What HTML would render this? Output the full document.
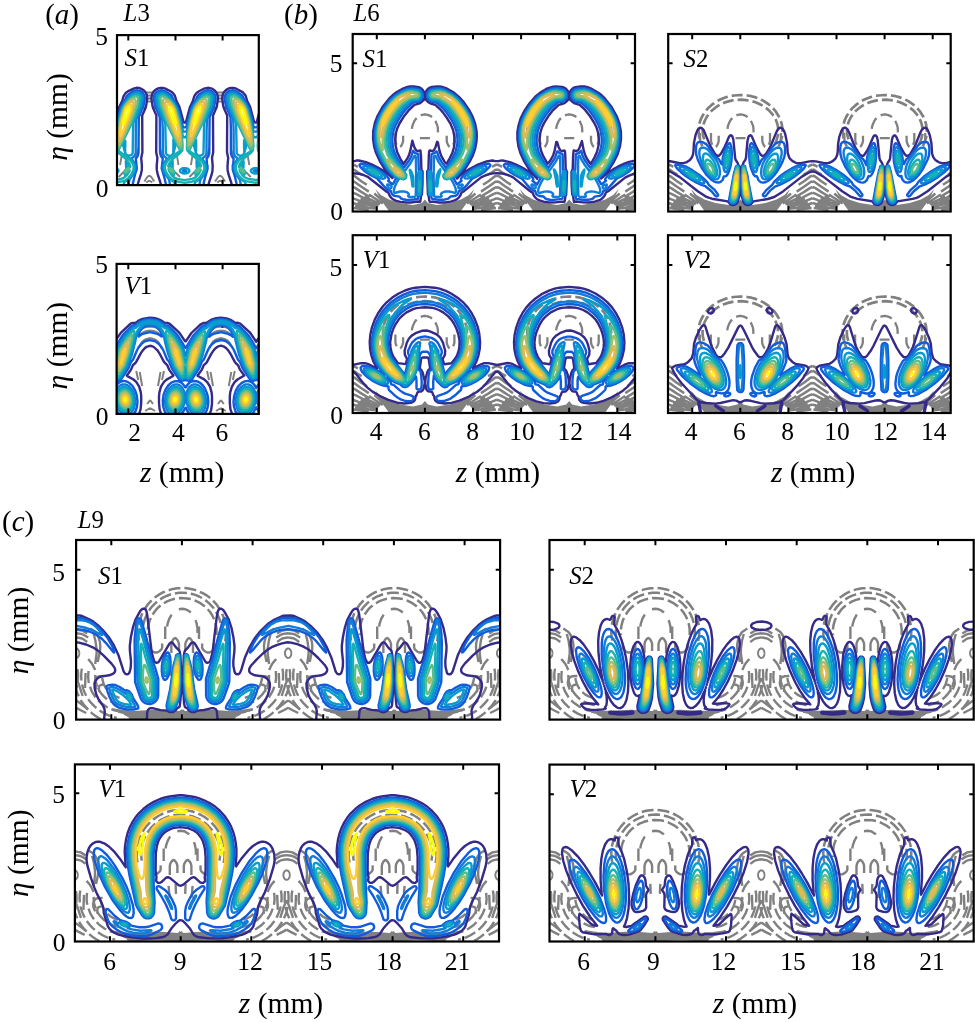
<!DOCTYPE html>
<html lang="en"><head><meta charset="utf-8"><title>Figure</title>
<style>html,body{margin:0;padding:0;background:#fff}svg{display:block}svg text{font-family:"Liberation Serif",serif}</style></head>
<body>
<svg width="975" height="1022" viewBox="0 0 975 1022" fill="#000">
<rect width="975" height="1022" fill="#fff"/>
<defs><clipPath id="cp_aS1"><rect x="117.0" y="35.1" width="141.8" height="150.0"/></clipPath><clipPath id="cp_aV1"><rect x="116.6" y="263.9" width="142.2" height="150.0"/></clipPath><clipPath id="cp_bS1"><rect x="352.7" y="34.0" width="282.3" height="177.5"/></clipPath><clipPath id="cp_bS2"><rect x="668.2" y="34.0" width="282.5" height="177.5"/></clipPath><clipPath id="cp_bV1"><rect x="352.7" y="235.2" width="282.3" height="177.8"/></clipPath><clipPath id="cp_bV2"><rect x="668.0" y="235.2" width="282.7" height="177.8"/></clipPath><clipPath id="cp_cS1"><rect x="76.1" y="540.0" width="424.0" height="179.6"/></clipPath><clipPath id="cp_cS2"><rect x="549.5" y="540.0" width="424.2" height="179.6"/></clipPath><clipPath id="cp_cV1"><rect x="74.9" y="764.4" width="424.1" height="177.1"/></clipPath><clipPath id="cp_cV2"><rect x="549.5" y="764.6" width="424.2" height="176.9"/></clipPath></defs>
<g clip-path="url(#cp_aS1)" fill="none" stroke-linejoin="round">
<path d="M152.9 92.5l-7.2 0M145.7 92.5l7.2 0M223.7 92.5l-7.2 0M216.5 92.5l7.2 0M152.9 95.5l-7.2 0M145.7 95.5l7.2 0M223.7 95.5l-7.2 0M216.5 95.5l7.2 0M152.9 98.5l-7.2 0M145.7 98.5l7.2 0M223.7 98.5l-7.2 0M216.5 98.5l7.2 0M152.9 101.5l-7.2 0M145.7 101.5l7.2 0M223.7 101.5l-7.2 0M216.5 101.5l7.2 0M146.3 107.5l-4 1M152.3 107.5l4 1M217.1 107.5l-4 1M223.1 107.5l4 1M149.3 175.5l-2 1.5-3 4.5M149.3 175.5l2 1.5 3 4.5M220.1 175.5l-2 1.5-3 4.5M220.1 175.5l2 1.5 3 4.5M149.3 180.5l-3 2M149.3 180.5l3 2M220.1 180.5l-3 2M220.1 180.5l3 2M121.6 156l-1.5 9M177 156l1.5 9M192.4 156l-1.5 9M247.8 156l1.5 9M129.6 163l-3.5 8M169 163l3.5 8M200.4 163l-3.5 8M239.8 163l3.5 8M123.6 172l-5 5M175 172l5 5M194.4 172l-5 5M245.8 172l5 5M265.2 172l-5 5M138.6 148l-3 10M160 148l3 10M209.4 148l-3 10M230.8 148l3 10M125.6 150l-2 8M173 150l2 8M196.4 150l-2 8M243.8 150l2 8" stroke="#808080" stroke-width="1.9"/><path d="M111 115.7l1.6 6.5 2.4 0.3 4.3-15.8 2.9-5.6 1.3-4.8 1.9-3 2.4-1.9 6.4-3.1 2.4-0.5 2.4 0.2 2.4 0.8 2.4 1.6 1.7 1.9 1.2 2.4 0.5 4-1.1 7.2-1 3.2-2.9 6.4 0.2 36.8-1.2 5.6 0.7 8-0.1 4-1 4.8-1.8 5.3-3.3 11.5M162.8 191.5l-3-10.9-2-5.9-1-4.8-0.1-4 0.7-8-1.2-5.6 0.2-36.8-3.2-7.2-0.7-2.4-1.2-8 0.9-4 1.5-2.4 2.1-1.9 2.4-1.2 2.4-0.5 2.4 0 2.4 0.7 5.6 2.9 1.6 1.2 2.2 2.8 1.7 5.6 2.9 5.6 4.1 15.2 0.3 0.6 1.6 0 0.8-1.2 3.6-13.8 3.1-6.4 1.1-4 1.1-2.4 1.5-1.8 2.4-1.7 4.8-2.5 4-0.9 4 0.8 3.2 2.1 2.2 3.2 0.9 4-1.3 8.8-3.8 8.8 0.2 36.8-1.2 5.6 0.7 8-0.2 4.8-0.9 4-2.2 6.6-2.8 10.2M233.6 191.5l-2.6-9.6-2.6-8-0.8-4-0.1-4 0.7-8-1.2-5.6 0.2-36.8-3.2-7.2-0.8-2.4-1-7.2 0.5-4 1.2-2.4 2.3-2.4 2.4-1.4 2.4-0.6 2.4 0 2.4 0.6 7.2 3.9 2.6 3.1 1.6 5.6 2.9 5.6 4.1 15.5 0.8 0.3 1.6 0 4.3-15.8 2.9-5.6 1.6-5.5" stroke="#352a87" stroke-width="2.4"/>
<path d="M111 122l0.8 4.2 0.8 1.2 3.2-0.2 1.3-6.9 3.5-12.8 2.1-4 2.6-4 1.3-3.2 1.4-1.6 5.4-3.6 2.4-0.7 1.6-0.1 2.4 0.5 1.6 0.8 1.6 1.5 1.4 2.4 0.4 3.2-1.3 7.2-4.7 11.2-0.3 36-0.9 3.2-1.8 2.4 1 9.6-0.4 2.4-0.5 0.8-1.7 6.2-3.1 13.8M167.5 191.5l-3-13.6-2.8-9.6 1.1-9.6-2.1-3.2-0.7-3.2-0.2-35.2-4.7-11.2-1.3-7.2 0.2-2.4 0.5-1.6 1.3-1.9 1.6-1.3 1.6-0.8 2.4-0.4 1.6 0.1 2.4 0.9 5.6 3.7 1 1.3 1.3 3.2 2.6 4 2.1 4 3.1 11.2 1.9 8.7 3.2 0 5.2-19.9 1.6-3.2 3.1-4.8 1.3-3.2 1.6-1.8 4.8-3.1 2.4-0.9 1.6-0.2 3.2 0.6 2.4 1.7 1.8 2.9 0.4 3.2-1.5 8-4.5 10.4-0.3 36-0.9 3.2-1.8 2.4 0.4 5.6 0.5 1.6 0 3.2-2.4 8-3.2 14.4M238.3 191.5l-3.3-14.7-2.2-6.9-0.1-4 0.6-2.4 0.3-4.8-1.8-2.4-0.9-3.2 0-24-0.4-12-4.6-11.2-1.3-7.2 0.4-3.2 1.2-2.2 1.6-1.6 2.4-1.1 2.4-0.3 1.6 0.2 2.4 1 5.6 4 1 1.6 0.9 2.4 2.6 4 2.1 4 3.3 12 1.3 6.7 0.8 1.2 3.2-0.2 1.3-6.9 3.2-12 1.4-3.2 2.1-3.3" stroke="#0f5cdd" stroke-width="2.4"/>
<path d="M111 126.9l0.8 4.3 0.8 0.4 3.2 0 2.1-10.5 3.8-13.6 2.7-4.8 4.9-6.4 3.3-2.9 1.6-0.9 2.4-0.6 2.4 0.4 1.6 0.8 1.6 1.6 0.7 1.6 0.2 2.4-1.4 7.2-5.5 13.6-0.4 10.4-0.1 23.2-0.5 1.6-1 1.6-2.4 1.9-0.2 0.5 3.1 4.8 0.8 2.4 0.2 2.4-0.6 2.4-1.5 3.2-4.1 5.6-2.1 12M113.4 169.9l-1.1 0.8 0.5 0.8 1.4 0.2 0.9-0.2 0.4-0.8-0.5-0.6-1.6-0.2zM184.6 169.8l-0.8 0.2-0.8 0.7 0.6 0.8 1 0.2 1.2-0.2 0.5-0.8-0.9-0.8-0.8-0.1zM255 169.9l-1.1 0.8 0.5 0.8 1.4 0.2 0.9-0.2 0.4-0.8-0.5-0.6-1.6-0.2zM171.2 191.5l-2.1-12-4.1-5.6-1.5-3.2-0.6-2.4 0.7-4 1.2-2.4 2.3-3.2-2.7-2.4-1-1.6-0.5-1.6-0.1-23.2-0.5-10.4-5.4-13.6-1.4-7.2 0.3-2.7 0.8-1.5 1.6-1.6 1.6-0.7 2.4-0.2 2.4 0.6 1.6 0.9 3.8 3.6 4.8 6.4 2.4 4.8 3.1 11.2 2.7 12.1 3.2 0 0.8-1.4 1.7-9.1 2.5-9.6 1-3.2 1.5-3.2 5.7-8 2.8-2.8 2.4-1.6 3.2-0.8 2.4 0.5 2.1 1.5 1.4 2.4 0.2 2.4-1.6 8-3.7 8.4-1.6 4.4-0.4 10.4-0.1 23.2-0.5 1.6-1 1.6-2.8 2.4 3.3 4.8 0.8 2.4 0.2 2.4-0.6 2.4-1.5 3.2-4 5.6-2.2 12M242 191.5l-2.2-12-2.5-3.2-1.9-3.2-1.7-4.8 0.2-2.4 0.8-2.4 3.1-4.8-2.8-2.6-1.3-3-0.1-23.2-0.4-10.4-5.5-13.6-1.4-7.2 0.2-2.4 0.7-1.6 1.6-1.6 1.5-0.8 2.3-0.4 2.4 0.5 1.6 0.8 4.2 3.9 4.8 6.4 2.4 4.8 3.5 12.8 1.9 10.1 0.8 0.4 3.2 0 2.1-10.5 2.5-9.6 1.3-4 2.1-3.9" stroke="#127dd8" stroke-width="2.4"/>
<path d="M111 130.8l0.8 5.9 0.8 0.5 3.2 0.1 2.8-16.2 3.6-12.8 2.1-4 3.5-4.7 4.8-4.8 3.2-1.3 2.4 0 1.6 0.8 1.1 1.2 0.7 1.6 0 1.6-1.4 7.2-6.8 16.8-0.4 8.8-0.3 21.6-0.9 1.5-0.8 0.6-2.4 0.5-0.5 0.6 3.5 4 2.1 3.2 0.9 2.4 0 3.2-1.5 4-2.8 4-3.3 3.3-2.8 1.5-1.2 9.6M173.4 139.4l0 13.8 2.4-8.9-1.6-3.5-0.7-0.5-0.1-0.9zM195.8 139.8l-2.2 4.5 2.2 8.1 0.3-3.3 0-8.8-0.3-0.5zM244.6 140l-0.5 0.3 0 7.2 0.5 4.2 1.9-6.6-0.2-1.6-1.7-3.5zM124.6 140.4l-1.7 3.9 1.7 6.6 0.5-1 0.2-4 0-4.8-0.7-0.7zM265.4 142l-0.9 2.3 0.9 3.8M125.4 152.6l0 1.3 0-1.3zM196.6 153.8l0 0.6 0-0.6zM243.8 153.5l0 0.6 0.3-0.2-0.3-0.4zM126.2 154.4l-0.1 0.3 0.4 0-0.3-0.3zM172.6 154.2l-0.4 0.5 0.5 0-0.1-0.5zM127 155.1l0 0.5 0.7-0.1-0.7-0.4zM198.2 155.4l0.4 0.1-0.4-0.1zM242.2 155.2l-0.6 0.3 0.6 0.1 0-0.4zM196.6 160.3l0 0.6 0-0.6zM126.2 161l-0.4 0.1 0.4 6.5 3-1.7-0.6-1.6-2.4-3.3zM172.6 161l-1.6 1.7-1.7 3.2 2.5 1.7 0.8-0.1 0-6.5zM243 161l-0.3 0.9-1.4 1.6-1.1 2.4 2.8 1.7 0.4-0.1 0.2-5.6-0.1-0.8-0.5-0.1zM197.4 161.5l-0.8 0.4 0.2 5.6 0.6 0.1 2.6-1.7-1-2.3-1.6-2.1zM172.6 167.5l0 0.8 0-0.8zM183 168.2l-1.6 0.7-1.2 1-0.1 1.6 1.3 1.2 2.4 0.8 2.4-0.1 1.6-0.5 1.5-1.4-0.1-1.6-1.4-1.2-2.4-0.6-2.4 0.1zM254.2 168.2l-2.4 0.9-1 1.6 0.8 1.6 1 0.6 1.6 0.6 2.4 0 2.4-0.9 1.1-1.1 0.1-0.8-0.2-0.8-1-0.9-2.4-0.9-2.4 0.1zM111 172.9l2.4 0.7 2.4-0.3 2-1 0.8-1.6-1-1.6-1.8-0.8-2.4-0.3-2.4 0.6M197.4 173.8l0 0.3 0-0.3zM243 173.8l-0.2 0.1 0.2 0.3 0.2-0.3-0.2-0.1zM125.4 174.6l-0.4 0.1 0 0.8 0.5 0 0.2-0.8-0.3-0.1zM172.6 174.4l0 0.5 1.1 0.6-0.1-0.8-1-0.3zM196.6 174.5l-0.8 0.2 0.8 0.2 0-0.4zM243.8 174.6l0 0.4 0.6-0.3-0.6-0.1zM195.8 174.9l0 0.6 0-0.6zM175.6 191.5l-1.2-9.6-1-0.3-1.6-1.1-3.6-3.4-2.7-4-1.5-4 0-3.2 0.9-2.4 1.4-2.4 4.2-4.8-0.3-0.6-1.6 0-1.6-0.9-1.1-1.7-0.6-29.6-2.2-6.4-4.9-12-1.2-6.4 0.3-2.4 1.1-1.6 2.2-1.2 1.6-0.1 2.4 0.6 3.2 2.4 3.6 3.9 2.4 3.2 2.6 4.8 2.3 8 1.3 4.8 3 16.1 3.2 0 0.8-2.6 2.4-13.5 2.8-10.4 1.5-4 3.7-5.7 4.8-5.2 2.4-1.7 3.2-0.7 1.6 0.3 1.7 1 1 1.6 0.3 2.4-1.4 7.2-4.7 11.2-2.2 6.4-0.6 29.6-1.3 1.9-1.6 0.7-1.6 0-0.3 0.6 3.1 3.2 2.3 3.2 1.3 3.2 0.2 2.4-1.3 4-2.5 4-3.6 3.7-2.4 1.7-0.8 0.2-1.2 9.6M246.4 191.5l-1.2-9.6-3-1.7-3.2-3.2-2.7-3.9-1.5-4 0-3.2 1-2.7 2-2.9 3.7-4-0.1-0.5-1.6-0.1-1.6-0.6-1.5-2-0.6-29.6-2.2-6.4-4.7-11.2-1.4-7.2 0-1.6 0.8-1.8 1.7-1.4 2.3-0.5 2.4 0.5 3.2 2.1 4 4.3 2.9 4 2.1 4 1.7 5.6 2.3 9.6 2.2 13.2 0.8 0.5 3.2 0.1 2.8-16.2 3.6-12.8 1.6-3.2" stroke="#079ccf" stroke-width="2.4"/>
<path d="M159.7 95.5l1.7-0.7 1.6 0 3.2 1.5 4.8 4.7 3.5 4.9 1.5 3.2 3.3 12 2.4 12.8 0.8 10.4 0 4-0.4 2.4-1.4 0.8 0.1 0.8-1 0.9-6.9 5.5-3.1 4-1.6 3.2 0.4 0.9 1.6 0.3 2.4 2 1.7 2.4 0.2 1.6-0.3 0.5-1.6-0.3-1.6-1.2-1.6-1.8-0.5 0.4 2.9 4.7 2.4 2.2 3.2 1.3 7.2 1.2 7.2-1.2 2.4-0.8 1.7-1 3.3-4 1-2.4-0.4-0.1-2.4 2.3-1.6 0.7-1-0.5 0.4-1.6 2.2-3 1.6-1.3 1.7-0.5 0.5-0.8-1.1-2.4-2.9-4-3-2.9-4.8-3.6-0.7-0.7 0.2-0.8-0.3-0.3-1.2-0.5-0.5-2.4 0.3-9.6 0.9-7.2 2-10.4 3.1-11.2 1.3-3.2 2.1-3.4 2.4-3 4.2-4 2.2-1.2 2.4-0.3 1.8 0.7 1.2 1.6 0 1.6-1.1 6.4-6.9 17.6-10.4 21.6-3.5 6.4 9.4 6.4 3.9 4.5 1.6 2.7 0.5 1.6 0.1 3.2-2.2 4.9-3.2 4.1-3.2 2.4-4 1.2-7.2 1.2-9.5-1.8-2.5-1.2-3.2-2.8-2.4-3.4-1.5-3-0.6-2.4 0-1.6 0.7-2.4 1.4-2.5 2.4-2.9 2.7-2.6 8.3-5.6-2.2-4-10.5-21.6-7.7-19.2-1.5-8 0.5-1.6 0.7-0.8zM111 135l0.8 10.9-0.4 4-0.4 1.1M265.4 139.8l-5.6 10.9 5.6 3.8M265.4 157l-4.8-3.7-1.1-1 0-0.8-1.4-0.8-0.4-4.8 0.8-12 1.9-10.4 3.3-12.8 1.7-4.2M168.6 168.9l0 0.7 0-0.7zM200.6 169.6l0 0.7 0-0.7zM111 179.6l4 0.4 5.6-1 3.2-1.1 3.2-2.8 2.7-4.4-0.3-0.5-2.4 2.4-1.6 0.9-0.8 0.1-0.5-0.5 0.3-1.6 1.6-2.4 2.6-2.1 0.8-0.2 0.8 0.2 0.1-1.1-1.5-3.2-3.1-4-7.5-6.1-0.3-1.1-1.4-0.8-0.4-4.8 0.8-12 3-15.2 3-10.4 1.7-3.2 4-5.2 3.8-3.6 1.8-1 2.4-0.5 1.6 0.3 1.4 1.2 0.5 1.6-1.2 7.2-6.9 17.6-10.4 21.6-3.4 6.4 8.8 6.1 4 4.2 1.6 2.5 0.8 1.9 0.3 2.1-0.3 2.4-1.6 3.5-1.6 2.4-2.6 2.9-2.2 1.6-3.2 1.1-8 1.5-3.2-0.6M265.4 181l-9.6 1.9-10-1.8-2.8-1.4-2-1.8-2.1-2.4-2.3-4.1-0.8-2.3-0.1-2.4 0.7-2.4 1.8-3 4-4.4 9.1-6.2-2-3.2-11.9-24.8-6.9-17.6-1.2-7.2 0.9-2.1 1.6-0.9 1.6-0.1 2.4 0.7 1.6 1.1 3.8 3.7 3.6 4.8 1.7 3.2 3 10.4 3 15.2 0.9 12-0.6 4.8-1.4 0.8 0 0.8-0.4 0.5-4.8 3.6-3.2 3.1-2.9 4-0.8 1.6-0.3 2.2 0.8-0.6 1.6 0.7 1.2 0.9 2 2.4 0.8 2.4-0.8 0.5-1.6-0.6-2.4-2.1-0.7-0.2-0.1-1-0.3 0.2 0.6 1.6 2 3.2 2.5 2.6 1.6 0.9 2.4 0.7 7.2 1.1 6.4-1 3.2-1.1" stroke="#15b1b4" stroke-width="2.4"/>
<path d="M133.4 97.1l2.4-0.7 1.9 0.7 0.3 0.8 0.1 1.6-0.8 5.6-7 18.4-10.5 22.5-1.6 2.4-0.8 0.2-0.5-1.9-0.1-2.4 0.7-10.4 2.4-12.8 3.4-12 1.6-3.2 2.9-4 2.4-2.4 3.2-2.4zM160.9 97.1l1.3-0.6 1.6 0.1 3.2 1.8 4 3.8 2.4 3.2 1.6 2.9 3.7 12.8 2 10.4 1 11.2 0 4-0.3 1.6-0.8 0.3-1.6-2.2-10.7-22.9-7-18.4-0.8-5.6 0-1.6 0.4-0.8zM204.2 97.1l2.8-0.7 1.6 0.9 0.2 3-0.7 4.8-7 18.4-10.1 21.7-1.6 2.8-0.8 0.7-0.8-1.1-0.2-2.5 0.7-11.2 2.4-12.8 3.1-11.2 1.4-3.2 3-4.3 2.4-2.5 3.6-2.8zM231.7 97.1l0.9-0.5 1.6-0.1 1.6 0.5 2.4 1.7 2.4 2.1 2.4 2.9 2 3 1.1 2.4 3.4 12 2.4 12.8 0.7 11.2-0.1 1.6-0.7 2-0.8-0.4-1.6-2.7-11.2-24.5-6.3-16.8-0.6-4.8 0.4-2.4zM265.4 137.5l-4 8.5-1.6 2.4-0.8 0.2-0.1-0.3-0.5-4 0.7-10.4 1.4-8 1.9-8 3-10M127.9 168.3l0.7-0.3 0.5 0.3-0.4 1.6-1.7 1.9-1.6 0.6-0.2-0.9 0.4-0.8 2.3-2.4zM169.4 168.3l0.8-0.2 1.6 1 1.6 2.4-0.2 0.8-0.6 0.1-1.6-1.2-1.1-1.3-0.5-1.6zM198.7 168.3l1.3 0-0.5 1.6-1.3 1.6-1.9 0.8-0.2-0.8 0.3-0.8 2.3-2.4zM240.3 168.3l0.3-0.3 0.8 0.2 1.6 1.4 1.1 1.9-0.1 0.8-1-0.1-1.6-1.4-1.1-1.7 0-0.8z" stroke="#59bd8c" stroke-width="2.4"/>
<path d="M132.1 99.5l2.1-0.6 1 0.6 0.6 2.4-0.6 4-5.7 16-5.9 13.6-3.8 8.1-0.8 1.3-0.8 0.4-0.5-3.4 0.4-8 2.4-12.8 3.3-11.6 1.3-2.8 1.9-2.7 2.4-2.6 2.7-1.9zM163.4 99.5l1.2-0.6 0.8 0.2 3.2 1.8 4 4.4 2.1 3.8 3.2 11.2 2 10.4 0.9 7.2 0.1 4.8-0.3 2.4-0.8 0-1.6-2.6-9.1-20.6-6.1-17.6-0.1-3.2 0.5-1.6zM202.9 99.5l1.7-0.6 0.8 0.1 0.8 0.8 0.4 2.1-0.4 3.2-6.3 17.6-8.1 18.5-2.4 4.1-0.8-0.8-0.1-1.8 0.4-8.8 2.1-11.2 2.5-9.6 1.2-4 1.9-3.5 3.2-3.8 3.1-2.3zM234.2 99.5l0.8-0.5 1.6 0.2 3.2 2 3.4 3.9 2.3 4 3.2 11.2 2.6 13.6 0.5 8.8-0.2 1.6-0.6 1.1-1.6-2.2-3.6-7.7-5.5-12.8-3.9-10.4-2.6-8-0.1-3.2 0.5-1.6zM265.4 135.1l-4.8 9.8-0.8 0.4-0.1-0.2-0.4-3.2 0.4-8 1-5.6 1.6-8 3.1-10.8" stroke="#a5be6b" stroke-width="2.4"/>
<path d="M130.6 101.9l1.2-0.4 0.8 0.1 0.8 0.9 0.2 1-0.1 1.6-1.7 6.4-8.8 22.8-2.4 5-0.8 1.2-0.8 0.1-0.3-3.5 0.3-4 2-11.2 2.8-10.2 0.8-2.6 1.6-2.8 2.4-2.8 2-1.6zM165.6 101.9l1.4-0.4 2.4 1.4 2.4 2.6 2.2 3.6 3.6 12.8 2.2 12 0 5.8-0.2 0.6-0.6 0.4-3.6-6.8-8.6-22.4-1.7-6.4-0.1-1.6 0.6-1.6zM201.4 101.9l1.6-0.4 0.8 0.3 0.6 1.7-0.3 2.4-1.5 5.6-8.6 22.4-2.2 4.6-1.6 2.3-0.7-2.9 0.3-4.8 2-11.2 2.4-8.8 1.2-4 1.2-2.2 2.4-3 2.4-2zM236.4 101.9l1-0.4 0.8 0.1 1.6 1 3.2 3.4 1.8 3.1 3.6 12.8 1.7 8.8 0.6 6.4-0.5 3.8-0.8-0.6-0.8-1.4-2.4-5-8.6-22.4-1.7-6.4 0-2.4 0.5-0.8zM265.4 132.2l-2.4 5.5-1.6 2.8-0.8 0.1-0.3-3.5 0.3-4 2-11.2 2.8-10.2" stroke="#e1b952" stroke-width="2.4"/>
<path d="M129.9 104.3l1.1 0.1 0.4 1.5-0.9 5.6-7.5 19.5-1.6 3.6-0.8 0.9-0.6-2.4 0.8-5.6 1-5.6 2.8-10.4 0.8-2.4 1.6-2.5 1.6-1.6 1.3-0.7zM167.8 104.3l0.8-0.1 0.8 0.4 1.6 1.3 2.4 3.7 3.4 12.3 1.8 11.2-0.4 2.4-0.8-0.6-1.6-3.4-7.7-20-0.9-4.8 0.1-1.6 0.5-0.8zM200.7 104.3l0.9 0 0.6 1.6-0.9 5.6-7.7 20-1.8 3.6-0.8 0-0.1-2.8 1.6-10.4 3.3-11.7 0.8-1.9 1.6-2.2 2.5-1.8zM238.6 104.3l1.2 0.1 2.4 2 1.6 2.3 0.8 2.1 3.1 11.1 0.9 5.6 0.8 5.6-0.3 1.6-0.5 0.6-0.8-1.2-4.1-9.8-4.8-12.8-0.9-5.6 0.2-1.2 0.4-0.4zM265.4 128.8l-2.5 5.9-0.7 0.8-0.6-2.4 1.8-11.2 2-7.5" stroke="#fcce2e" stroke-width="2.4"/>
<path d="M128.1 107.5l0.9 0 0.4 0.7-0.1 2.5-3.4 8-1.1 4-1.8 1.9 0-3.3 3.1-11.4 0.9-1.5 1.1-0.9zM169.6 107.5l0.6-0.1 0.8 0.4 1.5 2.1 3.2 12 0.1 2.4-0.8-0.1-1.1-1.5-1.3-4-3.3-8-0.1-2.4 0.4-0.8zM198.9 107.5l1 0 0.3 1.6-0.1 1.6-2.5 5.6-2.1 6.4-1.3 1.8-0.6-1 0.3-2.4 2.7-10.2 0.8-1.9 1.5-1.5zM240.4 107.5l1 0 1.9 2.4 3 11.2 0.3 2.4-0.4 1.1-1.6-1.9-1.2-4-3.3-8-0.1-1.6 0.4-1.6zM265.4 124l-0.8 0.6-0.2-1.1 0.2-2.2 0.8-2.9" stroke="#f9fb0e" stroke-width="2.4"/>
</g>
<g clip-path="url(#cp_aV1)" fill="none" stroke-linejoin="round">
<path d="M150.1 326.5l-3.3 0.4-3 0.8-2.6 1.3M150.1 326.5l3.3 0.4 3 0.8 2.6 1.3M220.9 326.5l-3.3 0.4-3 0.8-2.6 1.3M220.9 326.5l3.3 0.4 3 0.8 2.6 1.3M150.1 330.5l-4.8 0.8-2.2 1-3.9 3.2M150.1 330.5l4.8 0.8 2.2 1 3.9 3.2M220.9 330.5l-4.8 0.8-2.2 1-3.9 3.2M220.9 330.5l4.8 0.8 2.2 1 3.9 3.2M150.1 338l-4.2 1.2-2 1.1-1.7 1.5-1.4 1.8-2.1 4.4M150.1 338l4.2 1.2 2 1.1 1.7 1.5 1.4 1.8 2.1 4.4M220.9 338l-4.2 1.2-2 1.1-1.7 1.5-1.4 1.8-2.1 4.4M220.9 338l4.2 1.2 2 1.1 1.7 1.5 1.4 1.8 2.1 4.4M150.1 400l-2.9 4M150.1 400l2.9 4M220.9 400l-2.9 4M220.9 400l2.9 4M150.1 408l-4.9 3M150.1 408l4.9 3M220.9 408l-4.9 3M220.9 408l4.9 3M139.7 372l2.5 14M160.5 372l-2.5 14M210.5 372l2.5 14M231.3 372l-2.5 14M136.2 371l2 9M164 371l-2 9M207 371l2 9M234.8 371l-2 9" stroke="#808080" stroke-width="2.0"/><path d="M222.6 326.7l-0.3 0 0.3 0zM110.6 335.6l4 6.1 6.4-9.1 9.6-8.9 2.4-0.8 2.4 0 3.2-2.2 4-1.8 7.2-1.2 5.6 0.6 2.4 0.7 3.2 1.4 3.2 2.2 3.2 0.3 2.4 1 9.2 8.4 6 8.8 0.8 0.3 5.6-8.4 9.2-8.7 2.8-1.3 3.2-0.3 4.8-3 4.8-1.5 4.8-0.5 5.6 0.7 4 1.4 4.8 3.1 2.4-0.1 2.4 0.8 9.6 8.7 6.4 9.4 5.9-8.6 2.9-3M118.8 420.3l-4.2-4.5-4 4.5M165.2 420.3l-1.8-2.1-1.6-2.7-1.3-3.2-0.9-3.2-0.6-6.4 0-6.4 0.4-4 1.6-5.6 3-4.8 2.6-2.3 6.4-3.6 0.4-0.5-4.1-5.6-2.1-4.8-3.2-3.2-4.6-8.6-1.7-2.6-3.9-3.7-1.6-0.8-2.4-0.4-3.2 1-1.9 1.5-2.1 2.3-1.7 2.5-4.7 8.8-1.3 1.6-1.9 1.5-2.1 4.9-4.1 5.6 0.6 0.6 6.1 3.4 2.7 2.4 3 4.8 1.6 5.6 0.4 4 0 6.4-0.6 6.4-0.9 3.2-1.3 3.2-1.4 2.4-2 2.4M189.6 420.3l-3.8-4.2-0.8 0.3-3.6 3.9M236 420.3l-2-2.4-1.4-2.4-2.2-6.4-0.6-6.4 0-6.4 0.4-4 1.7-5.6 2.7-4.5 2.9-2.7 6.8-4-4.2-5.6-2.1-4.8-1.9-1.6-1.3-1.6-4.2-7.9-2.4-3.6-1.9-2.1-2.1-1.6-3.2-1-3.4 1-2.1 1.6-1.7 1.8-2.4 3.5-4.4 8.3-1.2 1.5-2 1.7-2.1 4.8-4.1 5.6 0.2 0.5 6.4 3.4 3.2 3 2.6 4.3 1.6 5.6 0.4 4 0 7.2-0.8 6.4-2 5.6-1.4 2.4-2 2.4M260.4 420.3l-4.2-4.5-4 4.5" stroke="#352a87" stroke-width="2.4"/>
<path d="M145.8 325.9l-2.7 1.6-2.9 3.3-2 3.9 0.4 1.8 2.4-1.8 1.8-0.8 7-1.7 7.6 1.7 2 1 2.4 1.7 0.2-1.9-1.6-3.2-1.8-2.4-2.5-2.4-1.6-0.8-3.9-0.7-4.8 0.7zM217 325.8l-2.4 1.2-3.2 3.3-2.4 4.4 0 2.1 2.4-1.8 2.2-1.1 7.4-1.7 7.2 1.7 2.4 1.2 2.4 1.7-0.5-2.9-1.3-2.4-2.2-2.9-2.4-2.1-1.6-0.7-4-0.7-4 0.7zM110.6 341.2l4 7.1 8-12.9 8.8-9.2 1.6-0.8 2.4-0.4 3.2-2.6 3.2-1.8 2.4-0.8 5.6-0.8 7.2 1.1 4 1.9 4 3.2 2.4 0.3 1.6 0.9 8.1 8.3 4.2 6.4 3.7 6.3 0.8 0.5 7.5-12.4 8.5-9 1.6-1 2.4-0.2 4.8-3.6 3.2-1.5 2.4-0.6 4.8-0.6 6.4 1 4 1.8 4.8 3.5 1.6 0.1 1.6 0.7 8.8 9 4.4 6.8 3.6 6.4 5.3-8.8 3.5-5.1M265 375.9l-2.4 3.5-1.6 1-2.4 0.3-2.4-1-1.6 0.8-1.6 0.2-2.4-0.8-1.2-1.2-6.8-10.4-2.4-6-2.3-2.8-3.7-8.8-2-3.7-3.2-3.5-2.4-1.9-1.6-0.7-4-0.9-5.6 1.5-3.2 2.5-2.4 2.8-1.8 3.1-4.2 9.6-2 2.3-2.6 6.5-7.5 11.2-1.1 0.7-1.6 0.5-1.6-0.1-1.6-0.7-2.4 0.7-2.4-0.1-2.4-1.8-6.8-10.4-2.8-6.9-1.9-1.9-4-9.6-2.1-3.4-2.4-2.7-3.2-2.4-5.6-1.3-4 0.9-1.6 0.8-2.4 1.8-3.2 3.7-1.8 3.4-3.7 8.8-2.1 2.4-2.6 6.4-7.4 11.1-2.4 1.2-1.6 0.1-2.4-1-1.6 0.8-2.4 0.1M175.2 381.1l3.4 0.2 2.4 1.1 2.2 1.9 1.8 2.7 0.8 0.4 1.4-2.3 1.8-2 2.4-1.5 2.4-0.6 2.4 0.2 2.4 0.8 2.4 1.6 2.2 2.3 2 3.2 1.7 4 1 4 0.4 4.8-0.4 4-1 4-1.9 3.7-2.4 2.6-1.6 1-2.4 0.7-2.4 0-2.4-0.7-2.4-1.5-2.4-2.4-1.8-2.6-1.4-2.9-0.8 0.5-1.7 3.2-2.3 2.9-2.4 2-2.4 1.2-2.4 0.4-2.4-0.3-2.4-1.1-2.4-2.2-2.2-3.7-1.3-4.8-0.3-5.6 0.8-5.6 1.8-4.8 2.8-4.4 3.2-2.9 3.8-1.5zM110.6 382.7l2.4 2.4 1.6 2.8 3.2-4.4 3.2-2 2.4-0.5 1.6 0.1 1.6 0.4 2.4 1.2 3.4 3.2 2.8 4.8 1.6 4.8 0.7 6.4-0.7 5.6-1.4 4-2.4 3.6-3.2 2.3-1.6 0.5-2.4 0.1-2.4-0.6-1.6-0.9-3.8-3.4-3.4-5.8-1.6 3.4-2.4 3.3M265 417.4l-2.4-1.4-2.4-2.2-1.7-2.3-2.3-4.2-2.6 5-2.1 2.4-1.7 1.4-2.4 1.3-2.4 0.6-2.4-0.2-1.6-0.5-3.2-2.4-2.2-3.4-1.6-4.8-0.5-4.8 0.6-5.6 1.7-5.6 2.8-4.8 3.2-3 2.4-1.3 1.6-0.5 1.6-0.1 2.4 0.4 1.6 0.7 1.8 1.4 1.4 1.6 1.6 2.8 1.8-2.8 2.2-2.3 2.4-1.3 2.4-0.5" stroke="#0f5cdd" stroke-width="2.4"/>
<path d="M110.6 344.9l2.2 4.2 1.8 7.6 2-7.6 1.6-3.2 6-9.6 5-5.6 3.2-3.2 3-1 3.5-3 2.6-1.6 2.7-1.1 5.6-0.9 5.6 0.8 2.4 0.8 3.5 2 3.7 3.2 2.4 0.5 0.8 0.6 7.1 7.7 2.8 4 5.2 8.8 1.7 6.4 0.8 1 1.9-7.4 4.7-8 3.9-5.6 6.9-7.2 1-0.5 1.6-0.1 4.8-4 4.8-2.1 5.6-0.9 6.4 1.1 4 2 4.8 3.9 1.6 0.2 0.8 0.4 8 8.5 4.3 6.7 3.5 6.4 1.8 7.6 2.3-8.4 6.5-10.8M265 373.1l-3 4.8-1.8 1.3-2.4-0.3-1.6-1.4-0.8 1-1.6 0.7-1.6-0.1-1.6-1.2-6.9-11.2-4.6-12-3.4-13.6-0.9-4.8-2.3-4.8-2.3-3.2-2.8-2.5-1.6-0.8-4.8-0.9-4 0.6-2.4 1-2.4 2-2.9 3.8-2.3 4.8-0.9 4.8-3.4 13.6-4.6 12-6.9 11.2-0.9 0.8-1.3 0.5-1.6-0.1-1.6-1.3-2.4 1.4-2.4-0.3-1.2-1-6.9-11.2-4.8-12.8-3.2-12.8-0.9-4.8-2.7-5.6-2.7-3.2-2.4-2-2.4-0.8-4-0.5-4 0.6-1.6 0.6-3.4 2.9-2.3 3.2-2.3 4.8-0.9 4.8-3.4 13.6-4.6 12-6.9 11.2-1 0.9-1.6 0.5-1.6-0.4-1.6-1.4-1.6 1.5-2.4 0.1M120.9 385.1l1.7-0.6 2.4-0.1 2.4 0.8 1.6 1.1 3.2 3.7 1.2 2.3 1.1 3.2 0.6 3.2 0.1 3.2-0.9 5.6-1 2.4-1.7 2.4-1.8 1.4-1.6 0.7-1.6 0.3-2.4-0.4-3.2-1.9-1.6-1.7-1.6-2.4-1.9-4.8-0.8-5.6 0.7-5.6 2-4.3 1.6-1.9 1.5-1zM173 385.1l2.4-0.7 2.4 0.1 1.6 0.7 2 1.5 1.7 2.4 1 2.4 1.1 6.4-1.1 6.4-1.3 3.2-1.4 2.4-2 2.3-1.6 1.2-1.6 0.8-2.4 0.5-3.2-0.9-1.6-1.1-1.6-2-1.8-4-0.6-4.8 0.5-5.6 1.7-4.8 2.6-3.9 3.2-2.5zM191.7 385.1l2.1-0.7 2.4 0.1 2.4 0.9 1.6 1.2 1.6 1.7 1.6 2.4 2.1 5.6 0.5 3.2 0 3.2-1.2 5.6-1.2 2.4-1.2 1.6-1.4 1.2-2.4 1-2.4 0.1-1.6-0.4-3.2-2.2-2.8-3.7-2.1-5.6-0.5-5.6 0.9-5.6 2-4 2.8-2.4zM243.9 385.1l1.9-0.7 2.4 0 2.4 1 1.6 1.3 1.6 2.2 1.1 2.6 0.9 5.6-0.1 3.2-0.6 3.2-1.1 3.2-1.3 2.4-1.8 2.4-1.9 1.7-1.6 0.9-2.4 0.6-3.2-0.7-1.6-1-1.6-1.7-1.9-3.8-0.9-5.6 0.5-5.6 1.7-4.8 2.7-4 3.2-2.4zM110.6 386.7l1.6 2.2 1.1 2.6 0.8 3.2 0.2 3.2-0.3 3.2-0.7 3.2-1.3 3.2-1.4 2.4M265 414l-3.2-2.4-2.8-4.1-1.7-4.8-0.6-4.8 0.7-5.6 1.8-4 2.6-2.8 1.6-0.8 1.6-0.3" stroke="#127dd8" stroke-width="2.4"/>
<path d="M149.5 321.1l6.1 0.8 3.6 1.6 5.8 4.8 1.6 0.1 0.8 0.6 6.1 6.5 3.9 5.6 4.6 8 1.2 4 1.8 8.8 0.8 1.1 1.8-9.1 1.4-4.8 7.2-12 7.3-8 1.5-0.8 0.8 0.2 4.8-4.2 2.6-1.6 2.2-0.8 5.6-0.9 5.4 0.9 2.6 1.1 3.2 2 3.2 3 0.8 0.4 0.8-0.1 0.8 0.4 4.4 4.4 4 4.8 6.6 11.2 1.4 4.8 1.9 9.6-0.5 10.4-0.6 3.2-0.9 0.8-1.1 0.2-1.4-1-6.4-10.4-4.8-12.8-4-16.8-3.4-7.2-2.4-2.9-3.2-2.6-1.6-0.6-4.8-0.8-4.8 0.7-2.4 1.1-2.4 2-2.6 3.1-3.4 7.2-4 16.8-4.4 12-6.8 11.2-0.9 0.8-1.1 0.2-0.8-0.4-0.8-1-0.8-10-0.8 3.7-0.4 5.9-0.3 0.8-0.9 0.8-1.6 0.1-1.6-1.7-6.2-10.4-4.4-12-4.3-17.6-3.2-6.4-1.9-2.4-3.2-2.8-2.4-1-4.8-0.7-4.8 0.8-1.6 0.7-3.2 2.7-2.4 3.1-3.2 6.8-4 16.8-4.4 12-6.8 11.3-0.9 0.7-1.6 0-1-0.8-0.3-0.8-0.8-12.8 3-13.6 2.1-4 5.5-8.8 7.6-8.3 0.8-0.5 1.6-0.2 3.3-3 3.9-2.4 2.2-0.8 4.7-0.8zM110.6 347.9l1 2 1 4 1.9 10.4-0.7 12-0.4 0.8-0.9 0.8-1.1 0.2-0.8-0.4M265 370.7l-4 6.5-1.6 0.9-1.6-0.7-0.6-1.1-0.9-12 3.1-14.4 5.6-9.8M121.6 387.5l1.8-0.6 1.6 0 1.6 0.5 1.6 0.9 1.6 1.6 1.6 2.3 1.8 4.9 0.4 4.8-1 4.8-2 3.4-1.6 1.3-1.6 0.6-1.6 0.1-1.6-0.3-2.9-1.9-2.4-3.2-1.5-4-0.6-4.8 0.7-4.8 1.9-3.7 2.2-1.9zM173.4 387.5l2-0.6 1.6 0 1.6 0.6 1.6 1.2 2.2 3.6 0.7 2.4 0.3 3.2-0.8 5.6-2.3 4.8-1.7 1.9-1.6 1.1-1.6 0.7-1.6 0.1-2.4-0.6-2.6-2.4-1.7-4-0.5-4 0.4-4 1.3-4 2.3-3.5 2.8-2.1zM192.4 387.5l2.2-0.6 1.6 0.1 3.2 1.6 2.9 3.7 1.5 4 0.6 4.8-0.7 4.8-1.9 3.7-1.6 1.5-1.6 0.8-1.6 0.3-1.6-0.3-1.6-0.7-1.6-1.2-2.5-3.3-1.5-4-0.6-4.8 0.7-4.8 1.5-3.2 2.6-2.4zM244.1 387.5l1.7-0.6 1.6 0 1.6 0.4 1.6 1 1.6 1.9 1 2.1 1 4.8-0.6 5.6-2 4.8-1.8 2.3-1.6 1.3-1.6 0.8-1.6 0.2-1.6-0.1-1.6-0.7-2.2-2.2-1.5-3.2-0.7-4 0.4-4.8 1.3-4 2.1-3.2 2.9-2.4zM110.6 390.2l1.5 3.7 0.5 4-0.6 4.8-1.4 3.7M265 411.4l-2.8-2.3-2.1-3.2-1.3-4-0.4-4 0.5-4 1.3-3.3 2.4-2.7 2.4-1" stroke="#079ccf" stroke-width="2.4"/>
<path d="M133.5 330.7l0.4 0 0.4 0.8 0.2 1.6-5.2 20.8-4.3 12-4.8 8-2.4 2.9-0.9-0.5-0.2-1.6-0.7-11.2 3.2-13.6 7.1-12 4.3-4.8 2.9-2.4zM166.5 330.7l0.9 0.4 2.4 2.2 4.1 4.6 7.1 12 3.2 13.6-0.7 11.2-0.3 1.6-0.6 0.5-0.8-0.4-1.6-2.2-5-8.3-4.3-12-4.2-17.6-0.9-2.4-0.1-1.6 0.8-1.6zM204.2 330.7l0.7 0.8 0.2 2.4-5 20-4.3 12-5.2 8.6-1.6 2.1-0.8 0.1-0.4-0.4-0.4-2.4-0.6-10.4 3.2-13.6 7.1-12 3.9-4.4 3.2-2.8zM236.9 330.7l0.9 0.1 1.6 1.3 5.3 5.8 7.1 12 3.2 13.6-0.4 8.8-0.8 4.3-0.8 0.1-1.6-1.9-5.4-8.9-4.6-12.8-4.8-20 0.3-2.4zM110.6 351l2.8 13.3-0.4 7.8-0.6 4.2-1 0.4-0.8-0.8M265 368.6l-4.8 7.5-0.8 0.7-0.8-0.4-0.6-4.1-0.4-8 1.5-8 1.7-6.4 4.2-7.5M123.2 389.1l2.6 0.1 2.5 1.5 2.3 3.2 1.3 4 0.3 4-1 4-0.8 1.6-1.4 1.5-2.4 1-2.4-0.3-2.4-1.7-2-2.9-1.3-4-0.3-4 1-4 1.8-2.7 2.2-1.3zM174.7 389.1l1.5-0.1 1.6 0.4 2.4 2.1 1.4 3.2 0.4 4-0.6 4-2 4.1-2.4 2.4-1.6 0.7-1.6 0.1-2.4-0.9-2.1-2.4-1-3.2-0.3-3.2 0.6-4 1.4-3.2 2.2-2.7 2.5-1.3zM194 389.1l1.4-0.2 1.6 0.4 2.4 1.7 2 2.9 1.3 4 0.3 4-1 4-1.8 2.7-2.4 1.4-1.6 0-1.6-0.5-2.4-1.9-2-3.3-0.9-3.2-0.3-4 1-4 1.5-2.4 1.5-1.2 1-0.4zM245.5 389.1l2.7 0.1 2.4 1.8 1.8 3.7 0.4 4-0.6 4-1.9 4-2.4 2.4-1.3 0.7-1.6 0.3-2.4-0.7-2-1.9-1.4-3.2-0.4-4 0.6-4 1.4-3.2 1.9-2.4 2.8-1.6zM110.6 394.1l0.6 3.8-0.6 4.6M265 409.3l-2.1-1.8-1.5-2.4-1.2-3.2-0.4-4 0.4-3.2 0.9-2.4 1.5-1.9 2.4-1.4" stroke="#15b1b4" stroke-width="2.4"/>
<path d="M131.2 334.7l0.9 0-0.3 4-3.4 14.4-4.5 12.8-5.3 8-0.8-0.5-0.2-1.1-0.6-8.8 3-12.8 3.4-6.1 3.9-5.9 3.9-4zM168.1 334.7l0.9-0.1 4 4.2 4 6.1 3.2 5.8 3 12.8-0.5 8-0.3 1.6-0.6 0.9-2.4-3.1-3.2-5.3-4.4-12.5-3.1-12.8-0.6-5.6zM202 334.7l0.6-0.2 0.3 1-0.3 3.2-3.4 14.4-4.5 12.8-3.3 5.3-2.4 2.9-0.8-3.1-0.4-7.5 3-12.8 3-5.4 4-6.2 2.4-2.9 1.8-1.5zM239 334.7l0.4-0.3 0.8 0.6 3.5 3.7 4.5 6.9 2.8 5.1 3 12.8-0.3 6.4-0.7 4-0.8-0.2-1.6-2.2-3.8-6.4-4.2-12-3.1-12.8-0.6-4 0.1-1.6zM110.6 355.5l1.8 8.8-0.6 8-0.4 1.6-0.8-0.2M265 366.7l-4.8 7.2-0.8-0.5-0.2-1.1-0.6-8 3-13.6 3.4-6.1M122.3 391.5l1.1-0.5 1.6-0.2 2.4 1.1 1.7 2 1.4 3.2 0.5 4-0.6 3.2-1.4 2.4-2.4 1.4-2.4-0.3-1.6-1.1-1.6-2.1-1.1-2.7-0.5-3.2 0.4-3.2 1-2.4 1.5-1.6zM173.4 391.5l1.2-0.5 1.6-0.2 2.4 1.3 1.6 2.6 0.6 3.2-0.5 4-1.4 3.2-1.9 2.1-2.4 1-2.4-0.6-1.6-1.7-1-2.4-0.4-2.4 0.3-3.2 0.7-2.4 1.4-2.4 1.8-1.6zM193.1 391.5l2.3-0.7 2.4 0.8 2.1 2.3 1.4 3.2 0.5 4-0.6 3.2-1.4 2.4-2 1.3-2.4 0-1.6-0.9-1.7-2-1.4-3.2-0.5-3.2 0.4-3.2 1-2.4 1.5-1.6zM244.2 391.5l2.4-0.7 2.4 0.9 1.6 2.2 1 4-0.5 4-1.4 3.2-2.3 2.4-2.4 0.7-2.1-0.7-1.5-1.6-1-2.4-0.4-2.4 0.3-3.2 0.7-2.4 1.4-2.4 1.8-1.6zM265 407.4l-1.6-1.6-1.4-2.3-0.7-2.4-0.3-2.4 0.2-2.4 0.8-2.4 1.4-2 1.6-0.9" stroke="#59bd8c" stroke-width="2.4"/>
<path d="M129.2 338.7l0.6-0.3 0.2 0.3 0.1 1.6-2.8 12.8-4.1 12-3.8 5.6-0.8-0.4-0.1-0.4-0.5-6.4 3.2-12.8 4.6-7.8 3.4-4.2zM170.2 338.7l0.4-0.3 0.8 0.6 2.4 3.1 5.2 8.6 3.2 12.8-0.4 6-0.8 1.4-4-5.8-4.1-12-2.5-11.2-0.2-3.2zM200 338.7l1-0.1 0 1.7-2.9 12.8-4.1 12-3.4 5.1-0.8 0.7-0.8-2.6-0.2-4.8 3.2-12.8 4.2-7.2 3.8-4.8zM240.9 338.7l0.1-0.3 0.8 0.2 2.1 2.5 5.9 9.6 3.2 12.8-0.2 4-0.6 3.3-0.8-0.3-3.6-5.4-4.1-12-2.7-11.9-0.1-2.5zM110.6 360l0.8 4.3-0.3 4-0.5 2.5M265 364.5l-1.6 2.9-2.4 3.3-0.8-0.4-0.1-0.4-0.5-5.6 3.2-13.6 2.2-4M122.9 393.1l2.1-0.6 1.6 0.7 1.6 1.6 1.1 2.3 0.5 3.2-0.3 2.4-1.1 2.4-1.8 1.3-1.6 0-1.6-0.9-1.6-1.9-0.8-2-0.4-2.9 0.3-2.4 0.9-2.1 1.1-1.1zM173.7 393.1l0.9-0.4 1.6-0.1 1.6 0.9 1.3 2 0.5 2.4-0.3 3.2-0.9 2.4-1.4 1.9-2.4 1.1-1.6-0.4-1.2-1-0.9-1.6-0.5-2.4 0.1-2.4 0.7-2.4 1-1.8 1.5-1.4zM193.7 393.1l1.7-0.6 2.4 1 1.6 1.9 0.9 2.5 0.3 3.2-0.5 2.4-1.5 2.2-1.6 0.7-1.6-0.1-1.6-1.1-1.2-1.7-0.9-2.4-0.3-2.4 0.3-2.4 0.6-1.6 1.4-1.6zM244.5 393.1l2.1-0.6 1.6 0.6 1.6 2.2 0.6 2.6-0.3 3.2-0.9 2.4-1.8 2.2-1.6 0.7-1.6-0.1-1.6-1.2-0.9-1.6-0.5-2.4 0.1-2.4 0.7-2.4 1.4-2.3 1.1-0.9zM265 405.5l-2-2.8-0.8-4 0.3-2.4 0.6-1.6 1.9-1.9" stroke="#a5be6b" stroke-width="2.4"/>
<path d="M127.3 343.5l0.4 0.8-0.1 1.6-1.2 6.4-4 12-2.3 3.2-0.7-0.3-0.3-3.7 2.7-11.3 2-3.9 3.5-4.8zM243.3 343.5l1.8 1.6 3.9 6.4 2.9 12-0.5 4.1-0.8-0.3-2-3-4-12-1.2-6.4-0.1-2.4zM172.6 344.3l0.4-0.7 0.8 0.9 4.4 7 2.9 12-0.1 2.8-0.8 1.4-2.4-3.4-4-11.9-1.2-8.1zM197.4 344.3l0.4-0.5 0.6 0.5 0 0.8-1.2 7.2-4.2 12.5-2.4 2.9-0.6-1.8-0.2-2.4 2.4-9.9 1-2.9 4.2-6.4zM265 361.1l-1.4 4-1.8 2.4-0.8-0.3-0.4-2.9 2.8-12 1.6-3.3M123.3 394.7l1.7-0.5 1.2 0.5 1.2 1.1 1 2.1 0.3 2.4-0.2 1.6-0.7 1.6-1.2 1.1-0.8 0.2-1.6-0.4-1.5-1.7-0.7-1.6-0.3-2.4 0.2-1.6 0.7-1.6 0.7-0.8zM173.9 394.7l1.5-0.5 1.6 0.6 1 1.5 0.5 2.4-0.3 2.4-0.7 1.6-1.3 1.5-1.6 0.6-1.4-0.5-0.8-0.8-0.7-1.6-0.2-1.6 0.6-3.2 0.9-1.6 0.9-0.8zM194.2 394.7l1.2-0.5 1.6 0.4 1.5 1.7 0.7 1.6 0.3 2.4-0.2 1.6-0.7 1.6-1.6 1.2-1.6-0.1-0.8-0.5-1.1-1.4-0.7-1.6-0.3-2.4 0.2-1.6 0.7-1.6 0.8-0.8zM244.8 394.7l1-0.5 1.6 0.3 1 1 0.8 2.4 0 2.4-0.9 2.4-0.9 1.2-1.6 0.9-1.6-0.3-0.8-0.7-1-2.7 0-2.4 0.5-1.6 1.9-2.4zM265 403.7l-1.4-2.6-0.3-2.4 0.5-2.4 1.2-1.6" stroke="#e1b952" stroke-width="2.4"/>
<path d="M124.8 349.9l0.2-0.2 0.1 0.2 0.1 2.4-4.2 12-0.3 0 0.2-2.4 1.7-7.9 0.7-2.5 1.5-1.6zM175.2 349.9l0.2-0.3 0.8 0.9 0.8 1.4 2.4 10.2 0.3 2.2-0.3 0.2-4.3-12.2 0.1-2.4zM195.3 349.9l0.4 0 0.3 0.8-0.1 1.6-3.7 11-0.8 1.3 0-1.6 2.4-10.5 1.5-2.6zM245.7 350.7l0.1-0.6 0.8-0.1 1.1 1.5 0.5 1.8 1.9 8.6 0.1 1.6-0.4 0.4-4-11.6-0.1-1.6zM265 357.2l-2.4 7.1-0.3 0 0-0.8 1.1-6.2 1.6-5.9M250.3 364.3l0.3-0.3 0 0.4-0.3-0.1zM124 396.3l1-0.4 0.8 0.3 0.9 0.9 0.7 1.6 0 2.5-0.8 1.4-0.8 0.4-1.6-0.5-1.2-2.2 0-2.4 1-1.6zM174.3 396.3l1.1-0.4 0.8 0.3 0.8 1.1 0.3 1.4-0.1 1.6-0.7 1.6-1.1 1-0.8 0.2-0.8-0.3-0.7-0.9-0.4-1.6 0.3-2.4 1.3-1.6zM194.8 396.3l1.4-0.3 0.8 0.5 1 1.4 0.3 1.6-0.1 1.6-0.4 1-0.8 0.8-1.6-0.1-1.3-1.7-0.4-2.4 0.4-1.6 0.7-0.8zM245 396.3l0.8-0.3 1.2 0.3 0.7 0.8 0.4 1.6-0.1 1.6-0.6 1.5-1.6 1.2-0.8 0-0.8-0.6-0.7-2.1 0.4-2.4 1.1-1.6zM265 401.4l-0.5-2.7 0.5-1.8" stroke="#fcce2e" stroke-width="2.4"/>
<path d="M124.3 398.7l0.7-0.7 0.8 0.5 0.4 1-0.4 1.3-0.8 0.1-0.5-0.6-0.2-1.6zM174.3 398.7l0.3-0.5 0.8-0.1 0.4 0.6 0.2 0.8-0.6 1.3-0.8 0.1-0.4-0.6 0.1-1.6zM195.1 398.7l0.3-0.5 0.8-0.1 0.5 0.6 0.2 1.6-0.7 0.7-0.9-0.7-0.2-1.6zM245 398.7l0.8-0.7 0.9 0.7-0.1 1.5-0.8 0.8-0.9-0.7 0.1-1.6z" stroke="#f9fb0e" stroke-width="2.4"/>
</g>
<g clip-path="url(#cp_bS1)" fill="none" stroke-linejoin="round">
<path d="M375.4 189l5.5 6 8 4.5 11 3.5 13 2 9-2 3-3.5 3 3.5 9 2 13-2 11-3.5 8-4.5 5.5-6-5.5 11-8 11-72 0-8-11zM519.7 189l5.5 6 8 4.5 11 3.5 13 2 9-2 3-3.5 3 3.5 9 2 13-2 11-3.5 8-4.5 5.5-6-5.5 11-8 11-72 0-8-11z" fill="#808080" stroke="none"/><path d="M352.7 164.5l-2.6 1-2.4 1.3M497 164.5l-2.6 1-2.4 1.3M352.8 164.5l2.6 1 2.4 1.3M641.3 164.5l-2.6 1-2.4 1.3M497 164.5l2.7 1 2.4 1.3M352.7 169.5l-1.8 0.5-4 2.9-3.2 1.8M497 169.5l-1.8 0.5-4 2.9-3.2 1.8M352.8 169.5l1.8 0.5 4 2.9 3.2 1.8M641.3 169.5l-1.8 0.5-4 2.9-3.2 1.8M497 169.5l1.9 0.5 4 2.9 3.1 1.8M352.7 175.7l-2 0.5-6.5 5-5.5 3.6M497 175.7l-2 0.5-6.5 5-5.5 3.6M352.8 175.7l2 0.5 6.5 5 5.5 3.6M641.3 175.7l-2 0.5-6.5 5-5.5 3.6M497 175.7l2.1 0.5 6.5 5 5.4 3.6M352.7 181.5l-1.6 0.3-1.4 0.9-4.9 3.6-8.1 5.3M497 181.5l-1.6 0.3-1.4 0.9-4.9 3.6-8.1 5.3M352.8 181.5l1.6 0.3 1.4 0.9 4.9 3.6 8.1 5.3M641.3 181.5l-1.6 0.3-1.4 0.9-4.9 3.6-8.1 5.3M497 181.5l1.7 0.3 1.4 0.9 4.9 3.6 8 5.3M352.7 187.2l-1.5 0.3-1.6 0.9-5.3 3.5-8.5 5.1M497 187.2l-1.5 0.3-1.6 0.9-5.3 3.5-8.5 5.1M352.8 187.2l1.5 0.3 1.6 0.9 5.3 3.5 8.5 5.1M641.3 187.2l-1.5 0.3-1.6 0.9-5.3 3.5-8.5 5.1M497 187.2l1.6 0.3 1.6 0.9 5.3 3.5 8.5 5.1M352.7 192.8l-3.1 1.1-14.4 7.4M497 192.8l-3.1 1.1-14.4 7.4M352.8 192.8l3.1 1.1 14.4 7.4M641.3 192.8l-3.1 1.1-14.4 7.4M497 192.8l3.2 1.1 14.4 7.4M352.7 198.3l-3.1 1.1-14.9 5.9M497 198.3l-3.1 1.1-14.9 5.9M352.8 198.3l3.1 1.1 14.9 5.9M641.3 198.3l-3.1 1.1-14.9 5.9M497 198.3l3.2 1.1 14.9 5.9M352.7 203l-18 5.4M497 203l-18 5.4M352.8 203l18 5.4M641.3 203l-18 5.4M497 203l18.1 5.4M351.7 208l-15 2M496 208l-15 2M353.8 208l15 2M640.3 208l-15 2M498 208l15 2M473.8 208.8l20.9-2.8M376 208.8l-20.9-2.8M618.1 208.8l20.9-2.8M520.3 208.8l-20.9-2.8M472.6 207.1l19.6-4.9M377.2 207.1l-19.6-4.9M616.9 207.1l19.6-4.9M521.5 207.1l-19.6-4.9M471.2 205.5l18.1-6.5M378.6 205.5l-18.1-6.5M615.5 205.5l18.1-6.5M522.9 205.5l-18.1-6.5M469.6 204.2l15.7-7.6M380.2 204.2l-15.7-7.6M613.9 204.2l15.7-7.6M524.5 204.2l-15.7-7.6M467 203.5l13.9-9M382.8 203.5l-13.9-9M611.3 203.5l13.9-9M527.1 203.5l-13.9-9M465.9 201.9l9.5-8.4M383.9 201.9l-9.5-8.4M610.2 201.9l9.5-8.4M528.2 201.9l-9.5-8.4" stroke="#808080" stroke-width="2.5"/><path d="M463 146.2l1.6-3.5 1.7-5.5 0.6-5.7-0.2-3.8-0.6-3.8-1.1-3.6-1.6-3.6-3.1-5-2.6-3.1-4.5-4.2-5.2-3.5-3.9-1.9-4-1.6-4.2-1.2-4.4-0.7-6.6-0.5-6.6 0.5-4.4 0.7-4.2 1.2-4 1.6-3.9 1.9-5.2 3.5-4.5 4.2-2.6 3.1-3.1 5-1.6 3.6-1.1 3.6-0.6 3.8-0.2 3.8 0.6 5.7 1.7 5.5 1.6 3.5M607.3 146.2l1.6-3.5 1.7-5.5 0.6-5.7-0.2-3.8-0.6-3.8-1.1-3.6-1.6-3.6-3.1-5-2.6-3.1-4.5-4.2-5.2-3.5-3.9-1.9-4-1.6-4.2-1.2-4.4-0.7-6.6-0.5-6.6 0.5-4.4 0.7-4.2 1.2-4 1.6-3.9 1.9-5.2 3.5-4.5 4.2-2.6 3.1-3.1 5-1.6 3.6-1.1 3.6-0.6 3.8-0.2 3.8 0.6 5.7 1.7 5.5 1.6 3.5M459.2 144.2l1.6-3.5 1.5-5.4 0.4-3.8-0.2-3.7-0.7-3.7-1.3-3.6-1.8-3.5-2.2-3.2-2.7-3-3.2-2.7-3.5-2.4-3.8-2-4-1.7-4.3-1.2-4.5-0.7-4.5-0.4-4.5 0.1-4.5 0.6-4.3 1-4.2 1.4-4 1.8-3.6 2.2-4.9 4-2.7 3-2.2 3.2-1.8 3.5-1.3 3.6-0.7 3.7-0.2 3.7 0.4 3.8 1.5 5.4 1.6 3.5M603.5 144.2l1.6-3.5 1.5-5.4 0.4-3.8-0.2-3.7-0.7-3.7-1.3-3.6-1.8-3.5-2.2-3.2-2.7-3-3.2-2.7-3.5-2.4-3.8-2-4-1.7-4.3-1.2-4.5-0.7-4.5-0.4-4.5 0.1-4.5 0.6-4.3 1-4.2 1.4-4 1.8-3.6 2.2-4.9 4-2.7 3-2.2 3.2-1.8 3.5-1.3 3.6-0.7 3.7-0.2 3.7 0.4 3.8 1.5 5.4 1.6 3.5" stroke="#808080" stroke-width="2.7" stroke-dasharray="11 4"/><path d="M438 132.4l-0.2-4.7-0.5-2.3-1.8-4.2-1.2-1.8-1.4-1.5-1.6-1.3-1.7-1-1.9-0.7-1.8-0.4-2 0-1.8 0.4-1.9 0.7-1.7 1-1.6 1.3-1.4 1.5-1.2 1.8-1.8 4.2-0.5 2.3-0.2 4.7M582.3 132.4l-0.2-4.7-0.5-2.3-1.8-4.2-1.2-1.8-1.4-1.5-1.6-1.3-1.7-1-1.9-0.7-1.8-0.4-2 0-1.8 0.4-1.9 0.7-1.7 1-1.6 1.3-1.4 1.5-1.2 1.8-1.8 4.2-0.5 2.3-0.2 4.7M419.9 138.2l10 0M564.2 138.2l10 0" stroke="#808080" stroke-width="2.3" stroke-dasharray="12 5"/><path d="M395.4 133l0 7.9 0.5 2.2 1 2.1 1.2 1.6 1.1 0.7 1.2-0.7 1.2-1.6 1-2.1 0.5-2.2 0-7.9M454.4 133l0 7.9-0.5 2.2-1 2.1-1.2 1.6-1.1 0.7-1.2-0.7-1.2-1.6-1-2.1-0.5-2.2 0-7.9M539.7 133l0 7.9 0.5 2.2 1 2.1 1.2 1.6 1.1 0.7 1.2-0.7 1.2-1.6 1-2.1 0.5-2.2 0-7.9M598.7 133l0 7.9-0.5 2.2-1 2.1-1.2 1.6-1.1 0.7-1.2-0.7-1.2-1.6-1-2.1-0.5-2.2 0-7.9M384.4 133l0.2 8M465.4 133l-0.2 8M528.7 133l0.2 8M609.7 133l-0.2 8" stroke="#808080" stroke-width="2.3" stroke-dasharray="12 5"/><path d="M437.8 86.4l4.1 0.4 4.8 1.7 7.2 4.1 5 4.2 5 5.6 5 7.2 3.8 7.2 2.5 7.2 1.4 7.2 0.2 4.8-0.3 5.6-1.4 7.2-2.2 6.4-3.2 6.4-5.1 8-4.1 4.8 0.6 0.3 8-5.5 8.8-4.6 8.8-3.2 5.6-0.9 3.2 0.6 3.2 0 1.6-0.5 2.4-0.1 7.2 1.6 5.6 2.2 5.6 2.7 6.4 3.7 5.6 4.1 0.5-0.4-4.7-5.6-5-8-3.3-7.2-2.2-7.2-1-7.2 0-7.2 1.1-6.4 2.2-7.2 4-8 4.9-7.2 5.6-6.4 5.1-4.2 7.2-4.2 5.6-1.8 3.2-0.2 5.6 0.5 2.4 0.8 1.7 1.1 2 2.4 0.8 2.4 0.1 3.2-0.7 2.4-1.5 2.1-1.6 1.4-1.6 0.8-4.8 1.3-5.6 5.3-4.1 5.1-4.7 7.4-2.4 4.9-1.6 5.3-0.8 7.2 0.4 5.6 1.3 5.6 2.3 5.5 4 7 0.8-0.4 2.4-3.3 2.5-4.8 1.5-4.8 1.6-8.5 0.8 0.2 1.6 5.3 1.6 2.9 1.6 0.9 2.4-0.8 0.6 0.8 0.4 4.8 0.4 13.6 0.7 0.8 0.6 1.6-0.8 22.4-0.8 1.6-0.6 4.8-0.5 1.1-2.4-0.3-6.4 0.8-6.4 0.1-5.6-0.8-4-1.3-2.4-1.2-1.8-1.6-1.7-2.4-0.9-2.4-2.5-1.6-17.1-13.8-4-1.9-4-1.4-3.2-0.6-4.8-0.3-4 0.2-4 0.7-4 1.4-4 1.9-16.8 13.5-2.9 1.9-0.9 2.4-1.7 2.4-1.7 1.5-2.4 1.3-4 1.2-5.6 0.9-6.4 0-6.4-0.9-2.4 0.3-0.6-1.1-0.6-4.8-0.8-1.6-0.8-22.4 0.2-0.8 1.1-1.6 0.4-13.6 0.4-4.8 0.7-0.8 2.4 0.8 1.6-1 1.6-3 1.6-5.4 0.8 0.6 1.5 8 1.7 5.3 3.4 5.9 1.4 1.9 0.8 0.1 3.2-5.6 2.5-5.2 1.5-5.3 0.7-5.1-0.2-5.6-1.3-6.8-2.4-5.8-4-6.6-4-5.5-3-3.3-4.4-4-4.6-1.3-2.4-1.3-1.9-2.2-1-2.4-0.3-2.4 0.4-2.4 1.2-2.4 1.4-1.6 1.8-1.2 1.6-0.6 6.3-0.6zM346.7 160.5l2.4 0 2.4 0.6 3.2 0 1.6-0.6 2.4 0 7.2 1.7 5.6 2.2 6.4 3.2 5.6 3.3 5.6 4 0.3-0.5-4.8-5.6-4.6-7.2-4-8.8-1.9-6.4-1-7.2 0.1-8 1.8-8.8 2.5-6.4 5.4-9.6 6.4-8 3-2.9 3.2-2.6 8-4.6 4-1.4 2.4-0.4 4 0 4.8 0.7 2.4 1.1 1.6 1.5 1.3 2.2 1.1 3.2-0.2 1.6-1 2.4-1.8 2.4-2.6 1.8-5.1 1.4-5.8 5.6-5 6.4-4.1 6.7-2.4 5.3-1.1 4-0.8 6.4 0.3 6.1 1.6 6.6 3.2 6.9 3.2 5.2 3.9-5.6 1.8-4 1.2-4 1.9-9.7 2 6.5 1.8 3.2 1.8 0.8 2.5-0.8 0.6 5.6 0.4 13.6 1.1 1.6 0.1 0.8-0.1 12-0.6 10.4-0.9 1.6-0.7 5.6-0.8 0.2-1.6-0.3-7.2 1-4.8 0-5.6-0.6-4.1-1.1-3.1-1.4-1.6-1.3-1.7-2.1-1.5-3.4-1.6-0.8-18.4-14.6-4.8-2.2-4.8-1.3-6.4-0.5-5.6 0.5M641.1 173.2l-4.8 0.3-3.2 0.7-4 1.4-4 2-16.9 13.6-2.3 1.3-1.1 2.7-1.3 1.9-1.6 1.6-2.4 1.5-4.8 1.5-5.6 0.8-6.4-0.1-6.4-0.9-2.4 0.3-0.8-5.8-0.9-1.6-0.6-10.4-0.1-12 0.5-1.6 0.7-0.8 0.4-13.6 0.6-5.6 2.6 0.8 1.7-0.8 1.4-2.4 2.5-6.9 1.8 9.3 1.2 4 2.3 4.8 3.5 4.8 4-6.9 2.4-5.5 1.6-6.8 0.2-5.6-1-7.2-1.5-4.8-2.5-4.9-4-6.3-4.8-6.1-5.4-5.1-5-1.4-2.7-1.8-1.8-2.4-0.8-2.4-0.2-1.6 0.5-2.4 1.2-2.4 2.2-2.2 2.4-1.1 4.8-0.6 4 0 2.4 0.4 4 1.5 8 4.6 3.2 2.5 2.9 2.9 6.4 8 5.4 9.6 2.7 7.2 1.6 8 0.1 8-1 7.2-2.5 8-3.5 7.2-5.1 8-4.9 5.6 0.3 0.4 4-3.1 4.8-3.1 4.8-2.7 6.4-3 4.8-1.8 5.6-1.3 2.4-0.1 2.4 0.6 1.6 0M389.9 174.9l-0.5 0.3 0.5 0.5 0.3-0.5-0.3-0.3zM460.3 174.7l-0.5 0.5 0.7 0-0.2-0.5zM533.9 174.8l-0.3 0.4 0.3 0.3 0.4-0.3-0.4-0.4zM390.7 175.7l-0.5 0.3 0.5 0.4 0.3-0.4-0.3-0.3zM459.5 175.7l-0.4 0.3 0.4 0.1 0-0.4zM534.7 175.7l0 0.5 0.3-0.2-0.3-0.3zM603.5 175.7l-0.3 0.3 0.3 0.4 0.4-0.4-0.4-0.3zM391.5 176.5l-0.4 0.3 0.4 0.4 0.3-0.4-0.3-0.3zM457.9 176.8l-0.9 0.8 0.1 1 1.6-1.8-0.8 0zM535.5 176.5l0 0.4 0.4-0.1-0.4-0.3zM602.7 176.5l-0.3 0.3 0.3 0.3 0.3-0.3-0.3-0.3zM392.3 177.3l-0.4 0.3 0.4 0.5 0.4-0.5-0.4-0.3zM536.3 177.2l0 0.6 0.8-0.2-0.8-0.4zM601.9 177.3l-0.4 0.3 0.4 0.4 0.3-0.4-0.3-0.3zM537.1 177.6l0 1.1 0-1.1zM601.1 178.2l0 0.3 0-0.3z" stroke="#352a87" stroke-width="2.4"/>
<path d="M406.7 88.8l4.8-0.8 7.2 1 1.6 0.9 1.3 1.3 0.8 1.6 0.5 2.4-0.8 3.2-1.8 2.2-1.6 0.9-4.8 0.9-1.4 0.8-5.8 5.3-4 4.8-4 6-3.2 6-1.9 5.1-1 5.6-0.3 4 0.2 4 0.6 3.7 1.2 4.3 1.8 4 2.6 4.7 4.8 6.8 0.8-0.2 5.1-7.3 1.7-3.2 2-6.1 1.6 1.9 1.6 0.9 1.6 0.4 0.4 0.5 0.5 15.2 2.3 0.9 0.7 1.5-0.1 12-0.6 10.4-0.8 1.2-2 0.4-0.4 2.8-4 0.7-4.8 0.4-3.2-0.1-3.2-0.6-1.7-0.8-1.5-1.8-4.8-0.7-1.6-0.8-1.4-1.5-1-2.8-1.6-0.2-1.7-1-4-4-6.2-7.2-7.3-3.7-5.3-3.5-4.1-4-0.8-1.6-0.1-0.8 0.7-0.8 1.6-0.3 4 0.6 5.6 1.9 6.4 3.2 4.8 3.1 3.4 2.7 2.6 3.2 0.2 1.6-0.8 0.8 4.2 3.4 0.8-0.3 3.1-5.5-5.5-4.8-5.3-6.4-4-6.4-3-6.4-1.6-4-1.4-5.6-0.6-4.8-0.2-5.6 0.5-5.6 1.6-6.4 2.5-6.4 4-7.2 4-5.6 4.3-4.9 4-3.5 6.4-3.9 4.8-2.1zM431.7 88.8l6.2-0.7 4.8 0.6 6.4 2.8 6.4 4.2 5.1 5.1 5.5 7.2 4.9 8.8 2.6 7.2 1.3 6.4 0.3 5.6-0.3 5.6-1.2 6.4-2.6 7.2-3.2 6.4-2.4 4-5.6 7.2-6.2 5.6 3 5.6 0.4 0.4 4.5-3.6-0.7-0.8 0.2-1.6 2.6-3.2 3.8-3 4.8-3 6.4-3.1 5.6-1.9 4-0.5 1.2 0.3 0.7 0.8 0 0.8-0.9 1.6-4.1 4-5.7 3.8-6.8 3.4-1 0.8-4.6 5.6-3.9 4-2 1.6-1.7 0.3-0.7 0.5-0.7 2.4-1 1.2-1.6 1-4.8 0.7-2.4 2.1-4 1.1-5.6 0.1-6.4-0.8-0.6-0.6-0.4-2.4-1.4-0.1-0.9-0.7-0.4-0.8-0.5-10.4-0.2-12 0.2-0.8 0.8-0.8 1-0.4 0.8 0.3 0.3-0.7 0.5-15.2 0.8-0.6 2.4-0.9 1.6-1.5 0.8 0.4 1.6 5 2.7 4.8 4.5 6.2 0.8-0.8 4.8-7 4-8 1.8-8 0.2-4-0.3-4-1-5.6-2.1-5.6-2.6-4.9-4.8-7.1-4-4.8-5.4-4.8-1-0.6-5.6-1.3-1.6-1.1-1.4-1.8-0.7-2.4 0.4-3.2 1.7-2.6 2.6-1.4zM551 88.8l4.5-0.8 7.2 0.9 1.6 0.8 1.6 1.5 1.1 2.4 0.2 1.6-0.5 2.4-1.6 2.5-2.4 1.5-4.3 0.8-1.3 0.6-5.7 5-4.7 5.7-4.1 6.3-2.9 5.6-1.8 4.9-1 5.5-0.3 4 0.2 4 1.8 8 4 8 4.9 7.1 0.8 0.6 5.4-7.7 1.8-3.5 1.6-5.1 0.8 0.1 1.6 1.5 2.4 0.8 0.7 0.6 0.5 15.2 0.4 0.5 1.6 0.2 0.9 0.9 0.2 0.8-0.2 12-0.5 10.4-1.2 1.4-1.7 0.2-0.1 2.4-0.6 0.5-8 1-4-0.1-2.9-0.6-1.7-0.8-1.8-1.9-4-0.5-2-0.8-1.5-1.6-0.7-2.4-0.6-0.5-1.6-0.2-1.4-0.9-4.7-4.8-4.6-5.6-1-0.8-6.7-3.4-4.8-3.1-3.7-3.1-1.4-1.6-0.8-1.6-0.1-0.8 1.2-1 4 0.2 6.4 2.1 6.4 3.1 4.8 3.1 4.5 3.7 1.4 1.6 0.7 1.6-0.1 0.8-0.7 0.8 4.6 3.7 3.3-6.1-4.9-4.3-4.6-5.3-4.7-7.2-3.2-6.4-2.4-6.4-1.3-6.4-0.4-5.6 0.3-6.4 1.3-6.4 1.9-5.6 3.2-6.4 4.6-7.2 4.8-5.6 4.5-4.2 6.4-4 5.1-2.2zM576 88.8l5.9-0.7 4.8 0.5 5.6 2.3 4 2.3 4 3 5.3 5.4 5.3 7.2 4.4 8 2.8 8 1.2 6.4 0.2 5.6-0.4 5.6-1.4 6.4-2.7 7.2-2.3 4.8-3.5 5.6-5 6.4-4.1 4-2.2 1.6 3.2 5.7 0.8 0 4.1-3.3-0.8-0.8 0.2-1.6 2.6-3.2 3.5-2.8 4.8-3 6.4-3.2 5.6-1.9 4-0.6 1.5 0.3 0.7 0.8-0.1 0.8-0.8 1.6-4.1 4-6.8 4.4-5.8 2.8-7 8-3.2 3.2-1.6 0.9-1.6 0.2-0.4 0.5-0.7 2.4-1.3 1.4-1.6 0.9-4.8 0.7-1.6 1.8-1.7 0.8-2.3 0.5-6.4 0.1-6.4-0.9-0.4-0.5-0.1-2.4-1.9-0.3-0.6-0.5-0.4-0.8-0.3-6.4-0.4-16 0.2-0.8 0.7-0.7 2.2-0.9 0.5-15.2 0.5-0.6 1.6-0.3 1.6-0.9 1.6-1.9 1.3 4.5 2.3 4.8 5.2 7.4 0.8 0 3.2-4.2 2.4-4 3.5-7.2 1.3-4.7 0.5-3.3 0.2-4-0.3-4-1.2-6.2-1.9-5-3.6-6.4-4.4-6.4-3.4-4-5.4-4.8-1.3-0.7-4-0.7-1.6-0.6-1.5-1.2-1.2-1.6-0.7-2.4 0.4-3.2 1.5-2.4 1.5-1.1 1.3-0.5z" stroke="#0f5cdd" stroke-width="2.4"/>
<path d="M407.6 89.6l4.7-0.5 6.4 1.1 1.3 1 1.2 1.6 0.4 1.6-0.2 2.4-1.1 2-1.6 1.2-5.6 1.1-2.4 1.3-5.6 5-5.6 7-4.4 7.2-2.8 6.4-1.7 7.2-0.3 7.2 0.9 6.4 2 5.6 4.7 8.1 6.4 8 0.8 0.1 5.4-7.4 3.8-7.2 0.4-0.3 0.8 0.3 0.3 0.8 0.4 21.6-0.5 17.6-1 0.7-2.4 0.3-3.5-0.2-0.7-0.8 0.8-1.6-0.3-0.8-1.1-1-1.6-0.7-2.4-0.4-3.2 0-5.6 1.5-0.7-1-0.2-1.6 0.9-3.5 1.6-3.7 2.5-4-0.7-0.8-3.4-2.2-4.8-4.8-3.3-4.2-3.5-5.6-3.9-8-1.8-4.8-1.4-6.4-0.4-5.6 0.2-6.4 1.8-8 3-7.2 4.7-8 4.6-5.8 4.8-4.8 6.4-4.2 3.2-1.6 3.3-1.2zM433.8 89.6l5.7-0.5 2.4 0.4 3.2 1.1 8 4.5 3.2 2.6 3 3.1 6.2 8 4.9 8.8 2.8 8.8 1 7.2-0.2 6.4-1 6.4-2 6.4-3 6.4-3.2 5.6-4.1 5.6-5.4 5.6-3.6 2.4-0.7 0.8 2 3.2 1.9 4 1 3.2-0.1 2.4-1.1 1-2.4-0.9-3.2-0.6-3.2 0-2.2 0.5-1.8 0.8-0.7 0.8-0.3 0.8 0.8 1.6-0.6 0.7-1.6 0.3-4-0.2-0.8-0.2-0.6-0.6-0.5-17.6 0.4-21.6 0.3-0.8 1.2-0.2 3.3 6.6 6.3 8.6 6.4-8 3.4-5.4 2.1-4 2.1-7.2 0.5-7.2-1-7.2-1.7-5.6-3-6.3-4.7-7.3-4.7-5.6-5.8-5.1-1.6-0.9-5.6-1-1.6-1-1.2-1.6-0.5-1.6 0-1.6 0.9-2.4 1.7-1.6 3-0.8zM551.9 89.6l4.4-0.5 6.4 1 1.6 1.1 1.2 1.6 0.5 2.4-0.3 1.6-1.4 2.3-1.6 1.1-5.6 1-2 1.2-6 5.3-5.3 6.7-4.9 8-2.6 6.4-1.5 7.2-0.2 6.4 1.2 7.2 2.1 5.6 4.8 8 6.4 7.9 6.7-9.5 2.9-5.9 1.1 0.3 0.3 0.8 0.4 21.6-0.5 17.6-0.5 0.6-3.2 0.4-3.2-0.2-0.7-0.8 0.8-1.6-0.3-0.8-1.4-1.2-1.6-0.6-2.4-0.3-3.2 0.1-4.8 1.4-0.8-0.3-0.4-0.7-0.1-2.4 1-3.2 1.9-4 2-3.2-0.7-0.8-2.9-1.8-5.4-5.4-3.7-4.8-3.4-5.6-3.2-6.4-2.1-5.6-1.4-6.4-0.4-5.6 0.2-6.4 0.7-4 1.4-4.8 2.7-6.4 4.8-8 5.1-6.4 4.7-4.6 7.2-4.5 5.2-2.1zM578.1 89.6l6.2-0.4 3.2 0.7 2.4 0.9 8 4.6 5.6 5.2 5.3 6.6 5.5 9.6 1.6 4 1.5 4.8 1.1 8-0.2 6.4-1 6.4-2 6.4-3.4 7.2-3.3 5.6-3.6 4.8-5.5 5.7-3.5 2.3-0.7 0.8 2 3.2 1.9 4 1 3.2-0.1 2.4-0.6 0.9-0.8 0-4.8-1.3-3.2-0.1-2.4 0.4-1.6 0.6-1.2 1.1-0.3 0.8 0.7 1.8-0.6 0.6-1.8 0.2-4-0.3-1.1-0.7-0.5-17.6 0.4-21.6 0.4-0.8 0.8-0.4 0.4 0.4 1.8 4 2.6 4.2 4.8 6.6 0.8-0.4 6.3-8 5.1-8.8 2.1-7.2 0.5-7.2-1-7.2-1.7-5.6-3-6.4-4.7-7.2-4.7-5.6-6.1-5.3-1.6-0.8-5.6-1-1.6-1.2-0.9-1.3-0.5-1.6 0-1.6 0.9-2.4 2.1-1.8 2.6-0.6zM363.4 166.4l1.7-0.5 3.2 0.5 4 1.4 4 2 3.7 2.2 3.1 2.4 2 2.4 0 1.4-1.6 0.5-3.2-0.5-3.2-1.1-4.8-2.3-4.5-2.8-2.9-2.4-1.3-1.6-0.3-0.8 0.1-0.8zM481.5 166.4l3.6-0.5 1.2 0.5 0.2 0.8-1.6 2.4-2.9 2.4-4.1 2.6-5.6 2.7-4.8 1.3-2.6-0.2-0.4-0.8 0.7-1.6 3.5-3.2 6-3.7 6.8-2.7zM507.8 166.4l1.3-0.5 3.2 0.4 4 1.4 4.8 2.3 4.3 2.8 2.8 2.4 1.2 1.6 0.2 0.8-0.4 0.8-1.7 0.3-3.2-0.6-4-1.4-4-2-4.2-2.7-2.9-2.4-1.3-1.6-0.3-0.8 0.2-0.8zM625.7 166.4l2.6-0.5 1.6 0.1 0.7 0.4 0.2 0.8-1.6 2.4-2.9 2.4-4.4 2.8-5.6 2.6-4.8 1.3-2.4-0.4-0.3-0.7 0.7-1.6 3.6-3.3 5.6-3.4 7-2.9zM419.1 171.2l1.2-0.4 0.6 0.4 0.4 0.8-0.1 12-0.6 10.4-1.1 1-0.8 0-1-1 0.6-17.6 0.4-4.8 0.4-0.8zM428.8 171.2l1.1-0.4 0.9 0.4 0.3 0.8 0.8 10.4 0.1 12-0.5 0.7-0.8 0.3-0.8-0.1-0.7-0.9-0.2-2.4-0.4-8 0-12 0.2-0.8zM563.3 171.2l1-0.5 0.8 0.3 0.5 1-0.1 12-0.6 10.4-0.6 0.8-0.8 0.2-0.8-0.2-0.6-0.8 0.2-12 1-11.2zM573.1 171.2l0.8-0.4 1.1 0.4 0.8 6.4 0.5 16.8-0.8 0.9-0.8 0.1-1.2-1-0.3-4-0.3-7.2-0.1-11.2 0.3-0.8zM387.1 184.8l0.4-0.4 0.8 0 2.6 1.2 0.7 0.8-0.3 1.6-1.4 0.7-0.8-0.3-1.5-2-0.5-1.6zM460.4 184.8l1.5-0.4 0.8 0.4-0.1 0.8-1.5 2.4-1.6 0.6-1-0.6-0.2-1.6 0.4-0.6 1.7-1zM531.5 184.8l0.8-0.4 0.8 0.2 2 1 0.7 0.8-0.2 1.6-0.9 0.6-0.8 0-0.8-0.5-1.6-2.5 0-0.8zM604.8 184.8l1.9-0.4 0.2 1.2-1.8 2.7-0.8 0.3-0.8-0.1-0.8-0.6-0.1-1.5 0.6-0.8 1.6-0.8z" stroke="#127dd8" stroke-width="2.4"/>
<path d="M407.9 90.4l4.4-0.4 4.8 0.7 1.4 0.5 1 0.8 0.9 1.6 0.3 1.6-0.4 1.6-0.8 1.3-1.6 1.1-5.6 0.7-1.9 0.9-6.1 4.9-5.4 6.3-4.7 7.2-3.1 6.4-1.7 5.6-1.2 8 0.5 7.2 2.1 7.2 5.4 8.8 6.2 7.2 3.1 4 0.9 1.6-0.3 2.4-1 1.1-1.6 0.6-4.8-1.5-3.2-1.9-6.7-7.1-4.7-7.2-4-8-2.4-7.2-1.1-6.4-0.2-7.2 0.9-6.4 2.3-7.2 2.7-5.6 4.5-7.2 4.7-5.6 4.8-4.5 6.4-3.9 5.2-2zM434.8 90.4l5.5-0.3 4.8 1.4 7.2 3.9 5.6 4.9 5.7 6.9 4.8 8 3 7.2 1.8 8 0.3 4-0.2 4.8-1.2 7.2-2.1 6.4-3.9 8-5.1 8-5.9 6.4-3.6 2.5-4.8 1.6-1.6-0.4-0.8-0.6-0.9-1.5 0-1.6 4-5.6 6.2-7.2 5.4-8.8 1.6-4.8 0.8-4 0.2-4.8-0.3-4-1.3-6.4-2.4-6.4-4-7.2-4.6-6.4-3.6-4-6-4.8-2.3-0.9-4.8-0.5-1.6-0.9-0.8-0.9-0.8-2.4 0.3-1.6 0.5-1.1 1.6-1.4 3.3-0.7zM552.1 90.4l4.2-0.4 6.4 1.2 1.1 0.8 0.9 1.6 0.3 1.6-0.4 1.6-1.1 1.6-1.6 0.9-5.5 0.7-1.7 0.8-6 4.8-4.9 5.6-4.8 7.2-3.5 7.2-2 6.4-1 7.2 0.5 7.2 2.1 7.2 5.4 8.8 6.2 7.2 3.1 4 0.9 1.6 0 1.6-0.8 1.4-0.8 0.7-1.6 0.4-4.8-1.6-3.2-2.1-5.7-6-5.4-8-4.1-8.4-2.3-6.8-1.2-7.2-0.1-6.4 0.9-6.4 2.2-7.2 2.8-5.6 4.5-7.2 5.2-6.2 4-3.7 6.4-3.9 5.4-2.2zM579 90.4l5.3-0.3 4.8 1.2 8 4.5 4.8 4.2 6 7.2 4.8 8 3 7.2 1.8 8 0.1 8.8-1.2 7.2-2.4 7.2-3.6 7.2-5.1 8-5.1 5.6-3.1 2.6-5.6 2.2-1.6-0.1-1.2-0.7-1-1.6 0-1.6 0.9-1.6 2.9-3.8 6.4-7.4 5.4-8.8 1.8-5.6 0.7-4 0.1-4.8-0.4-4-1.4-6.4-2.6-6.4-4.4-7.7-4.5-5.9-3.5-3.7-5.6-4.4-1.6-0.7-5.6-0.7-2.1-1.7-0.8-2.4 0.6-2.4 1.6-1.6 3.4-0.8zM366.8 168l1.5-0.2 1.6 0.3 5.6 2.3 4.8 3.2 1.4 1.6 0.2 1.2-0.8 0.4-2.4-0.3-3.2-1.1-3.2-1.6-4.6-3.4-1.1-1.6 0.2-0.8zM480.2 168l2.5-0.1 0.5 0.9-1.1 1.6-3 2.4-4.4 2.4-3.2 1.2-2.9 0.4-0.8-0.8 0.9-1.6 2.9-2.4 4.7-2.6 3.9-1.4zM511.1 168l2.8 0 5.6 2.2 5.1 3.4 1.4 1.6 0.3 0.8-0.4 0.7-1.6 0.1-3.2-0.9-3.2-1.4-2.9-1.7-3-2.4-1.1-1.6 0.2-0.8zM624.6 168l2.1-0.2 0.6 0.2 0.2 0.8-1.1 1.6-2.1 1.8-3.7 2.2-3.5 1.6-3.2 0.8-1.6-0.3-0.2-0.5 0.9-1.6 2.9-2.4 4.4-2.5 4.3-1.5zM440.1 169.6l0.2-0.3 0.1 0.3-0.1 0.8-2 8-1 8-1 0.1-0.1-4.1 0.7-7.2 1.8-4 1.4-1.6zM553.8 169.6l0.1-0.2 0.8 0.8 0.8 1.2 1.9 4.6 0.5 8.8-0.1 1.6-0.7 0.2-0.9-3.4-0.3-4-2.1-9.6zM584.3 169.6l0.1 1.6-1.9 8-0.5 4.8-0.5 2.4-0.4 0.2-0.4-0.2-0.1-2.4 0.3-8 1.7-4 1.7-2.4zM409.7 170.4l0.2-0.6 1.6 2.2 1.8 4.8 0.2 7.2-0.1 2.4-0.3 0.2-0.5-0.2-0.3-1.2-0.7-6-1.9-8.8zM419.4 172l0.9-0.4 0.2 0.4 0.3 12-0.9 10.4-0.4 0.4-1.1-0.4 0-4 0-6.4 1-12zM429.3 172l0.6-0.5 0.4 0.5 1.1 12 0 10.4-0.7 0.5-0.9-0.5-0.7-9 0.2-13.4zM563.8 172l0.5-0.5 0.5 0.5 0.3 12-0.8 10.4-0.8 0.5-0.8-0.5 0-7.2 1.1-15.2zM573.6 172l0.3-0.4 0.8 0.4 1 12 0 10.4-1 0.4-0.6-0.4-0.2-1.9-0.6-8.5 0.3-12z" stroke="#079ccf" stroke-width="2.4"/>
<path d="M407.8 91.2l4.5-0.3 5.6 1 1.6 1.7 0.2 1.6-0.2 1.1-0.9 1.3-1.5 0.8-5.6 0.5-2.3 1.1-6.4 4.8-5 5.6-5.3 8-3.5 7.2-1.7 5.6-1.2 8 0.4 6.4 0.9 4 1.4 4 2.4 4 4.1 5.6 6.6 7 3.2 4.2 0.5 0.8 0 1.6-0.5 0.8-1.6 0.9-4-1.1-3.2-1.7-5.9-6.1-4.4-6.4-4.9-9.7-2.3-6.3-1.4-7.2-0.3-7.2 0.9-6.4 1.9-6.4 3.6-7.2 4.1-6.4 4-4.8 4.7-4.4 6.4-4 5.1-2zM435.2 91.2l5.1-0.3 4.8 1.4 7.2 4 5.1 4.5 5.9 7.2 5.2 8.8 2.4 6.4 1.6 7.2 0.2 3.2-0.2 5.6-1.2 7.2-2.2 6.2-4.4 9-4.7 7.2-5.9 6.4-3.4 2.1-4 1.2-0.8-0.1-1.2-0.8-0.6-1.6 0.2-1 3.5-4.6 7.3-8 4-5.6 1.9-3.2 1.6-4.8 1-4.8 0.1-4.8-0.4-4-1.4-6.4-2.9-7.2-3.5-6.2-4.8-6.6-4-4.3-6.1-4.5-2.7-1.2-5.6-0.5-1.8-1.5-0.4-2.4 0.7-1.6 1.5-1.1 2.9-0.5zM552.1 91.2l4.2-0.4 5.6 1 1.4 1 0.5 0.8 0.2 1.6-0.4 1.6-1.7 1.4-5.6 0.6-2.8 1.2-6 4.4-4.8 5.2-5.5 8-3.5 7.2-2.1 6.4-1.2 8 0.4 6.4 0.9 4 1.8 4.8 5.5 8 7.3 8 3.6 4.8 0 1.6-0.5 0.8-1.1 0.8-0.8 0.1-4.8-1.6-2.7-1.7-5.9-6.4-4.2-6.4-4.8-9.5-2-5.7-1.4-7.2-0.3-7.2 0.9-6.4 2.3-7.2 3.2-6.4 3.7-5.8 5.2-6.2 4.4-4 5.6-3.4 5.4-2.2zM579.5 91.2l4.8-0.3 4.8 1.2 7.2 4 5.4 4.7 5.3 6.4 4.9 8 2.8 6.4 2 8 0.3 7.2-1.3 8.8-1.8 5.9-4 8.4-5 8.1-4.1 4.8-3.7 3.4-5.6 2.2-1.6-0.1-0.9-0.7-0.6-1.6 0.6-1.6 3.3-4.3 4.4-4.5 3.3-4 3.9-5.6 1.7-3.2 1.3-4 1-4.8 0.1-4.8-0.4-4-1.7-7.2-2.6-6.4-3.8-6.7-4.8-6.5-4.3-4.4-6.1-4.3-2.4-0.9-4.8-0.4-1.6-0.8-0.7-0.8-0.4-2.4 0.7-1.6 1.2-0.9 3.2-0.7zM370.1 170.4l0.6-0.5 0.8 0.1 3.2 1.1 2.6 1.7 1.2 1.6-1.4 0.2-2.9-1-2.7-1.6-1.4-1.6zM476.7 170.4l2-0.5 0.8 0.2 0.2 0.3-1.5 1.6-4.3 2.3-1.6 0.4-1-0.3 1.2-1.6 4.2-2.4zM514.4 170.4l0.3-0.4 0.8-0.1 3.2 1.1 2.9 1.8 1.2 1.6-1.7 0.2-2.6-1-2.6-1.6-1.5-1.6zM621 170.4l2.5-0.4 0.5 0.4-1.5 1.6-4.6 2.4-1.6 0.3-0.7-0.3 1.2-1.6 4.2-2.4zM419.5 180.8l0.8 3.2-0.8 7.3-0.5-7.3 0.5-3.2zM429.9 180.8l0.8 1.6 0.1 1.6-0.1 7.1-0.8-2.5-0.3-4.6 0.3-3.2zM563.7 181.6l0.6-0.7 0.2 3.1-0.2 3.5-0.8 4-0.2-7.5 0.4-2.4zM574.2 181.6l0.5-0.6 0.4 3-0.4 7.6-0.9-7.6 0.4-2.4z" stroke="#15b1b4" stroke-width="2.4"/>
<path d="M407.8 92l3.7-0.3 5.6 1 0.8 0.4 0.8 1.3-0.2 1.6-1.4 1.3-5.6 0.5-3.4 1.4-6.2 4.3-5.6 6.1-4.9 7.2-3.9 8.1-2 6.3-1.1 8 0.1 4.8 0.4 3.2 2.7 8 6.9 8.8 6.5 6.4 2.6 3.2 1.2 2.4-0.5 1.2-0.9 0.4-3.9-0.9-3.2-1.9-5.5-6-4.1-6.2-4.8-9.7-2.2-5.7-1.6-7.2-0.3-7.2 0.9-6.4 1.9-6.4 2.7-5.6 4.2-6.8 4.8-5.8 4.5-4.2 5.1-3.2 5.9-2.4zM435.8 92l4.5-0.3 4.8 1.3 6.8 3.8 5.2 4.6 5.6 6.8 4.7 7.8 2.4 5.6 1.9 8 0.2 7.2-1.2 8.1-2.4 7.1-4.7 9.6-4.1 6.6-5.6 6.3-3.2 2-4 1.1-0.8-0.1-0.8-0.9 0-1.2 0.6-1 3.1-4 5.1-4.8 2.8-3.2 3.8-4.8 2-3.2 1.9-5.6 0.9-4 0.1-5.6-0.3-4-1.6-7-3.2-7.8-4-6.9-4.8-6.3-4-4-6.4-4.3-2.4-1.1-5.6-0.4-1.6-1-0.4-1.2 0.4-1.7 0.8-0.7 3.5-0.8zM552.1 92l4.2-0.3 5.5 1.1 0.9 0.8 0.3 0.8-0.2 1.6-0.6 0.8-1.1 0.6-5.6 0.4-3.2 1.5-6.4 4.5-5.3 5.8-5.1 7.6-4 8.4-1.8 5.6-1 8 0.1 4.8 0.5 3.2 2.6 8 6.9 8.8 6.5 6.4 3.1 4 0.7 1.8-0.8 1.2-0.8 0.2-4-1-3.2-2-5.6-6.3-4-6.3-4.8-9.7-1.7-4.3-1.8-8-0.3-7.2 0.9-6.4 1.9-6.4 3.4-6.9 3.8-5.9 5-5.9 4-3.7 5.6-3.5 5.4-2.1zM580.1 92l4.2-0.3 4.8 1.2 7.1 3.9 4.9 4.3 5.8 6.9 4.8 8 2.4 5.6 1.9 8 0.3 7.2-0.9 6.4-2.3 7.6-4.7 10-4.1 6.7-5.2 6.1-2.8 2.3-4.8 1.6-0.9 0.1-1.1-0.8-0.2-0.8 0.7-1.6 3.1-4 4.8-4.5 3.8-4.3 5.1-7.2 1.9-5.6 0.9-4 0.1-5.6-0.3-4-1.4-6.4-2.9-7.4-4-7.2-4.8-6.4-4.5-4.6-5.9-4-3.2-1.4-5.6-0.5-0.8-0.4-0.7-0.9-0.2-1.6 0.9-1.4 3.8-1z" stroke="#59bd8c" stroke-width="2.4"/>
<path d="M408.2 92.8l3.3-0.1 4.1 0.9 1.5 0.7 0.2 0.9-1.2 0.8-4.6 0.5-1.6 0.5-7.2 4.2-5.6 5.4-5.6 7.5-4 7.5-2.3 5.6-1.2 4-1.2 8-0.1 10.8-0.8-1.3-2.1-5.5-1.1-6.3-0.1-3.3 0.2-4 0.8-4 2.3-7 2.4-4.8 3.2-5.1 3.2-4.1 4-4.3 2.4-2.1 3.4-2.2 4.6-2.3 3.1-0.9zM437.3 92.8l3.8-0.1 3.2 0.9 5 2.4 3.8 2.5 3.3 3.1 3.9 4.5 5.6 8.4 2.4 4.9 1.5 4.6 1.1 4.8 0.3 4-0.5 7.3-0.8 3.5-2.4 5.9-0.6-1.5 0.2-3.2-0.1-5.6-1-7.2-1.7-5.6-3.5-8-5.6-8.8-3.4-4-3.5-3.4-3.2-2.3-4.8-2.8-1.6-0.5-5.6-0.8-0.5-0.6 0.5-1.1 4.2-1.3zM552.4 92.8l3.1-0.2 4.3 1 1.6 0.8 0.1 0.8-1.1 0.8-4.1 0.4-2.4 0.7-7.2 4.4-5.6 5.4-5.5 7.5-3.8 7.2-2 4.8-1.5 4.8-1.1 7.2-0.2 4.8 0.2 4.8-0.5 1.6-2.4-5.7-0.8-3.3-0.6-7 0.6-6.2 0.8-3.5 1.6-4.7 2.4-4.8 3.4-5.6 3.1-4 3.9-4.2 2.4-2.2 3.7-2.4 4.3-2.1 3.3-1.1zM581.6 92.8l3.5-0.1 3.2 0.8 3.9 1.7 4.9 3.1 3.6 3.3 3.5 4 3 4 3.5 5.9 2.1 4.5 1.3 4 1 4.8 0.4 4-0.1 4-0.7 4.6-0.8 3.1-2.4 5.4-0.3-1.9 0.1-8.8-1-7.2-2-6.4-3.2-7.1-2.4-4.2-3.9-5.5-3.3-3.9-3.2-3-4.8-3.2-3.2-1.7-1.6-0.5-4.7-0.5-0.9-0.4-0.2-0.4 0.2-0.9 4.5-1.5zM387.3 160l0.2-0.5 0.8 0.2 6.9 6.7 5.1 4.4 2.6 3.6 0.2 1.6-1.2 0.3-2.4-0.4-2.4-1.3-1.1-1-3.7-4.3-2-2.9-2.2-4-0.8-2.4zM461 160l0.9-0.6 0.6 0.6-0.6 2-2.9 5.2-3 4-2.9 3.1-1.3 0.9-2.7 1-2.4-0.1-0.1-0.9 0.3-0.8 2.2-3.2 5.5-4.8 6.4-6.4zM531.5 160l0.8-0.6 0.8 0.6 6.4 6.4 5.4 4.8 2.3 3.2 0.3 1.6-1.6 0.3-1.6-0.3-3.2-1.6-6-7.2-2.3-4-1.3-3.2zM605.5 160l0.4-0.4 0.8 0 0.1 0.4-1.6 4-2.4 4-3.2 4-2.5 2.6-1.6 0.9-2.4 0.7-2.1-0.2-0.2-0.8 0.4-0.8 2.3-3.2 5.4-4.8 6.6-6.4z" stroke="#a5be6b" stroke-width="2.4"/>
<path d="M406.6 94.4l3.1 0-0.2 0.8-6.8 4.4-3.3 2.8-5 5.6-3.9 5.6-3.2 5.6-2.5 5.6-1.7 4.8-2 7.5-0.8 0-0.7-5.1 0.5-4.8 0.9-4 1.7-4.8 4-7.2 4.8-6.4 4.8-4.9 4.5-3.1 5.8-2.4zM440.2 94.4l2.5-0.1 3 0.9 5.8 3.2 4.8 4.2 5.8 7 4.6 8 2.4 6.6 0.8 4 0.3 3.8-0.3 3.5-0.8 1.9-0.8-1.5-1.8-7.1-1.9-4.8-2.5-5.6-3.9-6.4-4.1-5.6-4.2-4.5-3.2-2.5-6.4-4.2-0.1-0.8zM550.9 94.4l3 0-0.1 0.8-9.5 6.6-5 5.4-5 7.2-2.8 5.1-2.7 6.1-3.7 11.8-0.8-1.3-0.4-3.3 0.4-5.2 0.8-3.8 1.6-4.6 3.2-6.2 4-5.9 6.4-7 4.9-3.3 5.7-2.4zM584.4 94.4l2.3-0.1 3.2 0.9 6 3.2 5.2 4.7 4.8 5.8 4.8 8.1 2.4 6.1 0.9 4.1 0.5 4.8-0.6 4.9-0.8 0.3-2.6-9.2-3.4-8-2.5-4.8-3.1-4.8-3.6-4.6-4-4.1-9.3-6.5-0.2-0.8zM393.5 168l0.4-0.3 1.6 0.9 4 2.8 1.5 2.2 0.1 0.9-0.8 0.4-0.8-0.1-2.3-1.2-3.1-4-0.6-1.6zM455.3 168l1-0.1-0.2 0.9-3.5 4.8-1.9 1.1-1.6 0.1-0.4-0.4 0.1-0.8 1.1-1.8 5.4-3.8zM537.8 168l0.9-0.1 4.9 3.3 1.3 1.6 0.5 1.6-1.1 0.4-2.4-0.8-2.9-3.6-1.2-2.4zM599.6 168l0.7-0.3 0.3 0.3-0.2 0.8-3.5 4.8-2.2 1.2-1.6-0.2 0-1 1.6-2.3 4.9-3.3z" stroke="#e1b952" stroke-width="2.4"/>
<path d="M397.6 100.8l0.6 0-1 1.6-2.8 3.2-4.9 7.2-2.8 4.8-3.2 6.7-0.8 1.3-0.8 0.4 0.8-5.1 3.2-6.5 3.2-4.9 3.2-3.9 4-4 1.3-0.8zM541.8 100.8l0.3 0.8-4.6 5.6-4.7 7.2-6.1 11.6-0.4-1.2 0.5-3.2 3.9-8 4.5-6.4 3.7-4 2.9-2.4zM596 100.8l0.6 0 1.3 0.9 2.4 2.2 5.6 6.8 3.2 5.3 2.2 4.8 0.9 4.8-0.7 0.2-4.5-9-2.4-4-3.2-4.8-5.1-6.4-0.3-0.8zM452 101.6l0.3-0.7 0.8 0.5 3.2 2.9 4 4.6 2.4 3.6 2.4 4.1 1.9 4.2 0.8 4-0.3 1.3-6.7-12.5-4.8-7.2-4-4.8z" stroke="#fcce2e" stroke-width="2.4"/>
</g>
<g clip-path="url(#cp_bS2)" fill="none" stroke-linejoin="round">
<path d="M691 189l5.5 6 8 4.5 11 3.5 13 2 9-2 3-3.5 3 3.5 9 2 13-2 11-3.5 8-4.5 5.5-6-5.5 11-8 11-72 0-8-11zM835.3 189l5.5 6 8 4.5 11 3.5 13 2 9-2 3-3.5 3 3.5 9 2 13-2 11-3.5 8-4.5 5.5-6-5.5 11-8 11-72 0-8-11z" fill="#808080" stroke="none"/><path d="M668.3 164.5l-2.6 1-2.3 1.3M812.6 164.5l-2.6 1-2.3 1.3M668.4 164.5l2.6 1 2.3 1.3M957 164.5l-2.7 1-2.3 1.3M812.7 164.5l2.6 1 2.3 1.3M668.3 169.5l-1.8 0.5-4 2.9-3.2 1.8M812.6 169.5l-1.8 0.5-4 2.9-3.2 1.8M668.4 169.5l1.8 0.5 4 2.9 3.2 1.8M957 169.5l-1.9 0.5-4 2.9-3.2 1.8M812.7 169.5l1.8 0.5 4 2.9 3.1 1.8M668.3 175.7l-2 0.5-6.5 5-5.5 3.6M812.6 175.7l-2 0.5-6.5 5-5.5 3.6M668.4 175.7l2 0.5 6.5 5 5.5 3.6M957 175.7l-2.1 0.5-6.5 5-5.5 3.6M812.7 175.7l2 0.5 6.5 5 5.4 3.6M668.3 181.5l-1.6 0.3-1.4 0.9-4.9 3.6-8 5.3M812.6 181.5l-1.6 0.3-1.4 0.9-4.9 3.6-8 5.3M668.4 181.5l1.6 0.3 1.4 0.9 4.9 3.6 8 5.3M957 181.5l-1.7 0.3-1.4 0.9-4.9 3.6-8 5.3M812.7 181.5l1.6 0.3 1.4 0.9 4.9 3.6 8 5.3M668.3 187.2l-1.5 0.3-1.6 0.9-5.3 3.5-8.6 5.1M812.6 187.2l-1.5 0.3-1.6 0.9-5.3 3.5-8.6 5.1M668.4 187.2l1.5 0.3 1.6 0.9 5.3 3.5 8.6 5.1M957 187.2l-1.6 0.3-1.6 0.9-5.3 3.5-8.6 5.1M812.7 187.2l1.5 0.3 1.6 0.9 5.3 3.5 8.5 5.1M668.3 192.8l-3.1 1.1-14.3 7.4M812.6 192.8l-3.1 1.1-14.3 7.4M668.4 192.8l3.1 1.1 14.3 7.4M957 192.8l-3.2 1.1-14.4 7.4M812.7 192.8l3.1 1.1 14.3 7.4M668.3 198.3l-3.1 1.1-14.8 5.9M812.6 198.3l-3.1 1.1-14.8 5.9M668.4 198.3l3.1 1.1 14.8 5.9M957 198.3l-3.2 1.1-14.8 5.9M812.7 198.3l3.1 1.1 14.8 5.9M668.3 203l-17.9 5.4M812.6 203l-17.9 5.4M668.4 203l17.9 5.4M957 203l-18 5.4M812.7 203l17.9 5.4M667.3 208l-15 2M811.6 208l-15 2M669.4 208l15 2M956 208l-15 2M813.7 208l14.9 2M789.4 208.8l20.9-2.8M691.6 208.8l-20.9-2.8M933.7 208.8l20.9-2.8M835.9 208.8l-20.9-2.8M788.2 207.1l19.6-4.9M692.8 207.1l-19.6-4.9M932.5 207.1l19.6-4.9M837.1 207.1l-19.6-4.9M786.8 205.5l18.1-6.5M694.2 205.5l-18.1-6.5M931.1 205.5l18.1-6.5M838.5 205.5l-18.1-6.5M785.2 204.2l15.7-7.6M695.8 204.2l-15.7-7.6M929.5 204.2l15.7-7.6M840.1 204.2l-15.7-7.6M782.6 203.5l13.9-9M698.4 203.5l-13.9-9M926.9 203.5l13.9-9M842.7 203.5l-13.9-9M781.5 201.9l9.5-8.4M699.5 201.9l-9.5-8.4M925.8 201.9l9.5-8.4M843.8 201.9l-9.5-8.4" stroke="#808080" stroke-width="2.5"/><path d="M778.6 146.2l1.6-3.5 1.7-5.5 0.6-5.7-0.2-3.8-0.6-3.8-1.1-3.6-1.6-3.6-3.1-5-2.6-3.1-4.5-4.2-5.2-3.5-3.9-1.9-4-1.6-4.2-1.2-4.4-0.7-6.6-0.5-6.6 0.5-4.4 0.7-4.2 1.2-4 1.6-3.9 1.9-5.2 3.5-4.5 4.2-2.6 3.1-3.1 5-1.6 3.6-1.1 3.6-0.6 3.8-0.2 3.8 0.6 5.7 1.7 5.5 1.6 3.5M922.9 146.2l1.6-3.5 1.7-5.5 0.6-5.7-0.2-3.8-0.6-3.8-1.1-3.6-1.6-3.6-3.1-5-2.6-3.1-4.5-4.2-5.2-3.5-3.9-1.9-4-1.6-4.2-1.2-4.4-0.7-6.6-0.5-6.6 0.5-4.4 0.7-4.2 1.2-4 1.6-3.9 1.9-5.2 3.5-4.5 4.2-2.6 3.1-3.1 5-1.6 3.6-1.1 3.6-0.6 3.8-0.2 3.8 0.6 5.7 1.7 5.5 1.6 3.5M774.8 144.2l1.6-3.5 1.5-5.4 0.4-3.8-0.2-3.7-0.7-3.7-1.3-3.6-1.8-3.5-2.2-3.2-2.7-3-3.2-2.7-3.5-2.4-3.8-2-4-1.7-4.3-1.2-4.5-0.7-4.5-0.4-4.5 0.1-4.5 0.6-4.3 1-4.2 1.4-4 1.8-3.6 2.2-4.9 4-2.7 3-2.2 3.2-1.8 3.5-1.3 3.6-0.7 3.7-0.2 3.7 0.4 3.8 1.5 5.4 1.6 3.5M919.1 144.2l1.6-3.5 1.5-5.4 0.4-3.8-0.2-3.7-0.7-3.7-1.3-3.6-1.8-3.5-2.2-3.2-2.7-3-3.2-2.7-3.5-2.4-3.8-2-4-1.7-4.3-1.2-4.5-0.7-4.5-0.4-4.5 0.1-4.5 0.6-4.3 1-4.2 1.4-4 1.8-3.6 2.2-4.9 4-2.7 3-2.2 3.2-1.8 3.5-1.3 3.6-0.7 3.7-0.2 3.7 0.4 3.8 1.5 5.4 1.6 3.5" stroke="#808080" stroke-width="2.7" stroke-dasharray="11 4"/><path d="M753.6 132.4l-0.2-4.7-0.5-2.3-1.8-4.2-1.2-1.8-1.4-1.5-1.6-1.3-1.7-1-1.9-0.7-1.8-0.4-2 0-1.8 0.4-1.9 0.7-1.7 1-1.6 1.3-1.4 1.5-1.2 1.8-1.8 4.2-0.5 2.3-0.2 4.7M897.9 132.4l-0.2-4.7-0.5-2.3-1.8-4.2-1.2-1.8-1.4-1.5-1.6-1.3-1.7-1-1.9-0.7-1.8-0.4-2 0-1.8 0.4-1.9 0.7-1.7 1-1.6 1.3-1.4 1.5-1.2 1.8-1.8 4.2-0.5 2.3-0.2 4.7M735.5 138.2l10 0M879.8 138.2l10 0" stroke="#808080" stroke-width="2.3" stroke-dasharray="12 5"/><path d="M711 133l0 7.9 0.5 2.2 1 2.1 1.2 1.6 1.1 0.7 1.2-0.7 1.2-1.6 1-2.1 0.5-2.2 0-7.9M770 133l0 7.9-0.5 2.2-1 2.1-1.2 1.6-1.1 0.7-1.2-0.7-1.2-1.6-1-2.1-0.5-2.2 0-7.9M855.3 133l0 7.9 0.5 2.2 1 2.1 1.2 1.6 1.1 0.7 1.2-0.7 1.2-1.6 1-2.1 0.5-2.2 0-7.9M914.3 133l0 7.9-0.5 2.2-1 2.1-1.2 1.6-1.1 0.7-1.2-0.7-1.2-1.6-1-2.1-0.5-2.2 0-7.9M700 133l0.2 8M781 133l-0.2 8M844.3 133l0.2 8M925.3 133l-0.2 8" stroke="#808080" stroke-width="2.3" stroke-dasharray="12 5"/><path d="M779.3 128l1.3-0.3 2 1.1 1.5 2.4 1.2 3.2 1.8 8.8 0.6 9.6 1.5 4.8 1.2 1.6 2.2 1.9 3.2 1.7 2.4 0.5 2.7-0.1 8.5-1.8 3.2-0.2 3.2 0.2 8.6 1.8 2.6 0.1 3.2-0.8 3.2-1.9 2.2-2.2 1.5-3.2 0.6-3.2 0.4-8 1.2-7.2 2.1-5.9 1.3-2.1 1.1-0.9 0.8-0.2 1.4 0.3 1.8 1.9 1.8 3.7 4.4 11.2 1.8 3.3 3.9 6.3 0.9 0.8 1.6 0.7 0.8 0 1-0.7 2.8-4 1.8-3.3 4.8-11.4 0.8-0.9 0.8-0.3 0.8 0.2 1 1.3 0.9 3.2 1.8 18.4 0.5 1.6 2.1 3.2 0.8 2.4 0.7 0.8 0.7 9.6-0.1 14.4-0.7 6.4-1.4 4.8-0.9 1.6-2.2 1.5-2.4 0.3-2.4-1-1.6-2.2-0.8-0.5-14.4-2.4-6.4-2-8.8-5.6-19.2-14.9-7.2-4.2-3.2-0.9-3.2 1-7.2 4.1-19.2 15-8.8 5.6-6.4 2-14.4 2.4-2.3 2.6-1.7 0.8-1.6 0.3-2.4-0.8-1.9-1.9-1.8-6.4-0.8-9.6 0.1-10.4 0.6-9.6 1.2-1.6 0.8-2.4 1.7-2.4 0.7-2.4 1.4-16 1.1-4.8 0.9-1.2 0.8-0.3 0.8 0.2 0.8 0.9 4.8 11.2 2.9 5.2 1.1 1.7 1.6 1.4 1.6-0.2 0.9-0.5 1.5-1.5 2.4-4 2.6-4.9 5.4-13.2 1.6-2.6 1.1-1zM662.2 161.8l4-0.5 4 0 9.6 1.9 2.4 0.1 4-0.9 3.7-2.4 1.9-2.4 1.2-3.2 0.5-3.2 0.4-8 1.8-8.8 2.1-4.8 2-1.8 1.9 0.2 2.1 2.4 6.3 15.2 4.9 8.3 1.3 1.3 1.1 0.5 1.6 0.1 2-2.2 3.6-6.4 4.4-10.4 1.2-1.4 0.8-0.1 0.8 0.5 0.7 1 0.9 3.2 1.8 18.4 0.5 1.6 2.1 3.2 0.4 1.6 1.2 1.6 0.8 19.2-0.7 9.6-1.7 6.4-0.9 1.6-1.1 1-1.6 0.7-1.6 0.2-2.4-0.9-2.4-2.8-16-2.7-3.2-1-3.2-1.4-7.6-5.1-18-14.1-8.8-5.1-1.6-0.6-1.6 0-5.6 2M957.4 171.1l-1.6 0.3-2.4 1-7.2 4.2-18.7 14.6-8.5 5.5-2.4 1.1-4 1.1-15.2 2.5-1.6 2.2-2.4 1.3-1.6 0.1-1.6-0.4-1.8-1.4-0.9-1.6-1.8-7.2-0.7-8.8 0.8-18.4 1.3-2.4 0.4-1.6 2.1-3.2 0.5-1.6 1.8-18.4 0.9-3.2 1.4-1.4 0.8 0 1.3 1.4 4.3 10.2 3.7 6.6 1.9 2.1 1.6 0.1 1.2-0.6 1.2-1.1 5-8.5 5.1-12.8 1.7-3.2 1.8-1.7 1.6-0.1 1.5 1 0.9 1.3 2 5.1 1.6 8 0.7 10.4 1 3.2 1.9 2.8 1.6 1.3 2.4 1.4 4 1 2.4-0.1 8.8-1.8 3.2-0.1" stroke="#352a87" stroke-width="2.4"/>
<path d="M697.9 142.4l1.1-0.5 2.4 0 2.4 0.8 2.4 1.6 2.4 2.7 5.6 8.4 1.6 1.6 3.1 2.2 2.5 4.7 0.8 0.6 0.6-6.9 2-7.2 3-6 1.6-1.3 0.8 0.5 1.2 3.6 0.5 6.4-0.4 7.2-1.2 6.4-1.3 4-1.5 3.2-1.3 1.6-0.8 0.4-1.6 0.1-1.2 3.5-2 1.9-1.6 0.6-2.4-0.1-2.4-0.8-2.4-1.5-5-4.9-5-7.2-3.9-8-1.7-5.6-0.3-4 0.2-4 0.5-2.2 1.3-1.8zM778 142.4l2.6-0.6 1.6 0.1 1.6 1.2 0.8 1.8 0.5 3.9-0.2 4.8-0.6 3.2-1.8 4.8-2.4 4.8-2.9 4.8-3 4-3.2 3.4-3.2 2.4-2.4 1.2-2.4 0.4-2.4-0.5-2.2-2.1-1.2-3.2-0.6-0.7-0.8 0.3-0.8-0.3-1.6-1.8-2.5-6.3-1.2-5.6-0.6-6.4 0.2-6.4 0.9-4.9 0.8-1.3 0.8-0.2 0.8 0.5 1.6 2.3 1.4 2.8 2.3 7.2 1.1 9.4 1.6-3.8 1.5-2.4 3.3-2.4 1.5-1.6 4.9-7.4 2.4-2.9 1.6-1.4 2.2-1.1zM842.2 142.4l1.6-0.6 2.4 0.2 2.4 1 2.4 1.8 2.4 2.9 5.6 8.2 4.2 3.3 1.5 2.4 1.5 3.5 1.2-9.1 2.3-7.2 1.3-2.7 1.6-2.3 0.8-0.6 0.8 0.1 0.8 1.2 0.9 4.3 0.3 6.4-0.7 7.2-1.1 5.6-1.4 4-1.2 2.5-1.6 1.7-0.8 0.2-0.8-0.3-1.7 3.9-2.3 2.1-1.6 0.5-2.4-0.2-2.4-1-2.4-1.6-2.5-2.2-2.9-3.2-4.8-7.2-3.8-8-1.3-4.8-0.3-4 0.2-4 0.6-2.4 1.2-1.6zM922.2 142.4l2.4-0.6 2.4 0.3 1.1 1.1 0.7 1.6 0.6 3.2-0.1 4.8-0.5 3.2-1.4 4-4.9 9.6-3.3 4.8-2.6 2.9-3.2 2.8-3.2 1.9-2.4 0.6-2.4-0.3-1.6-1-1.1-1.3-0.8-1.6-0.5-2.5-1.6 0.5-1.6-1.3-1.6-3-1.1-3.3-1.5-6.4-0.5-6.4 0.1-6.4 0.9-4.8 0.5-1.1 0.7-0.5 0.9 0.2 2.4 3.5 2.6 6.7 0.9 4 0.5 4.8 0.8 1.7 2.4-4.7 4.8-3.9 6.4-9.4 2.4-2.4 2.4-1.3zM675.6 164.8l1-0.3 2.4 0.2 6.4 1.7 6.4 3.5 7.2 4.8 6.2 5.3 2.2 2.4 1.4 2.4 5.5 4.8 3.7 4.8 0.1 0.8-0.4 0.8-1.1 0.5-1.2-0.5-3.9-4.8-6.1-5-4-1.3-4.8-2.2-5.6-3.2-5.6-3.8-4.6-3.7-3.4-3.2-1.8-2.4-0.3-0.8 0.3-0.8zM801.2 164.8l3.4-0.3 0.9 0.3 0.2 0.8-2.1 3.2-4.3 4-5.9 4.5-6.4 4-6.4 3.2-5.6 2.1-5.4 4.6-4.2 5-0.8 0.3-1.3-0.5-0.4-0.8 0.1-0.8 3-4 6.2-5.6 2.1-3.2 5.1-4.8 6-4.5 6.4-3.9 4.8-2.4 4.6-1.2zM819.8 164.8l1.6-0.3 1.6 0.1 6.4 1.7 5.6 2.9 8 5.3 6.5 5.5 2.2 2.4 1.4 2.4 5.9 5.2 3.3 4.4 0.1 0.8-0.4 0.8-1.4 0.5-0.8-0.4-4.1-4.9-5.5-4.7-4.8-1.7-4.8-2.3-5.6-3.2-5.6-3.8-4.3-3.5-3.4-3.2-1.8-2.4-0.3-0.8 0.2-0.8zM945.5 164.8l3.1-0.3 1.1 0.3 0.3 0.8-2.1 3.2-4.3 4-7 5.2-6.4 3.9-5.6 2.8-4.8 1.6-6 4.9-3.9 4.8-1.3 0.5-1-0.5-0.4-0.8 0.1-0.8 3.7-4.8 5.5-4.8 2.1-3.2 5.1-4.8 7.3-5.3 6.4-3.8 4-1.8 4.1-1.1zM737.3 165.6l0.9 0.2 0.5 0.6 0.6 9.6 0.1 10.4-0.7 8-1 4-1.7 4-1.8 1.3-1.6 0.1-1.6-0.5-1-0.9-0.8-1.6 0-1.6 4.6-24.8 2.2-8 1.3-0.8zM743.7 165.6l1.4 0.8 0.3 2.1 2 6.7 1.2 7.8 3.1 15.4 0.2 1.6-0.4 1.6-1.3 1.6-1.6 0.6-1.6-0.1-2-1.3-1.7-4-1-4-0.7-8 0.1-10.4 0.6-9.6 0.7-0.7 0.7-0.1zM887.7 165.6l0.9 0.1 0.6 0.7 1 3.9 0.5 0.9 5.3 27.2 0.1 2.4-0.8 1.6-1.1 1-1.6 0.5-1.6-0.3-1.7-1.2-1.7-4-1-4-0.7-8 0.1-10.4 0.6-9.6 1.1-0.8zM880.2 166.4l1.2-0.8 0.8 0.1 0.8 0.7 0.2 0.8 0.4 8.8 0.1 10.4-0.4 4.8-0.6 4.8-1.9 5.6-1.8 1.9-2.4 0.3-1.4-0.6-1-0.9-0.7-1.5 0-1.6 4.3-23.2 1.5-6.4 0.5-0.7 0.4-2.5z" stroke="#0f5cdd" stroke-width="2.4"/>
<path d="M728.3 147.2l1.1 0.2 1 3 0.4 4.8-0.4 4.8-0.8 4.8-1.3 4-1.3 2.5-0.8 0.7-0.8 0.1-0.9-0.9-0.9-3.2-0.2-4 0.3-4.8 1.7-7.3 1.6-3.4 1.3-1.3zM751.9 147.2l0.7-0.1 0.8 0.6 1.6 2.7 1.1 3.2 0.9 4 0.5 4.8 0 4.8-0.7 3.2-1 1.6-0.8 0.1-0.8-0.6-1.2-1.9-1.2-3.3-1-4.7-0.5-4.8 0.1-4.8 0.6-3.4 0.9-1.4zM872.5 147.2l0.9 0 0.6 0.8 0.7 2.4 0.4 4-0.3 4.8-0.7 4.8-1.2 4-1.1 2.5-1.6 1.6-0.8-0.1-0.6-0.8-0.7-2.4-0.4-4 0.2-4.8 0.7-4 1.1-4 1.3-3 1.5-1.8zM896.3 147.2l1.1 0.2 1.6 2.4 1.4 3.8 1.1 4.8 0.4 4.8-0.2 4.8-0.9 3.2-1 0.9-0.8-0.2-0.8-0.8-1.2-2.3-1.3-4-0.7-4-0.4-4.8 0.1-4 0.5-3.2 0.6-1.3 0.5-0.3zM701.1 148l1.1-0.4 1.6 0.1 2.4 0.9 1.6 1.2 7.8 9.4 1.6 2.4 2.1 5.6 0.7 4.8-0.2 2.4-0.6 2.4-1 1.6-0.8 0.6-1.6 0.4-1.6-0.3-3.2-1.9-3.5-3.6-3.2-4.8-3.2-7.2-1.6-6.4-0.2-2.4 0.2-2.4 0.7-1.6 0.9-0.8zM776.1 148l2.1-0.5 1.6 0.4 1 0.9 0.7 1.6 0.2 2.4-0.3 3.2-2.1 7.2-3 6.4-4.5 6-4 3.1-2.4 0.7-1.6-0.3-1-0.7-1-1.6-0.7-3.2 0.3-4.8 1.3-4.8 2-4 6.3-7.9 2.4-2.5 2.7-1.6zM845.4 148l1.6-0.5 1.6 0.3 3.2 1.7 2.4 2.5 6.4 8 0.9 1.6 2.1 5.6 0.7 4.8-0.2 2.4-0.6 2.4-1 1.6-1.1 0.7-1.6 0.3-1.6-0.4-3.2-2-3.9-4.2-3-4.8-2.4-5.6-1.9-7.2-0.2-2.4 0.2-2.4 0.7-1.6 0.9-0.8zM920.4 148l1.8-0.4 1.6 0.2 1.3 1 0.7 1.6 0.2 2.4-0.3 3.2-2.1 7.2-3.5 7.2-3.6 4.8-2.3 2.1-2.4 1.5-1.6 0.5-1.8-0.1-1.9-1.6-0.7-1.6-0.4-2.4 0.3-4.8 1.3-4.8 2-4 6.8-8.5 2.4-2.3 2.2-1.2zM736.4 166.4l1-0.5 0.9 0.5 0.2 0.8 0.4 8.8 0 10.4-0.4 4.8-0.8 4.8-1.9 5.1-1.6 1.7-1.6 0.2-1.4-0.6-0.7-0.8-0.5-1.6 0.1-1.6 3.8-21.6 2.5-10.4zM742.7 166.4l1.1-0.5 0.7 0.5 1.1 4 1.7 7.2 3.4 19.2 0.2 4-0.7 1.2-1.6 0.9-1.6-0.1-1.5-1.2-1.5-3.2-1.1-4-0.8-10.4 0-8 0.6-9.6zM880.8 166.4l0.6-0.5 0.8 0.1 0.4 0.4 0.2 1.6 0.4 16-0.6 8.8-0.8 4-2 4.8-1.6 1.3-1.6 0-1.8-1.3-0.5-1.6 0.1-1.6 4.1-23.2 2.3-8.8zM887 166.4l0.8-0.5 1 0.5 1.5 5.6 4.8 25.6 0.2 2.4-0.3 1.3-0.9 1.1-1.5 0.6-1.6-0.3-1.2-1.1-1.5-3.2-1.1-4-0.8-10.4 0-8 0.6-9.6zM679.5 167.2l1.9-0.4 3.2 0.8 4 1.8 4.8 2.8 5.3 3.8 3.5 3.2 1.9 2.4 0.3 0.8-0.3 0.8-1.9 0.2-3.2-1-4-1.9-4.8-2.9-4.6-3.2-3.6-3.2-2.1-2.4-0.4-1.6zM797.5 167.2l3.1-0.4 0.9 0.4 0 0.8-1.7 2.4-4.4 4-6 4.1-5.6 3.1-4.8 1.7-2.1-0.1-0.3-0.8 1.4-2.4 5.4-4.8 7.6-5 6.5-3zM823.8 167.2l1.6-0.5 3.2 0.8 4 1.8 5.6 3.2 4.8 3.5 3.5 3.2 1.9 2.4 0.3 0.8-0.3 0.8-1.4 0.2-3.2-0.8-4-1.9-4.8-2.7-5.1-3.6-3.6-3.2-2.1-2.4-0.4-1.6zM941.8 167.2l2.8-0.5 1.2 0.5-0.1 0.8-1.6 2.4-4.4 4-5.5 3.8-5.6 3.1-4.8 1.9-1.6 0.2-1-0.2-0.3-0.8 0.8-1.6 2.2-2.4 3.1-2.7 7.2-4.9 4-2.1 3.6-1.5z" stroke="#127dd8" stroke-width="2.4"/>
<path d="M727.3 151.2l0.5-0.5 0.8 0.1 0.6 1.2 0.4 2.4 0 4-1.2 6.4-1.4 3-0.8 0.6-0.8-0.4-0.6-1.6-0.2-5.6 0.9-5.6 0.7-2.1 1.1-1.9zM752.2 151.2l0.4-0.5 0.8 0.1 0.8 1.1 1 2.5 0.8 3.2 0.5 4-0.1 3.2-0.6 2.8-0.8 0.8-0.8-0.3-0.8-1.2-1.6-5.4-0.5-6.3 0.3-2.4 0.6-1.6zM871.6 151.2l1-0.6 0.8 1 0.5 2.8 0 4-1.3 6.8-1.6 2.9-0.8 0.3-0.8-1-0.4-1.8-0.1-4.8 0.9-5.6 1.8-4zM896.4 151.2l1-0.5 0.8 0.7 1.3 3 0.9 4 0.4 4-0.2 3.2-0.8 2.5-0.8 0.3-0.8-0.7-0.8-1.5-1.4-5.4-0.4-5.6 0.3-2.4 0.5-1.6zM704.6 153.6l0.8-0.2 1.6 0.4 2.4 1.6 3.2 3.8 1.9 3.2 1.8 4.8 0.9 4.8-0.4 3.2-1.2 1.6-2.2 0.1-3.2-2-2.5-2.9-2.4-4-1.8-4.8-0.6-4 0.4-4 0.5-1 0.8-0.6zM774.6 153.6l2 0.1 0.8 0.8 0.7 2.3-0.3 4.8-1.3 4.8-2.6 4.8-2.9 3.5-3.2 2.1-1.6 0.2-0.8-0.2-1.2-1.6-0.4-3.2 0.7-4 1.3-4 2-3.9 2.4-3.2 2.4-2.3 2-1zM849 153.6l2 0.1 2.4 1.5 3.2 3.6 2.4 4 1.8 5.2 0.7 4-0.4 3.2-1.3 1.6-0.8 0.2-1.6-0.2-3.2-2.2-2.8-3.4-2.2-4-1.6-4.8-0.5-4 0.5-3.2 0.4-0.8 1-0.8zM918.9 153.6l1.7 0 0.8 0.5 0.9 1.9 0 4.8-1.2 4.8-2.4 4.8-2.9 3.8-3.2 2.4-2.4 0.4-0.8-0.4-0.8-1.1-0.5-2.7 0.3-3.2 1.4-4.8 1.9-4 2.5-3.6 2.4-2.4 2.3-1.2zM737 166.4l0.8 0 0.4 0.8 0.4 8.8-0.1 10.4-0.6 6.4-0.9 4-1.4 3.2-1.4 1.8-1.6 0.3-1.1-0.5-0.5-0.8-0.1-4 3.6-21.6 2.5-8.8zM743.1 166.4l1 0 1.6 5.6 3.9 21.6 0.6 6.4-0.7 1.6-0.9 0.5-1.6-0.2-0.8-0.6-1.9-3.7-0.9-3.2-1-11.2 0-7.2 0.4-8 0.3-1.6zM881.2 166.4l1 0 0.4 3.2 0.2 13.6-0.4 7.2-0.5 4-1.2 4-1.7 3-1.6 0.8-1.6-0.6-0.5-0.8-0.1-4 3.5-20.8 2.5-9.6zM887.5 166.4l0.8 0 0.3 0.5 1.8 6.7 3.9 22.4 0.2 2.4-0.2 2.4-0.5 0.8-1.2 0.6-1.6-0.4-0.8-1-1.6-3.2-1.1-4-0.7-7.2-0.1-10.4 0.3-7.3 0.5-2.3zM683.4 169.6l1.2-0.3 1.6 0.3 6.2 3.2 5.4 4 1.6 1.6 1 1.6-0.6 0.8-1.6-0.3-3.2-1.3-3.2-1.7-6.3-4.7-1.5-1.6-0.6-1.6zM794.9 169.6l2.5-0.2 0.1 1-2 2.4-2.9 2.4-4 2.6-4 2.1-3.2 0.9-0.8-0.7 1.7-2.5 3.9-3.2 4.8-3 3.9-1.8zM827.7 169.6l0.9-0.3 1.6 0.2 6.5 3.3 6.3 4.8 1.3 1.6 0.3 1.2-0.8 0.4-2.4-0.6-6.4-3.4-5.2-4-1.5-1.6-0.6-1.6zM939.3 169.6l2.1-0.3 0.5 0.3-0.1 0.8-1.2 1.6-2.7 2.4-3.7 2.6-4 2.3-3.2 1.2-1.6 0.2-0.5-0.7 0.4-0.8 3.1-3.2 5.8-4 5.1-2.4z" stroke="#079ccf" stroke-width="2.4"/>
<path d="M727 155.2l0.8-0.5 0.3 0.5 0.4 1.6-0.1 2.4-0.6 3.2-0.8 1.7-0.8 0.1-0.4-1.8 0-2.4 0.4-2.7 0.8-2.1zM752.9 155.2l0.5-0.5 0.8 0.8 0.8 2.9 0.1 4.8-0.1 0.6-0.8 0.5-0.8-1.3-0.8-3.5-0.1-2.7 0.4-1.6zM871.4 155.2l0.4-0.5 0.8 0.8 0.2 2.9-0.7 4-1.1 1.9-0.8-0.8-0.2-2.7 0.5-3.2 0.9-2.4zM897.2 155.2l0.2-0.4 0.8 0.2 1 2.6 0.4 4-0.6 2.7-0.8-0.3-0.9-2.4-0.5-4 0.4-2.4zM706.3 160l1.5-0.3 1.6 0.8 1.6 1.5 1.9 2.8 1.5 3.2 0.8 3.2-0.1 2.4-0.9 1.2-1.6 0.1-1.6-0.9-2.4-2.4-1.7-2.8-1.3-3.2-0.4-2.4 0.2-1.8 0.9-1.4zM772.4 160l1.8-0.3 0.8 0.5 0.6 1.4 0.1 2.4-0.9 3.2-1.6 3.2-2.2 2.7-2.4 1.7-1.6 0.1-0.8-0.7-0.4-1.4 0.1-2.4 0.7-2.4 2.8-5.2 1.6-1.8 1.4-1zM850.6 160l1.2-0.4 2.4 1.3 1.6 1.8 1.8 2.9 1.3 3.2 0.7 3.2-0.2 1.6-0.4 0.8-0.8 0.5-1.6-0.1-1.6-1-2.4-2.6-1.4-2.4-1.3-3.2-0.4-2.4 0.2-1.6 0.9-1.6zM916.7 160l1.5-0.4 0.8 0.3 0.8 1.2 0.2 2.9-0.9 3.2-1.7 3.4-2.4 2.8-2.4 1.5-1.6-0.2-0.8-1.1-0.2-1.6 1.2-4.8 2.8-4.8 2.7-2.4zM737.2 167.2l0.2-0.4 0.2 0.4 0.3 1.6 0.4 7.2-0.2 10.4-0.5 5.6-0.6 3.2-1.2 3.1-1.6 2.3-0.8 0.4-0.8 0-0.8-0.7-0.3-1.1 0.3-5.6 2.9-17.6 1.9-7.7 0.6-1.1zM743.5 167.2l0.3-0.3 0.8 2 1.7 7.1 2.9 17.6 0.3 5.6-0.7 1.6-1 0.3-1.6-1.2-1.3-2.3-1.1-3.2-0.4-2.4-0.5-5.6-0.2-10.4 0.3-7.3 0.5-1.5zM881.3 167.2l0.9 0.6 0.4 8.2-0.2 10.4-0.4 4.8-0.5 3.2-0.9 2.9-1.6 2.8-1.6 1-0.9-0.3-0.7-1.6 0.3-5.6 2.7-16.8 2.5-9.6zM887.7 167.2l0.1-0.3 0.8 1.1 1.7 6.4 3.2 19.2 0.3 5.6-0.4 1.3-0.8 0.6-1.6-0.6-0.8-1-1.4-2.7-0.8-3.2-0.8-7.2-0.2-10.4 0.7-8.8zM688 172.8l0.6-0.4 0.8 0.2 2.1 1 3.3 2.4 1 1.6-0.9 0-3.3-1.6-2.2-1.6-1.4-1.6zM791 172.8l1.6-0.3 0.4 0.3-1.4 1.6-3.8 2.5-2.5 0.7 0.1-0.8 1.7-1.6 3.9-2.4zM832.3 172.8l0.3-0.3 0.8 0 2.4 1.1 3.3 2.4 0.8 0.8 0.1 0.8-1-0.1-3.1-1.5-2.2-1.6-1.4-1.6zM935.4 172.8l1.2-0.3 0.7 0.3-1.4 1.6-3.6 2.4-2.7 0.8 0.2-0.8 1.6-1.6 4-2.4z" stroke="#15b1b4" stroke-width="2.4"/>
<path d="M707.8 164l0.8-0.2 1.6 0.8 2 2.6 1.2 3.8-0.1 1-0.7 0.7-1.6-0.4-2.4-2.7-1.3-3.2 0-1.6 0.5-0.8zM771.7 164l0.9-0.2 0.8 0.4 0.3 1.4-0.3 1.8-1 2.2-1.4 1.8-1.6 1.2-0.8 0.2-0.8-0.6-0.2-1 0.5-2.4 1.3-2.6 2.3-2.2zM852.1 164l1.3-0.1 0.8 0.5 1.8 2 1.5 3.2 0.2 1.6-0.3 1.1-0.8 0.5-0.8-0.2-2.4-2.2-0.9-1.6-0.9-2.4 0-1.6 0.5-0.8zM916.1 164l1.3-0.1 0.6 0.9 0 1.6-0.5 1.6-0.9 1.8-1.6 1.9-1.6 1-0.8 0-0.7-1.5 0.7-3 1.6-2.6 1.9-1.6zM737.2 168.8l0.2-0.3 0.2 1.1 0.5 6.4-0.3 10.4-0.4 4-0.6 4-0.8 2.4-1 1.6-0.8 0.9-0.8 0.3-0.8-0.4-0.4-0.8 0-4.8 2.7-17.6 1.7-6.5 0.6-0.7zM743.7 168.8l0.1-0.4 0.8 1.7 1.5 5.9 2.7 17.6 0.1 4-0.3 1.3-0.8 0.7-0.8-0.2-1.6-1.9-1.2-3.1-0.5-3.2-0.5-4.8-0.3-10.4 0.8-7.2zM881.3 168.8l0.1-0.3 0.2 0.3 0.4 1.6 0.4 5.6-0.3 10.4-0.5 4.8-0.5 3.2-1.3 3.2-1.6 1.9-0.8 0.1-0.8-0.9-0.2-1.1 0.1-4 2.7-17.6 1.4-5.6 0.7-1.6zM887.8 168.8l0.8 0.4 1.8 6.8 2.7 17.6 0 4.8-0.5 0.9-0.8 0.3-0.8-0.4-1.6-2.3-0.9-2.5-0.5-3.2-0.5-4.8-0.3-10.4 0.6-7.2z" stroke="#59bd8c" stroke-width="2.4"/>
<path d="M736.5 171.2l0.1-0.2 0.8 0.2 0.4 4.8-0.4 11.4-1.3 7.8-1.1 2.1-0.8 0.7-0.8 0.1-0.8-1.6 0-2.9 2.5-16.8 1.4-5.6zM743.7 171.2l0.1-0.7 0.8 1 0.8 3 1.9 11.1 1.1 8.8-0.1 2.4-0.5 1.2-0.8 0.1-1.6-1.7-1.1-3.6-0.9-9.6-0.2-7.2 0.5-4.8zM881 171.2l0.4-0.8 0.7 5.6-0.5 12-1 6.7-0.8 1.9-1.6 1.5-0.8-0.2-0.4-1.1-0.1-3.2 2.6-17.6 1.1-4.2 0.4-0.6zM888.1 171.2l0.5-0.4 1.6 5.8 2.5 17-0.1 3.2-0.8 1.3-0.8-0.2-0.8-0.7-0.8-1.4-1-4.6-0.6-4.8-0.3-10.4 0.6-4.8z" stroke="#a5be6b" stroke-width="2.4"/>
<path d="M736.5 173.6l0.1-0.6 0.9 3-0.4 10.4-1.2 8-0.9 1.7-0.8 0.5-0.8-0.5-0.3-2.5 2.5-17.6 0.9-2.4zM744.3 173.6l0.3-0.2 0.9 2.6 2.4 17.6-0.1 1.9-0.8 1.1-0.8-0.3-1.1-1.9-1.3-8-0.2-10.4 0.2-1.9 0.5-0.5zM888.4 173.6l0.2-0.7 1.1 3.1 2.5 17.6-0.3 2.4-0.9 0.6-0.8-0.6-0.8-1.6-1.1-6.4-0.5-12 0.6-2.4zM880.4 174.4l0.2-0.8 0.8 0.1 0.3 2.3-0.3 11-1.2 7.4-1.2 2-0.8 0.2-0.7-1.4-0.1-1.6 2.4-17.6 0.6-1.6z" stroke="#e1b952" stroke-width="2.4"/>
<path d="M736.6 175.2l0.3 0.8-0.3 11.9-1.4 6.5-1 0.6-0.4-1.4 0.7-8 1.3-8.9 0.8-1.5zM744.6 175.2l1.9 10.4 0.7 8-0.2 1.3-0.8 0-0.4-0.5-1.3-5.6-0.4-12.8 0.5-0.8zM888.6 175.2l0.8 0.9 0.1 2.3 1.3 7.2 0.7 8 0 0.8-0.5 0.7-0.9-0.7-1.5-7.3 0-11.9zM880.4 176l0.2-0.7 0.8 0.7-0.4 2.4 0 8-1.2 7.3-0.8 1.3-0.8-0.2-0.1-0.4 0.1-3.2 0.8-7.2 1.4-8z" stroke="#fcce2e" stroke-width="2.4"/>
<path d="M889.4 182.4l0.8 2.4 0 5.5-0.8-2-0.2-1.9 0.2-4zM735.6 183.2l0.2-0.7 0.3 0.7 0 3.2-0.3 2.3-0.8 1.5 0-4.6 0.6-2.4zM744.9 183.2l0.5-0.4 0.5 2.8 0.2 3.2-0.7 0.6-0.5-3 0-3.2zM879.8 183.2l0.8-0.2 0 1-0.8 5.7-0.5-1.7 0.5-4.8z" stroke="#f9fb0e" stroke-width="2.4"/>
</g>
<g clip-path="url(#cp_bV1)" fill="none" stroke-linejoin="round">
<path d="M375.4 390.5l5.5 6 8 4.5 11 3.5 13 2 9-2 3-3.5 3 3.5 9 2 13-2 11-3.5 8-4.5 5.5-6-5.5 11-8 11-72 0-8-11zM519.7 390.5l5.5 6 8 4.5 11 3.5 13 2 9-2 3-3.5 3 3.5 9 2 13-2 11-3.5 8-4.5 5.5-6-5.5 11-8 11-72 0-8-11z" fill="#808080" stroke="none"/><path d="M352.7 366l-2.6 1-2.4 1.3M497 366l-2.6 1-2.4 1.3M352.8 366l2.6 1 2.4 1.3M641.3 366l-2.6 1-2.4 1.3M497 366l2.7 1 2.4 1.3M352.7 371l-1.8 0.5-4 2.9-3.2 1.8M497 371l-1.8 0.5-4 2.9-3.2 1.8M352.8 371l1.8 0.5 4 2.9 3.2 1.8M641.3 371l-1.8 0.5-4 2.9-3.2 1.8M497 371l1.9 0.5 4 2.9 3.1 1.8M352.7 377.2l-2 0.5-6.5 5-5.5 3.6M497 377.2l-2 0.5-6.5 5-5.5 3.6M352.8 377.2l2 0.5 6.5 5 5.5 3.6M641.3 377.2l-2 0.5-6.5 5-5.5 3.6M497 377.2l2.1 0.5 6.5 5 5.4 3.6M352.7 383l-1.6 0.3-1.4 0.9-4.9 3.6-8.1 5.3M497 383l-1.6 0.3-1.4 0.9-4.9 3.6-8.1 5.3M352.8 383l1.6 0.3 1.4 0.9 4.9 3.6 8.1 5.3M641.3 383l-1.6 0.3-1.4 0.9-4.9 3.6-8.1 5.3M497 383l1.7 0.3 1.4 0.9 4.9 3.6 8 5.3M352.7 388.7l-1.5 0.3-1.6 0.9-5.3 3.5-8.5 5.1M497 388.7l-1.5 0.3-1.6 0.9-5.3 3.5-8.5 5.1M352.8 388.7l1.5 0.3 1.6 0.9 5.3 3.5 8.5 5.1M641.3 388.7l-1.5 0.3-1.6 0.9-5.3 3.5-8.5 5.1M497 388.7l1.6 0.3 1.6 0.9 5.3 3.5 8.5 5.1M352.7 394.3l-3.1 1.1-14.4 7.4M497 394.3l-3.1 1.1-14.4 7.4M352.8 394.3l3.1 1.1 14.4 7.4M641.3 394.3l-3.1 1.1-14.4 7.4M497 394.3l3.2 1.1 14.4 7.4M352.7 399.8l-3.1 1.1-14.9 5.9M497 399.8l-3.1 1.1-14.9 5.9M352.8 399.8l3.1 1.1 14.9 5.9M641.3 399.8l-3.1 1.1-14.9 5.9M497 399.8l3.2 1.1 14.9 5.9M352.7 404.5l-18 5.4M497 404.5l-18 5.4M352.8 404.5l18 5.4M641.3 404.5l-18 5.4M497 404.5l18.1 5.4M351.7 409.5l-15 2M496 409.5l-15 2M353.8 409.5l15 2M640.3 409.5l-15 2M498 409.5l15 2M473.8 410.3l20.9-2.8M376 410.3l-20.9-2.8M618.1 410.3l20.9-2.8M520.3 410.3l-20.9-2.8M472.6 408.6l19.6-4.9M377.2 408.6l-19.6-4.9M616.9 408.6l19.6-4.9M521.5 408.6l-19.6-4.9M471.2 407l18.1-6.5M378.6 407l-18.1-6.5M615.5 407l18.1-6.5M522.9 407l-18.1-6.5M469.6 405.7l15.7-7.6M380.2 405.7l-15.7-7.6M613.9 405.7l15.7-7.6M524.5 405.7l-15.7-7.6M467 405l13.9-9M382.8 405l-13.9-9M611.3 405l13.9-9M527.1 405l-13.9-9M465.9 403.4l9.5-8.4M383.9 403.4l-9.5-8.4M610.2 403.4l9.5-8.4M528.2 403.4l-9.5-8.4" stroke="#808080" stroke-width="2.5"/><path d="M463 347.7l1.6-3.5 1.7-5.5 0.6-5.7-0.2-3.8-0.6-3.8-1.1-3.6-1.6-3.6-3.1-5-2.6-3.1-4.5-4.2-5.2-3.5-3.9-1.9-4-1.6-4.2-1.2-4.4-0.7-6.6-0.5-6.6 0.5-4.4 0.7-4.2 1.2-4 1.6-3.9 1.9-5.2 3.5-4.5 4.2-2.6 3.1-3.1 5-1.6 3.6-1.1 3.6-0.6 3.8-0.2 3.8 0.6 5.7 1.7 5.5 1.6 3.5M607.3 347.7l1.6-3.5 1.7-5.5 0.6-5.7-0.2-3.8-0.6-3.8-1.1-3.6-1.6-3.6-3.1-5-2.6-3.1-4.5-4.2-5.2-3.5-3.9-1.9-4-1.6-4.2-1.2-4.4-0.7-6.6-0.5-6.6 0.5-4.4 0.7-4.2 1.2-4 1.6-3.9 1.9-5.2 3.5-4.5 4.2-2.6 3.1-3.1 5-1.6 3.6-1.1 3.6-0.6 3.8-0.2 3.8 0.6 5.7 1.7 5.5 1.6 3.5M459.2 345.7l1.6-3.5 1.5-5.4 0.4-3.8-0.2-3.7-0.7-3.7-1.3-3.6-1.8-3.5-2.2-3.2-2.7-3-3.2-2.7-3.5-2.4-3.8-2-4-1.7-4.3-1.2-4.5-0.7-4.5-0.4-4.5 0.1-4.5 0.6-4.3 1-4.2 1.4-4 1.8-3.6 2.2-4.9 4-2.7 3-2.2 3.2-1.8 3.5-1.3 3.6-0.7 3.7-0.2 3.7 0.4 3.8 1.5 5.4 1.6 3.5M603.5 345.7l1.6-3.5 1.5-5.4 0.4-3.8-0.2-3.7-0.7-3.7-1.3-3.6-1.8-3.5-2.2-3.2-2.7-3-3.2-2.7-3.5-2.4-3.8-2-4-1.7-4.3-1.2-4.5-0.7-4.5-0.4-4.5 0.1-4.5 0.6-4.3 1-4.2 1.4-4 1.8-3.6 2.2-4.9 4-2.7 3-2.2 3.2-1.8 3.5-1.3 3.6-0.7 3.7-0.2 3.7 0.4 3.8 1.5 5.4 1.6 3.5" stroke="#808080" stroke-width="2.7" stroke-dasharray="11 4"/><path d="M438 333.9l-0.2-4.7-0.5-2.3-1.8-4.2-1.2-1.8-1.4-1.5-1.6-1.3-1.7-1-1.9-0.7-1.8-0.4-2 0-1.8 0.4-1.9 0.7-1.7 1-1.6 1.3-1.4 1.5-1.2 1.8-1.8 4.2-0.5 2.3-0.2 4.7M582.3 333.9l-0.2-4.7-0.5-2.3-1.8-4.2-1.2-1.8-1.4-1.5-1.6-1.3-1.7-1-1.9-0.7-1.8-0.4-2 0-1.8 0.4-1.9 0.7-1.7 1-1.6 1.3-1.4 1.5-1.2 1.8-1.8 4.2-0.5 2.3-0.2 4.7M419.9 339.7l10 0M564.2 339.7l10 0" stroke="#808080" stroke-width="2.3" stroke-dasharray="12 5"/><path d="M395.4 334.5l0 7.9 0.5 2.2 1 2.1 1.2 1.6 1.1 0.7 1.2-0.7 1.2-1.6 1-2.1 0.5-2.2 0-7.9M454.4 334.5l0 7.9-0.5 2.2-1 2.1-1.2 1.6-1.1 0.7-1.2-0.7-1.2-1.6-1-2.1-0.5-2.2 0-7.9M539.7 334.5l0 7.9 0.5 2.2 1 2.1 1.2 1.6 1.1 0.7 1.2-0.7 1.2-1.6 1-2.1 0.5-2.2 0-7.9M598.7 334.5l0 7.9-0.5 2.2-1 2.1-1.2 1.6-1.1 0.7-1.2-0.7-1.2-1.6-1-2.1-0.5-2.2 0-7.9M384.4 334.5l0.2 8M465.4 334.5l-0.2 8M528.7 334.5l0.2 8M609.7 334.5l-0.2 8" stroke="#808080" stroke-width="2.3" stroke-dasharray="12 5"/><path d="M420.3 307.6l-4 0.5-3.2 1-6.6 3.3-3.8 3-3.2 3-4 5.8-2.4 5-1.6 4.8-1.3 8 0 3.2 0.5 3.7 0.9 3.5 1.6 4 4.7 6.7 8 1 1.2-5.3-2.2-4-0.3-4 2.2-8 2-4 2.9-3.2 4.6-2.8 5.6-2 4.8-0.3 3.2 0.9 5.6 2.4 2.6 1.8 2.4 2.4 2.5 4.8 2.2 8-0.3 4-2.3 4 1.2 4.8 0.5 0.6 7.2-0.9 3.2-4 2.4-4 1.6-4.7 0.9-5.4-0.1-4.8-1.2-6.4-2-5.7-2.4-4.8-2.4-3.6-3.2-3.5-5.1-4-4.3-2.4-4.3-1.6-3.1-0.7-6.4-0.5-4.8 0.4zM564.3 307.6l-3.2 0.4-4 1.2-6.3 3.2-4.1 3.2-2.5 2.4-2.3 2.8-2.4 4-3.2 7.6-1.2 4.8-0.6 4.8 0 4 0.8 4 1 3.5 1.6 3.6 4 5.6 0.8 0.6 7.2 0.9 0.7-1.4 0.9-4-2.3-4-0.3-4 2.2-8 2-4 3.2-3.4 4-2.5 5.6-2.1 4.8-0.3 3.2 0.8 6.4 2.8 3.8 3.1 2.2 3.2 1.6 4 1.6 6.4-0.3 4-2.2 4 1.3 5.4 8-1.2 4-5.6 1.6-3.3 1.6-5.7 0.5-4-0.4-5.6-1-4.8-1.5-4.5-3.2-6.5-2.4-3.5-3.8-3.9-4.2-3.2-4.3-2.4-4.3-1.6-2.6-0.6-7.2-0.6-4.8 0.4zM346.7 363.9l6.4 1 8-1.7 4-0.1 3.2 1 8 4.1 0.4-0.6-3.1-5.6-2.4-7.2-1.1-5.6-0.4-7.2 0.6-7.2 1.6-7.2 2.9-8 3.3-6.4 4.5-6.4 4.1-4.5 5.6-4.7 6.4-4.1 6.4-3 5.6-1.9 4.8-0.9 9.6-0.8 9.6 0.8 4.8 1 6.4 2.2 5.6 2.8 7.2 4.9 4.8 4.1 4.4 4.9 3.8 5.6 3.3 6.4 2.7 7.2 1.5 6.4 0.9 8.8-0.3 6.4-1.4 7.2-2.2 6.4-3.1 5.6-0.1 0.8 8.1-4.1 3.2-1.2 4 0 8.8 1.9 10.4-2 4 0.6 9.6 4.9-0.1-0.9-3.4-6.4-1.9-5.6-1.3-6.4-0.4-7.2 0.5-6.4 1.7-8 2.9-8 3.3-6.4 3.8-5.6 4.5-5 4.8-4.1 7.2-4.9 6.4-3 5.6-1.9 4.8-1 9.6-0.8 9.6 0.8 4.8 0.9 5.6 1.9 6.4 3 6.4 4.2 5.6 4.7 4.7 5.2 3.8 5.6 3.3 6.4 2.9 8 1.6 7.2 0.6 7.2-0.4 7.2-1.6 7.2-2.3 6.4-3.1 5.6 2.4-0.8 6.5-3.5 3.2-1 4 0.1 8 1.8M377.1 368.2l-0.4 0.2 0.4 0.2 0-0.4zM641.1 371.6l-2.4 1.6-11.2 13.6-4 3.4-4.4 3-7.6 4.2-8 3.4-7.2 2-6.4 0.7-6.4-0.7-2.4-0.9-2-2.3-0.4-3.2-0.9-0.8-1.2-3.2-1.1-0.8-2.4-0.1-1.2-0.7-1.2-1.6-1.2-5.6 0.1-3.2 1.4-6.4 0.8-2.4 1-1.6 1.5-1.6-1.2-8.8-0.7-1.6-0.9-0.5-4.8-0.1-0.8 0.6-0.6 1.6-1.3 8.8 1.6 1.6 1 1.6 1.1 3.2 1 4.8 0.1 4-1.1 5.6-1.8 2-0.8 0.4-2.4 0.1-0.9 0.7-1.2 3.2-0.8 0.8-0.5 3.2-1.4 1.9-2.4 1.2-5.6 0.8-6.4-0.4-7.2-1.8-8-3.2-7.7-4.1-4.9-3.2-4.2-3.4-4-4.4-7.8-9.8-1-0.9-1.6-0.6-1.6 0.5-1.1 1-8.3 10.4-4.2 4.4-4.8 3.7-8 4.8-9.6 4.2-8 2.2-6.4 0.6-7.2-1-1.6-1-1.1-1.1-0.7-1.6-0.2-2.4-1.2-1.6-0.8-2.4-0.8-0.7-3.2-0.4-1.5-1.3-0.7-1.6-0.8-4.8 0.2-4.8 2-7.2 1-1.6 1.6-1.6-1.3-8.8-0.5-1.5-0.8-0.6-4.8 0-1 0.5-0.6 1.1-1.3 9.3 1.5 1.6 1.3 2.4 2.2 8.8-0.1 2.4-1.3 5.6-0.7 1.1-1.6 1.2-2.4 0.1-1.2 0.8-1.2 3.2-0.8 0.8-0.2 2.4-0.7 1.6-1.5 1.4-2.4 1-6.4 0.7-7.2-0.8-8.8-2.8-8.8-4.1-7-4.2-5.1-4-3.9-4.2-7.4-9.4-2.2-2-0.8-0.2-1.6 0.3-3.6 3.5-1.2 0.8" stroke="#352a87" stroke-width="2.4"/>
<path d="M416.4 290.8l8.7-0.7 10.4 1 6.4 1.7 6.4 2.7 5.6 3.3 4.8 3.5 4.8 4.5 5 6.4 2.4 4 2.8 5.6 3 9.6 0.9 4.8 0.4 4.8-0.1 4-0.5 4.8-2.4 8.8-3.1 6.4-5.5 7.2 0.3 0.6 4-2.4 5.6-2.7 6.4-2.4 4.2-0.3 1.4 0.6 0.8 1-0.4 2.4-1.5 2.4-3 3.2-3.1 2.5-4.8 3.2-5.6 2.8-4.8 1.7-4 0.5-0.6 0.5 0.1 1.6-0.6 1.6-6 5.6-4.6 3.2-5.1 1.9-4 0.6-3.2-0.6-1.6-1.7 0-1.8 1.6-1.4 6.4-2.1 2.9-1.3 2.7-2 5.8-5.2 1.4-0.7 1.3-0.1 0.7-2.4 2.2-3.2-0.2-0.5-4.8 3.4-7.2 2.9-2.4 2.2-2.4 0.4-2.4-1.2-4.1-4-3.7-5.6-0.2-1-0.7 6.6 0.1 6.4-1 1-2.4 0.1-0.8-0.5-0.7-1.4-0.3-2.4 0.5-9.6 0.7-4 0.6-0.9 1.6-1 0.3-0.5-1.6-10.4-0.3-4.4-2.4-2.7-4.8 0-0.8 0.4-1.6 1.8-0.5 1.7-1.8 13.6 2 1.6 0.5 0.8 0.8 4.8 0.4 5.6-0.1 4-0.5 2.4-0.8 0.9-2.4 0.2-0.9-0.3-0.5-0.8 0-7.2-0.4-4-0.6-1-1.7 3.4-2.3 3-4 3.7-2.4 0.9-2.4-0.6-2.4-2.2-6.4-2.5-5.6-4.1-0.4 0.2 2.4 3.2 1 3.2 2.6 0.7 5.6 5 3.2 2.3 2.4 1.2 6.4 2.1 1.6 0.9 0.5 1.4-0.4 1.6-0.9 0.9-1.6 0.6-3.2 0.1-3.2-0.6-3-1-3.1-1.6-3.2-2.4-5.9-5.4-0.7-1.8 0.2-1.6-0.3-0.4-4-0.6-3.2-0.9-4-1.7-4.8-2.6-4-2.8-3.5-3-2.8-3.2-1.2-2.4-0.1-1.6 1.2-1.3 2.4-0.4 2.4 0.3 5.6 2 8 3.8 3.2 2.2 0.5-0.2-5-6.4-2.9-4.8-1.9-4.8-1.8-7.2-0.6-5.6 0.3-7.2 1.4-7.2 2.3-7.2 3.1-6.4 3.5-5.6 4.3-5.2 4.8-4.4 6.4-4.4 5.6-3 7.2-2.7 5.7-1.1zM560.7 290.8l9.2-0.7 9.6 0.9 6.4 1.7 5.6 2.3 4.8 2.6 5.6 3.9 5.6 5 5.3 6.7 2.4 4 2.7 5.6 2.9 8.8 1.1 5.6 0.4 4.8-0.1 4-0.5 4.8-1.1 4.8-1.6 4.8-3.3 6.4-5.7 7.2 0.7 0.1 4.8-3 7.2-3.3 4-1.4 2.4-0.5 2 0.1 1.8 0.8 0.5 0.8-0.1 1.6-1.2 2.4-2.8 3.2-3.4 2.9-4.8 3.3-5.6 2.9-4.8 1.7-4.8 0.7-0.4 0.5 0.2 1.6-0.6 1.6-5.1 4.8-4.5 3.4-5.6 2.4-4.8 0.7-3.2-0.7-1.4-1.8 0-0.8 0.6-1.5 1.6-0.9 6.4-2.1 2.4-1.1 2.4-1.7 6.4-5.7 2.6-0.6 0.2-1.6 0.7-1.6 2.5-3.2-0.4-0.3-5.6 4.1-6.4 2.6-2.4 2.1-2.4 0.7-2.4-0.8-4-3.7-1.9-2.3-2.2-4-0.6 0.8-0.4 3.2 0 8-0.5 0.8-0.8 0.3-2.6-0.3-1-1.6-0.3-2.4 0-4 0.5-5.6 0.7-4 0.5-0.8 2-1.6-2-14.4-0.2-0.8-2.4-2.3-4.8 0-2.4 2.5-0.1 0.6-1.9 14.4 2 1.6 0.5 0.8 0.8 4.8 0.4 8.8-0.3 2.4-1 1.6-1.2 0.3-1.6-0.1-0.8-0.4-0.3-0.6 0.1-6.4-0.6-6.2-2.2 3.8-2.5 3.2-4.1 3.7-1.6 0.7-2.4-0.3-2.4-2.2-7.2-3-4.8-3.3-0.3 0.4 2.2 3.2 0.4 2.4 1.7 0.2 1.3 0.6 5.9 5.3 2.6 1.9 10.3 4 0.6 0.8 0.1 1.6-0.8 1.3-1.6 0.9-2.4 0.3-3.2-0.4-4-1.2-3.2-1.6-3.4-2.5-6-5.6-0.6-1.6 0.2-1.6-0.6-0.5-3.2-0.4-4-1.1-8-3.9-4.8-3.3-3.2-2.8-2.8-3.2-1.2-2.4-0.1-1.6 0.9-1.1 1.6-0.5 3.2 0.1 3.2 1 4 1.7 6.4 3.1 3.2 2 0.2-0.7-4.4-5.6-3.2-5.6-2.1-5.6-1.4-6.4-0.5-6.4 0.4-6.4 1.7-8 1.9-5.6 3.1-6.4 3.5-5.6 4-4.9 4.8-4.4 6.4-4.5 5.6-3.1 7.2-2.7 6-1.2zM419.5 304.4l-3.2 0.4-3.2 0.9-4 1.7-3.3 1.8-4.2 3.2-2.9 2.7-4 5.2-4 8.3-1.6 5.3-0.7 4.1-0.4 4 0.2 4 1.7 7.5 1.6 3.7 2.4 3.6 10.4 13.1 0.8 0 4.3-17.5-1.3-3.2 0-2.4 2.5-5.6 1.7-2.8 3.2-3.1 2.4-1.3 2.4-0.7 4.8-0.9 6.4 1.5 3.2 1.7 2.4 2.3 1.7 2.5 2.7 5.6 0.3 1.6-0.1 1.6-1.3 3.2 3.8 16 0.9 2 1.9-2.8 5.3-6 4.8-6.4 1.6-2.8 1.6-4.1 1.2-5.5 0.3-4.8-0.7-6.1-1.6-6.2-2.4-5.7-3.5-6-4.5-4.8-5.1-4-4.5-2.4-5.6-1.9-8.8-0.9-5.6 0.4zM564.3 304.4l-3.2 0.3-3.2 0.8-7.2 3.3-6.6 5.2-3 3.2-1.7 2.4-2.3 4.2-2.3 5.4-2 8-0.5 4 0.1 4 0.6 4 1.1 4 1.4 3.5 1.6 2.6 12 15.2 0.8-2.2 3.8-15.9-1.3-3.2 0-2.4 2.5-5.6 2-3.2 1.8-1.9 2.4-1.6 2.4-0.9 4-1 3.2 0 5.6 1.5 3.2 1.9 2 2 1.6 2.4 2.7 5.6 0.3 2.4-0.3 1.6-0.9 1.6 0 1.6 4.2 17 0.8-0.5 2.1-2.9 4.3-4.8 4.8-6.4 1.6-2.6 1.6-3.8 1.6-6.4 0.2-4.8-0.9-7.2-1.6-5.6-2.5-5.8-3.2-5.4-4-4.4-5.6-4.4-4.8-2.5-5.6-1.9-8.8-0.8-4.8 0.4zM465.9 373.7l-0.3 0.3 0.3 0.4 0.6-0.4-0.6-0.3zM528.3 373.8l-0.7 0.2 0.7 0.3 0-0.5zM384.3 374.6l0.2 0.2-0.2-0.2zM465.1 374.5l-0.3 0.3 0.3 0.3 0.4-0.3-0.4-0.3zM529.1 374.6l-0.3 0.2 0.3 0.2 0-0.4zM464.3 375.4l-0.3 0.2 0.3 0.2 0.3-0.2-0.3-0.2zM529.9 375.4l-0.3 0.2 0.3 0.2 0-0.4zM463.5 376.2l0 0.3 0-0.3zM530.7 376.2l-0.2 0.2 0.2 0.2 0.2-0.2-0.2-0.2zM607.5 376.3l0 0.3 0-0.3zM387.5 377.1l-0.3 0.1 0.3 0.3 0-0.4zM462.7 377.1l-0.2 0.1 0.2-0.1zM531.5 377l0 0.4 0.3-0.2-0.3-0.2zM606.7 377l-0.2 0.2 0.2 0.3 0.3-0.3-0.3-0.2zM461.9 377.8l-0.4 0.2 0.4 0.1 0-0.3zM532.3 377.7l0 0.5 0.4-0.2-0.4-0.3z" stroke="#0f5cdd" stroke-width="2.4"/>
<path d="M417.9 293.2l7.2-0.6 11.9 1.4 8.9 3.1 7.2 4 7.2 5.4 5.6 6.3 3 4.4 2.2 4 3.2 8 1.8 8 0.5 8.8-1.4 8.8-2.5 7.2-1.7 3.2-2.8 4-3.1 3.7-3.2 3.1-6.4 4.9-7.2 2.9-1.3 1.4-1.1 0.7-1.6 0.1-0.8-0.3-4.8-4.3-2.4-3.4-2.1-4.8-1.8-6.4-1.1-8.8-0.6-8.5-0.8-4.5-0.4-0.6 0.1-1.6 0.3-0.5 0.8-0.2 0.8 0.2 2.4 1.6 1.6 2.1 1.6 3.2 1.2 1.6 0.2 3.2 4.7 18.4 1.1 3.4 0.8 0.4 3.2-4.4 5.6-6.4 5.8-8.2 1.6-4 1.4-5.2 0.5-4.4-0.1-4-0.8-5.6-1.2-4.8-2.4-6-3.2-6-3.3-4-5.2-4.8-2.7-1.9-4.8-2.4-5.6-1.8-8.8-0.9-8.8 0.8-6.4 2.1-6.4 3.6-6.4 5.8-3.8 5.1-3.4 7.2-2.2 7.2-1 7.2 0.1 5.6 1.4 6.4 1.7 4.4 1.7 2.8 4.7 6.3 5.1 5.7 3.7 5.1 1.6-4.6 4.8-18.9-0.3-0.8 0.3-1.6 2.2-4 2.6-3.3 2.4-1.4 0.8 0 0.7 0.7-1.3 9.6-0.5 7.2-1.5 9.6-2 5.6-1.8 4-2.4 3.1-4 3.6-1.6 0.6-1.6-0.4-2.4-2.1-7.2-3-7.2-5.7-3.1-3.3-4.2-5.6-2.7-4.8-1.6-4.8-1.3-5.6-0.6-4.8 0.1-5.6 0.8-5.6 1.2-4.8 2-5.6 2.7-5.6 2.7-4.4 4-5 3.2-3.2 4-3.2 5.6-3.6 4-2.1 4.8-2 4.8-1.4 4.8-0.7zM562.3 293.2l6.8-0.6 8 0.7 4 0.7 8 2.6 4 1.9 4.8 2.9 7.2 5.6 5.6 6.4 4.7 7.8 1.7 4 1.9 5.6 1.7 8.8 0.1 7.2-1.5 8.8-2.7 7.2-2.4 4-2.4 3.2-2.7 3.2-3.2 3-5.6 4.4-8 3.4-1 1.2-1.4 0.8-1.6-0.1-0.8-0.3-4.7-4.4-2.2-3.2-2.1-4.8-1.8-6.4-1.1-8-0.8-10.4-0.6-2.4-0.3-3.2 0.8-0.7 0.8 0.1 2.4 1.4 2 2.4 2.7 4.8 0.5 4 4.4 17.7 1.6 4.1 3.6-5 5.7-6.4 4.1-5.6 1.8-3 1.6-4.2 1-4 0.5-4 0-4.8-0.8-5.6-1.5-5.6-2.4-5.9-2.9-5.3-3.5-4.2-4.1-3.8-3.9-2.8-4.8-2.4-5.6-1.8-8.8-0.8-9.6 1-6.4 2.4-5.6 3.3-6.4 5.9-3.4 4.8-3.8 7.9-1.9 6.5-1 7.2 0.1 5.6 1.2 5.7 1.6 4.4 2 3.5 5.2 6.9 4.8 5.4 3.2 4.5 0.8-0.9 1-3.1 4.7-18.4 0.2-3.2 1.3-1.9 1.4-2.9 1.8-2.2 2.4-1.5 0.8-0.2 1 0.7 0.1 0.8-1.2 5.6-0.7 9.6-1.5 10.4-2 5.6-1.8 4-2.5 3.2-3.6 3.2-2.2 0.9-1.6-0.5-1.6-1.8-8-3.4-6.4-5.1-3.6-3.7-4.8-6.4-2-4-1.7-4.8-1.2-4.8-0.7-5.6 0.1-5.6 0.8-5.6 1.4-5.6 1.8-4.8 3.2-6.4 2.5-4 3.9-4.8 3.5-3.5 4-3.1 5.6-3.5 4-2.1 4.8-1.8 4.8-1.4 4.4-0.6zM364.1 368.4l1.8-0.6 3.2 0.4 4 1.4 6.4 3.2 3.8 2.8 3.2 3.2 1.1 1.6 0.6 1.6-0.5 1.6-1 0.5-1.6 0.2-3.2-0.6-4.8-1.8-4.8-2.7-3.8-2.8-3.2-3.2-1.1-1.6-0.6-1.6 0.5-1.6zM479.9 368.4l2.8-0.6 1.6 0 1.4 0.6 0.5 0.8-0.2 1.6-0.9 1.6-3.8 4-5 3.6-6.4 3.1-4.8 1.2-1.6-0.1-1.4-0.6-0.5-1.6 0.6-1.6 1.7-2.4 2.6-2.4 5-3.5 8.4-3.7zM508.4 368.4l2.3-0.6 3.2 0.5 4 1.5 5.6 2.8 4.1 3 3.2 3.2 1.5 2.4 0 2-1.6 1-3.2-0.2-4.8-1.5-4.8-2.5-4.8-3.3-3.5-3.5-1.1-1.6-0.6-1.6 0.5-1.6zM624.2 368.4l4.1-0.6 1.6 0.5 0.6 0.9-0.2 1.6-0.9 1.6-3.8 4-5.3 3.8-6.4 3-4.8 1.1-1.6-0.2-1.1-0.5-0.5-1.6 0.6-1.6 1.7-2.4 2.6-2.4 5.5-3.8 7.9-3.4z" stroke="#127dd8" stroke-width="2.4"/>
<path d="M406.9 299.6l2.2-0.4 0.8 0 0.4 0.4-8.4 5.7-6.4 6.9-3.4 5-2.6 5.6-2.3 6.4-1.3 6.4-0.4 5.6 0.1 4 0.7 4 1.2 4.3 1.6 3.9 2.4 3.8 4.8 6.2 4.6 5 4.2 6 1.1-2 1.1-3.2 4-16 2.3-7.2 1.1-2.3 1.6-1.9 0.8-0.5 0.8 0.7-0.3 12-1.6 11.2-2 5.6-2 4-2.8 3.2-3.3 2.7-0.8 0.2-1.6-0.5-0.8-1.2-6.4-2.3-3.2-1.9-6.8-5.8-4.7-5.6-3.4-5.6-1.8-4.8-1.7-7.2-0.4-6.4 0.8-7.2 2-7.5 3-6.9 4.2-6.8 4.8-5.4 4.8-3.9 8.8-4.7 4.2-1.6zM439.2 299.6l1.1-0.4 2.4 0.4 4 1.5 6.4 3.1 5.6 3.8 5.6 5.7 4.1 5.9 3.8 8 2 6.4 1.2 8-0.1 6.4-1.2 6.4-2.1 6.4-3.2 5.6-5.3 6.4-7.2 6.1-4 2.1-4.8 1.6-1.3 1.4-1.1 0.5-1.6-0.5-5.2-4.8-2.2-4-2-5.6-0.8-3.2-1.1-8.8-0.3-12 0.4-0.7 0.8 0.2 0.8 0.7 2.4 4.1 2.2 6.9 4.2 16.8 1.6 3.9 0.8-0.1 3.8-5.4 5-5.5 3.8-4.9 3.1-4.8 1.9-4.8 1.2-4.8 0.4-4-0.1-4.8-0.7-5.6-1.6-6.2-2.6-6.6-2.5-4.8-2.9-3.9-6.4-6.8-8.3-5.3zM551.5 299.6l2.4-0.4 1 0.4-5.8 3.6-3.2 2.4-5.6 6-4 5.8-2.8 6.2-2.2 6.4-1.2 6.4-0.3 4.8 0.1 4 0.8 4.6 1.3 4.2 1.7 4 5.8 8 5.7 6.4 3.9 5.5 0.8-0.2 1.5-3.7 4.2-16.8 2.3-7.2 2.4-3.9 0.8-0.7 0.8 0 0.3 0.6-0.3 12-1.1 8.8-0.8 3.2-2 5.6-2.2 4-4.3 4.1-1.6 1.1-0.8 0.1-1.2-0.5-1.2-1.3-4.8-1.7-4-2-6.5-5.4-4.9-5.6-3.6-5.6-2.2-5.6-1.7-7.2-0.4-6.4 0.6-6.4 1.8-7.2 3.3-7.9 4-6.4 4.8-5.5 4.8-4.1 4.8-2.8 8.8-3.7zM583.7 299.6l0.6-0.4 1.6 0.2 3.5 1 8.5 4.1 5.6 3.9 4.8 5 4 5.5 4.2 8.7 2 6.4 1.3 8.8-0.4 7.2-1.7 7.2-1.8 4.8-3.4 5.6-4.7 5.6-6.7 5.7-3.2 1.9-6.4 2.4-1 1.2-1.4 0.5-0.8-0.2-3.2-2.5-3-3.4-2-4-2-5.6-1.6-11.2-0.2-12.3 0.8-0.4 0.9 0.7 1.5 1.9 1 2.1 2.3 7.2 4 16 1.5 4 0.8 1.1 4.1-5.9 4.7-5.2 4.7-6 2.5-4 1.9-4.8 1.2-4.8 0.4-4-0.1-4.8-0.7-5.6-1.4-5.6-2.5-6.4-2.8-5.6-3.2-4.2-5.6-6-8.6-5.8zM366.3 370l2-0.6 2.4 0.3 4 1.5 4 2.2 3.1 2.2 2.5 2.4 1.4 2.4-0.2 1.6-2 0.7-2.4-0.4-4-1.4-3.2-1.7-3.9-2.8-2.5-2.4-1.4-2.4 0.2-1.6zM478.2 370l3.7-0.6 1.6 0.6 0.3 0.8-0.9 2.4-3.1 3.2-4.3 3-4.8 2.3-4 0.9-1.6-0.1-0.8-0.5-0.3-0.8 0.4-1.6 1.1-1.6 2.5-2.4 4.7-3.2 5.5-2.4zM510.6 370l1.7-0.6 2.4 0.3 4 1.4 4 2.1 3.4 2.4 2.5 2.4 1.4 2.4-0.2 1.6-1.5 0.6-3.2-0.4-4-1.5-3.2-1.7-3.6-2.6-2.5-2.4-1.4-2.4 0.2-1.6zM622.5 370l2.6-0.6 1.6 0 1.1 0.6 0.3 0.8-0.9 2.4-3.1 3.2-4.6 3.2-4.8 2.2-4 0.9-2.1-0.7-0.3-0.8 0.4-1.6 1.1-1.6 2.5-2.4 4.7-3.2 5.5-2.4z" stroke="#079ccf" stroke-width="2.4"/>
<path d="M387.3 315.6l1.8-0.7 0.3 1.5-3.7 12.8-1 6.4-0.2 8 1.2 7.2 1.8 5.2 1.9 3.6 6.1 8 5 5.6 3.7 5.6 0.9 2.5 2.6-6.5 4.6-17.5 1.6-4.5 1.6-2.4 0.8 0.6 0.3 7-1.1 9.6-0.6 2.4-1.8 4.8-1.6 3.2-2.4 2.7-3.2 1.9-5.6-1.1-4.8-1.9-4-2.8-4-3.5-3-3.3-4-5.6-2.1-4-1.5-4.8-1.2-5.6-0.4-6.4 0.5-4.8 1.3-5.6 1.6-4.7 2.4-5 3.2-4.8 3-3.1zM460.3 315.6l0.8-0.7 0.8 0.3 1.6 1.2 2.4 2.8 3.3 5.2 3.1 7.4 1.4 5.4 0.8 6.4-0.3 5.6-0.9 4.8-1.6 5.6-1.8 3.8-2.8 4.2-3.9 4.8-3.7 3.4-4.8 3.6-6.4 2.4-2.4 0.4-0.8-0.3-0.8 0.9-3-1.6-2.6-2.7-1.6-2.9-1.9-4.8-0.9-3.2-1.1-9.6 0.2-6.4 0.5-1.2 0.8 0.4 1.6 3.1 4 13.4 1.8 7.5 2.2 5.5 0.8-0.6 4.2-6.5 5-5.6 5-6.4 2.5-4 1.8-4.8 1.4-5.6 0.4-4.8-0.1-4.8-0.9-6.4-4.1-15.2zM531.5 315.6l1.6-0.6 0.7 0.6-0.7 3.2-3.1 10.4-1.1 7.2-0.1 8 1.2 6.4 1.6 4.8 2.1 4 5.8 7.7 5.3 5.9 4.3 6.8 0.8 0 1.9-4.4 2.1-8.6 4-13.4 1.6-2.9 0.8-0.2 0.4 1.1 0.2 6.4-1.1 9.6-0.9 3.2-1.8 4.7-1.6 2.9-2.7 2.8-2.9 1.5-0.8-1-0.8 0.5-2.4-0.4-6.4-2.3-7.2-5.7-3.5-3.8-4-5.6-2-4-1.6-4.8-1.2-5.6-0.4-4.8 0.4-5.6 1.1-5.6 1.6-4.8 2.4-5.1 3.2-5.1 3.2-3.4zM604.7 315.6l0.4-0.7 1.6 0.6 3.2 3.3 4 6.4 2.4 5.7 1.5 5.5 0.9 6.4-0.2 6.4-0.9 4.8-1.6 5.6-1.9 4-3.3 4.8-4.1 4.8-4 3.5-4 2.9-4.8 1.9-2.4 0.6-2.4 0.1-0.8 0.5-2.7-1.5-2.4-2.4-1.8-3.2-1.9-4.8-0.9-3.2-1.1-9.6 0.2-6.4 0.2-0.8 0.8-0.3 1.6 2.6 2.4 7.3 3.7 14.4 1.5 4 1.2 1.9 1.2-2.7 3.3-4.8 5.1-5.7 6.4-8.5 2-4.2 1.7-5.6 0.9-6.4-0.4-8-0.9-5.6-3.4-11.2-0.3-2.4zM368.3 371.6l0.8-0.7 2.4 0.1 5.6 2.4 2.4 1.5 2.6 2.3 1.2 1.6 0.2 1.6-0.8 0.7-2.4-0.1-2.4-0.8-3.2-1.5-5-3.9-1.2-1.6-0.2-1.6zM476.4 371.6l3.1-0.8 1.6 0.3 0.4 0.5 0.1 0.8-0.9 1.6-2.3 2.4-3.7 2.5-4 1.8-3.2 0.5-1.2-0.8-0.1-0.8 0.9-1.6 2.3-2.4 3.6-2.4 3.4-1.6zM512.6 371.6l1.3-0.8 1.6 0.2 2.4 0.7 3.2 1.5 2.5 1.6 2.8 2.4 1.2 1.6 0.2 1.6-1.1 0.7-1.6 0-2.4-0.7-3.5-1.6-2.9-2-2.3-2-1.2-1.6-0.2-1.6zM620.7 371.6l3.6-0.8 1.5 0.8-0.2 1.6-2 2.4-3.3 2.5-4 2.1-4 1-1.6-0.6-0.2-1 0.3-0.8 2-2.4 3.5-2.6 4.4-2.2z" stroke="#15b1b4" stroke-width="2.4"/>
<path d="M382.1 326.8l0.6-0.6 0.8 0.1 0.2 0.5-0.5 12 0.2 4.8 0.7 4.8 2 6.4 1.4 3.2 2 3.2 5.2 6.7 4.9 5.3 1.6 2.4 1.8 3.2 0.1 0.8-0.4 0.9-3.2-0.2-4-1.5-6.1-4.8-3.2-3.2-3.1-4-2.6-4-1.4-3.2-1.3-4-1-4.8-0.4-4 0.1-4 0.6-4.3 1.6-5.7 1.6-3.4 1.8-2.6zM466.1 326.8l0.6-0.8 0.8 0.5 2.4 3.6 2.1 5.5 1 4.8 0.4 4-0.3 5.6-2.1 8.8-1.3 3.2-2.2 3.7-3.9 5.1-2.5 2.6-6.8 5.4-4.4 1.6-2.4 0.2-0.6-0.2-0.3-0.8 1.5-3.2 2.1-3.2 5.1-5.6 5.6-7.2 1.8-3.2 1.9-4.8 1.4-5.6 0.5-4.8-0.4-15.2zM526.4 326.8l1.1-0.7 0.4 0.7-0.3 16 0.8 5.6 1.7 5.6 1.7 4 2 3.2 5.6 7.2 4.5 4.8 2.1 3.2 1.5 3.2-0.3 0.8-0.5 0.2-2.6-0.2-4.6-1.8-6.4-5.1-2.6-2.7-3.1-4-2.1-3.2-1.9-4-1.5-4.8-0.8-4-0.4-4 0.1-4 1.1-6.4 1-3.2 1.4-3.3 2.1-3.1zM610.4 326.8l0.3-0.6 0.8 0 2.4 3.3 1.6 3.6 1.7 6.5 0.5 4-0.2 5.6-1 5.6-1.2 4-1.4 3.4-2.3 3.8-3.7 4.8-2.8 2.8-6.4 5.1-4 1.6-3.2 0.3-0.5-1 1.4-3.2 2.1-3.2 5-5.5 5.6-7.2 1.9-3.3 1.6-4 1.6-5.6 0.6-4.8 0.1-4-0.5-12zM414.2 357.2l0.5-0.4 0.5 1.2-0.7 10.4-1.4 3.9-2.4 4.8-1.6 1.7-0.8 0.2-0.1-1.8 2.1-9.6 2.8-8.7 1.1-1.7zM435 357.2l0.5-0.3 0.8 1.1 3.2 9.6 2.1 9.6 0.1 0.8-0.6 1-1.6-1.3-0.8-1.2-1.6-3.3-1.8-4.8-0.7-7.2 0-3.2 0.4-0.8zM558.5 357.2l0.2-0.4 0.9 1.2-0.8 10.4-3.3 7.9-0.8 1.2-1.6 1.4-0.5-0.1-0.1-1.6 2.1-9.6 2.5-7.9 0.8-1.9 0.6-0.6zM579.3 357.2l0.2-0.4 0.8 0.6 0.8 1.8 2.7 8.4 2.1 9.6 0 1.7-0.8-0.1-1.6-1.5-2.4-4.8-1.5-4.1-0.7-7.2 0-3.2 0.4-0.8zM371.2 372.4l2.7 0.4 3.9 2 2.8 2.4 0.8 1.6-0.3 0.5-0.8 0.4-1.6-0.2-4.7-2.3-2-1.6-1.3-1.6-0.3-0.8 0.8-0.8zM477.4 372.4l1.3 0 0.7 0.8-0.3 0.8-1.3 1.6-2 1.6-2.7 1.5-2.4 0.9-1.6 0-0.7-0.8 0.8-1.6 2.8-2.4 2.7-1.5 2.7-0.9zM515.4 372.4l2.5 0.3 4 1.9 3 2.6 0.8 1.6-0.6 0.8-1.6 0-2.4-0.8-2.4-1.3-2.4-1.9-1.3-1.6-0.3-0.8 0.7-0.8zM621.7 372.4l1.2 0 0.8 0.8-0.8 1.6-1.7 1.6-2.5 1.7-2.4 1.1-1.6 0.4-1.6-0.2-0.4-0.6 0.3-0.8 2.2-2.4 3.5-2.2 3-1z" stroke="#59bd8c" stroke-width="2.4"/>
<path d="M380.1 336.4l0.2-0.3 0.8 0.5 2.1 12.6 1.6 4.8 1.7 4 2.6 4 4.4 5.6 5.7 6.4 1.8 3.2 0.1 1.6-1.6 0.4-3.2-0.9-5.6-4.2-4.8-4.9-4.8-7.2-2.3-6.4-1.2-8 0.3-5.6 0.8-3.3 1.4-2.3zM468.9 336.4l0.2-0.3 0.8 0.3 1.5 3.2 0.7 4 0.2 3.2-0.8 6.7-1.1 4.5-1.3 3.2-4 6.5-4.8 5.4-6.4 5-3.2 1-1.6 0-0.5-1.1 0.2-0.8 1.8-3.2 4.4-4.8 5.1-6.4 3.6-5.6 2.9-8 1.8-11.2 0.5-1.6zM524.2 336.4l0.9-0.2 0.4 1 1.8 11.2 1.5 4.8 2 4.8 2 3.2 5 6.4 5.8 6.4 1.7 3.2 0.2 0.8-0.4 1-1.6 0.2-3.2-1-6.4-5-2.4-2.4-2.4-3-4-6.3-2.2-6.7-1-7.2 0-4 0.8-3.9 1.5-3.3zM613.2 336.4l0.7-0.3 1.6 2.9 0.8 3.8 0.3 4-0.9 7.2-1 4-1.3 3.2-1.9 3.5-3.2 4.4-4.8 4.9-5.6 4.2-3.2 1-1.6-0.3 0-1.7 1.8-3.2 5.7-6.4 4.5-5.7 2.5-3.9 2-4.8 1.3-4 1.8-11.2 0.5-1.6zM412.9 366l0.3 2.4-0.9 1.7-0.8 0.4 0.2-2.9 0.6-1.3 0.6-0.3zM436.9 366l0.2-0.1 1 1.7 0.1 2.4-0.3 0.6-1.2-2.2 0.2-2.4zM557 366l0.3 0 0.1 0.8 0 1.6-1.1 2.1-0.4-0.5 0.1-2.4 1-1.6zM581 366l0.1-0.2 0.8 0.7 0.5 1.1 0.3 2.4-0.8 0.2-0.8-1.4-0.1-2.8zM373.2 374.8l0.7-0.5 1.6 0.4 1.6 0.9 1.5 1.6-0.7 0.5-1.6-0.4-1.6-0.9-1.5-1.6zM474 374.8l2.3-0.4 0.2 0.4-0.5 0.8-2.2 1.6-2.3 0.4-0.2-0.4 0.5-0.8 2.2-1.6zM517.6 374.8l0.3-0.5 0.8 0 1.4 0.5 2.2 1.6 0.6 0.8-0.2 0.3-0.8 0.2-1.6-0.5-2.2-1.6-0.5-0.8zM618.3 374.8l2-0.5 0.5 0.5-1.4 1.6-2.3 1.2-0.8 0.1-0.8-0.5 1.5-1.6 1.3-0.8z" stroke="#a5be6b" stroke-width="2.4"/>
<path d="M379.5 346.8l0.8-0.7 4.3 10.3 2.8 4.8 6.3 8 5 5.6 0.5 1.6 0 0.8-0.5 0.4-2.6-0.4-5.2-4-3.4-3.3-4-5.5-2.4-4.7-1-3.3-0.7-4 0.1-5.6zM469.2 346.8l0.7-0.7 0.6 1.5-0.2 5.6-1.3 5.6-2.2 4.8-4.1 5.8-4.8 4.6-4.3 3.2-2.1 0.4-0.8-0.3-0.1-0.9 0.9-2.1 4.6-5.1 7.4-9.6 2-4 3.7-8.8zM523.9 346.8l0.4-0.8 0.8 1 3.5 8.6 2.5 4.8 6.9 8.8 4.7 5.2 0.8 2-0.1 0.8-0.7 0.4-2.3-0.4-3.2-2.4-4.9-4.4-4-5.2-2.4-4.4-1.6-4.9-0.8-6.1 0.4-3zM613.5 346.8l0.4-0.7 0.8 0.9-0.1 6.2-1.5 6.2-2.4 4.8-4 5.6-3.2 3.1-5.5 4.3-2.5 0.4-0.6-0.4 0-0.8 0.6-1.7 5.5-6.3 6.8-8.8 2.4-4.8 3.3-8z" stroke="#e1b952" stroke-width="2.4"/>
<path d="M382.5 358l0.2-0.6 0.8 0.5 2.8 4.1 4.4 5 4.7 6.2 1.1 1.6-0.2 0.4-4-2.4-4-3.6-4.2-6.4-1.4-3.3-0.2-1.5zM466.4 358l0.3-0.5 0.6 0.5-0.6 2.6-1.6 3.3-3 4.5-5.2 4.8-2.2 1.5-0.8 0.3-0.4-0.2 0.3-0.8 5.5-7.2 2.9-3.2 4.2-5.6zM526.7 358l0.8-0.4 13.2 17.2-0.4 0.2-0.8-0.2-2.3-1.6-4.9-4.3-3.2-4.8-1.6-3.3-0.8-2.8zM610.6 358l0.9-0.5 0.1 0.5-0.9 3.3-1.6 3.2-3.2 4.6-4 3.6-4 2.4-0.3-0.3 0.4-0.8 5.5-7.1 4.3-4.9 2.8-4z" stroke="#fcce2e" stroke-width="2.4"/>
</g>
<g clip-path="url(#cp_bV2)" fill="none" stroke-linejoin="round">
<path d="M690.8 390.5l5.5 6 8 4.5 11 3.5 13 2 9-2 3-3.5 3 3.5 9 2 13-2 11-3.5 8-4.5 5.5-6-5.5 11-8 11-72 0-8-11zM835.1 390.5l5.5 6 8 4.5 11 3.5 13 2 9-2 3-3.5 3 3.5 9 2 13-2 11-3.5 8-4.5 5.5-6-5.5 11-8 11-72 0-8-11z" fill="#808080" stroke="none"/><path d="M668.1 366l-2.6 1-2.3 1.3M812.4 366l-2.6 1-2.4 1.3M668.2 366l2.6 1 2.3 1.3M956.8 366l-2.7 1-2.3 1.3M812.4 366l2.7 1 2.3 1.3M668.1 371l-1.8 0.5-4 2.9-3.1 1.8M812.4 371l-1.8 0.5-4 2.9-3.2 1.8M668.2 371l1.8 0.5 4 2.9 3.1 1.8M956.8 371l-1.9 0.5-4 2.9-3.1 1.8M812.4 371l1.9 0.5 4 2.9 3.1 1.8M668.1 377.2l-2 0.5-6.5 5-5.4 3.6M812.4 377.2l-2 0.5-6.5 5-5.5 3.6M668.2 377.2l2 0.5 6.5 5 5.4 3.6M956.8 377.2l-2.1 0.5-6.5 5-5.4 3.6M812.4 377.2l2.1 0.5 6.5 5 5.4 3.6M668.1 383l-1.6 0.3-1.4 0.9-4.9 3.6-8.1 5.3M812.4 383l-1.6 0.3-1.4 0.9-4.9 3.6-8.1 5.3M668.2 383l1.6 0.3 1.4 0.9 4.9 3.6 8.1 5.3M956.8 383l-1.7 0.3-1.4 0.9-4.9 3.6-8.1 5.3M812.4 383l1.7 0.3 1.4 0.9 4.9 3.6 8 5.3M668.1 388.7l-1.5 0.3-1.6 0.9-5.3 3.5-8.5 5.1M812.4 388.7l-1.5 0.3-1.6 0.9-5.3 3.5-8.6 5.1M668.2 388.7l1.5 0.3 1.6 0.9 5.3 3.5 8.5 5.1M956.8 388.7l-1.6 0.3-1.6 0.9-5.3 3.5-8.5 5.1M812.4 388.7l1.6 0.3 1.6 0.9 5.3 3.5 8.5 5.1M668.1 394.3l-3.1 1.1-14.3 7.4M812.4 394.3l-3.1 1.1-14.3 7.4M668.2 394.3l3.1 1.1 14.3 7.4M956.8 394.3l-3.2 1.1-14.4 7.4M812.4 394.3l3.2 1.1 14.3 7.4M668.1 399.8l-3.1 1.1-14.9 5.9M812.4 399.8l-3.1 1.1-14.9 5.9M668.2 399.8l3.1 1.1 14.9 5.9M956.8 399.8l-3.2 1.1-14.9 5.9M812.4 399.8l3.2 1.1 14.9 5.9M668.1 404.5l-18 5.4M812.4 404.5l-18 5.4M668.2 404.5l18 5.4M956.8 404.5l-18.1 5.4M812.4 404.5l18.1 5.4M667.1 409.5l-15 2M811.4 409.5l-15 2M669.2 409.5l15 2M955.8 409.5l-15 2M813.4 409.5l15 2M789.2 410.3l20.9-2.8M691.4 410.3l-20.9-2.8M933.5 410.3l20.9-2.8M835.7 410.3l-20.9-2.8M788 408.6l19.6-4.9M692.6 408.6l-19.6-4.9M932.3 408.6l19.6-4.9M836.9 408.6l-19.6-4.9M786.6 407l18.1-6.5M694 407l-18.1-6.5M930.9 407l18.1-6.5M838.3 407l-18.1-6.5M785 405.7l15.7-7.6M695.6 405.7l-15.7-7.6M929.3 405.7l15.7-7.6M839.9 405.7l-15.7-7.6M782.4 405l13.9-9M698.2 405l-13.9-9M926.7 405l13.9-9M842.5 405l-13.9-9M781.3 403.4l9.5-8.4M699.3 403.4l-9.5-8.4M925.6 403.4l9.5-8.4M843.6 403.4l-9.5-8.4" stroke="#808080" stroke-width="2.5"/><path d="M778.4 347.7l1.6-3.5 1.7-5.5 0.6-5.7-0.2-3.8-0.6-3.8-1.1-3.6-1.6-3.6-3.1-5-2.6-3.1-4.5-4.2-5.2-3.5-3.9-1.9-4-1.6-4.2-1.2-4.4-0.7-6.6-0.5-6.6 0.5-4.4 0.7-4.2 1.2-4 1.6-3.9 1.9-5.2 3.5-4.5 4.2-2.6 3.1-3.1 5-1.6 3.6-1.1 3.6-0.6 3.8-0.2 3.8 0.6 5.7 1.7 5.5 1.6 3.5M922.7 347.7l1.6-3.5 1.7-5.5 0.6-5.7-0.2-3.8-0.6-3.8-1.1-3.6-1.6-3.6-3.1-5-2.6-3.1-4.5-4.2-5.2-3.5-3.9-1.9-4-1.6-4.2-1.2-4.4-0.7-6.6-0.5-6.6 0.5-4.4 0.7-4.2 1.2-4 1.6-3.9 1.9-5.2 3.5-4.5 4.2-2.6 3.1-3.1 5-1.6 3.6-1.1 3.6-0.6 3.8-0.2 3.8 0.6 5.7 1.7 5.5 1.6 3.5M774.6 345.7l1.6-3.5 1.5-5.4 0.4-3.8-0.2-3.7-0.7-3.7-1.3-3.6-1.8-3.5-2.2-3.2-2.7-3-3.2-2.7-3.5-2.4-3.8-2-4-1.7-4.3-1.2-4.5-0.7-4.5-0.4-4.5 0.1-4.5 0.6-4.3 1-4.2 1.4-4 1.8-3.6 2.2-4.9 4-2.7 3-2.2 3.2-1.8 3.5-1.3 3.6-0.7 3.7-0.2 3.7 0.4 3.8 1.5 5.4 1.6 3.5M918.9 345.7l1.6-3.5 1.5-5.4 0.4-3.8-0.2-3.7-0.7-3.7-1.3-3.6-1.8-3.5-2.2-3.2-2.7-3-3.2-2.7-3.5-2.4-3.8-2-4-1.7-4.3-1.2-4.5-0.7-4.5-0.4-4.5 0.1-4.5 0.6-4.3 1-4.2 1.4-4 1.8-3.6 2.2-4.9 4-2.7 3-2.2 3.2-1.8 3.5-1.3 3.6-0.7 3.7-0.2 3.7 0.4 3.8 1.5 5.4 1.6 3.5" stroke="#808080" stroke-width="2.7" stroke-dasharray="11 4"/><path d="M753.4 333.9l-0.2-4.7-0.5-2.3-1.8-4.2-1.2-1.8-1.4-1.5-1.6-1.3-1.7-1-1.9-0.7-1.8-0.4-2 0-1.8 0.4-1.9 0.7-1.7 1-1.6 1.3-1.4 1.5-1.2 1.8-1.8 4.2-0.5 2.3-0.2 4.7M897.7 333.9l-0.2-4.7-0.5-2.3-1.8-4.2-1.2-1.8-1.4-1.5-1.6-1.3-1.7-1-1.9-0.7-1.8-0.4-2 0-1.8 0.4-1.9 0.7-1.7 1-1.6 1.3-1.4 1.5-1.2 1.8-1.8 4.2-0.5 2.3-0.2 4.7M735.3 339.7l10 0M879.6 339.7l10 0" stroke="#808080" stroke-width="2.3" stroke-dasharray="12 5"/><path d="M710.8 334.5l0 7.9 0.5 2.2 1 2.1 1.2 1.6 1.1 0.7 1.2-0.7 1.2-1.6 1-2.1 0.5-2.2 0-7.9M769.8 334.5l0 7.9-0.5 2.2-1 2.1-1.2 1.6-1.1 0.7-1.2-0.7-1.2-1.6-1-2.1-0.5-2.2 0-7.9M855.1 334.5l0 7.9 0.5 2.2 1 2.1 1.2 1.6 1.1 0.7 1.2-0.7 1.2-1.6 1-2.1 0.5-2.2 0-7.9M914.1 334.5l0 7.9-0.5 2.2-1 2.1-1.2 1.6-1.1 0.7-1.2-0.7-1.2-1.6-1-2.1-0.5-2.2 0-7.9M699.8 334.5l0.2 8M780.8 334.5l-0.2 8M844.1 334.5l0.2 8M925.1 334.5l-0.2 8" stroke="#808080" stroke-width="2.3" stroke-dasharray="12 5"/><path d="M710.1 308.4l2.3-0.3 0.8 0.4 0.7 1.5-0.4 1.6-0.6 0.8-2.1 1.2-1.8-0.4-0.7-0.8-0.2-0.8 0.4-1.6 1.6-1.6zM767.5 308.4l1.7-0.4 1.3 0.4 1.1 0.9 0.8 1.4 0.1 0.9-0.8 1.6-1.7 0.4-1.3-0.4-1.1-0.9-0.8-1.4-0.1-0.9 0.8-1.6zM854.4 308.4l1.2-0.4 1.6 0.3 0.8 0.9 0.2 0.8-0.2 1.2-0.7 1.2-1.1 0.8-1.4 0.4-1.6-0.4-0.8-1.6 0.4-1.6 1.6-1.6zM911.9 308.4l2.1-0.3 1.8 1.1 0.6 0.8 0.4 1.6-0.9 1.6-1.9 0.3-2-1.1-0.6-0.8-0.4-1.6 0.9-1.6zM703.3 325.2l1.1 0 1.1 1.6 5.9 19.2 4.2 8.1 1 1.5 1.4 1.2 1.6 0.5 1.6-0.1 1.7-1.6 1.9-2.4 3.5-5.6 9.7-19.7 1.3-1.9 1.1-0.5 0.8 0.3 0.8 1 1.8 3.2 8.1 16.8 2.3 4 3.8 5.2 1.5 1.2 0.9 0.1 1.6-0.2 1.6-1.1 1.6-2.2 2.4-4.5 2-4.1 5.5-18.4 1.2-1.6 0.9-0.1 1.6 1.4 1.9 2.7 2.1 4 1.7 4 2.1 7.2 1 9.9 0.8 2.8 0.8 1.5 3.2 3.3 3.2 2.1 8.8 1.4 2.4 1 1.4 1.2 0.2 0.8-0.5 1.6-5.1 8.6-6.4 7.8-12.5 13.2-2.1 1.6-2.2 1-5.6 1-9.6 0.4-4-0.5-9.6-2.3-4-0.6-2.4 0.3-4 1.9-1.5-0.4-2.5-1.4-3.2-0.4-12.8 2.8-4.8 0.6-10.4-0.6-4.8-1-2.4-1.3-2.1-1.9-14.8-16-4.8-6.4-3.2-5.6-0.9-2.4 0.2-0.8 2.4-1.7 3.2-0.8 6.4-0.9 0.8-0.3 3.2-2.2 3.2-3.3 1.6-5.1 0.9-9.7 2-6.4 3.5-7.4 2.4-3.6 1.3-1zM847.5 325.2l1.1 0 1.2 1.6 5.8 19.2 2.4 4.6 3.2 5.3 1.6 1.1 1.6 0.3 0.9-0.1 1.5-1.1 3.9-5.3 2.7-4.8 7.7-16 1.8-3.2 0.7-0.9 0.8-0.4 1.2 0.5 1.2 1.7 9.8 19.9 3.5 5.6 3.5 3.9 1.6 0.2 1.6-0.4 1.5-1.3 0.9-1.3 4.3-8.3 6.1-19.6 0.8-1.1 0.8-0.2 0.8 0.3 1.6 1.7 1.8 2.9 3.4 7.2 2 6.4 0.9 9.6 1.5 5 3.2 3.4 4 2.6 8 1.2 2.4 0.8 1.7 1.4 0.2 0.8-0.5 1.6-5.2 8.8-6.6 8-12.2 12.8-2.2 1.7-2.4 1-4.8 0.8-9.9 0.5-4.5-0.6-10.4-2.5-3.2-0.3-2.4 0.4-3.2 1.8-1.6-0.2-3.2-1.7-2.4-0.3-4 0.6-9.6 2.3-4.8 0.5-10.4-0.6-4.8-1.1-2.4-1.4-1.6-1.5-8.8-9.1-6.2-7.1-5-6.8-3.4-6-0.5-1.6 0.7-1.3 2.4-1.4 9.6-1.7 3.2-2 3.2-3.2 0.8-1.4 0.8-2.6 1.1-10.4 2.1-7.2 3.4-7.2 2.2-3.4 1.5-1.4zM662 366.3l1.6 1 0.5 1.1-0.6 1.6-1.5 1.5M698.3 402.8l0.5-0.4 0.5 0.4 1.9 10.6-1-0.2-1.9-10.4zM781.2 402.8l0.8-0.3 0.3 0.3-1.9 10.4-0.8 0.3-0.3-0.3 1.9-10.4zM842.5 402.8l0.3-0.3 0.9 0.3 0.2 2.4 1.7 8-0.4 0.4-0.6-0.4-0.2-0.6-1.9-9.8zM925.6 402.8l0.4-0.4 0.6 0.4-2.2 10.7-0.9-0.3 2.1-10.4zM715.2 406l0.4-0.5 0.8 0.3 6.4 4.1 1.1 0.9-0.3 0.7-1.6-0.7-6.8-4.8zM764 406l1.2-0.4 0.3 0.4-0.7 0.8-7.6 4.8-0.4-0.8 0.4-0.4 6.8-4.4zM859.4 406l0.2-0.3 0.8 0 0.7 0.3 5.7 3.8 1.3 1-0.4 0.8-7.6-4.8-0.7-0.8zM908.2 406l1-0.5 0.5 0.5-0.8 0.8-6.1 4.1-1.6 0.4-0.2-0.5 1-0.8 6.2-4z" stroke="#352a87" stroke-width="2.4"/>
<path d="M698 342.8l1.6-0.4 2.4 0.3 3.2 1.2 2.4 1.5 2.4 2.7 5.6 8.6 1.6 1.5 4.1 2.2 2.2 3.2 2.4 4.8 1.8 4.8 1.3 4.8 0.5 4-0.2 4-0.8 3.2-1.6 2.4-1.7 1.2-1.6 0.5-2.4 0.1-2.4-0.5-2.4-0.9-0.5 0.4 0.3 2.4-0.6 0.9-1.6 0.5-3.2-0.6-4.8-1.9-7.2-4.1-8.8-6.4-7.6-6.8-5.3-6.4-0.4-1.6 0.5-0.8 0.8-0.4 3.2-0.9 4 0 2.4 0.9 3.2 1.8 8.8 6 0.8-0.2-4.3-8.8-1.4-4-0.5-2.4 1.6-12.8 0.8-2.4 1.4-1.6zM778.1 342.8l2.3-0.4 1.6 0.1 0.8 0.4 1.2 1.5 0.9 3.2 1.5 11.2-0.2 2.4-0.8 2.4-2.3 5.6-2.9 5.6 0.2 0.5 9.6-6.4 4.8-2.4 3.2-0.3 4 0.7 1.4 0.7 0.5 0.8-0.4 1.6-4.6 5.6-7.3 6.8-8.8 6.6-8 4.6-4.8 2-3.2 0.6-1.6-0.4-0.8-0.9 0.3-2.5-0.3-0.4-4.8 1.4-2.4 0-1.6-0.5-1.9-1.3-1.6-2.4-0.7-2.4-0.3-3.2 0.2-3.2 0.7-4 3.1-8.8 3.4-6.4 1.1-1.1 3.2-1.5 1.7-1.4 7.1-10.4 2.4-2.1 4.1-1.9zM842.4 342.8l1.2-0.4 2.4 0.2 3.2 1.1 2.4 1.5 3.2 3.6 5.6 8.4 1.6 1.3 3.6 1.9 2.2 3.2 2.4 4.8 1.8 4.8 1.1 4 0.6 4 0 4-0.6 3.2-1.3 2.4-1.8 1.7-1.6 0.7-2.4 0.3-5.6-1.5 0.1 2.8-0.5 0.8-1.2 0.5-3.2-0.3-4-1.5-8.8-4.9-8.8-6.4-7.3-6.6-2.9-3.2-2.4-3.2-0.4-1.6 0.5-0.8 1.3-0.6 4-0.8 3.2 0.3 4.8 2.3 9.6 6.4 0.3-0.4-4.6-9.6-1.6-5.6 1.6-12.8 1.1-2.9 1.2-1.1zM922.4 342.8l3.6-0.4 1.6 1 0.8 1.2 0.8 3 1.5 11.2-0.2 2.4-1.1 3.2-4.8 10.4 0.6 0.3 8.8-6.1 3.2-1.8 2.4-0.8 4-0.1 3.2 0.8 0.9 0.5 0.5 0.8-0.4 1.6-5.3 6.4-7.7 6.9-8.8 6.4-7.2 4.1-4.8 1.9-3.2 0.4-1.6-0.4-0.5-0.9 0.3-2.4-0.6-0.4-2.4 1-2.4 0.5-2.4-0.2-1.6-0.6-1.6-1.1-1.6-2.4-0.7-2.4-0.3-3.2 0.9-7.2 1.2-4 1.9-4.8 3.4-6.4 1.6-1.4 2.4-1.1 2-1.5 7.6-10.9 2.4-1.9 3.6-1.6zM738.5 343.6l1.1-0.5 1.6 0 0.9 0.5 1.1 1.6 0.8 14.4 0.1 16-0.6 13.6-0.7 1.8-0.8 0.8-1.6 0.4-2-0.6-1.2-1.6-0.5-9.6-0.1-20 0.5-10.4 0.3-4.8 1.1-1.6zM882.8 343.6l0.8-0.4 1.6-0.2 1.6 1 0.7 1.2 0.8 14.4 0.1 16-0.6 13.6-1 2.2-0.8 0.5-1.6 0.3-1.7-0.6-1.2-1.6-0.7-13.6 0.1-16.8 0.7-13.6 0.4-1.5 0.8-0.9zM700.4 375l0 0.7 0-0.7zM924.4 375.1l0 0.6 0-0.6zM726.5 393.2l0.3-0.4 2.4 0 0.8 0.4 0.3 0.8-0.4 0.8-1.5 1.1-1.6 0.5-1.6-0.1-0.9-0.7 0.2-0.8 0.7-1 1.3-0.6zM750.6 393.2l1-0.4 2.4 0.1 1.6 1.3 0.6 1.4-1.4 0.9-2.4-0.5-1.7-1.2-0.4-0.8 0.3-0.8zM870.7 393.2l0.9-0.5 1.6 0.1 1.1 0.4 0.3 0.8-1.4 1.6-1.6 0.7-1.6 0.1-1.3-0.8 0.1-0.8 1.2-1.4 0.7-0.2zM894.9 393.2l0.7-0.3 2.4-0.1 1.6 0.8 0.8 1.2 0.2 0.8-1 0.8-0.8 0.1-2.4-0.7-1.4-1-0.4-0.8 0.3-0.8z" stroke="#0f5cdd" stroke-width="2.4"/>
<path d="M739.2 345.2l1.2-0.5 1 0.5 0.2 0.8 1 14.4 0.2 15.2-0.5 7.2-0.6 6.4-0.5 0.9-0.8 0.3-0.8-0.1-0.8-1.1-1-13.6 0.2-16 0.8-12.2 0.4-2.2zM883.5 345.2l0.9-0.5 0.8 0.1 0.8 1.2 0.9 14.4 0.2 15.2-0.5 8-0.5 5.6-0.5 0.8-1.2 0.4-0.9-0.4-0.3-0.8-1.1-13.6 0.2-16 1.2-14.4zM700 348.4l2-0.4 1.6 0.1 2.4 0.8 2.4 1.4 2.4 2.2 4.3 5.5 3.5 3.2 2.2 3.2 2.3 4.8 1.5 4 1.1 4 0.4 3.2-0.1 3.2-0.5 2.4-1.1 2-1.6 1.4-1.6 0.6-2.4 0-3.2-1.1-2.4-1.5-5-4.6-2.5-3.2-2.6-4-4-8.8-2.1-8 0-3.2 0.6-4 1.2-2.3 1.2-0.9zM775.9 348.4l2.9-0.4 2.4 0.8 1.5 2 0.7 2.4 0.3 4-0.4 3.2-1.5 5.6-1.9 4.8-2.4 4.8-2.6 4-2.5 3.2-3.2 3.2-3.2 2.3-3.2 1.4-2.4 0.4-2.4-0.6-1.5-1.1-1-1.6-0.8-2.4-0.2-2.4 0.8-6.4 2.2-6.4 2.3-4.8 2.2-3.2 3.5-3.2 5.3-6.5 2.4-1.9 2.7-1.2zM844.3 348.4l1.7-0.4 2.4 0.2 2.4 0.9 2.4 1.6 2.4 2.4 4 5.2 4 3.7 1.9 3.2 3.4 8 1.5 7.2-0.1 3.2-0.5 2.4-1.4 2.4-1.6 1.2-2.4 0.5-2.4-0.4-2.4-1-2.4-1.5-5.4-5.2-4.9-7.2-3.8-8.8-1.3-4.8-0.5-3.2 0-3.2 0.7-3.6 0.8-1.6 1.5-1.2zM920.2 348.4l2.6-0.4 2.4 0.6 1.6 1.7 0.8 2.6 0.4 3.5-0.3 3.2-1.1 4.8-2 5.6-2.3 4.8-2.5 4-3.1 4-2.7 2.8-3.2 2.4-3.2 1.6-2.4 0.5-2.4-0.3-1.6-1-1-1.2-1-2.4-0.4-2.4 0.6-6.4 2.4-7.2 2.3-4.8 2.2-3.2 3.5-3.2 5.8-7 2.4-1.7 2.2-0.9zM681.8 368.4l2.6-0.1 4 1.5 5.6 3.1 6.4 4.6 5.1 4.5 4.3 4.8 1.9 3.2 0.2 1.6-0.3 0.5-0.8 0.5-1.6 0.1-4.8-1.6-5.6-3.2-6.4-4.6-6-5.3-4.1-4.8-1.5-3.2 0-0.8 1-0.8zM795.8 368.4l3 0 1 0.8-0.2 1.6-2.5 4-5.5 5.6-6.4 5.2-7.2 4.6-5.6 2.3-1.6 0.2-1.6-0.4-0.5-0.7 0-0.8 1.5-3.2 2.5-3.2 4.1-4 5.2-4.3 4.8-3.3 5.6-3.1 3.4-1.3zM826.1 368.4l3.1 0 4.8 2 6.4 3.9 5.6 4.3 5.4 5 3.3 4 1.5 3.2 0 0.8-0.6 0.8-2.4 0.2-4.8-1.7-6.4-3.7-5.6-4.1-5.6-5.1-4.2-4.8-1.5-3.2 0-0.8 1-0.8zM940.1 368.4l1.9-0.2 1.6 0.5 0.5 0.5-0.2 1.6-3.2 4.8-5.7 5.6-6.6 5.2-7.2 4.3-3.2 1.4-2.4 0.6-1.6-0.1-0.8-0.6 0-2 1.3-2.4 2.5-3.2 4.2-4.1 4-3.4 5.6-3.9 5.6-3.2 3.7-1.4z" stroke="#127dd8" stroke-width="2.4"/>
<path d="M702.6 353.2l1.8-0.4 1.6 0.3 4 2.1 5.8 6 3.3 4.8 3.3 7.2 1.3 5.6-0.2 4.8-1.1 2.4-1.2 1.1-1.6 0.6-1.6 0-2.4-0.8-2.4-1.3-4.7-4.4-3.8-5.6-3.2-7.2-1.5-7.2 0-3.2 0.4-1.9 0.8-1.7 1.4-1.2zM774.2 353.2l2.2-0.4 1.6 0.4 1.6 1.5 0.9 2.5 0.1 3.2-0.5 4-1 4-1.6 4-2 4-2.2 3.2-2.5 3-2.4 2.2-2.4 1.6-2.4 1-2.4 0.3-1.6-0.5-1.9-2-0.6-1.6-0.3-2.4 0.7-5.6 2-5.6 2.4-4.8 2.9-4 5.2-5.5 2.4-1.7 1.8-0.8zM846.9 353.2l1.5-0.4 2.4 0.4 4 2.4 6 6.4 3.1 4.8 2.8 6.4 1.3 6.4 0 2.4-0.5 2.4-0.8 1.6-1.5 1.2-1.6 0.5-2.4-0.3-4-2.1-4.4-4.1-4.3-6.4-2.9-7.2-1.3-6.4 0.3-4.8 0.6-1.6 1.7-1.6zM918.5 353.2l1.9-0.4 1.8 0.4 1.4 1.1 1 2.1 0.4 3.2-0.3 3.2-0.8 4-1.4 4-3.8 7.2-4.7 5.7-2.4 1.9-2.4 1.4-2.4 0.7-2.4-0.3-1.6-1.1-0.8-1.1-0.8-3.2 0.3-4.8 1.9-6.4 2.8-5.6 2.9-4 4.9-5.3 2.4-1.7 2.1-1zM740.3 365.2l0.7 9.6-0.6 3.2-0.8-1.8-0.1-1.4 0.1-4.8 0.7-4.8zM884.4 365.2l0.8 2.9 0.1 6.7-0.1 1.9-0.8 1.2-0.5-3.1 0.5-9.6zM685.3 371.6l2.3-0.1 3.2 1.2 4.8 2.7 4 2.9 4.3 3.7 2.9 3.2 1.8 3.2-0.2 1.3-0.8 0.4-1.6-0.1-3.2-1.1-4-2.3-4.8-3.4-4.1-3.6-3.6-4-1.3-2.4-0.1-0.8 0.4-0.8zM792.6 371.6l1.4-0.3 1.3 0.3 0.4 0.8-0.1 0.8-1.9 3.2-3.8 4-5.5 4.5-4.8 3-4.8 2.1-2.4-0.1-0.5-0.7 0.1-0.8 0.7-1.6 2.5-3.2 2.8-2.8 7.2-5.5 4-2.3 3.4-1.4zM829.6 371.6l2-0.2 4 1.5 4 2.3 4.8 3.5 4.6 4.1 2.7 3.2 1.2 2.4 0.1 0.8-0.6 0.8-2.4 0-3.2-1.3-4-2.2-4.8-3.5-4.6-4.2-2.8-3.2-1.3-2.4-0.1-0.8 0.4-0.8zM936.9 371.6l1.9-0.3 0.8 0.3 0.4 0.8-0.2 0.8-1.8 3.2-4.7 4.8-5.7 4.5-4.8 2.8-4 1.6-1.6 0-0.8-0.5-0.1-1.2 1.2-2.4 5.3-5.7 7.2-5.4 4-2.2 2.9-1.1z" stroke="#079ccf" stroke-width="2.4"/>
<path d="M704.1 358l1.1-0.6 1.6-0.1 1.6 0.4 2.4 1.5 4 3.9 3.6 5.3 2.5 5.6 1 4.8-0.3 4-0.8 1.6-1.2 1-1.6 0.4-1.6-0.2-3.2-1.6-3.9-3.6-3.3-4.8-2.2-4.8-1.3-5.6 0.2-4.8 1.4-2.4zM771.7 358l2.3-0.7 1.6 0.1 0.9 0.6 1.1 1.6 0.6 2.4-0.1 3.2-1.6 6.4-2.8 5.6-2.1 2.9-2.4 2.5-4 2.6-2.4 0.6-1.6-0.3-1.6-1.4-0.9-2.9 0.2-4 1.1-4 2.2-4.8 3-4.6 3.2-3.5 3.3-2.3zM848.3 358l0.9-0.5 1.6-0.3 1.6 0.4 2.4 1.3 4 3.8 3.5 4.9 2.6 5.6 1.3 5.6-0.3 4-0.7 1.4-1 1-1.4 0.5-1.6 0-3.2-1.4-4-3.4-3.3-4.5-2.6-5.6-1.3-5.6 0-4 0.5-1.6 1-1.6zM916 358l2-0.7 1.6 0 1.6 1 0.8 1.4 0.5 2.3 0 2.4-1.4 6.4-3.1 6.4-4 4.9-4 2.9-2.4 0.7-1.6-0.1-1.9-1.2-0.8-1.6-0.3-1.6 0.2-4 1.1-4 2.2-4.8 2.7-4.2 3.2-3.6 3.6-2.6zM688.5 374.8l0.7-0.6 2.4 0.4 3.2 1.6 3.9 2.6 3.7 3.2 2.2 2.4 1 1.6 0 1.6-1.2 0.3-2.4-0.7-6-3.6-5.3-4.8-1.8-2.4-0.4-1.6zM788.5 374.8l2.3-0.7 0.8 0.1 0.5 0.6-0.9 2.4-2.8 3.2-4 3.3-4 2.6-3.2 1.4-1.6 0.2-0.7-0.3-0.1-0.8 0.7-1.6 3.5-4 4.6-3.6 4.9-2.8zM832.8 374.8l0.4-0.5 0.8-0.2 2.4 0.7 6.4 3.8 5.4 5 1.7 2.4 0.1 1.6-1.6 0.3-1.6-0.5-3.2-1.6-3.2-2.1-5.4-4.9-1.8-2.4-0.4-1.6zM932.8 374.8l2.8-0.6 0.8 0.6-0.9 2.4-2.8 3.2-4.3 3.5-4 2.6-3.2 1.3-1.9-0.2-0.2-0.8 0.7-1.6 3.5-4 5.1-4 4.4-2.4z" stroke="#15b1b4" stroke-width="2.4"/>
<path d="M706.2 361.2l2.2-0.2 3.2 1.6 3.2 3.2 2.8 4.2 2.1 4.8 0.7 4-0.4 3.2-1.3 1.6-2.3 0.4-3.2-1.4-3.2-2.9-2.9-4.1-2.1-4.8-0.8-4 0.3-3.2 0.7-1.5 1-0.9zM771.5 361.2l1.7-0.3 1.2 0.3 1.2 1.2 0.5 1.2 0.2 4-1.6 5.6-2.7 4.8-3.6 3.9-3.2 1.9-1.6 0.2-1.6-0.4-1.4-1.6-0.5-2.4 0.4-3.2 1.3-4 1.8-3.5 2.4-3.4 3.2-3 2.3-1.3zM850.5 361.2l1.9-0.3 3.2 1.5 3.2 3 3.1 4.6 2.1 4.8 0.7 4-0.4 3.2-1.5 1.7-2.4 0.2-3.2-1.5-3.2-3-2.6-3.8-2.1-4.8-0.8-4 0.1-2.4 0.5-1.6 1.4-1.6zM915.8 361.2l1.4-0.3 1.6 0.3 0.9 0.8 0.7 1.6 0.2 4-1.3 4.8-2.5 4.8-3.6 4.3-3.2 2.1-1.6 0.4-1.6-0.1-1.6-1.4-0.7-2.1 0.1-3.2 1.2-4 1.8-3.8 2.4-3.5 3.2-3.2 2.6-1.5zM692 377.2l0.4-0.3 1.6 0.3 4.1 2.4 3.5 3.2 1.1 1.6 0.1 0.9-0.8 0.2-1.6-0.4-3.8-2.3-3.5-3.2-1-1.6-0.1-0.8zM786.6 377.2l1.8-0.2 0.2 1-2.7 3.2-4.7 3.4-2.4 0.9-1-0.3 0.6-1.6 2.2-2.4 3-2.4 3-1.6zM836.3 377.2l1.7-0.1 4.4 2.5 3.5 3.2 1.1 1.6 0.1 0.8-0.3 0.3-1.6-0.2-4.3-2.5-3.5-3.2-1.1-1.6 0-0.8zM930.9 377.2l1.5-0.3 0.5 0.3-0.1 0.8-2.6 3.2-5 3.6-1.6 0.6-0.8 0.1-0.7-0.3 0.6-1.6 2.2-2.4 3.1-2.4 2.9-1.6z" stroke="#59bd8c" stroke-width="2.4"/>
<path d="M707 364.4l0.6-0.4 1.6-0.1 2.4 1.1 2.4 2.1 2.4 3.3 1.7 3.6 0.9 3.2-0.2 3.2-1.2 1.6-2 0.3-2.4-1-2.4-2.1-2.4-3.2-1.7-3.6-0.8-3.2 0.1-3 1-1.8zM770 364.4l2.4-0.5 0.8 0.2 1 1.1 0.6 3.2-0.9 4-2 4-2.7 3.4-3.2 2.2-2.4 0.3-1.4-1.1-0.6-1.6 0-2.4 0.9-3.2 1.5-3.2 2-3 2.4-2.4 1.6-1zM851.3 364.4l1.9-0.6 2.4 1 2.4 2 2.5 3.2 1.9 4 0.9 3.2-0.2 3.2-1.1 1.6-1.6 0.4-2.4-0.8-2.5-2-2.5-3.2-2-4-0.8-3.2 0.2-3.2 0.9-1.6zM914.3 364.4l1.3-0.5 1.6 0.1 1.3 1.2 0.6 3.2-0.9 4-2 4-3 3.7-3.2 2-2.4 0.1-1.1-1-0.6-1.6 0-2.4 0.9-3.2 1.5-3.2 1.7-2.6 2.4-2.5 1.9-1.3z" stroke="#a5be6b" stroke-width="2.4"/>
<path d="M708.3 366.8l1.7-0.4 1.6 0.7 2.4 2.1 1.7 2.4 1.5 3.2 0.4 2.4-0.4 2.4-0.8 0.8-1.6 0.2-1.6-0.7-2.2-1.9-1.7-2.4-1.4-3.2-0.5-2.4 0.2-2.1 0.7-1.1zM769.6 366.8l2-0.3 1.3 1.1 0.3 2.4-0.7 3.2-1.7 3.2-2.4 2.7-2.4 1.4-1.6 0-1-0.9-0.4-1.6 0.7-4 2.3-4.1 1.6-1.7 2-1.4zM852.6 366.8l1.4-0.4 2.4 1 1.6 1.5 2 2.7 1.5 3.2 0.4 2.4-0.1 1.6-1.1 1.6-1.9 0.1-1.6-0.8-1.9-1.7-1.7-2.4-1.2-2.5-0.7-3.1 0.1-1.6 0.8-1.6zM913.9 366.8l1.7-0.4 0.8 0.3 0.8 0.9 0.3 2.4-0.7 3.2-2 3.6-2.4 2.6-2.4 1.2-1.6-0.2-0.8-0.9-0.3-1.5 0.7-4 1.2-2.4 1.6-2.3 3.1-2.5z" stroke="#e1b952" stroke-width="2.4"/>
<path d="M709.8 369.2l1-0.2 1.6 0.8 2.3 2.6 1.3 3.2 0 1.6-0.4 1-0.8 0.4-1.6-0.4-2.6-2.6-1.2-2.4-0.3-1.6 0.1-1.6 0.6-0.8zM769.1 369.2l1.7 0 0.6 0.8 0.2 1.6-0.7 2.4-1.5 2.4-1.6 1.6-1.8 0.7-0.8-0.3-0.7-2 0.7-2.6 1.6-2.7 2.3-1.9zM854.1 369.2l0.7-0.2 1.6 0.5 2.6 2.9 0.8 1.6 0.6 2.4-0.1 0.8-0.7 1.2-0.8 0.3-1.6-0.6-2.4-2.6-0.8-1.5-0.6-2.4 0.1-1.6 0.6-0.8zM913.5 369.2l1.3-0.2 0.8 0.7 0.2 1.9-0.3 1.6-0.7 1.6-1.6 2.2-1.6 1.3-1.6 0.3-0.8-0.5-0.3-0.9 0.5-3.2 2-3.2 2.1-1.6z" stroke="#fcce2e" stroke-width="2.4"/>
<path d="M712.1 373.2l0.3-0.1 0.8 0.9 0 1-0.8-0.3-0.3-1.5zM768.2 373.2l0.4 0 0 0.8-1 1-0.1-1 0.7-0.8zM856.3 373.2l0.9 0.4 0.3 1.2-0.3 0.2-0.8-0.7-0.1-1.1zM912.3 373.2l0.5 0 0.1 0.8-0.5 0.8-0.8 0.1 0.7-1.7z" stroke="#f9fb0e" stroke-width="2.4"/>
</g>
<g clip-path="url(#cp_cS1)" fill="none" stroke-linejoin="round">
<path d="M225.2 641.1l0.8-6 0.1-4.1-0.2-4-0.7-4-1-4-2.2-5.7-1.9-3.6-3.4-5-4.1-4.5-3.1-2.7-3.3-2.4-3.5-2-3.7-1.7-5.8-2-6-1.1-4-0.3-6.1 0.3-4 0.6-5.9 1.7-3.8 1.6-3.6 1.9-5 3.4-3.1 2.7-4.1 4.5-3.4 5-1.9 3.6-2.2 5.7-1 4-0.7 4-0.2 4 0.1 4.1 0.8 6M437.2 641.1l0.8-6 0.1-4.1-0.2-4-0.7-4-1-4-2.2-5.7-1.9-3.6-3.4-5-4.1-4.5-3.1-2.7-3.3-2.4-3.5-2-3.7-1.7-5.8-2-6-1.1-4-0.3-6.1 0.3-4 0.6-5.9 1.7-3.8 1.6-3.6 1.9-5 3.4-3.1 2.7-4.1 4.5-3.4 5-1.9 3.6-2.2 5.7-1 4-0.7 4-0.2 4 0.1 4.1 0.8 6M221 638.8l0.6-4 0-4.1-0.3-4.1-0.8-4-1.2-3.9-1.6-3.8-2-3.6-2.3-3.4-4.2-4.5-3.1-2.7-3.4-2.3-3.6-1.9-3.8-1.6-4-1.1-4-0.8-4.1-0.3-4.1 0.1-4.1 0.6-4 0.9-3.9 1.4-3.7 1.7-3.5 2.1-4.8 3.9-2.9 2.9-2.5 3.3-3.1 5.3-1.6 3.8-1.2 3.9-0.8 4-0.3 4.1 0 4.1 0.6 4M433 638.8l0.6-4 0-4.1-0.3-4.1-0.8-4-1.2-3.9-1.6-3.8-2-3.6-2.3-3.4-4.2-4.5-3.1-2.7-3.4-2.3-3.6-1.9-3.8-1.6-4-1.1-4-0.8-4.1-0.3-4.1 0.1-4.1 0.6-4 0.9-3.9 1.4-3.7 1.7-3.5 2.1-4.8 3.9-2.9 2.9-2.5 3.3-3.1 5.3-1.6 3.8-1.2 3.9-0.8 4-0.3 4.1 0 4.1 0.6 4M216.5 635l0-6.2-0.6-4-1.2-4-2.5-5.6-2.3-3.4-2.7-3.1-3-2.8-3.4-2.5-5.5-2.8-3.9-1.4-4.1-0.8-6.2-0.4-6.2 0.8-4 1.1-3.8 1.5-5.4 3.2-3.2 2.6-2.8 3-3.6 5-2.5 5.6-1.2 4-0.6 4 0 6.2M428.5 635l0-6.2-0.6-4-1.2-4-2.5-5.6-2.3-3.4-2.7-3.1-3-2.8-3.4-2.5-5.5-2.8-3.9-1.4-4.1-0.8-6.2-0.4-6.2 0.8-4 1.1-3.8 1.5-5.4 3.2-3.2 2.6-2.8 3-3.6 5-2.5 5.6-1.2 4-0.6 4 0 6.2" stroke="#808080" stroke-width="2.5" stroke-dasharray="12 4"/><path d="M197.5 632.9l-0.1-4.9-0.8-4.7-1.5-4.4-2.2-3.8-2.7-3-3-2.1-1.7-0.7-3.4-0.5-3.3 0.5-1.7 0.7-3 2.1-2.7 3-2.2 3.8-1.5 4.4-0.8 4.7-0.1 4.9M409.5 632.9l-0.1-4.9-0.8-4.7-1.5-4.4-2.2-3.8-2.7-3-3-2.1-1.7-0.7-3.3-0.5-3.4 0.5-1.7 0.7-3 2.1-2.7 3-2.2 3.8-1.5 4.4-0.8 4.7-0.1 4.9" stroke="#808080" stroke-width="2.4" stroke-dasharray="13 9"/><path d="M165.2 626.5l0 12.5M199 626.5l0 12.5M377.2 626.5l0 12.5M411 626.5l0 12.5M171.4 653l-0.1-8.8 0.6-2.3 1-1.9 1.1-1.4 1.2-0.6 1.1 0.6 1.1 1.5 1 1.9 0.6 2 0 7M193 653l0-8.8-0.6-2.3-1-1.9-1.1-1.4-1.1-0.6-1.2 0.6-1.1 1.5-1 1.9-0.6 2 0.1 7M383.4 653l-0.1-8.8 0.6-2.3 1-1.9 1.1-1.4 1.2-0.6 1.1 0.6 1.1 1.5 1 1.9 0.6 2 0 7M405 653l0-8.8-0.6-2.3-1-1.9-1.1-1.4-1.1-0.6-1.2 0.6-1.1 1.5-1 1.9-0.6 2 0.1 7M149.8 643.5l-0.1 4.1 0.8 1.8 1.9 1.8 2.4 1.3 2.3 0 2.4-1.3 1.9-1.8 0.8-1.8-0.1-4.1M214.6 643.5l0 4.1-0.8 1.8-1.9 1.8-2.4 1.3-2.3 0-2.4-1.3-1.9-1.8-0.8-1.8 0.1-4.1M361.8 643.5l-0.1 4.1 0.8 1.8 1.9 1.8 2.4 1.3 2.3 0 2.4-1.3 1.9-1.8 0.8-1.8 0-4.1M426.6 643.5l0 4.1-0.8 1.8-1.9 1.8-2.4 1.3-2.3 0-2.4-1.3-1.9-1.8-0.8-1.8 0.1-4.1M177.2 662l0.4 10M187.2 662l-0.4 10M389.2 662l0.4 10M399.2 662l-0.4 10M170.2 664l1 12M194.2 664l-1 12M382.2 664l1 12M406.2 664l-1 12M76.1 629.5l-6 1-5 3M288.2 629.5l-6 1-5.1 3M76.2 629.5l6 1 5 3M500.2 629.5l-6 1-5.1 3M288.2 629.5l6 1 5 3M500.2 629.5l6 1 5 3M76.1 633.2l-4.8 0.7-2.4 0.8-4.8 2.8M288.2 633.2l-4.9 0.7-2.3 0.8-4.9 2.8M76.2 633.2l4.8 0.7 2.4 0.8 4.8 2.8M500.2 633.2l-4.9 0.7-2.3 0.8-4.9 2.8M288.2 633.2l4.8 0.7 2.4 0.8 4.8 2.8M500.2 633.2l4.8 0.7 2.4 0.8 4.8 2.8M76.1 637.4l-4.8 0.8-2.2 0.9-4 2.9M288.2 637.4l-4.9 0.8-2.2 0.9-4 2.9M76.2 637.4l4.8 0.8 2.2 0.9 4 2.9M500.2 637.4l-4.9 0.8-2.2 0.9-4 2.9M288.2 637.4l4.8 0.8 2.2 0.9 4 2.9M500.2 637.4l4.8 0.8 2.2 0.9 4 2.9M274.2 628.5l-4.5 2.9-1.3 1.2-2 3.4-0.8 2-1.2 4-0.4 4 0.2 4.6 2.4 11.4M90.2 628.5l4.4 2.9 1.3 1.2 2 3.4 0.8 2 1.2 4 0.4 4-0.2 4.6-2.4 11.4M486.2 628.5l-4.5 2.9-1.3 1.2-2 3.4-0.8 2-1.2 4-0.4 4 0.2 4.6 2.4 11.4M302.2 628.5l4.4 2.9 1.3 1.2 2 3.4 0.8 2 1.2 4 0.4 4-0.2 4.6-2.4 11.4M270.6 634l-1.7 6.8-1.2 8.1 0 4.7 1.4 10.4M93.7 634l1.7 6.8 1.2 8.1 0 4.7-1.4 10.4M482.6 634l-1.7 6.8-1.2 8.1 0 4.7 1.4 10.4M305.7 634l1.7 6.8 1.2 8.1 0 4.7-1.4 10.4M76.1 678.3l-2.5 5.7-3.9 12M288.2 678.3l-2.6 5.7-3.9 12M76.2 678.3l2.5 5.7 3.9 12M500.2 678.3l-2.6 5.7-3.9 12M288.2 678.3l2.5 5.7 3.9 12M500.2 678.3l2.4 5.7 4 12M278.8 673l0.5 15M85.6 673l-0.6 15M490.8 673l0.6 15M297.6 673l-0.6 15M260.2 676l5 0.3 2 0.7 1.3 1.6 0.8 2.2 0.3 2.2-0.3 2.1-1.7 4.4M104.2 676l-5 0.3-2 0.7-1.4 1.6-0.8 2.2-0.3 2.2 0.3 2.1 1.7 4.4M472.2 676l5 0.3 2 0.7 1.3 1.6 0.8 2.2 0.3 2.2-0.3 2.1-1.7 4.4M316.2 676l-5 0.3-2 0.7-1.4 1.6-0.8 2.2-0.3 2.2 0.3 2.1 1.7 4.4M261.2 684.5l2.2 0.5 1.8 1 0.2 2.7-0.3 3.3M103.2 684.5l-2.3 0.5-1.7 1-0.3 2.7 0.3 3.3M473.2 684.5l2.2 0.5 1.8 1 0.2 2.7-0.3 3.3M315.2 684.5l-2.3 0.5-1.7 1-0.3 2.7 0.3 3.3M76.1 700.6l-3 1.9-9 7M288.2 700.6l-3 1.9-9.1 7M76.2 700.6l3 1.9 9 7M500.2 700.6l-3 1.9-9.1 7M288.2 700.6l3 1.9 9 7M500.2 700.6l3 1.9 9 7M76.1 707.7l-4 2.3-6 3M288.2 707.7l-4 2.3-6.1 3M76.2 707.7l4 2.3 6 3M500.2 707.7l-4 2.3-6.1 3M288.2 707.7l4 2.3 6 3M500.2 707.7l4 2.3 6 3M276.2 659l-3.3 3.9-1.4 2.2-2.4 4.9M88.2 659l3.2 3.9 1.4 2.2 2.4 4.9M488.2 659l-3.3 3.9-1.4 2.2-2.4 4.9M300.2 659l3.2 3.9 1.4 2.2 2.4 4.9" stroke="#808080" stroke-width="2.4"/><path d="M79.4 653.2l-0.5-2.6-1.4-1.8-1.8-0.4-1.7 1.2-1 2.3 0 2.6 1 2.3 1.7 1.2 1.8-0.4 1.4-1.8 0.6-2.6M291.4 653.2l-0.5-2.6-1.4-1.8-1.8-0.4-1.7 1.2-1 2.3 0 2.6 1 2.3 1.7 1.2 1.8-0.4 1.4-1.8 0.6-2.6M503.4 653.2l-0.5-2.6-1.4-1.8-1.8-0.4-1.7 1.2-1 2.3 0 2.6 1 2.3 1.7 1.2 1.8-0.4 1.4-1.8 0.5-2.6" stroke="#808080" stroke-width="1.9"/><path d="M102.2 678l0.4 2.2 1.2 4.2 2.1 3.9 2.8 3.4 3.5 2.9 4 2.1 4.3 1.5 2.3 0.4M262.1 678l-0.4 2.2-1.2 4.2-2.1 3.9-2.8 3.4-3.5 2.9-4 2.1-4.3 1.5-2.3 0.4M314.2 678l0.4 2.2 1.2 4.2 2.1 3.9 2.8 3.4 3.5 2.9 4 2.1 4.3 1.5 2.3 0.4M474.1 678l-0.4 2.2-1.2 4.2-2.1 3.9-2.8 3.4-3.5 2.9-4 2.1-4.3 1.5-2.3 0.4M95.2 675l0.1 4.2 0.4 2.1 1.1 4.1 1.7 4 1.1 1.8 2.6 3.5 3.1 3.1 1.7 1.4 3.7 2.3 4.1 1.9 2.1 0.7 2.1 0.6 4.4 0.6M269.1 675l-0.1 4.2-0.4 2.1-1.1 4.1-1.7 4-1.1 1.8-2.6 3.5-3.1 3.1-1.7 1.4-3.7 2.3-4.1 1.9-2.1 0.7-2.1 0.6-4.4 0.6M307.2 675l0.1 4.2 0.4 2.1 1.1 4.1 1.7 4 1.1 1.8 2.6 3.5 3.1 3.1 1.7 1.4 3.7 2.3 4.1 1.9 2.1 0.7 2.1 0.6 4.4 0.6M481.1 675l-0.1 4.2-0.4 2.1-1.1 4.1-1.7 4-1.1 1.8-2.6 3.5-3.1 3.1-1.7 1.4-3.7 2.3-4.1 1.9-2.1 0.7-2.1 0.6-4.4 0.6M88.5 671l-0.3 6.3 0.4 4.1 0.9 4.1 2.3 5.9 3.3 5.5 2.8 3.3 3.2 2.9 5.3 3.7 3.9 2 4.1 1.5 6.5 1.4M275.8 671l0.3 6.3-0.4 4.1-0.9 4.1-2.3 5.9-3.3 5.5-2.8 3.3-3.2 2.9-5.3 3.7-3.9 2-4.1 1.5-6.5 1.4M300.5 671l-0.3 6.3 0.4 4.1 0.9 4.1 2.3 5.9 3.3 5.5 2.8 3.3 3.2 2.9 5.3 3.7 3.9 2 4.1 1.5 6.5 1.4M487.8 671l0.3 6.3-0.4 4.1-0.9 4.1-2.3 5.9-3.3 5.5-2.8 3.3-3.2 2.9-5.3 3.7-3.9 2-4.1 1.5-6.5 1.4M81.8 668.6l-0.5 4-0.1 4.1 0.2 4.1 0.7 4.1 1.1 4 1.5 3.8 1.9 3.7 2.2 3.5 2.6 3.3 2.9 3 3.2 2.8 3.5 2.4 3.7 2.2 3.9 1.8 4 1.4 4.2 1M282.5 668.6l0.5 4 0.1 4.1-0.2 4.1-0.7 4.1-1.1 4-1.5 3.8-1.9 3.7-2.2 3.5-2.6 3.3-2.9 3-3.2 2.8-3.5 2.4-3.7 2.2-3.9 1.8-4 1.4-4.2 1M293.8 668.6l-0.5 4-0.1 4.1 0.2 4.1 0.7 4.1 1.1 4 1.5 3.8 1.9 3.7 2.2 3.5 2.6 3.3 2.9 3 3.2 2.8 3.5 2.4 3.7 2.2 3.9 1.8 4 1.4 4.2 1M494.5 668.6l0.5 4 0.1 4.1-0.2 4.1-0.7 4.1-1.1 4-1.5 3.8-1.9 3.7-2.2 3.5-2.6 3.3-2.9 3-3.2 2.8-3.5 2.4-3.7 2.2-3.9 1.8-4 1.4-4.2 1M77.6 669.1l0.5 4.1 0 4.1-0.3 4-0.6 4-1 4-1.3 3.9-1.7 3.7-1.9 3.7-2.3 3.4-2.6 3.3-2.8 3-3.1 2.8-3.4 2.6-3.5 2.3-5.7 2.9-4 1.5M74.7 669.1l-0.5 4.1 0 4.1 0.3 4 0.6 4 1 4 1.3 3.9 1.7 3.7 1.9 3.7 2.3 3.4 2.6 3.3 2.8 3 3.1 2.8 3.4 2.6 3.5 2.3 5.7 2.9 4 1.5M289.6 669.1l0.5 4.1 0 4.1-0.3 4-0.6 4-1 4-1.3 3.9-1.7 3.7-1.9 3.7-2.3 3.4-2.6 3.3-2.8 3-3.1 2.8-3.4 2.6-3.5 2.3-5.7 2.9-4 1.5M286.7 669.1l-0.5 4.1 0 4.1 0.3 4 0.6 4 1 4 1.3 3.9 1.7 3.7 1.9 3.7 2.3 3.4 2.6 3.3 2.8 3 3.1 2.8 3.4 2.6 3.5 2.3 5.7 2.9 4 1.5M501.6 669.1l0.5 4.1 0 4.1-0.3 4-0.6 4-1 4-1.3 3.9-1.7 3.7-1.9 3.7-2.3 3.4-2.6 3.3-2.8 3-3.1 2.8-3.4 2.6-3.5 2.3-5.7 2.9-4 1.5M498.7 669.1l-0.5 4.1 0 4.1 0.3 4 0.6 4 1 4 1.3 3.9 1.7 3.7 1.9 3.7 2.3 3.4 2.6 3.3 2.8 3 3.1 2.8 3.4 2.6 3.5 2.3 5.7 2.9 4 1.5" stroke="#808080" stroke-width="2.4" stroke-dasharray="12 4"/><path d="M112.2 709.5l11.9 1.8 7.4 0.7 6.2 0 13.5-0.9 6.7-0.1 8.8 0.4 15.4 1.1M252.2 709.5l-12 1.8-7.4 0.7-6.2 0-13.5-0.9-6.7-0.1-8.8 0.4-15.4 1.1M324.2 709.5l11.9 1.8 7.4 0.7 6.2 0 13.5-0.9 6.7-0.1 8.8 0.4 15.5 1.1M464.2 709.5l-12 1.8-7.4 0.7-6.2 0-13.5-0.9-6.7-0.1-8.8 0.4-15.4 1.1M118.2 711.6l8.6 2 4.7 0.5 6.3-0.1 12.6-0.7 7.6-0.2 7.2 0.3 16.9 1.2M246.2 711.6l-8.7 2-4.7 0.5-6.3-0.1-12.6-0.7-7.6-0.2-7.2 0.3-16.9 1.2M330.2 711.6l8.6 2 4.7 0.5 6.3-0.1 12.6-0.7 7.6-0.2 7.2 0.3 17 1.2M458.2 711.6l-8.7 2-4.7 0.5-6.3-0.1-12.6-0.7-7.6-0.2-7.2 0.3-16.9 1.2M124.2 713.7l3.8 1.9 3.6 0.6 4 0 16.9-0.9 5.5-0.1 8.1 0.4 16 1.1M240.2 713.7l-3.9 1.9-3.6 0.6-4 0-16.9-0.9-5.5-0.1-8.1 0.4-16 1.1M336.2 713.7l3.8 1.9 3.6 0.6 4 0 16.9-0.9 5.5-0.1 8.1 0.4 16.1 1.1M452.2 713.7l-3.9 1.9-3.6 0.6-4 0-16.9-0.9-5.5-0.1-8.1 0.4-16 1.1M130.2 715.8l0 0.3-0.5 1.5 0.8 0.5 1.1 0.2 4.1 0 16.1-0.9 6.4-0.1 9 0.4 14.9 1.1M234.2 715.8l-0.1 0.3 0.5 1.5-0.8 0.5-1.1 0.2-4.1 0-16.1-0.9-6.3-0.1-9 0.4-15 1.1M342.2 715.8l0 0.3-0.5 1.5 0.8 0.5 1.1 0.2 4.1 0 16.1-0.9 6.4-0.1 9 0.4 15 1.1M446.2 715.8l-0.1 0.3 0.5 1.5-0.8 0.5-1.1 0.2-4.1 0-16.1-0.9-6.3-0.1-9 0.4-15 1.1M182.2 710l-5 5M182.2 710l5 5M394.2 710l-5 5M394.2 710l5 5" stroke="#808080" stroke-width="2.4"/><path d="M218.9 609.2l0.8-0.5 1.6 0 1.6 1 1.6 2 4.3 7.9 2.6 8 2 9.6 1.1 8.8-0.1 4.8-1.1 10.4 0.1 4.8 1.1 5.6 0.7 1.6 0.9 0.8 2 0.3 0.8-0.3 1.3-1.6 1.3-3.2 3.6-12 3.8-8.8 5.5-9.6 6.3-8 7-6.7 6.4-4.3 8.8-4 8-0.3 3.2 0.5 7.2 3.3 4 2.3 5.6 4.5 6.8 7.1 4.8 6.4 4.1 7.2 4.6 10.4 4.5 14.4 1.6 2.3 1.6 0.5 1.6-0.6 0.8-0.9 0.9-2.9 0.6-3.2 0.2-5.6-1.1-10.4-0.1-4.8 1.1-8.8 2-9.6 2.2-7.2 3.8-7.3 1.6-2.4 1.6-1.5 1.6-0.6 0.8 0.1 0.9 0.5 0.7 1.1 1 3.7 4.6 37.8 1.6 6.9 1.6 3.4 0.8 0.6 1.6 0 1.9-1.5 9.7-16.8 1.2-1.5 0.8-0.5 1.6 0.3 0.8 0.7 3.2 4.5 2.4 2.2 0.8 1.5 0.7 4 1.3 26.4-1.6 22.4-0.6 2.4-1 0.8-1.2 0.2-2.4 3.1-1.6 0.9-1.6 0.4-2.4-0.3-2.4-1.4-7.2-0.6-7.2-1.7-2.8 0.2-1.2 0.8-1 1.6-0.6 7.2-0.8 2.4-1.6 1.6-3.2 1.1-9.6 1.1-11.2 0.2-9.6-0.9-3.2-0.7-1.6-0.7-1.4-1.7-0.5-1.6 0.6-7.2-0.5-3.2-1.6-3.2-4.6-6.8-1.6-3.3-1.8-6.7-0.2-4.8 1.3-3.2 1.5-1.8 1.6-1.2 2.9-1 7.5-1.1 4-1.7 1.6-2 0.3-1.6-0.3-1.6-2.4-3.7-6.3-6.7-5.7-5.3-4.8-3.7-4.8-2.6-5.6-2.2-6.4-1.6-3.2-0.3-5.6 1.1-4.8 1.4-5.6 2.4-4 2.4-4.8 3.9-6.4 6.1-5.1 5.6-2 3.2-0.3 2.4 0.7 1.6 1.1 1.1 4 1.8 7.6 1.1 2.8 1 1.6 1.1 1.6 1.9 1.3 3.2 0.1 2.4-0.4 3.2-1.8 6.1-1.7 3.5-4.7 6.9-1.3 2.7-0.5 3.2 0.6 7.2-0.5 1.6-1.3 1.6-1.8 0.9-3.4 0.7-11 0.8-12-0.3-8.4-1.3-2-0.9-1.4-1.5-0.9-2.4-0.6-7.2-1.1-1.7-2.4-1-1.6 0.1-7.5 1.8-6.9 0.6-1.6 1-1.6 0.5-2.4-0.1-1.6-0.6-1.6-1.3-1.6-2.3-1.1-0.2-0.9-0.8-0.8-3.2-1.4-21.6 1.1-26.4 0.8-4 0.7-1.4 2.7-2.6 2.9-4.1 0.8-0.7 1.6-0.4 0.8 0.4 1.3 1.6 9.9 17.1 0.8 0.8 1.3 0.5 1.9-0.6 0.8-1 0.8-2.2 1.6-6.6 4.2-35.2 1.1-5.6 1.1-2.4zM70.1 615.6l9.6-0.1 2.4 0.5 7.2 3.3 4 2.3 4.8 3.8 4.7 4.6 6 7.2 5 8 4.8 10.4 5.1 16 1.6 2.3 1.6 0.5 1.6-0.6 0.8-0.9 0.9-2.9 0.6-3.2 0.2-5.6-1.1-10.4-0.1-4.8 1.1-9 2.2-10.2 2.4-7.2 4.4-8 1.4-1.8 1.6-1.1 1.6 0 0.8 0.4 1 1.7 0.9 4 4.2 35.2 1.1 5.7 1.6 5.2 0.8 1.2 1.6 0.7 1.6-0.5 0.8-0.7 10.4-17.8 1.6-1.4 1.6 0.3 4 5.2 2.4 2.2 0.8 1.5 0.7 4 1.3 26.4-0.8 12.8-1.1 11.2-0.9 1.4-1.6 0.4-1.4 2.2-1.8 1.4-1.6 0.7-2.4 0-1.6-0.5-1.6-1.1-6.4-0.4-8-1.9-1.6-0.1-1.6 0.5-1.4 1.4-0.7 2.4-0.2 4.8-0.5 2.4-1.2 1.7-2.4 1.4-7.2 1.2-10.4 0.5-10.4-0.4-7.2-1.2-2.4-1.4-0.8-1.5-0.3-1.9 0.6-5.6-0.3-3.2-1.3-3.2-4.9-7.2-1.8-3.7-1.8-6.7-0.2-4.8 1.3-3.2 1.5-1.8 1.6-1.2 2.9-1 7.5-1.1 4-1.7 1.2-1.2 0.7-1.6-0.1-1.6-0.6-1.6-3-4-7.8-8-5.6-4.9-4.8-3.1-7.2-3.1-7.2-1.9-3.2-0.3-5.6 0.8M506.1 643.1l-5.6-0.8-3.2 0.4-7.2 1.8-7.2 3.2-4.8 3.1-5.5 4.8-7.8 8-3 4-0.6 1.6-0.1 1.6 0.7 1.6 1.1 1.1 4 1.8 7.6 1.1 2.8 1 1.6 1.1 1.6 1.9 1.3 3.2 0.1 2.4-0.4 3.2-1.8 6.1-1.7 3.5-4.9 7.2-1.3 3.2-0.3 2.4 0.6 5.6-0.2 2.4-1 1.9-2.4 1.4-7.2 1.1-10.4 0.4-10.4-0.5-7.2-1.2-2.4-1.5-1.1-1.6-0.5-2.4-0.2-4.8-0.7-2.4-1.5-1.5-1.6-0.4-1.6 0.1-7.5 1.8-6.9 0.6-1.6 1-1.6 0.5-2.4-0.1-1.6-0.6-1.6-1.3-1.6-2.3-1.6-0.5-0.8-1.3-1.2-12-0.6-12 1.1-26.4 0.8-4 0.7-1.4 2.4-2.2 4-5.2 1.6-0.4 1.6 1.2 9.1 16 1.8 2.4 1.1 0.7 1.6 0 1.6-1.5 1.6-5.1 1.2-6.1 4.3-36 1.2-4 1.3-1.3 1.6 0 0.9 0.5 1.5 1.4 1.6 2.3 3.5 6.7 2.6 8 2 9.6 1.1 8.8-0.1 4.8-1.1 10.4 0.2 5.6 1.4 5.9 0.8 1.1 1.6 0.6 1.6-0.4 1.7-2.4 5.1-16 4.8-10.4 5-8 5.9-7.2 4.7-4.5 4.8-3.8 4-2.3 7.2-3.3 2.4-0.6 9.6 0.1" stroke="#352a87" stroke-width="2.4"/>
<path d="M70.1 617.8l6.4-0.1 5.6 0.4 7.2 2.7 4.8 3 6.9 6.2 6 7.2 4.7 7.9 1.6 3.4 0.9 3.1-0.1 1-0.8-0.6-7.5-9.2-3.7-3.8-4-3.1-4-2.4-4.8-2-5.6-1.5-7.2-0.9-6.4 0.7M282.7 618l5.8-0.3 5.6 0.4 7.2 2.7 5.6 3.6 7.6 7.2 5.2 6.7 4.8 8.5 1.6 4.2 0 1.6-2.4-2.3-7.4-9.1-3.4-3.2-3.6-2.6-4.8-2.6-5.6-2.1-10.4-1.6-8 0.9-3.2 0.7-4.8 1.8-4.8 2.4-3.2 2.2-3.7 3.3-8.3 10-2.4 2.2 0-1 0.8-2.8 3.2-6.5 3.8-5.9 5-6 4.8-4.6 4.8-3.6 4-2 6.2-2.2zM137.9 618.8l1-0.4 0.8 0.1 0.8 0.4 0.9 1.5 5.2 18.4 5 20 3.5 8.8 3.2 11.2-0.1 16.8-0.5 2.4-1.2 2.3-1.6 1.7-2.4 1.4-2.4 0.6-2.4-0.1-2.4-0.7-1.9-1.2-1.5-1.6-1.3-2.4-5.5-16-0.5-42.4 1.6-16.8 0.4-2.4 1.3-1.6zM223.9 618.8l1.4-0.4 0.8 0.2 0.8 0.6 0.8 1.2 1.7 13.6 0.4 8.8-0.5 38.4-0.5 2.4-2.2 6.4-3.2 8.8-1 1.6-1.5 1.6-2 1.2-2.4 0.8-2.4 0-2.4-0.6-2.3-1.4-1.5-1.6-1.3-2.4-0.5-2.4-0.1-16.8 3.5-12 3-7.3 5.4-21.5 5-17.6 1-1.6zM349.9 618.8l1-0.4 0.8 0.1 0.8 0.4 0.9 1.5 5.2 18.4 5 20 3.5 8.8 3.2 11.2-0.1 16.8-0.5 2.4-1.2 2.3-1.6 1.7-2.4 1.4-2.4 0.6-2.4-0.1-2.4-0.7-1.9-1.2-1.5-1.6-1.3-2.4-5.5-16-0.5-42.4 1.6-16.8 0.4-2.4 1.3-1.6zM435.9 618.8l1.4-0.4 0.8 0.2 0.8 0.6 0.8 1.2 1.7 13.6 0.4 8.8-0.5 38.4-0.5 2.4-2.2 6.4-3.2 8.8-1 1.6-1.5 1.6-2 1.2-2.4 0.8-2.4 0-2.4-0.6-2.3-1.4-1.5-1.6-1.3-2.4-0.5-2.4-0.1-16.8 3.5-12 3-7.3 5.4-21.5 5-17.6 1-1.6zM506.1 629.8l-5.6-0.7-8 0.9-5.6 1.5-4.8 2.1-4.7 2.8-3.8 3.2-3.8 4-5.3 6.8-1.6 1.7-0.9 0.3 0.8-3.2 0.9-2.3 2.4-4.6 3.2-5 5.6-6.9 6.5-6 5.5-3.5 7.2-2.7 3.2-0.5 8.8 0.1M167.7 652.4l0.8 0.4 0.8 1.2 0.9 3.2 0.4 4.8-0.2 4.8-0.8 4.8-1.1 4-1.6 3.1-1.6 1.2-0.8-0.1-0.8-0.6-1.2-2.8-0.7-4.8 0.1-5.6 0.7-4.8 1.3-4 2.2-3.9 1.6-0.9zM196.5 652.4l1.6 0.8 1.6 2.5 1.5 3.9 1.1 4.8 0.3 5.6-0.4 4.8-0.9 3.2-0.8 1.3-0.8 0.6-0.8 0-0.8-0.4-2-3.1-1.4-4.8-0.8-4.8-0.2-4.8 0.4-4.8 0.9-3.2 0.7-1.1 0.8-0.5zM379.7 652.4l0.8 0.4 0.8 1.2 0.9 3.2 0.4 4.8-0.2 4.8-0.8 4.8-1.1 4-1.6 3.1-1.6 1.2-0.8-0.1-0.8-0.6-1.2-2.8-0.7-4.8 0.1-5.6 0.7-4.8 1.3-4 2.2-3.9 1.6-0.9zM408.5 652.4l1.6 0.8 1.6 2.5 1.5 3.9 1.1 4.8 0.3 5.6-0.4 4.8-0.9 3.2-0.8 1.3-0.8 0.6-0.8 0-0.8-0.4-2-3.1-1.4-4.8-0.8-4.8-0.2-4.8 0.4-4.8 0.9-3.2 0.7-1.1 0.8-0.5zM176.7 654.8l0.6-0.5 0.8-0.1 0.8 0.3 0.7 1.1 1 25.6-0.6 10.4-0.5 4.8-0.8 3.2-3.2 8-1 1.6-1 0.8-2.6 0.6-1.6-0.3-1.6-1.2-0.9-1.5-0.2-2.4 3.5-15.7 3.5-24.3 2.1-7.3 0.3-2.3 0.7-0.8zM185.1 654.8l1-0.6 0.8 0 1.3 1.4 0.3 1.9 2 6.9 0.8 4 2.8 20.5 3.5 15.5 0.1 2.4-0.6 1.6-1.4 1.5-1.6 0.6-2.4-0.1-1.6-0.9-0.9-1.1-2.8-6.4-1.6-5.6-1.1-15.2 1-25.6 0.4-0.8zM388.7 654.8l0.6-0.5 0.8-0.1 0.8 0.3 0.7 1.1 1 25.6-0.6 10.4-0.5 4.8-0.8 3.2-3.2 8-1 1.6-1 0.8-2.6 0.6-1.6-0.3-1.6-1.2-0.9-1.5-0.2-2.4 3.5-15.7 3.5-24.3 2.1-7.3 0.3-2.3 0.7-0.8zM397.1 654.8l1-0.6 0.8 0 1.3 1.4 0.3 1.9 2 6.9 0.8 4 2.8 20.5 3.5 15.5 0.1 2.4-0.6 1.6-1.4 1.5-1.6 0.6-2.4-0.1-1.6-0.9-0.9-1.1-2.8-6.4-1.6-5.6-1.1-15.2 1-25.6 0.4-0.8zM108.7 685.2l3.8-0.6 2.4 0.3 4.8 2.1 5.6 3.7 1.6-0.5 2.4 1.2 2.6 3.4 1.4 3.7 3.9 5.9 1 2.4 0.1 1.6-5 1.1-6.4 0-7.2-1.7-2.4-1-2.4-1.5-1.6-1.6-1.7-2.5-2.3-4.8-1.8-4.8-1.1-4.8 0.2-0.8 2.1-0.8zM248.5 685.2l2.4-0.6 3.2 0.3 3.2 0.9 0.6 1-1.1 4.8-1.9 5.1-2.2 4.5-2.3 3.2-1.9 1.5-2.4 1.3-7.2 2.1-6.4 0.3-4-0.4-2.5-0.8 0.1-1.6 1-2.4 3.8-5.7 2-4.7 1.9-2.4 2.5-1.4 0.8 0 0.8 0.6 4.8-3.3 4.8-2.3zM320.7 685.2l3.8-0.6 2.4 0.3 4.8 2.1 5.6 3.7 1.6-0.5 2.4 1.2 2.6 3.4 1.4 3.7 3.9 5.9 1 2.4 0.1 1.6-5 1.1-6.4 0-7.2-1.7-2.4-1-2.4-1.5-1.6-1.6-1.7-2.5-2.3-4.8-1.8-4.8-1.1-4.8 0.2-0.8 2.1-0.8zM460.5 685.2l2.4-0.6 3.2 0.3 3.2 0.9 0.6 1-1.1 4.8-1.9 5.1-2.2 4.5-2.3 3.2-1.9 1.5-2.4 1.3-7.2 2.1-6.4 0.3-4-0.4-2.5-0.8 0.1-1.6 1-2.4 3.8-5.7 2-4.7 1.9-2.4 2.5-1.4 0.8 0 0.8 0.6 4.8-3.3 4.8-2.3z" stroke="#0f5cdd" stroke-width="2.4"/>
<path d="M70.1 620.2l12 0.1 4 0.8 3.2 1.2 3.6 2.1 3.8 3.2 3.7 4 1.7 2.4 0.2 0.8-1-0.1-8.8-4.5-8-2.7-8-1.6-6.4 1.1M138.1 620.4l0.8-0.3 0.7 0.3 0.9 2.9 9.2 34.7 6.3 20.8-0.1 17.6-0.5 1.6-1.3 1.8-1.6 1.2-2.4 0.8-2.4 0-1.6-0.6-1.6-1.1-1.1-1.3-3.9-10.4-2.1-7.2-1.1-41.6 1-14.4 0.8-4.8zM224.8 620.4l0.5-0.3 0.9 0.3 0.5 2.4 1.2 16-1 42.4-2.1 7.2-3.9 10.4-1.2 1.4-1.6 1-1.6 0.6-2.4 0-2.4-0.8-1.6-1.3-1.2-1.7-0.5-1.6-0.1-17.6 6.3-20.8 4.9-19.2 5.3-18.4zM281.4 620.4l12.7-0.1 6.6 1.7 3.1 1.6 4.1 3.2 3.9 4 2.3 3.2 0.2 0.8-1-0.1-8-4.2-6.4-2.4-10.4-2.2-11.2 2.2-6.4 2.4-8.8 4.5 0.1-1 2.3-3.2 3.9-4 3-2.4 4.3-2.5 5.7-1.5zM350.1 620.4l0.8-0.3 0.7 0.3 0.9 2.9 9.2 34.7 6.3 20.8-0.1 17.6-0.5 1.6-1.3 1.8-1.6 1.2-2.4 0.8-2.4 0-1.6-0.6-1.6-1.1-1.1-1.3-3.9-10.4-2.1-7.2-1.1-41.6 1-14.4 0.8-4.8zM436.8 620.4l0.5-0.3 0.9 0.3 0.5 2.4 1.2 16-1 42.4-2.1 7.2-3.9 10.4-1.2 1.4-1.6 1-1.6 0.6-2.4 0-2.4-0.8-1.6-1.3-1.2-1.7-0.5-1.6-0.1-17.6 6.3-20.8 4.9-19.2 5.3-18.4zM506.1 627l-5.6-1.1-8.8 1.6-8 2.7-8.8 4.6-0.9 0 0.2-0.8 2.3-3.2 3.1-3.2 4.9-4 3.1-1.6 6.5-1.7 12-0.1M177.4 654.8l0.7-0.2 1.1 1 0.2 2.4 0.6 23.2-0.8 11.2-0.9 5.6-2.4 6.4-2.2 4-1.2 0.8-1.6 0.3-1.6-0.6-1.2-1.3-0.4-1.6 0.1-1.6 3.1-15.6 3-22 2.8-11.2 0.7-0.8zM185.9 654.8l1 0 0.7 0.8 2.8 11.2 2.9 21.4 3.2 16.2 0.1 1.6-0.4 1.6-1.3 1.4-1.6 0.5-1.6-0.3-1.6-1.6-2.8-5.6-1.8-6.4-1.2-15.2 0.8-24.8 0.8-0.8zM389.4 654.8l0.7-0.2 1.1 1 0.2 2.4 0.6 23.2-0.8 11.2-0.9 5.6-2.4 6.4-2.2 4-1.2 0.8-1.6 0.3-1.6-0.6-1.2-1.3-0.4-1.6 0.1-1.6 3.1-15.6 3-22 2.8-11.2 0.7-0.8zM397.9 654.8l1 0 0.7 0.8 2.8 11.2 2.9 21.4 3.2 16.2 0.1 1.6-0.4 1.6-1.3 1.4-1.6 0.5-1.6-0.3-1.6-1.6-2.8-5.6-1.8-6.4-1.2-15.2 0.8-24.8 0.8-0.8zM166 656.4l0.9-0.6 0.8 0.2 0.8 1.2 0.7 3.2 0.2 4-0.4 4-0.9 4-1.2 2.7-0.8 0.9-0.8 0.3-0.8-0.4-1-1.9-0.5-3.2-0.1-3.2 0.9-6.4 0.8-2.4 1.4-2.4zM196.3 656.4l1-0.6 0.8 0.4 0.8 0.9 1.4 3.3 0.8 4 0.3 4-0.3 4-0.6 2.4-0.8 1.2-0.8 0.3-0.8-0.4-0.8-0.9-0.8-1.7-1.3-5.7-0.2-6.4 0.5-3.2 0.8-1.6zM378 656.4l0.9-0.6 0.8 0.2 0.8 1.2 0.7 3.2 0.2 4-0.4 4-0.9 4-1.2 2.7-0.8 0.9-0.8 0.3-0.8-0.4-1-1.9-0.5-3.2-0.1-3.2 0.9-6.4 0.8-2.4 1.4-2.4zM408.3 656.4l1-0.6 0.8 0.4 0.8 0.9 1.4 3.3 0.8 4 0.3 4-0.3 4-0.6 2.4-0.8 1.2-0.8 0.3-0.8-0.4-0.8-0.9-0.8-1.7-1.3-5.7-0.2-6.4 0.5-3.2 0.8-1.6zM109.3 687.6l3.2-0.6 3.2 0.8 4.3 2.2 5.3 3.8 1.6-1.9 1.6 0.3 1.6 1.4 1.6 2.8 0.7 2.4 0 2.4 2.9 4.8-0.2 0.8-5 0.4-4-0.3-5.6-1.4-3.8-1.9-2.2-2.4-2-3.6-2.4-6-0.9-3.2 0.1-0.8zM249 687.6l1.9-0.5 1.6 0 2.4 0.5 0.2 0.8-2.7 8-2.1 4-1.8 2.4-3.2 2.1-5.6 1.7-5.6 0.6-4.9-0.4-0.2-0.8 2.9-4.8 0-2.4 0.7-2.4 2.3-3.5 1.6-1 0.8-0.1 0.8 0.6 0.8 1.5 5.6-4 4.5-2.3zM321.3 687.6l3.2-0.6 3.2 0.8 4.3 2.2 5.3 3.8 1.6-1.9 1.6 0.3 1.6 1.4 1.6 2.8 0.7 2.4 0 2.4 2.9 4.8-0.2 0.8-5 0.4-4-0.3-5.6-1.4-3.8-1.9-2.2-2.4-2-3.6-2.4-6-0.9-3.2 0.1-0.8zM461 687.6l1.9-0.5 1.6 0 2.4 0.5 0.2 0.8-2.7 8-2.1 4-1.8 2.4-3.2 2.1-5.6 1.7-5.6 0.6-4.9-0.4-0.2-0.8 2.9-4.8 0-2.4 0.7-2.4 2.3-3.5 1.6-1 0.8-0.1 0.8 0.6 0.8 1.5 5.6-4 4.5-2.3z" stroke="#127dd8" stroke-width="2.4"/>
<path d="M139.7 629.2l0.8 1.7 2.7 8.7 4.9 19.2 5.9 20 0.2 16.8-0.5 1.6-1.2 1.6-2.4 1.2-1.6 0-1.6-0.5-1.1-0.7-1.2-1.6-5.3-16-0.3-20.8-0.9-20.8 0.8-9.4 0.8-1zM351.7 629.2l0.8 1.7 2.7 8.7 4.9 19.2 5.9 20 0.2 16.8-0.5 1.6-1.2 1.6-2.4 1.2-1.6 0-1.6-0.5-1.1-0.7-1.2-1.6-5.3-16-0.3-20.8-0.9-20.8 0.8-9.4 0.8-1zM224.2 630l0.3-0.7 0.8 0.5 0.9 9.8-0.9 20.8-0.3 20.8-5.3 16-0.8 1.2-1.6 1.2-1.6 0.4-1.6-0.1-2.4-1.2-1.1-1.5-0.5-1.6 0.2-16.8 5.9-20 4.9-19.2 3.1-9.6zM436.2 630l0.3-0.7 0.8 0.5 0.9 9.8-0.9 20.8-0.3 20.8-5.3 16-0.8 1.2-1.6 1.2-1.6 0.4-1.6-0.1-2.4-1.2-1.1-1.5-0.5-1.6 0.2-16.8 5.9-20 4.9-19.2 3.1-9.6zM177.1 655.6l1-0.5 0.7 0.5 0.3 4 0.5 21.6-0.8 10.4-0.9 5.6-1.7 4.8-2.9 5-0.8 0.8-1.6 0.5-1.4-0.7-0.5-0.8 0-4 2.6-15.2 2.7-20.8 2.8-11.2zM185.5 655.6l0.6-0.5 1.1 0.5 3.2 13.6 2.3 18.4 2.7 16-0.1 3.2-0.5 0.8-1.5 0.7-1.8-0.7-2.2-3.2-2.2-4.8-1.1-4.8-1.3-13.6 0.2-13.6 0.6-12zM389.1 655.6l1-0.5 0.7 0.5 0.3 4 0.5 21.6-0.8 10.4-0.9 5.6-1.7 4.8-2.9 5-0.8 0.8-1.6 0.5-1.4-0.7-0.5-0.8 0-4 2.6-15.2 2.7-20.8 2.8-11.2zM397.5 655.6l0.6-0.5 1.1 0.5 3.2 13.6 2.3 18.4 2.7 16-0.1 3.2-0.5 0.8-1.5 0.7-1.8-0.7-2.2-3.2-2.2-4.8-1.1-4.8-1.3-13.6 0.2-13.6 0.6-12zM165.8 659.6l1.1-0.6 0.8 0.9 0.5 2.1 0.1 3.2-1 5.6-1.2 2.1-0.8 0.1-0.8-1.1-0.3-1.1-0.2-4 0.5-4.1 1.3-3.1zM196.8 659.6l0.5-0.6 0.8 0.2 0.8 1 1.2 4.2 0.1 5.6-0.5 2.1-0.8 0.9-0.8-0.2-0.8-1.2-1.1-4-0.2-4.8 0.8-3.2zM377.8 659.6l1.1-0.6 0.8 0.9 0.5 2.1 0.1 3.2-1 5.6-1.2 2.1-0.8 0.1-0.8-1.1-0.3-1.1-0.2-4 0.5-4.1 1.3-3.1zM408.8 659.6l0.5-0.6 0.8 0.2 0.8 1 1.2 4.2 0.1 5.6-0.5 2.1-0.8 0.9-0.8-0.2-0.8-1.2-1.1-4-0.2-4.8 0.8-3.2zM112.1 690l0.4-0.4 0.8-0.1 4.8 2.2 5.5 3.9 4.1 3.9 0.2-0.7-0.5-0.8-0.6-2.4 0.1-1.5 0.8-0.8 1.6 0.7 1.6 2.4 0.5 1.6 0 1.6-0.5 1-0.8 0.1-0.8-0.5-0.8 0.2 3 4-0.6 0.4-1.6 0-4-0.5-4-1.1-3.2-1.6-1.6-1.8-1.5-2.6-2.9-7.2zM249.6 690l2.1-0.5 0.5 0.5-2.9 7.1-2.7 4.1-2.1 1.4-4 1.3-4.8 0.9-2.4 0-0.5-0.4 3.6-4.8-0.7-0.1-1.6 1.2-0.8-0.2-0.4-0.9 0.4-2.9 1.6-2.6 1.6-0.8 0.9 0.7 0.1 1.6-0.6 2.4-0.6 0.8 0.2 0.8 3.2-3.2 3.2-2.5 3.5-2.3 3.2-1.6zM324.1 690l0.4-0.4 0.8-0.1 4.8 2.2 5.5 3.9 4.1 3.9 0.2-0.7-0.5-0.8-0.6-2.4 0.1-1.5 0.8-0.8 1.6 0.7 1.6 2.4 0.5 1.6 0 1.6-0.5 1-0.8 0.1-0.8-0.5-0.8 0.2 3 4-0.6 0.4-1.6 0-4-0.5-4-1.1-3.2-1.6-1.6-1.8-1.5-2.6-2.9-7.2zM461.6 690l2.1-0.5 0.5 0.5-2.9 7.1-2.7 4.1-2.1 1.4-4 1.3-4.8 0.9-2.4 0-0.5-0.4 3.6-4.8-0.7-0.1-1.6 1.2-0.8-0.2-0.4-0.9 0.4-2.9 1.6-2.6 1.6-0.8 0.9 0.7 0.1 1.6-0.6 2.4-0.6 0.8 0.2 0.8 3.2-3.2 3.2-2.5 3.5-2.3 3.2-1.6zM128.5 699.4l-0.6 0.2 0.6 0.8 0-1zM340.5 699.4l-0.6 0.2 0.6 0.8 0-1z" stroke="#079ccf" stroke-width="2.4"/>
<path d="M141 644.4l0.3-0.7 0.8 1.7 3.8 13.4 6.4 20-0.1 16.8-0.8 1.6-2.1 0.9-1.6-0.3-1.3-1.4-5.4-15.2 0.1-21.6-0.4-12.8 0.3-2.4zM222.7 644.4l0.2-0.6 0.4 0.6 0.3 2.4-0.4 12.8 0.1 21.6-5.4 15.2-1.4 1.4-1.6 0.3-2-0.9-0.8-1.6-0.1-16.8 6.4-20 2.9-10.6 1.4-3.8zM353 644.4l0.3-0.7 0.8 1.7 3.8 13.4 6.4 20-0.1 16.8-0.8 1.6-2.1 0.9-1.6-0.3-1.3-1.4-5.4-15.2 0.1-21.6-0.4-12.8 0.3-2.4zM434.7 644.4l0.2-0.6 0.4 0.6 0.3 2.4-0.4 12.8 0.1 21.6-5.4 15.2-1.4 1.4-1.6 0.3-2-0.9-0.8-1.6-0.1-16.8 6.4-20 2.9-10.6 1.4-3.8zM177.9 655.6l0.3 0 0.4 3.2 0.5 9.6 0 13.6-0.7 8.8-0.9 5.6-1.3 4-2.1 3.8-1.6 1.7-0.8 0.4-0.8-0.1-0.8-1.1-0.1-3.9 2.1-13.6 2.4-20 2-8.5 0.8-2.7 0.6-0.8zM186.1 655.6l0.8 0.5 0.8 2.6 2.2 9.7 2.3 19.2 2.2 14.4-0.2 3.2-0.9 1-0.8 0.1-1.6-1.3-2.4-3.7-1.5-4.1-0.8-4.8-1.1-12 0.1-12.8 0.9-12zM389.9 655.6l0.3 0 0.4 3.2 0.5 9.6 0 13.6-0.7 8.8-0.9 5.6-1.3 4-2.1 3.8-1.6 1.7-0.8 0.4-0.8-0.1-0.8-1.1-0.1-3.9 2.1-13.6 2.4-20 2-8.5 0.8-2.7 0.6-0.8zM398.1 655.6l0.8 0.5 0.8 2.6 2.2 9.7 2.3 19.2 2.2 14.4-0.2 3.2-0.9 1-0.8 0.1-1.6-1.3-2.4-3.7-1.5-4.1-0.8-4.8-1.1-12 0.1-12.8 0.9-12zM198.1 662.8l0.8 1.6 0.2 2.4-0.2 2-0.8 0.3-0.8-2-0.2-1.9 0.2-1.7 0.8-0.7zM410.1 662.8l0.8 1.6 0.2 2.4-0.2 2-0.8 0.3-0.8-2-0.2-1.9 0.2-1.7 0.8-0.7zM165.8 663.6l0.3-0.7 0.8 0.3 0.2 1.2-0.2 3.2-0.8 1.6-0.8-0.7-0.1-0.9 0-2.4 0.6-1.6zM377.8 663.6l0.3-0.7 0.8 0.3 0.2 1.2-0.2 3.2-0.8 1.6-0.8-0.7-0.1-0.9 0-2.4 0.6-1.6zM128.1 695.6l0.4-0.4 0.8 0.4 0.9 1.6-0.1 1.5-0.8-0.1-0.8-0.9-0.4-2.1zM235.1 695.6l0.6-0.4 0.5 0.4 0 0.8-0.5 1.5-0.8 0.8-0.8-0.2-0.1-0.5 0.1-0.8 1-1.6zM340.1 695.6l0.4-0.4 0.8 0.4 0.9 1.6-0.1 1.5-0.8-0.1-0.8-0.9-0.4-2.1zM447.1 695.6l0.6-0.4 0.5 0.4 0 0.8-0.5 1.5-0.8 0.8-0.8-0.2-0.1-0.5 0.1-0.8 1-1.6z" stroke="#15b1b4" stroke-width="2.4"/>
<path d="M177.1 658.8l0.2-0.6 0.8 0.1 0.6 9.3 0 14.4-0.8 8.8-0.9 5.6-1.3 3.5-2.4 3.5-1.6 0.4-0.8-1.8 0.4-5.6 3.4-28 2.4-9.6zM186.1 658.8l0.8-0.8 2.7 10.4 3.8 31.2-0.1 3.1-0.8 1.1-1.6-0.5-2.4-3.6-1.2-3.3-0.8-4.8-1-10.4 0.1-13.6 0.5-8.8zM389.1 658.8l0.2-0.6 0.8 0.1 0.6 9.3 0 14.4-0.8 8.8-0.9 5.6-1.3 3.5-2.4 3.5-1.6 0.4-0.8-1.8 0.4-5.6 3.4-28 2.4-9.6zM398.1 658.8l0.8-0.8 2.7 10.4 3.8 31.2-0.1 3.1-0.8 1.1-1.6-0.5-2.4-3.6-1.2-3.3-0.8-4.8-1-10.4 0.1-13.6 0.5-8.8zM144.2 665.2l0.3-0.3 0.8 0.9 0.8 1.4 4.4 12.4-0.3 10.4-0.9 3.9-0.8 0-1.6-2.5-2.4-5.6-1.7-5.4 0.3-9.6 0.6-4.8 0.5-0.8zM219.5 665.2l0.2-0.2 0.8 0.7 0.3 1.9 0.7 12.8-2.6 7.7-1.6 3.5-1.6 2.4-0.8-0.3-0.7-2.9-0.4-11.2 3.5-10.3 2.2-4.1zM356.2 665.2l0.3-0.3 0.8 0.9 0.8 1.4 4.4 12.4-0.3 10.4-0.9 3.9-0.8 0-1.6-2.5-2.4-5.6-1.7-5.4 0.3-9.6 0.6-4.8 0.5-0.8zM431.5 665.2l0.2-0.2 0.8 0.7 0.3 1.9 0.7 12.8-2.6 7.7-1.6 3.5-1.6 2.4-0.8-0.3-0.7-2.9-0.4-11.2 3.5-10.3 2.2-4.1z" stroke="#59bd8c" stroke-width="2.4"/>
<path d="M177.3 660.4l0.8 2.3 0.3 4.9 0 13.6-0.5 5.6-1.8 10.4-2 3.6-0.8 0.6-0.8 0-0.7-1.8 0-3.2 3.1-27 1.6-7.1 0.8-1.9zM186.9 660.4l0.8 1.5 1.7 7.3 3.1 27.2 0 3.2-0.8 1.8-0.8 0-0.8-0.7-1.9-3.5-1.8-10.4-0.5-5.6 0-12.8 0.2-4.8 0.8-3.2zM389.3 660.4l0.8 2.3 0.3 4.9 0 13.6-0.5 5.6-1.8 10.4-2 3.6-0.8 0.6-0.8 0-0.7-1.8 0-3.2 3.1-27 1.6-7.1 0.8-1.9zM398.9 660.4l0.8 1.5 1.7 7.3 3.1 27.2 0 3.2-0.8 1.8-0.8 0-0.8-0.7-1.9-3.5-1.8-10.4-0.5-5.6 0-12.8 0.2-4.8 0.8-3.2zM145.7 678l0.4-0.7 0.8 0.3 1.2 2-0.4 2.6-0.8 0.8-0.8-0.8-0.9-1.8 0.5-2.4zM217.2 678l0.9-0.8 1 2.4-0.2 1.2-0.8 1.5-0.8 0.7-0.8-1.1-0.3-1.5 0-0.8 1-1.6zM357.7 678l0.4-0.7 0.8 0.3 1.2 2-0.4 2.6-0.8 0.8-0.8-0.8-0.9-1.8 0.5-2.4zM429.2 678l0.9-0.8 1 2.4-0.2 1.2-0.8 1.5-0.8 0.7-0.8-1.1-0.3-1.5 0-0.8 1-1.6z" stroke="#a5be6b" stroke-width="2.4"/>
<path d="M177 663.6l0.3-0.5 0.1 0.5 0.6 4-0.1 14.4-1.2 9.6-1 4.7-0.8 1.7-0.8 0.8-0.8 0.1-0.7-2.5 1.4-14.4 1.6-14.4 0.9-3.4 0.5-0.6zM186.8 663.6l0.1-0.4 0.8 0.7 1.4 6.1 2.6 25.6 0 1.6-0.8 1.7-0.8-0.2-0.8-0.9-0.6-1.4-1.8-9.6-0.5-4.8-0.1-5.6 0-8.8 0.5-4zM389 663.6l0.3-0.5 0.1 0.5 0.6 4-0.1 14.4-1.2 9.6-1 4.7-0.8 1.7-0.8 0.8-0.8 0.1-0.7-2.5 1.4-14.4 1.6-14.4 0.9-3.4 0.5-0.6zM398.8 663.6l0.1-0.4 0.8 0.7 1.4 6.1 2.6 25.6 0 1.6-0.8 1.7-0.8-0.2-0.8-0.9-0.6-1.4-1.8-9.6-0.5-4.8-0.1-5.6 0-8.8 0.5-4z" stroke="#e1b952" stroke-width="2.4"/>
<path d="M176.4 666.8l0.1-0.4 0.8 0.1 0.2 1.1 0 14.4-1.8 10.7-0.8 2.3-0.8 0.7-0.3-2.5 0.6-11.2 1.3-12.4 0.7-2.8zM186.9 666.8l0.8-0.6 0.8 2.6 1.7 18.8 0.2 6.4-0.3 1.7-0.8-0.9-0.8-2.5-1.7-10.3 0.1-15.2zM388.4 666.8l0.1-0.4 0.8 0.1 0.2 1.1 0 14.4-1.8 10.7-0.8 2.3-0.8 0.7-0.3-2.5 0.6-11.2 1.3-12.4 0.7-2.8zM398.9 666.8l0.8-0.6 0.8 2.6 1.7 18.8 0.2 6.4-0.3 1.7-0.8-0.9-0.8-2.5-1.7-10.3 0.1-15.2z" stroke="#fcce2e" stroke-width="2.4"/>
<path d="M176.3 674.8l0.2-0.7 0.2 1.5 0.1 6.4-1.1 4.7-0.6-4.7 0.6-4.9 0.6-2.3zM187.6 674.8l0.1-0.5 0.8 1.9 0.2 3.4 0.6 2.4-0.5 4-0.3 0.5-1-4.5 0.1-7.2zM388.3 674.8l0.2-0.7 0.2 1.5 0.1 6.4-1.1 4.7-0.6-4.7 0.6-4.9 0.6-2.3zM399.6 674.8l0.1-0.5 0.8 1.9 0.2 3.4 0.6 2.4-0.5 4-0.3 0.5-1-4.5 0.1-7.2z" stroke="#f9fb0e" stroke-width="2.4"/>
</g>
<g clip-path="url(#cp_cS2)" fill="none" stroke-linejoin="round">
<path d="M698.3 641.1l0.9-6 0.1-4.1-0.3-4-0.6-4-1.1-4-2.2-5.7-1.8-3.6-3.5-5-4.1-4.5-3.1-2.7-3.3-2.4-3.5-2-3.6-1.7-5.8-2-6-1.1-4.1-0.3-6.1 0.3-4 0.6-5.9 1.7-3.7 1.6-3.6 1.9-5 3.4-3.1 2.7-4.1 4.5-3.5 5-1.8 3.6-2.2 5.7-1.1 4-0.6 4-0.3 4 0.1 4.1 0.9 6M910.3 641.1l0.9-6 0.1-4.1-0.3-4-0.6-4-1.1-4-2.2-5.7-1.8-3.6-3.5-5-4.1-4.5-3.1-2.7-3.3-2.4-3.5-2-3.6-1.7-5.8-2-6-1.1-4.1-0.3-6.1 0.3-4 0.6-5.9 1.7-3.7 1.6-3.6 1.9-5 3.4-3.1 2.7-4.1 4.5-3.5 5-1.8 3.6-2.2 5.7-1.1 4-0.6 4-0.3 4 0.1 4.1 0.9 6M694.2 638.8l0.5-4 0.1-4.1-0.4-4.1-0.8-4-1.1-3.9-1.6-3.8-2-3.6-2.4-3.4-4.1-4.5-3.2-2.7-3.4-2.3-3.6-1.9-3.8-1.6-3.9-1.1-4.1-0.8-4.1-0.3-4.1 0.1-4.1 0.6-4 0.9-3.8 1.4-3.8 1.7-3.5 2.1-4.8 3.9-2.8 2.9-2.5 3.3-3.2 5.3-1.6 3.8-1.1 3.9-0.8 4-0.4 4.1 0.1 4.1 0.5 4M906.2 638.8l0.5-4 0.1-4.1-0.4-4.1-0.8-4-1.1-3.9-1.6-3.8-2-3.6-2.4-3.4-4.1-4.5-3.2-2.7-3.4-2.3-3.6-1.9-3.8-1.6-3.9-1.1-4.1-0.8-4.1-0.3-4.1 0.1-4.1 0.6-4 0.9-3.8 1.4-3.8 1.7-3.5 2.1-4.8 3.9-2.8 2.9-2.5 3.3-3.2 5.3-1.6 3.8-1.1 3.9-0.8 4-0.4 4.1 0.1 4.1 0.5 4M689.7 635l-0.1-6.2-0.6-4-1.1-4-2.6-5.6-2.3-3.4-2.6-3.1-3-2.8-3.4-2.5-5.5-2.8-4-1.4-4-0.8-6.2-0.4-6.2 0.8-4 1.1-3.9 1.5-5.3 3.2-3.2 2.6-2.9 3-3.5 5-2.6 5.6-1.1 4-0.6 4-0.1 6.2M901.7 635l-0.1-6.2-0.6-4-1.1-4-2.6-5.6-2.3-3.4-2.6-3.1-3-2.8-3.4-2.5-5.5-2.8-4-1.4-4-0.8-6.2-0.4-6.2 0.8-4 1.1-3.9 1.5-5.3 3.2-3.2 2.6-2.9 3-3.5 5-2.6 5.6-1.1 4-0.6 4-0.1 6.2" stroke="#808080" stroke-width="2.5" stroke-dasharray="12 4"/><path d="M670.6 632.9l0-4.9-0.9-4.7-1.5-4.4-2.1-3.8-2.7-3-3.1-2.1-1.6-0.7-3.4-0.5-3.4 0.5-1.6 0.7-3.1 2.1-2.7 3-2.1 3.8-1.5 4.4-0.9 4.7 0 4.9M882.6 632.9l0-4.9-0.9-4.7-1.5-4.4-2.1-3.8-2.7-3-3.1-2.1-1.6-0.7-3.4-0.5-3.4 0.5-1.6 0.7-3.1 2.1-2.7 3-2.1 3.8-1.5 4.4-0.9 4.7 0 4.9" stroke="#808080" stroke-width="2.4" stroke-dasharray="13 9"/><path d="M638.4 626.5l0 12.5M672.2 626.5l0 12.5M850.4 626.5l0 12.5M884.2 626.5l0 12.5M644.5 653l0-8.8 0.5-2.3 1-1.9 1.2-1.4 1.1-0.6 1.1 0.6 1.2 1.5 1 1.9 0.5 2 0 7M666.1 653l0-8.8-0.5-2.3-1-1.9-1.2-1.4-1.1-0.6-1.1 0.6-1.2 1.5-1 1.9-0.5 2 0 7M856.5 653l0-8.8 0.5-2.3 1-1.9 1.2-1.4 1.1-0.6 1.1 0.6 1.2 1.5 1 1.9 0.5 2 0 7M878.1 653l0-8.8-0.5-2.3-1-1.9-1.2-1.4-1.1-0.6-1.1 0.6-1.2 1.5-1 1.9-0.5 2 0 7M622.9 643.5l-0.1 4.1 0.8 1.8 2 1.8 2.4 1.3 2.2 0 2.4-1.3 2-1.8 0.8-1.8-0.1-4.1M687.7 643.5l0.1 4.1-0.8 1.8-2 1.8-2.4 1.3-2.2 0-2.4-1.3-2-1.8-0.8-1.8 0.1-4.1M834.9 643.5l-0.1 4.1 0.8 1.8 2 1.8 2.4 1.3 2.2 0 2.4-1.3 2-1.8 0.8-1.8-0.1-4.1M899.7 643.5l0.1 4.1-0.8 1.8-2 1.8-2.4 1.3-2.2 0-2.4-1.3-2-1.8-0.8-1.8 0.1-4.1M650.3 662l0.4 10M660.3 662l-0.4 10M862.3 662l0.4 10M872.3 662l-0.4 10M643.3 664l1 12M667.3 664l-1 12M855.3 664l1 12M879.3 664l-1 12M549.3 629.5l-6 1-5 3M761.3 629.5l-6 1-5 3M549.3 629.5l6 1 5 3M973.3 629.5l-6 1-5 3M761.3 629.5l6 1 5 3M973.3 629.5l6 1 5 3M549.3 633.2l-4.8 0.7-2.4 0.8-4.8 2.8M761.3 633.2l-4.8 0.7-2.4 0.8-4.8 2.8M549.3 633.2l4.8 0.7 2.4 0.8 4.8 2.8M973.3 633.2l-4.8 0.7-2.4 0.8-4.8 2.8M761.3 633.2l4.8 0.7 2.4 0.8 4.8 2.8M973.3 633.2l4.8 0.7 2.4 0.8 4.8 2.8M549.3 637.4l-4.9 0.8-2.2 0.9-3.9 2.9M761.3 637.4l-4.9 0.8-2.2 0.9-3.9 2.9M549.3 637.4l4.9 0.8 2.2 0.9 3.9 2.9M973.3 637.4l-4.9 0.8-2.2 0.9-3.9 2.9M761.3 637.4l4.9 0.8 2.2 0.9 3.9 2.9M973.3 637.4l4.9 0.8 2.2 0.9 3.9 2.9M747.3 628.5l-4.4 2.9-1.3 1.2-2.1 3.4-0.8 2-1.1 4-0.5 4 0.3 4.6 2.4 11.4M563.3 628.5l4.4 2.9 1.3 1.2 2.1 3.4 0.8 2 1.1 4 0.5 4-0.3 4.6-2.4 11.4M959.3 628.5l-4.4 2.9-1.3 1.2-2.1 3.4-0.8 2-1.1 4-0.5 4 0.3 4.6 2.4 11.4M775.3 628.5l4.4 2.9 1.3 1.2 2.1 3.4 0.8 2 1.1 4 0.5 4-0.3 4.6-2.4 11.4M743.8 634l-1.8 6.8-1.1 8.1 0 4.7 1.4 10.4M566.8 634l1.8 6.8 1.1 8.1 0 4.7-1.4 10.4M955.8 634l-1.8 6.8-1.1 8.1 0 4.7 1.4 10.4M778.8 634l1.8 6.8 1.1 8.1 0 4.7-1.4 10.4M549.3 678.3l-2.5 5.7-3.9 12M761.3 678.3l-2.5 5.7-3.9 12M549.3 678.3l2.5 5.7 3.9 12M973.3 678.3l-2.5 5.7-3.9 12M761.3 678.3l2.5 5.7 3.9 12M973.3 678.3l2.5 5.7 3.9 12M751.9 673l0.6 15M558.7 673l-0.6 15M963.9 673l0.6 15M770.7 673l-0.6 15M733.3 676l5 0.3 2 0.7 1.3 1.6 0.9 2.2 0.3 2.2-0.3 2.1-1.7 4.4M577.3 676l-5 0.3-2 0.7-1.3 1.6-0.9 2.2-0.3 2.2 0.3 2.1 1.7 4.4M945.3 676l5 0.3 2 0.7 1.3 1.6 0.9 2.2 0.3 2.2-0.3 2.1-1.7 4.4M789.3 676l-5 0.3-2 0.7-1.3 1.6-0.9 2.2-0.3 2.2 0.3 2.1 1.7 4.4M734.3 684.5l2.3 0.5 1.7 1 0.3 2.7-0.3 3.3M576.3 684.5l-2.3 0.5-1.7 1-0.3 2.7 0.3 3.3M946.3 684.5l2.3 0.5 1.7 1 0.3 2.7-0.3 3.3M788.3 684.5l-2.3 0.5-1.7 1-0.3 2.7 0.3 3.3M549.3 700.6l-3 1.9-9 7M761.3 700.6l-3 1.9-9 7M549.3 700.6l3 1.9 9 7M973.3 700.6l-3 1.9-9 7M761.3 700.6l3 1.9 9 7M973.3 700.6l3 1.9 9 7M549.3 707.7l-4 2.3-6 3M761.3 707.7l-4 2.3-6 3M549.3 707.7l4 2.3 6 3M973.3 707.7l-4 2.3-6 3M761.3 707.7l4 2.3 6 3M973.3 707.7l4 2.3 6 3M749.3 659l-3.3 3.9-1.4 2.2-2.3 4.9M561.3 659l3.3 3.9 1.4 2.2 2.3 4.9M961.3 659l-3.3 3.9-1.4 2.2-2.3 4.9M773.3 659l3.3 3.9 1.4 2.2 2.3 4.9" stroke="#808080" stroke-width="2.4"/><path d="M552.6 653.2l-0.5-2.6-1.4-1.8-1.9-0.4-1.7 1.2-1 2.3 0 2.6 1 2.3 1.7 1.2 1.9-0.4 1.4-1.8 0.5-2.6M764.6 653.2l-0.5-2.6-1.4-1.8-1.9-0.4-1.7 1.2-1 2.3 0 2.6 1 2.3 1.7 1.2 1.9-0.4 1.4-1.8 0.5-2.6M976.6 653.2l-0.5-2.6-1.4-1.8-1.9-0.4-1.7 1.2-1 2.3 0 2.6 1 2.3 1.7 1.2 1.9-0.4 1.4-1.8 0.5-2.6" stroke="#808080" stroke-width="1.9"/><path d="M575.4 678l0.3 2.2 1.3 4.2 2.1 3.9 2.8 3.4 3.5 2.9 3.9 2.1 4.4 1.5 2.3 0.4M735.2 678l-0.3 2.2-1.3 4.2-2.1 3.9-2.8 3.4-3.5 2.9-3.9 2.1-4.4 1.5-2.3 0.4M787.4 678l0.3 2.2 1.3 4.2 2.1 3.9 2.8 3.4 3.5 2.9 3.9 2.1 4.4 1.5 2.3 0.4M947.2 678l-0.3 2.2-1.3 4.2-2.1 3.9-2.8 3.4-3.5 2.9-3.9 2.1-4.4 1.5-2.3 0.4M568.3 675l0.2 4.2 0.3 2.1 1.1 4.1 1.8 4 1.1 1.8 2.6 3.5 3 3.1 1.8 1.4 3.7 2.3 4 1.9 2.1 0.7 2.2 0.6 4.4 0.6M742.3 675l-0.2 4.2-0.3 2.1-1.1 4.1-1.8 4-1.1 1.8-2.6 3.5-3 3.1-1.8 1.4-3.7 2.3-4 1.9-2.1 0.7-2.2 0.6-4.4 0.6M780.3 675l0.2 4.2 0.3 2.1 1.1 4.1 1.8 4 1.1 1.8 2.6 3.5 3 3.1 1.8 1.4 3.7 2.3 4 1.9 2.1 0.7 2.2 0.6 4.4 0.6M954.3 675l-0.2 4.2-0.3 2.1-1.1 4.1-1.8 4-1.1 1.8-2.6 3.5-3 3.1-1.8 1.4-3.7 2.3-4 1.9-2.1 0.7-2.2 0.6-4.4 0.6M561.7 671l-0.4 6.3 0.4 4.1 1 4.1 2.3 5.9 3.3 5.5 2.8 3.3 3.1 2.9 5.3 3.7 3.9 2 4.2 1.5 6.4 1.4M748.9 671l0.4 6.3-0.4 4.1-1 4.1-2.3 5.9-3.3 5.5-2.8 3.3-3.1 2.9-5.3 3.7-3.9 2-4.2 1.5-6.4 1.4M773.7 671l-0.4 6.3 0.4 4.1 1 4.1 2.3 5.9 3.3 5.5 2.8 3.3 3.1 2.9 5.3 3.7 3.9 2 4.2 1.5 6.4 1.4M960.9 671l0.4 6.3-0.4 4.1-1 4.1-2.3 5.9-3.3 5.5-2.8 3.3-3.1 2.9-5.3 3.7-3.9 2-4.2 1.5-6.4 1.4M555 668.6l-0.6 4-0.1 4.1 0.3 4.1 0.7 4.1 1.1 4 1.5 3.8 1.9 3.7 2.2 3.5 2.6 3.3 2.9 3 3.2 2.8 3.4 2.4 3.7 2.2 3.9 1.8 4.1 1.4 4.1 1M755.6 668.6l0.6 4 0.1 4.1-0.3 4.1-0.7 4.1-1.1 4-1.5 3.8-1.9 3.7-2.2 3.5-2.6 3.3-2.9 3-3.2 2.8-3.4 2.4-3.7 2.2-3.9 1.8-4.1 1.4-4.1 1M767 668.6l-0.6 4-0.1 4.1 0.3 4.1 0.7 4.1 1.1 4 1.5 3.8 1.9 3.7 2.2 3.5 2.6 3.3 2.9 3 3.2 2.8 3.4 2.4 3.7 2.2 3.9 1.8 4.1 1.4 4.1 1M967.6 668.6l0.6 4 0.1 4.1-0.3 4.1-0.7 4.1-1.1 4-1.5 3.8-1.9 3.7-2.2 3.5-2.6 3.3-2.9 3-3.2 2.8-3.4 2.4-3.7 2.2-3.9 1.8-4.1 1.4-4.1 1M550.8 669.1l0.4 4.1 0.1 4.1-0.3 4-0.6 4-1 4-1.3 3.9-1.7 3.7-2 3.7-2.3 3.4-2.5 3.3-2.9 3-3.1 2.8-3.3 2.6-3.6 2.3-5.6 2.9-4 1.5M547.8 669.1l-0.4 4.1-0.1 4.1 0.3 4 0.6 4 1 4 1.3 3.9 1.7 3.7 2 3.7 2.3 3.4 2.5 3.3 2.9 3 3.1 2.8 3.3 2.6 3.6 2.3 5.6 2.9 4 1.5M762.8 669.1l0.4 4.1 0.1 4.1-0.3 4-0.6 4-1 4-1.3 3.9-1.7 3.7-2 3.7-2.3 3.4-2.5 3.3-2.9 3-3.1 2.8-3.3 2.6-3.6 2.3-5.6 2.9-4 1.5M759.8 669.1l-0.4 4.1-0.1 4.1 0.3 4 0.6 4 1 4 1.3 3.9 1.7 3.7 2 3.7 2.3 3.4 2.5 3.3 2.9 3 3.1 2.8 3.3 2.6 3.6 2.3 5.6 2.9 4 1.5M974.8 669.1l0.4 4.1 0.1 4.1-0.3 4-0.6 4-1 4-1.3 3.9-1.7 3.7-2 3.7-2.3 3.4-2.5 3.3-2.9 3-3.1 2.8-3.3 2.6-3.6 2.3-5.6 2.9-4 1.5M971.8 669.1l-0.4 4.1-0.1 4.1 0.3 4 0.6 4 1 4 1.3 3.9 1.7 3.7 2 3.7 2.3 3.4 2.5 3.3 2.9 3 3.1 2.8 3.3 2.6 3.6 2.3 5.6 2.9 4 1.5" stroke="#808080" stroke-width="2.4" stroke-dasharray="12 4"/><path d="M585.3 709.5l12 1.8 7.3 0.7 6.2 0 13.5-0.9 6.7-0.1 8.9 0.4 15.4 1.1M725.3 709.5l-12 1.8-7.3 0.7-6.2 0-13.5-0.9-6.7-0.1-8.9 0.4-15.4 1.1M797.3 709.5l12 1.8 7.3 0.7 6.2 0 13.5-0.9 6.7-0.1 8.9 0.4 15.4 1.1M937.3 709.5l-12 1.8-7.3 0.7-6.2 0-13.5-0.9-6.7-0.1-8.9 0.4-15.4 1.1M591.3 711.6l8.7 2 4.7 0.5 6.3-0.1 12.6-0.7 7.5-0.2 7.3 0.3 16.9 1.2M719.3 711.6l-8.7 2-4.7 0.5-6.3-0.1-12.6-0.7-7.5-0.2-7.3 0.3-16.9 1.2M803.3 711.6l8.7 2 4.7 0.5 6.3-0.1 12.6-0.7 7.5-0.2 7.3 0.3 16.9 1.2M931.3 711.6l-8.7 2-4.7 0.5-6.3-0.1-12.6-0.7-7.5-0.2-7.3 0.3-16.9 1.2M597.3 713.7l3.9 1.9 3.5 0.6 4 0 16.9-0.9 5.6-0.1 8 0.4 16.1 1.1M713.3 713.7l-3.9 1.9-3.5 0.6-4 0-16.9-0.9-5.6-0.1-8 0.4-16.1 1.1M809.3 713.7l3.9 1.9 3.5 0.6 4 0 16.9-0.9 5.6-0.1 8 0.4 16.1 1.1M925.3 713.7l-3.9 1.9-3.5 0.6-4 0-16.9-0.9-5.6-0.1-8 0.4-16.1 1.1M603.3 715.8l0.1 0.3-0.6 1.5 0.9 0.5 1.1 0.2 4 0 16.1-0.9 6.4-0.1 9 0.4 15 1.1M707.3 715.8l-0.1 0.3 0.6 1.5-0.9 0.5-1.1 0.2-4 0-16.1-0.9-6.4-0.1-9 0.4-15 1.1M815.3 715.8l0.1 0.3-0.6 1.5 0.9 0.5 1.1 0.2 4 0 16.1-0.9 6.4-0.1 9 0.4 15 1.1M919.3 715.8l-0.1 0.3 0.6 1.5-0.9 0.5-1.1 0.2-4 0-16.1-0.9-6.4-0.1-9 0.4-15 1.1M655.3 710l-5 5M655.3 710l5 5M867.3 710l-5 5M867.3 710l5 5" stroke="#808080" stroke-width="2.4"/><path d="M611.9 616.4l1.2-0.6 0.8 0.3 0.8 1.1-0.5 7.2 4.1 7.2 3.1 8 2.6 8.8 2.2 10.4 1.7 12 0.5 11.2-0.4 9.6-1.5 8-1.5 4-2.3 3.3-2.4 1.2-1.6 0-1.6-0.6-3.2-2.5-2.9-3.8-2.3-4-2-4.6-0.5-0.2-0.3-1.9-0.2 1.1 0.9 4.8 0.3 4.8-0.5 4-1.5 2.4 0.8 0.8-0.6 0.5-2.4 0.5-5.6 0.4-5.6 0.1-4.8-0.7-2.4-1.1-2.2-2.1-1-1.6 0.8-0.7 5.6-0.5 8 0.7 2.1-0.3-4.5-5.2-5.1-7.6-4.9-8.8-4.8-10.4-3.9-10.4-2.5-8.8-1.1-7.2-0.1-3.2 0.3-2.4 0.5-1.3 1-1.1 1.4-0.5 1.6 0.4 4 2.8 4 4.5 5.1 7.2 5 8.8 4.7 9.6 3.6 9.1 0.3-1.1-2.4-12.8-1.4-13.6-0.2-10.4 0.8-8.8 1.5-6.4 1-2.4 1.4-2.4 1.4-1.4 1.6-0.7 1.6-0.1 2.4 0.9 0.8-0.6 1.2-2.9zM696.3 616.4l0.8-0.5 0.8 0 0.8 0.5 1.6 3.8 1.6-0.9 1.6-0.4 1.6 0.3 1.6 1 2.4 3.4 2 6.4 1.2 9.6-0.1 11.2-1.1 12-2.4 13.6 0.2 1.6 4.5-10.4 4-8 5.1-8.8 4.6-6.4 4.4-4.8 2.4-1.9 1.6-0.7 1.6-0.2 0.8 0.2 0.8 0.7 0.8 1.7 0.4 5-1.1 7.2-2.1 8-4.1 11.2-4.7 10.4-4.8 8.8-5.2 7.8-4.9 5.8 1.7 0.3 8-0.7 4 0.2 2.4 0.5 0.4 0.5-1.2 1.8-1.6 1.5-2.4 1.4-3.2 0.6-5.6 0.2-7.2-0.4-3.2-0.8-0.3-0.3 0.3-0.5 0.9-0.3-0.1-0.4-0.8-0.6-0.8-1.2-0.6-3.4 0.1-4 0.9-5.6-0.4-0.9-2.8 6.5-2.8 4.6-3.2 3.5-2.4 1.6-2.4 0.4-2.4-0.9-2.3-2.8-1.7-4.1-1.5-7.1-0.6-8.8 0.3-10.4 1.2-11.2 1.9-10.4 3.1-11.2 3.3-8.8 4.3-8 0.2-0.8-0.6-6.4 0.4-0.8zM823.9 616.4l1.2-0.6 0.8 0.3 0.8 1.1-0.5 7.2 4.1 7.2 3.1 8 2.6 8.8 2.2 10.4 1.7 12 0.5 11.2-0.4 9.6-1.5 8-1.5 4-2.3 3.3-2.4 1.2-1.6 0-1.6-0.6-3.2-2.5-2.9-3.8-2.3-4-2-4.6-0.5-0.2-0.3-1.9-0.2 1.1 0.9 4.8 0.3 4.8-0.5 4-1.5 2.4 0.8 0.8-0.6 0.5-2.4 0.5-5.6 0.4-5.6 0.1-4.8-0.7-2.4-1.1-2.2-2.1-1-1.6 0.8-0.7 5.6-0.5 8 0.7 2.1-0.3-4.5-5.2-5.1-7.6-4.9-8.8-4.8-10.4-3.9-10.4-2.5-8.8-1.1-7.2-0.1-3.2 0.3-2.4 0.5-1.3 1-1.1 1.4-0.5 1.6 0.4 4 2.8 4 4.5 5.1 7.2 5 8.8 4.7 9.6 3.6 9.1 0.3-1.1-2.4-12.8-1.4-13.6-0.2-10.4 0.8-8.8 1.5-6.4 1-2.4 1.4-2.4 1.4-1.4 1.6-0.7 1.6-0.1 2.4 0.9 0.8-0.6 1.2-2.9zM908.3 616.4l0.8-0.5 0.8 0 0.8 0.5 1.6 3.8 1.6-0.9 1.6-0.4 1.6 0.3 1.6 1 2.4 3.4 2 6.4 1.2 9.6-0.1 11.2-1.1 12-2.4 13.6 0.2 1.6 4.5-10.4 4-8 5.1-8.8 4.6-6.4 4.4-4.8 2.4-1.9 1.6-0.7 1.6-0.2 0.8 0.2 0.8 0.7 0.8 1.7 0.4 5-1.1 7.2-2.1 8-4.1 11.2-4.7 10.4-4.8 8.8-5.2 7.8-4.9 5.8 1.7 0.3 8-0.7 4 0.2 2.4 0.5 0.4 0.5-1.2 1.8-1.6 1.5-2.4 1.4-3.2 0.6-5.6 0.2-7.2-0.4-3.2-0.8-0.3-0.3 0.3-0.5 0.9-0.3-0.1-0.4-0.8-0.6-0.8-1.2-0.6-3.4 0.1-4 0.9-5.6-0.4-0.9-2.8 6.5-2.8 4.6-3.2 3.5-2.4 1.6-2.4 0.4-2.4-0.9-2.3-2.8-1.7-4.1-1.5-7.1-0.6-8.8 0.3-10.4 1.2-11.2 1.9-10.4 3.1-11.2 3.3-8.8 4.3-8 0.2-0.8-0.6-6.4 0.4-0.8zM756.6 622l5.3-0.5 4.8 0.7 3.4 1.4 0.9 0.8 0.5 1.6-0.8 1.5-1.3 0.9-3.5 1.2-5.6 0.5-4.8-0.8-3.5-1.7-0.7-0.8-0.1-1.6 1.3-1.6 4.1-1.6zM543.5 622.3l4.8-0.7 5.7 0.4 4.1 1.6 0.9 0.8 0.5 1.6-0.8 1.5-1.3 0.9-3.5 1.2-5.6 0.5-4.8-0.8M980.3 628.9l-4.8 1.1-5.6-0.2-4.7-1.4-1.2-0.8-0.9-1.6 0.4-1.4 1-1 1.5-0.8 3.1-0.9 5.6-0.3 3.2 0.4 2.4 0.7M637 642l0.9-0.1 1.6 0.9 1.6 2.3 1.1 2.5 1.8 7.2 1.1 10.5 0.3-2.5 0.5-0.5 1.1-4.3 0.7-0.8 0.6-0.5 1.6-0.1 1.1 0.6 0.8 1.6 1.3 24.8-1.1 14.4-1.5 6.4-2 5.6-1.8 2-2.4 0.9-2.4 0-1.6-0.7-1.6-1.4-1-1.6-0.3-3.2 2.1-9.3 0-1.5-1.6 0.9-1.6-0.4-1.6-1.7-0.8-1.5-2.1-6.5-1.2-8-0.4-12 1-11.2 1.3-5.6 1.2-3.2 1.8-3 1.5-1zM672.5 642l1.4 0.1 0.8 0.5 1.4 1.8 1.5 3.2 1.3 4.8 1 6.4 0.5 6.4-0.3 12-1.1 8-2.2 7.2-1.3 2.1-1.6 1.4-0.8 0.2-1.6-0.5-0.1 2.4 1.9 8.8-0.4 2.4-0.9 1.6-1.3 1.2-1.6 0.8-2.4 0.2-2.4-0.8-2.2-2.2-2.2-6.4-1.4-6.4-1-13.6 1.3-24.8 0.2-0.8 1.3-1.3 1.6-0.1 0.8 0.4 1.1 1.8 1.3 5 0.4-0.2 1.3-9.6 1.4-5.6 1.7-4 1.6-1.9 1-0.5zM849 642l0.9-0.1 1.6 0.9 1.6 2.3 1.1 2.5 1.8 7.2 1.1 10.5 0.3-2.5 0.5-0.5 1.1-4.3 0.7-0.8 0.6-0.5 1.6-0.1 1.1 0.6 0.8 1.6 1.3 24.8-1.1 14.4-1.5 6.4-2 5.6-1.8 2-2.4 0.9-2.4 0-1.6-0.7-1.6-1.4-1-1.6-0.3-3.2 2.1-9.3 0-1.5-1.6 0.9-1.6-0.4-1.6-1.7-0.8-1.5-2.1-6.5-1.2-8-0.4-12 1-11.2 1.3-5.6 1.2-3.2 1.8-3 1.5-1zM884.5 642l1.4 0.1 0.8 0.5 1.4 1.8 1.5 3.2 1.3 4.8 1 6.4 0.5 6.4-0.3 12-1.1 8-2.2 7.2-1.3 2.1-1.6 1.4-0.8 0.2-1.6-0.5-0.1 2.4 1.9 8.8-0.4 2.4-0.9 1.6-1.3 1.2-1.6 0.8-2.4 0.2-2.4-0.8-2.2-2.2-2.2-6.4-1.4-6.4-1-13.6 1.3-24.8 0.2-0.8 1.3-1.3 1.6-0.1 0.8 0.4 1.1 1.8 1.3 5 0.4-0.2 1.3-9.6 1.4-5.6 1.7-4 1.6-1.9 1-0.5zM708.3 678.1l-0.2 1.5 0.2 0.6 0.3-1.4-0.3-0.7zM920.3 678.1l-0.2 1.5 0.2 0.6 0.3-1.4-0.3-0.7zM602.7 679.7l-0.2 0.7 0.2 1 0-1.7zM814.7 679.7l-0.2 0.7 0.2 1 0-1.7zM707.5 681.3l0 1.3 0-1.3zM919.5 681.3l0 1.3 0-1.3zM603.5 682.9l0 0.9 0-0.9zM815.5 682.9l0 0.9 0-0.9zM706.7 684.2l0 0.7 0-0.7zM918.7 684.2l0 0.7 0-0.7zM604.3 685.6l0 0.8 0-0.8zM816.3 685.6l0 0.8 0-0.8zM705.9 687.1l0 0.7 0-0.7zM917.9 687.1l0 0.7 0-0.7zM605.1 688.1l0 1.2 0-1.2zM817.1 688.1l0 1.2 0-1.2zM705.1 689.4l0 1.5 0-1.5zM917.1 689.4l0 1.5 0-1.5zM597.9 704l-0.2 0.4 0.6 0-0.4-0.4zM809.9 704l-0.2 0.4 0.6 0-0.4-0.4zM609.7 711.6l12.2 0.8 10.4-1 0.8 0.4 0.3 0.6-0.3 0.8-0.8 0.4-6.4 0.7-6.4 0.2-9.6-1-0.7-1.1 0.5-0.8zM677.7 711.6l12.2 0.8 10.4-1 0.8 0.4 0.3 0.6-0.3 0.8-0.8 0.4-6.4 0.7-6.4 0.2-9.6-1-0.7-1.1 0.5-0.8zM821.7 711.6l12.2 0.8 10.4-1 0.8 0.4 0.3 0.6-0.3 0.8-0.8 0.4-6.4 0.7-6.4 0.2-9.6-1-0.7-1.1 0.5-0.8zM889.7 711.6l12.2 0.8 10.4-1 0.8 0.4 0.3 0.6-0.3 0.8-0.8 0.4-6.4 0.7-6.4 0.2-9.6-1-0.7-1.1 0.5-0.8z" stroke="#352a87" stroke-width="2.4"/>
<path d="M607 629.2l2.1-0.2 2.4 1.3 2.4 2.6 2.4 4 2.2 5.1 2.2 6.4 1.6 6.4 1.4 7.2 1.3 13.6 0 6.4-0.6 5.6-1 4.8-1.5 3.5-1.6 2.1-2.4 1.1-1.6-0.1-2.4-1.3-2.4-2.7-2-3.4-2.4-5.6-1.5-4.8-2.4-12-1.5-14.4 0.1-12 0.6-4.8 1.1-4 1.6-3.2 1.9-1.6zM700.8 629.2l1.9-0.3 1.6 0.7 0.8 0.7 1.6 2.7 1.3 4.2 0.7 4.8 0.4 6.4-0.2 7.2-0.7 8-1.2 8-1.4 7.2-1.6 5.6-1.7 4.8-2 4-2.4 3.3-2.4 2-2.4 0.6-2.4-0.8-1.6-1.7-1.3-2.6-1.2-4-0.7-4.8-0.3-5.6 0.6-12.8 2.4-13.6 3.5-11.2 2.1-4.8 2.1-3.7 2.4-2.9 2.1-1.4zM819 629.2l2.1-0.2 2.4 1.3 2.4 2.6 2.4 4 2.2 5.1 2.2 6.4 1.6 6.4 1.4 7.2 1.3 13.6 0 6.4-0.6 5.6-1 4.8-1.5 3.5-1.6 2.1-2.4 1.1-1.6-0.1-2.4-1.3-2.4-2.7-2-3.4-2.4-5.6-1.5-4.8-2.4-12-1.5-14.4 0.1-12 0.6-4.8 1.1-4 1.6-3.2 1.9-1.6zM912.8 629.2l1.9-0.3 1.6 0.7 0.8 0.7 1.6 2.7 1.3 4.2 0.7 4.8 0.4 6.4-0.2 7.2-0.7 8-1.2 8-1.4 7.2-1.6 5.6-1.7 4.8-2 4-2.4 3.3-2.4 2-2.4 0.6-2.4-0.8-1.6-1.7-1.3-2.6-1.2-4-0.7-4.8-0.3-5.6 0.6-12.8 2.4-13.6 3.5-11.2 2.1-4.8 2.1-3.7 2.4-2.9 2.1-1.4zM577.2 647.6l1.5-0.3 1.6 0.6 4 3.8 5 7.1 5.1 9.6 3.9 9.6 2.6 8.8 0.7 4 0.1 3.2-0.6 2.4-0.8 0.9-1.6 0-1.6-0.8-4-4.1-4.9-7.2-5.1-9.6-3.9-9.6-2.5-8.8-0.7-6.4 0.3-1.7 0.9-1.5zM731 647.6l1.3-0.4 0.8 0.2 0.8 0.7 0.6 1.9 0.1 2.4-0.5 4-1.2 4.8-3.3 9.6-4.9 10.4-5.4 8.8-4.6 5.5-2.4 1.7-1.6 0.2-0.8-0.4-0.8-1.7 0-5.3 1.9-8 3.1-8.8 4.1-8.8 4.5-7.8 4.8-6.2 3.5-2.8zM789.2 647.6l1.5-0.3 1.6 0.6 4 3.8 5 7.1 5.1 9.6 3.9 9.6 2.6 8.8 0.7 4 0.1 3.2-0.6 2.4-0.8 0.9-1.6 0-1.6-0.8-4-4.1-4.9-7.2-5.1-9.6-3.9-9.6-2.5-8.8-0.7-6.4 0.3-1.7 0.9-1.5zM943 647.6l1.3-0.4 0.8 0.2 0.8 0.7 0.6 1.9 0.1 2.4-0.5 4-1.2 4.8-3.3 9.6-4.9 10.4-5.4 8.8-4.6 5.5-2.4 1.7-1.6 0.2-0.8-0.4-0.8-1.7 0-5.3 1.9-8 3.1-8.8 4.1-8.8 4.5-7.8 4.8-6.2 3.5-2.8zM636.9 649.2l1-0.2 1.4 1 1.8 3.6 1.4 6 0.6 7.2-0.2 8-1.1 7.2-1.7 4.8-1.4 1.8-0.8 0.4-1.6-0.6-0.8-0.9-1.6-3.7-1.2-5.8-0.6-7.2 0.3-8 0.9-6.4 1.4-4.4 0.8-1.5 1.4-1.3zM672.2 649.2l0.9-0.2 1.6 1 1.7 3.2 1.5 6.4 0.6 8-0.3 8-1.2 7.2-1.5 4-0.8 1.2-1.6 1-0.8-0.1-1.3-1.3-1.8-4-1.2-6.4-0.5-6.4 0.3-8 0.9-6.4 1.6-4.8 1.2-1.9 0.7-0.5zM848.9 649.2l1-0.2 1.4 1 1.8 3.6 1.4 6 0.6 7.2-0.2 8-1.1 7.2-1.7 4.8-1.4 1.8-0.8 0.4-1.6-0.6-0.8-0.9-1.6-3.7-1.2-5.8-0.6-7.2 0.3-8 0.9-6.4 1.4-4.4 0.8-1.5 1.4-1.3zM884.2 649.2l0.9-0.2 1.6 1 1.7 3.2 1.5 6.4 0.6 8-0.3 8-1.2 7.2-1.5 4-0.8 1.2-1.6 1-0.8-0.1-1.3-1.3-1.8-4-1.2-6.4-0.5-6.4 0.3-8 0.9-6.4 1.6-4.8 1.2-1.9 0.7-0.5zM649 657.2l0.9 0 0.8 0.6 0.5 1 1 24.8-0.9 11.2-1.2 6.4-2.9 8-2.1 1.9-2.4 0.4-1.6-0.6-1.6-1.5-0.7-1.8 0.1-1.6 3-15.9 2.9-20.9 2.6-10.4 0.3-0.8 1.3-0.8zM661 657.2l0.9 0 1 0.8 2.7 10.4 2.7 19.2 3.4 18.4-0.1 2.4-0.9 1.5-1.6 1.2-1.6 0.4-2.4-0.6-1.7-1.7-2.9-8-1.3-7.2-0.8-10.4 0.4-14.4 0.6-10.4 0.3-0.8 1.3-0.8zM861 657.2l0.9 0 0.8 0.6 0.5 1 1 24.8-0.9 11.2-1.2 6.4-2.9 8-2.1 1.9-2.4 0.4-1.6-0.6-1.6-1.5-0.7-1.8 0.1-1.6 3-15.9 2.9-20.9 2.6-10.4 0.3-0.8 1.3-0.8zM873 657.2l0.9 0 1 0.8 2.7 10.4 2.7 19.2 3.4 18.4-0.1 2.4-0.9 1.5-1.6 1.2-1.6 0.4-2.4-0.6-1.7-1.7-2.9-8-1.3-7.2-0.8-10.4 0.4-14.4 0.6-10.4 0.3-0.8 1.3-0.8z" stroke="#0f5cdd" stroke-width="2.4"/>
<path d="M608.6 636.4l2.1 0.2 1.6 1.1 2.1 2.7 1.9 3.5 3.3 9.3 2.2 11.2 0.8 11.2-0.2 4.8-0.6 4.8-0.9 3.2-1.4 3.1-1.6 1.8-1.6 0.7-1.6-0.2-1.6-0.9-1.6-1.8-2-3.5-1.6-4-1.4-4.8-1.7-9.6-0.9-12.8 0.4-10.4 0.7-4 0.9-2.6 1.4-2.2 1.3-0.8zM700.3 636.4l1.6-0.1 1.6 1.1 1.6 3 0.8 3 0.8 9.8-0.5 12.8-1.6 10.4-1.4 5.6-1.4 4-1.5 3.2-1.6 2.4-2.4 2.1-1.6 0.4-1.6-0.5-1.6-1.5-1.6-2.9-0.9-3.2-1-8 0.4-10.4 1.8-11.2 2.9-9.6 3.2-6.6 2.4-2.9 1.6-0.9zM820.6 636.4l2.1 0.2 1.6 1.1 2.1 2.7 1.9 3.5 3.3 9.3 2.2 11.2 0.8 11.2-0.2 4.8-0.6 4.8-0.9 3.2-1.4 3.1-1.6 1.8-1.6 0.7-1.6-0.2-1.6-0.9-1.6-1.8-2-3.5-1.6-4-1.4-4.8-1.7-9.6-0.9-12.8 0.4-10.4 0.7-4 0.9-2.6 1.4-2.2 1.3-0.8zM912.3 636.4l1.6-0.1 1.6 1.1 1.6 3 0.8 3 0.8 9.8-0.5 12.8-1.6 10.4-1.4 5.6-1.4 4-1.5 3.2-1.6 2.4-2.4 2.1-1.6 0.4-1.6-0.5-1.6-1.5-1.6-2.9-0.9-3.2-1-8 0.4-10.4 1.8-11.2 2.9-9.6 3.2-6.6 2.4-2.9 1.6-0.9zM580 654l1.1-0.4 0.8 0.3 3.2 2.7 3.8 5.4 3.9 7.2 3.3 8 2.1 7.2 0.4 4.8-0.3 1.6-0.8 0.8-1.2 0-0.8-0.4-3.5-3.6-4.2-6.4-3.3-6.4-2.9-7.2-1.8-6.4-0.6-4.8 0.3-1.6 0.5-0.8zM636.8 654l1.1-0.3 0.8 0.5 1.3 2.2 1.2 4.8 0.6 5.6-0.1 6.4-0.9 5.6-1.3 3.9-0.8 1.1-0.8 0.5-0.8-0.1-0.8-0.6-1.5-3.2-1-4.8-0.4-4.8 0.1-5.6 0.8-5.6 1.2-3.9 1.3-1.7zM672.2 654l0.9-0.3 0.8 0.3 1.6 2.7 1.1 4.5 0.6 6.4-0.2 6.4-0.8 4.8-1.5 4.2-0.8 1-0.8 0.3-0.8-0.2-0.8-0.8-1.3-2.9-0.9-4-0.5-5.6 0.1-5.6 0.6-4.8 1.2-4.2 1.5-2.2zM728.5 654l1.4-0.4 0.8 0.4 0.6 1.6 0.1 1.6-1.2 6.4-2.4 7.2-4.1 8.8-4.2 6.8-4 4.5-1.6 0.8-0.8-0.1-0.8-0.8-0.2-0.8 0.1-4 1.2-5.6 2.6-7.2 3-6.4 3.2-5.6 3.7-5 2.6-2.2zM792 654l1.1-0.4 0.8 0.3 3.2 2.7 3.8 5.4 3.9 7.2 3.3 8 2.1 7.2 0.4 4.8-0.3 1.6-0.8 0.8-1.2 0-0.8-0.4-3.5-3.6-4.2-6.4-3.3-6.4-2.9-7.2-1.8-6.4-0.6-4.8 0.3-1.6 0.5-0.8zM848.8 654l1.1-0.3 0.8 0.5 1.3 2.2 1.2 4.8 0.6 5.6-0.1 6.4-0.9 5.6-1.3 3.9-0.8 1.1-0.8 0.5-0.8-0.1-0.8-0.6-1.5-3.2-1-4.8-0.4-4.8 0.1-5.6 0.8-5.6 1.2-3.9 1.3-1.7zM884.2 654l0.9-0.3 0.8 0.3 1.6 2.7 1.1 4.5 0.6 6.4-0.2 6.4-0.8 4.8-1.5 4.2-0.8 1-0.8 0.3-0.8-0.2-0.8-0.8-1.3-2.9-0.9-4-0.5-5.6 0.1-5.6 0.6-4.8 1.2-4.2 1.5-2.2zM940.5 654l1.4-0.4 0.8 0.4 0.6 1.6 0.1 1.6-1.2 6.4-2.4 7.2-4.1 8.8-4.2 6.8-4 4.5-1.6 0.8-0.8-0.1-0.8-0.8-0.2-0.8 0.1-4 1.2-5.6 2.6-7.2 3-6.4 3.2-5.6 3.7-5 2.6-2.2zM648.3 658l0.8-0.4 0.8 0.1 0.8 1.1 0.9 24-0.7 8.8-1.2 8-2.2 6.4-1.6 3.2-1.6 1-1.6 0.1-1.6-0.7-0.9-1.2-0.2-3.2 2.7-16 2.7-20 2.9-11.2zM660.3 658l0.8-0.4 0.8 0.1 0.8 1 2 8.1 3.6 25 2.1 11.8 0.3 3.2-0.3 1.6-1.3 1.5-1.6 0.5-1.7-0.4-1.6-1.6-2.9-7.2-1.3-6.4-1-10.4 0-4.8 0.8-19.2 0.1-1.6 0.4-0.8zM860.3 658l0.8-0.4 0.8 0.1 0.8 1.1 0.9 24-0.7 8.8-1.2 8-2.2 6.4-1.6 3.2-1.6 1-1.6 0.1-1.6-0.7-0.9-1.2-0.2-3.2 2.7-16 2.7-20 2.9-11.2zM872.3 658l0.8-0.4 0.8 0.1 0.8 1 2 8.1 3.6 25 2.1 11.8 0.3 3.2-0.3 1.6-1.3 1.5-1.6 0.5-1.7-0.4-1.6-1.6-2.9-7.2-1.3-6.4-1-10.4 0-4.8 0.8-19.2 0.1-1.6 0.4-0.8z" stroke="#127dd8" stroke-width="2.4"/>
<path d="M609.5 643.6l1.2-0.2 1.6 0.9 1.6 1.8 1.6 2.9 2.6 7.4 1.8 9.6 0.6 8.8-0.7 8-0.9 3.2-1 2.3-0.8 1.1-1.6 1-1.6-0.1-1.6-1.2-2.4-3.8-2.1-5.7-1.5-8-0.7-9.6 0.4-8.8 0.7-4.5 0.8-2.6 0.8-1.5 1.2-1zM699.3 643.6l1-0.2 1.6 0.8 1.1 1.8 1 3.2 1 8.8-0.2 9.6-1.1 8-2.3 8-2.7 5-1.6 1.5-1.6 0.4-1.3-0.5-1.1-1.1-1.9-4.5-1-7.2 0.1-8 1.3-8.8 2.3-8.5 2.4-5.1 1.6-2.2 1.4-1zM821.5 643.6l1.2-0.2 1.6 0.9 1.6 1.8 1.6 2.9 2.6 7.4 1.8 9.6 0.6 8.8-0.7 8-0.9 3.2-1 2.3-0.8 1.1-1.6 1-1.6-0.1-1.6-1.2-2.4-3.8-2.1-5.7-1.5-8-0.7-9.6 0.4-8.8 0.7-4.5 0.8-2.6 0.8-1.5 1.2-1zM911.3 643.6l1-0.2 1.6 0.8 1.1 1.8 1 3.2 1 8.8-0.2 9.6-1.1 8-2.3 8-2.7 5-1.6 1.5-1.6 0.4-1.3-0.5-1.1-1.1-1.9-4.5-1-7.2 0.1-8 1.3-8.8 2.3-8.5 2.4-5.1 1.6-2.2 1.4-1zM636.9 658l1-0.3 0.8 0.7 0.8 1.6 0.8 3.4 0.4 4.2-0.1 4-0.5 4-1 3.2-1.2 1.5-0.8-0.1-0.8-0.9-0.8-1.9-1-6.6 0.5-8 0.9-3.2 1-1.6zM649 658l0.9 0.2 0.4 0.6 0.7 11.2 0.1 13.6-0.9 9.6-0.9 5.6-2 5.6-2.3 4-1.4 0.8-0.9 0-1.1-0.8-0.5-0.8 0.1-5.6 2.3-14.8 2.1-17.2 2.7-11.2 0.7-0.8zM661 658l0.9 0.2 0.4 0.6 2.5 10.4 2.7 20.9 1.9 11.9 0 5.6-0.4 0.8-1.5 0.8-0.8 0-1.1-0.8-2.1-3.5-2-5.3-1-5.6-1-10.4 0.1-13.6 0.7-11.2 0.7-0.8zM672.3 658l0.8-0.3 0.8 0.5 0.8 1.3 0.9 3.3 0.5 4.8-0.1 4-0.5 4.2-0.8 2.7-0.8 1.3-0.8 0.5-1.1-0.7-1.1-2.4-1-6.4 0.5-8 0.9-3.2 1-1.6zM848.9 658l1-0.3 0.8 0.7 0.8 1.6 0.8 3.4 0.4 4.2-0.1 4-0.5 4-1 3.2-1.2 1.5-0.8-0.1-0.8-0.9-0.8-1.9-1-6.6 0.5-8 0.9-3.2 1-1.6zM861 658l0.9 0.2 0.4 0.6 0.7 11.2 0.1 13.6-0.9 9.6-0.9 5.6-2 5.6-2.3 4-1.4 0.8-0.9 0-1.1-0.8-0.5-0.8 0.1-5.6 2.3-14.8 2.1-17.2 2.7-11.2 0.7-0.8zM873 658l0.9 0.2 0.4 0.6 2.5 10.4 2.7 20.9 1.9 11.9 0 5.6-0.4 0.8-1.5 0.8-0.8 0-1.1-0.8-2.1-3.5-2-5.3-1-5.6-1-10.4 0.1-13.6 0.7-11.2 0.7-0.8zM884.3 658l0.8-0.3 0.8 0.5 0.8 1.3 0.9 3.3 0.5 4.8-0.1 4-0.5 4.2-0.8 2.7-0.8 1.3-0.8 0.5-1.1-0.7-1.1-2.4-1-6.4 0.5-8 0.9-3.2 1-1.6zM582.1 658.8l0.6-0.4 0.8 0.1 2.4 2.1 2.8 3.8 3 5.6 2.4 5.6 1.7 5.6 0.5 4-0.3 1.6-0.5 0.5-1.6-0.4-2.4-2.5-2.7-4-2.6-4.8-2.4-5.6-1.5-4.8-0.6-4 0.4-2.4zM726.6 658.8l0.9-0.4 0.8 0.2 0.5 1 0.1 1.6-0.6 4-1.8 5.6-2.5 5.6-3.2 5.6-2.9 3.8-1.6 1.3-0.8 0.3-0.9-0.6-0.2-3.2 0.8-4 1.6-4.8 2.4-5.6 2.7-4.8 2.4-3.4 2.3-2.2zM794.1 658.8l0.6-0.4 0.8 0.1 2.4 2.1 2.8 3.8 3 5.6 2.4 5.6 1.7 5.6 0.5 4-0.3 1.6-0.5 0.5-1.6-0.4-2.4-2.5-2.7-4-2.6-4.8-2.4-5.6-1.5-4.8-0.6-4 0.4-2.4zM938.6 658.8l0.9-0.4 0.8 0.2 0.5 1 0.1 1.6-0.6 4-1.8 5.6-2.5 5.6-3.2 5.6-2.9 3.8-1.6 1.3-0.8 0.3-0.9-0.6-0.2-3.2 0.8-4 1.6-4.8 2.4-5.6 2.7-4.8 2.4-3.4 2.3-2.2z" stroke="#079ccf" stroke-width="2.4"/>
<path d="M609.8 651.6l0.9-0.5 1.6 0.5 2.4 3.3 2 5.5 1.4 7.2 0.5 7.2-0.5 6.4-0.5 2.4-1 2.4-1.1 1.2-0.8 0.4-0.8 0-1.6-1-1.9-3-1.8-4.8-1.3-6.4-0.5-6.4 0.3-6.4 1.2-5.5 1.5-2.5zM698.3 651.6l1.2-0.5 0.8 0.1 1.2 1.2 1 2.4 1.1 5.6 0.1 7.2-0.8 7.2-1.8 6.8-2.4 4.5-1.6 1.3-0.8 0.2-1.7-0.8-1.6-3.2-0.8-4.8-0.2-6.4 0.7-6.4 1.4-6.4 2.2-5.5 2-2.5zM821.8 651.6l0.9-0.5 1.6 0.5 2.4 3.3 2 5.5 1.4 7.2 0.5 7.2-0.5 6.4-0.5 2.4-1 2.4-1.1 1.2-0.8 0.4-0.8 0-1.6-1-1.9-3-1.8-4.8-1.3-6.4-0.5-6.4 0.3-6.4 1.2-5.5 1.5-2.5zM910.3 651.6l1.2-0.5 0.8 0.1 1.2 1.2 1 2.4 1.1 5.6 0.1 7.2-0.8 7.2-1.8 6.8-2.4 4.5-1.6 1.3-0.8 0.2-1.7-0.8-1.6-3.2-0.8-4.8-0.2-6.4 0.7-6.4 1.4-6.4 2.2-5.5 2-2.5zM648.9 658.8l0.8 0 0.2 0.4 0.7 10 0.1 14.4-0.5 5.6-1.1 8-1.2 4-2 4-1.6 1.8-0.8 0.3-0.8-0.4-0.7-1.7 0.3-6.4 3.7-28.8 1.4-6.4 1.5-4.8zM660.9 658.8l0.2-0.2 0.8 0.4 2.7 11 4 31.2 0 4-0.3 1.1-0.8 0.9-0.8 0-0.8-0.5-2.4-3.6-1.8-5.1-0.8-4.8-0.9-8.8-0.1-4.8 0.1-10.4 0.9-10.4zM860.9 658.8l0.8 0 0.2 0.4 0.7 10 0.1 14.4-0.5 5.6-1.1 8-1.2 4-2 4-1.6 1.8-0.8 0.3-0.8-0.4-0.7-1.7 0.3-6.4 3.7-28.8 1.4-6.4 1.5-4.8zM872.9 658.8l0.2-0.2 0.8 0.4 2.7 11 4 31.2 0 4-0.3 1.1-0.8 0.9-0.8 0-0.8-0.5-2.4-3.6-1.8-5.1-0.8-4.8-0.9-8.8-0.1-4.8 0.1-10.4 0.9-10.4zM637.1 662l0.8-0.2 0.8 1.1 0.9 4.7-0.4 5.6-0.5 1.9-0.8 1.1-0.8-0.2-0.8-1.5-0.7-4.5 0.3-4.8 0.4-1.7 0.8-1.5zM672.6 662l0.5-0.2 0.9 1 0.7 2.4 0.3 3.2-0.4 4.8-0.7 2.3-0.8 0.7-0.8-0.4-0.7-1.8-0.6-4 0.5-5.6 1.1-2.4zM849.1 662l0.8-0.2 0.8 1.1 0.9 4.7-0.4 5.6-0.5 1.9-0.8 1.1-0.8-0.2-0.8-1.5-0.7-4.5 0.3-4.8 0.4-1.7 0.8-1.5zM884.6 662l0.5-0.2 0.9 1 0.7 2.4 0.3 3.2-0.4 4.8-0.7 2.3-0.8 0.7-0.8-0.4-0.7-1.8-0.6-4 0.5-5.6 1.1-2.4zM584.2 662.8l0.9 0 1.6 1.3 2.4 3.4 1.8 3.3 3 8 0.3 2.4-0.3 2-0.8 0.1-0.8-0.5-1.6-1.7-3.7-6.3-2.7-7.2-0.5-3.2 0.4-1.6zM725.6 662.8l0.6 0 0.5 0.5 0.1 1.9-0.7 3.2-1.4 4-2 4.2-2.4 4-1.6 1.9-1.6 0.9-0.6-0.6-0.2-0.8 0.1-1.6 0.8-3.2 1.4-4 4.1-7.6 1.6-1.9 1.3-0.9zM796.2 662.8l0.9 0 1.6 1.3 2.4 3.4 1.8 3.3 3 8 0.3 2.4-0.3 2-0.8 0.1-0.8-0.5-1.6-1.7-3.7-6.3-2.7-7.2-0.5-3.2 0.4-1.6zM937.6 662.8l0.6 0 0.5 0.5 0.1 1.9-0.7 3.2-1.4 4-2 4.2-2.4 4-1.6 1.9-1.6 0.9-0.6-0.6-0.2-0.8 0.1-1.6 0.8-3.2 1.4-4 4.1-7.6 1.6-1.9 1.3-0.9z" stroke="#15b1b4" stroke-width="2.4"/>
<path d="M609.9 658l0.8-0.6 0.8 0.1 0.9 0.5 1.5 2 1.6 3.9 1.2 5.3 0.5 6.4-0.5 4.8-1.2 3.5-0.8 0.8-0.8 0.3-1.6-0.8-1.6-2.4-1.4-3.8-1-4.8-0.4-4.8 0.2-4.8 0.6-3.2 1.2-2.4zM698.3 658l1.2-0.6 0.8 0.2 0.8 0.9 0.8 1.8 0.7 4.1 0 5.6-0.7 5.6-1.6 5.3-1.6 2.9-1.6 1.1-0.8 0-0.8-0.5-0.8-1.2-0.8-2.6-0.4-3.4 0.1-4.8 0.6-4.8 1-4 1.3-3.2 1.8-2.4zM821.9 658l0.8-0.6 0.8 0.1 0.9 0.5 1.5 2 1.6 3.9 1.2 5.3 0.5 6.4-0.5 4.8-1.2 3.5-0.8 0.8-0.8 0.3-1.6-0.8-1.6-2.4-1.4-3.8-1-4.8-0.4-4.8 0.2-4.8 0.6-3.2 1.2-2.4zM910.3 658l1.2-0.6 0.8 0.2 0.8 0.9 0.8 1.8 0.7 4.1 0 5.6-0.7 5.6-1.6 5.3-1.6 2.9-1.6 1.1-0.8 0-0.8-0.5-0.8-1.2-0.8-2.6-0.4-3.4 0.1-4.8 0.6-4.8 1-4 1.3-3.2 1.8-2.4zM648.8 661.2l0.3-0.7 0.5 1.5 0.7 7.2 0 13.6-0.3 4.8-1.7 10.6-1.6 4-0.8 1.3-1.6 1.3-0.8-0.2-0.6-1.8 0.2-6.4 3.2-26.4 1.2-5.4 1.3-3.4zM661.1 661.2l0-0.3 0.8 0.1 2.4 9 3.4 28.8 0 4-0.2 1.2-0.8 0.8-0.8-0.2-1.6-1.7-1.6-3.5-0.8-3-1.1-7.2-0.5-5.6 0-13.6 0.8-8.8zM860.8 661.2l0.3-0.7 0.5 1.5 0.7 7.2 0 13.6-0.3 4.8-1.7 10.6-1.6 4-0.8 1.3-1.6 1.3-0.8-0.2-0.6-1.8 0.2-6.4 3.2-26.4 1.2-5.4 1.3-3.4zM873.1 661.2l0-0.3 0.8 0.1 2.4 9 3.4 28.8 0 4-0.2 1.2-0.8 0.8-0.8-0.2-1.6-1.7-1.6-3.5-0.8-3-1.1-7.2-0.5-5.6 0-13.6 0.8-8.8zM586.3 667.6l0.4-0.3 1.6 1.5 2.4 4.4 1.2 4-0.4 1.7-1.6-1.4-2.4-4.3-1.1-3.2-0.1-2.4zM723.4 667.6l0.9-0.2 0.1 1.8-1.7 4.8-2.4 4-0.8 0.7-0.8-0.2 0.2-2.1 1.4-4 1.6-3 1.5-1.8zM798.3 667.6l0.4-0.3 1.6 1.5 2.4 4.4 1.2 4-0.4 1.7-1.6-1.4-2.4-4.3-1.1-3.2-0.1-2.4zM935.4 667.6l0.9-0.2 0.1 1.8-1.7 4.8-2.4 4-0.8 0.7-0.8-0.2 0.2-2.1 1.4-4 1.6-3 1.5-1.8zM673.1 669.2l0-0.4 0 0.4zM885.1 669.2l0-0.4 0 0.4z" stroke="#59bd8c" stroke-width="2.4"/>
<path d="M611 662l1.3 0.4 1.4 2 1 2.6 0.9 3.8 0.3 4-0.1 3.2-0.9 3.2-1 1.1-0.8 0-0.8-0.5-1-1.4-1.4-3.6-0.7-3.6-0.3-4 0.2-3.5 0.8-2.8 1.1-0.9zM699.1 662l1.2 0.4 0.9 2 0.5 4-0.2 4-0.7 4-1.3 3.7-0.8 1.3-1.6 1-0.8-0.4-1.2-2.4-0.4-3.2 0.1-4 1.5-6.6 1.6-2.9 1.2-0.9zM823 662l1.3 0.4 1.4 2 1 2.6 0.9 3.8 0.3 4-0.1 3.2-0.9 3.2-1 1.1-0.8 0-0.8-0.5-1-1.4-1.4-3.6-0.7-3.6-0.3-4 0.2-3.5 0.8-2.8 1.1-0.9zM911.1 662l1.2 0.4 0.9 2 0.5 4-0.2 4-0.7 4-1.3 3.7-0.8 1.3-1.6 1-0.8-0.4-1.2-2.4-0.4-3.2 0.1-4 1.5-6.6 1.6-2.9 1.2-0.9zM648.5 663.6l0.6-0.3 0.1 0.3 0.7 5.2 0 15.6-1.9 12.8-1.3 3.3-1.6 1.8-0.8-0.1-0.5-1-0.1-4.8 2.9-26.4 0.9-3.9 1-2.5zM661.6 663.6l0.3-0.4 0.8 1.5 1.3 5.3 2.9 26.4-0.1 4.8-0.9 1.2-0.8-0.3-0.8-0.9-1.6-3.6-1.6-10-0.4-4 0-13.6 0.4-5.5 0.5-0.9zM860.5 663.6l0.6-0.3 0.1 0.3 0.7 5.2 0 15.6-1.9 12.8-1.3 3.3-1.6 1.8-0.8-0.1-0.5-1-0.1-4.8 2.9-26.4 0.9-3.9 1-2.5zM873.6 663.6l0.3-0.4 0.8 1.5 1.3 5.3 2.9 26.4-0.1 4.8-0.9 1.2-0.8-0.3-0.8-0.9-1.6-3.6-1.6-10-0.4-4 0-13.6 0.4-5.5 0.5-0.9z" stroke="#a5be6b" stroke-width="2.4"/>
<path d="M611.4 666l0.9 0.3 0.8 1.1 1.4 5-0.1 4.8-0.5 1.6-0.8 0.6-0.8-0.4-0.8-1.1-1.3-4.7 0-4.8 0.5-1.9 0.7-0.5zM648.2 666l0.1-0.4 0.8 0.4 0.4 3.2-0.1 15.2-1.9 12.2-0.8 2.1-0.8 1-0.8 0.2-0.7-1.9-0.1-1.6 2.7-26.4 1.2-4zM661.7 666l0.2-0.6 0.8 1.1 0.8 2.9 1.6 15 1.2 12.8-0.4 2.3-0.8 0.4-0.8-0.7-1-2-2.1-12.8-0.2-14.4 0.7-4zM823.4 666l0.9 0.3 0.8 1.1 1.4 5-0.1 4.8-0.5 1.6-0.8 0.6-0.8-0.4-0.8-1.1-1.3-4.7 0-4.8 0.5-1.9 0.7-0.5zM860.2 666l0.1-0.4 0.8 0.4 0.4 3.2-0.1 15.2-1.9 12.2-0.8 2.1-0.8 1-0.8 0.2-0.7-1.9-0.1-1.6 2.7-26.4 1.2-4zM873.7 666l0.2-0.6 0.8 1.1 0.8 2.9 1.6 15 1.2 12.8-0.4 2.3-0.8 0.4-0.8-0.7-1-2-2.1-12.8-0.2-14.4 0.7-4zM697.9 666.8l0.8-0.8 0.8 0.1 0.8 1.4 0.3 3.3-0.3 3.2-0.6 2.4-1 2.2-0.8 0.7-0.8-0.1-0.7-1.2-0.4-3.2 0.4-4 1.5-4zM909.9 666.8l0.8-0.8 0.8 0.1 0.8 1.4 0.3 3.3-0.3 3.2-0.6 2.4-1 2.2-0.8 0.7-0.8-0.1-0.7-1.2-0.4-3.2 0.4-4 1.5-4z" stroke="#e1b952" stroke-width="2.4"/>
<path d="M648.1 668.4l0.2-0.4 0.3 0.4 0.5 1.6 0 13.6-1.6 9.2-0.8 2.9-0.8 1.1-0.4-4.4 0.4-8 1.6-14.4 0.6-1.6zM661.8 668.4l0.1-0.3 0.8 0.5 0.3 1.4 1.6 14.4 0.5 11.2-0.8 0.9-1.6-5.4-1.1-6.7 0-14.4 0.2-1.6zM860.1 668.4l0.2-0.4 0.3 0.4 0.5 1.6 0 13.6-1.6 9.2-0.8 2.9-0.8 1.1-0.4-4.4 0.4-8 1.6-14.4 0.6-1.6zM873.8 668.4l0.1-0.3 0.8 0.5 0.3 1.4 1.6 14.4 0.5 11.2-0.8 0.9-1.6-5.4-1.1-6.7 0-14.4 0.2-1.6z" stroke="#fcce2e" stroke-width="2.4"/>
<path d="M662.7 675.6l0 1 0-1zM874.7 675.6l0 1 0-1zM647.7 678l0.6 0 0.1 5.6-0.9 4.2-0.8-1.5-0.1-1.9 0.9-6.4 0.2 0zM662.5 678l0.2-0.6 0.6 2.2 0.5 4-0.3 4.9-1.2-4.9 0.2-5.6zM859.7 678l0.6 0 0.1 5.6-0.9 4.2-0.8-1.5-0.1-1.9 0.9-6.4 0.2 0zM874.5 678l0.2-0.6 0.6 2.2 0.5 4-0.3 4.9-1.2-4.9 0.2-5.6z" stroke="#f9fb0e" stroke-width="2.4"/>
</g>
<g clip-path="url(#cp_cV1)" fill="none" stroke-linejoin="round">
<path d="M223.6 863l0.9-6 0.1-4.1-0.3-4-0.6-4-1.1-4-2.2-5.7-2.9-5.3-2.4-3.3-4.1-4.5-3.1-2.7-3.3-2.4-3.5-2-3.6-1.7-5.8-2-6-1.1-4.1-0.3-6.1 0.3-4 0.6-5.9 1.7-3.7 1.6-3.6 1.9-5 3.4-3.1 2.7-4.1 4.5-3.5 5-1.8 3.6-2.2 5.7-1.1 4-0.6 4-0.3 4 0.1 4.1 0.9 6M435.6 863l0.9-6 0.1-4.1-0.3-4-0.6-4-1.1-4-2.2-5.7-1.8-3.6-3.5-5-4.1-4.5-3.1-2.7-3.3-2.4-3.5-2-3.6-1.7-5.8-2-6-1.1-4.1-0.3-6.1 0.3-4 0.6-5.9 1.7-3.7 1.6-3.6 1.9-5 3.4-3.1 2.7-4.1 4.5-3.5 5-1.8 3.6-2.2 5.7-1.1 4-0.6 4-0.3 4 0.1 4.1 0.9 6M219.5 860.7l0.5-4 0.1-4.1-0.4-4.1-0.8-4-1.1-3.9-1.6-3.8-2-3.6-2.4-3.4-4.1-4.5-3.2-2.7-3.4-2.3-3.6-1.9-3.8-1.6-3.9-1.1-4.1-0.8-4.1-0.3-4.1 0.1-4.1 0.6-4 0.9-3.8 1.4-3.8 1.7-3.5 2.1-4.8 3.9-2.8 2.9-2.5 3.3-3.2 5.3-1.6 3.8-1.1 3.9-0.8 4-0.4 4.1 0.1 4.1 0.5 4M431.5 860.7l0.5-4 0.1-4.1-0.4-4.1-0.8-4-1.1-3.9-1.6-3.8-2-3.6-2.4-3.4-4.1-4.5-3.2-2.7-3.4-2.3-3.6-1.9-3.8-1.6-3.9-1.1-4.1-0.8-4.1-0.3-4.1 0.1-4.1 0.6-4 0.9-3.8 1.4-3.8 1.7-3.5 2.1-4.8 3.9-2.8 2.9-2.5 3.3-3.2 5.3-1.6 3.8-1.1 3.9-0.8 4-0.4 4.1 0.1 4.1 0.5 4M215 856.9l-0.1-6.2-0.6-4-1.1-4-2.6-5.6-2.3-3.4-2.6-3.1-3-2.8-3.4-2.5-5.5-2.8-4-1.4-4-0.8-6.2-0.4-6.2 0.8-4 1.1-3.9 1.5-5.3 3.2-3.2 2.6-2.9 3-3.5 5-2.6 5.6-1.1 4-0.6 4-0.1 6.2M427 856.9l-0.1-6.2-0.6-4-1.1-4-2.6-5.6-2.3-3.4-2.6-3.1-3-2.8-3.4-2.5-5.5-2.8-4-1.4-4-0.8-6.2-0.4-6.2 0.8-4 1.1-3.9 1.5-5.3 3.2-3.2 2.6-2.9 3-3.5 5-2.6 5.6-1.1 4-0.6 4-0.1 6.2" stroke="#808080" stroke-width="2.5" stroke-dasharray="12 4"/><path d="M195.9 854.8l0-4.9-0.9-4.7-1.5-4.4-2.1-3.8-2.7-3-3.1-2.1-1.6-0.7-3.4-0.5-3.4 0.5-1.6 0.7-3.1 2.1-2.7 3-2.1 3.8-1.5 4.4-0.9 4.7 0 4.9M407.9 854.8l0-4.9-0.9-4.7-1.5-4.4-2.1-3.8-2.7-3-3.1-2.1-1.6-0.7-3.4-0.5-3.4 0.5-1.6 0.7-3.1 2.1-2.7 3-2.1 3.8-1.5 4.4-0.9 4.7 0 4.9" stroke="#808080" stroke-width="2.4" stroke-dasharray="13 9"/><path d="M163.7 848.4l0 12.5M197.5 848.4l0 12.5M375.7 848.4l0 12.5M409.5 848.4l0 12.5M169.8 874.9l0-8.8 0.5-2.3 1-1.9 1.2-1.4 1.1-0.6 1.1 0.6 1.2 1.5 1 1.9 0.5 2 0 7M191.4 874.9l0-8.8-0.5-2.3-1-1.9-1.2-1.4-1.1-0.6-1.1 0.6-1.2 1.5-1 1.9-0.5 2 0 7M381.8 874.9l0-8.8 0.5-2.3 1-1.9 1.2-1.4 1.1-0.6 1.1 0.6 1.2 1.5 1 1.9 0.5 2 0 7M403.4 874.9l0-8.8-0.5-2.3-1-1.9-1.2-1.4-1.1-0.6-1.1 0.6-1.2 1.5-1 1.9-0.5 2 0 7M148.2 865.4l-0.1 4.1 0.8 1.8 2 1.8 2.4 1.3 2.2 0 2.4-1.3 2-1.8 0.8-1.8-0.1-4.1M213 865.4l0.1 4.1-0.8 1.8-2 1.8-2.4 1.3-2.2 0-2.4-1.3-2-1.8-0.8-1.8 0.1-4.1M360.2 865.4l-0.1 4.1 0.8 1.8 2 1.8 2.4 1.3 2.2 0 2.4-1.3 2-1.8 0.8-1.8-0.1-4.1M425 865.4l0.1 4.1-0.8 1.8-2 1.8-2.4 1.3-2.2 0-2.4-1.3-2-1.8-0.8-1.8 0.1-4.1M175.6 883.9l0.4 10M185.6 883.9l-0.4 10M387.6 883.9l0.4 10M397.6 883.9l-0.4 10M168.6 885.9l1 12M192.6 885.9l-1 12M380.6 885.9l1 12M404.6 885.9l-1 12M74.6 851.4l-6 1-5 3M286.6 851.4l-6 1-5 3M74.6 851.4l6 1 5 3M498.6 851.4l-6 1-5 3M286.6 851.4l6 1 5 3M498.6 851.4l6 1 5 3M74.6 855.1l-4.8 0.7-2.4 0.8-4.8 2.8M286.6 855.1l-4.8 0.7-2.4 0.8-4.8 2.8M74.6 855.1l4.8 0.7 2.4 0.8 4.8 2.8M498.6 855.1l-4.8 0.7-2.4 0.8-4.8 2.8M286.6 855.1l4.8 0.7 2.4 0.8 4.8 2.8M498.6 855.1l4.8 0.7 2.4 0.8 4.8 2.8M74.6 859.3l-4.9 0.8-2.2 0.9-3.9 2.9M286.6 859.3l-4.9 0.8-2.2 0.9-3.9 2.9M74.6 859.3l4.9 0.8 2.2 0.9 3.9 2.9M498.6 859.3l-4.9 0.8-2.2 0.9-3.9 2.9M286.6 859.3l4.9 0.8 2.2 0.9 3.9 2.9M498.6 859.3l4.9 0.8 2.2 0.9 3.9 2.9M272.6 850.4l-4.4 2.9-1.3 1.2-2.1 3.4-0.8 2-1.1 4-0.5 4 0.3 4.6 2.4 11.4M88.6 850.4l4.4 2.9 1.3 1.2 2.1 3.4 0.8 2 1.1 4 0.5 4-0.3 4.6-2.4 11.4M484.6 850.4l-4.4 2.9-1.3 1.2-2.1 3.4-0.8 2-1.1 4-0.5 4 0.3 4.6 2.4 11.4M300.6 850.4l4.4 2.9 1.3 1.2 2.1 3.4 0.8 2 1.1 4 0.5 4-0.3 4.6-2.4 11.4M269.1 855.9l-1.8 6.8-1.1 8.1 0 4.7 1.4 10.4M92.1 855.9l1.8 6.8 1.1 8.1 0 4.7-1.4 10.4M481.1 855.9l-1.8 6.8-1.1 8.1 0 4.7 1.4 10.4M304.1 855.9l1.8 6.8 1.1 8.1 0 4.7-1.4 10.4M74.6 900.2l-2.5 5.7-3.9 12M286.6 900.2l-2.5 5.7-3.9 12M74.6 900.2l2.5 5.7 3.9 12M498.6 900.2l-2.5 5.7-3.9 12M286.6 900.2l2.5 5.7 3.9 12M498.6 900.2l2.5 5.7 3.9 12M277.2 894.9l0.6 15M84 894.9l-0.6 15M489.2 894.9l0.6 15M296 894.9l-0.6 15M258.6 897.9l5 0.3 2 0.7 1.3 1.6 0.9 2.2 0.3 2.2-0.3 2.1-1.7 4.4M102.6 897.9l-5 0.3-2 0.7-1.3 1.6-0.9 2.2-0.3 2.2 0.3 2.1 1.7 4.4M470.6 897.9l5 0.3 2 0.7 1.3 1.6 0.9 2.2 0.3 2.2-0.3 2.1-1.7 4.4M314.6 897.9l-5 0.3-2 0.7-1.3 1.6-0.9 2.2-0.3 2.2 0.3 2.1 1.7 4.4M259.6 906.4l2.2 0.5 1.8 1 0.2 2.7-0.2 3.3M101.6 906.4l-2.3 0.5-1.7 1-0.3 2.7 0.3 3.3M471.6 906.4l2.2 0.5 1.8 1 0.2 2.7-0.2 3.3M313.6 906.4l-2.3 0.5-1.7 1-0.3 2.7 0.3 3.3M74.6 922.5l-3 1.9-9 7M286.6 922.5l-3 1.9-9 7M74.6 922.5l3 1.9 9 7M498.6 922.5l-3 1.9-9 7M286.6 922.5l3 1.9 9 7M498.6 922.5l3 1.9 9 7M74.6 929.6l-4 2.3-6 3M286.6 929.6l-4 2.3-6 3M74.6 929.6l4 2.3 6 3M498.6 929.6l-4 2.3-6 3M286.6 929.6l4 2.3 6 3M498.6 929.6l4 2.3 6 3M274.6 880.9l-3.3 3.9-1.4 2.2-2.3 4.9M86.6 880.9l3.3 3.9 1.4 2.2 2.3 4.9M486.6 880.9l-3.3 3.9-1.4 2.2-2.3 4.9M298.6 880.9l3.3 3.9 1.4 2.2 2.3 4.9" stroke="#808080" stroke-width="2.4"/><path d="M77.9 875.1l-0.5-2.6-1.4-1.8-1.9-0.4-1.7 1.2-1 2.3 0 2.6 1 2.3 1.7 1.2 1.9-0.4 1.4-1.8 0.5-2.6M289.9 875.1l-0.5-2.6-1.4-1.8-1.9-0.4-1.7 1.2-1 2.3 0 2.6 1 2.3 1.7 1.2 1.9-0.4 1.4-1.8 0.5-2.6M501.9 875.1l-0.5-2.6-1.4-1.8-1.9-0.4-1.7 1.2-1 2.3 0 2.6 1 2.3 1.7 1.2 1.9-0.4 1.4-1.8 0.5-2.6" stroke="#808080" stroke-width="1.9"/><path d="M100.7 899.9l0.3 2.2 1.3 4.2 2.1 3.9 2.8 3.4 3.5 2.9 3.9 2.1 4.4 1.5 2.3 0.4M260.5 899.9l-0.3 2.2-1.3 4.2-2.1 3.9-2.8 3.4-3.5 2.9-3.9 2.1-4.4 1.5-2.3 0.4M312.7 899.9l0.3 2.2 1.3 4.2 2.1 3.9 2.8 3.4 3.5 2.9 3.9 2.1 4.4 1.5 2.3 0.4M472.5 899.9l-0.3 2.2-1.3 4.2-2.1 3.9-2.8 3.4-3.5 2.9-3.9 2.1-4.4 1.5-2.3 0.4M93.6 896.9l0.2 4.2 0.3 2.1 1.1 4.1 1.8 4 1.1 1.8 2.6 3.5 3 3.1 1.8 1.4 3.7 2.3 4 1.9 2.1 0.7 2.2 0.6 4.4 0.6M267.6 896.9l-0.2 4.2-0.3 2.1-1.1 4.1-1.8 4-1.1 1.8-2.6 3.5-3 3.1-1.8 1.4-3.7 2.3-4 1.9-2.1 0.7-2.2 0.6-4.4 0.6M305.6 896.9l0.2 4.2 0.3 2.1 1.1 4.1 1.8 4 1.1 1.8 2.6 3.5 3 3.1 1.8 1.4 3.7 2.3 4 1.9 2.1 0.7 2.2 0.6 4.4 0.6M479.6 896.9l-0.2 4.2-0.3 2.1-1.1 4.1-1.8 4-1.1 1.8-2.6 3.5-3 3.1-1.8 1.4-3.7 2.3-4 1.9-2.1 0.7-2.2 0.6-4.4 0.6M87 892.9l-0.4 6.3 0.4 4.1 1 4.1 2.3 5.9 2.1 3.7 2.5 3.5 4.6 4.5 5.3 3.7 3.9 2 4.2 1.5 6.4 1.4M274.2 892.9l0.4 6.3-0.4 4.1-1 4.1-2.3 5.9-2.1 3.7-2.5 3.5-4.6 4.5-5.3 3.7-3.9 2-4.2 1.5-6.4 1.4M299 892.9l-0.4 6.3 0.4 4.1 1 4.1 2.3 5.9 2.1 3.7 2.5 3.5 4.6 4.5 5.3 3.7 3.9 2 4.2 1.5 6.4 1.4M486.2 892.9l0.4 6.3-0.4 4.1-1 4.1-2.3 5.9-2.1 3.7-2.5 3.5-4.6 4.5-5.3 3.7-3.9 2-4.2 1.5-6.4 1.4M80.3 890.5l-0.6 4-0.1 4.1 0.3 4.1 0.7 4.1 1.1 4 1.5 3.8 1.9 3.7 2.2 3.5 2.6 3.3 2.9 3 3.2 2.8 3.4 2.4 3.7 2.2 3.9 1.8 4.1 1.4 4.1 1M280.9 890.5l0.6 4 0.1 4.1-0.3 4.1-0.7 4.1-1.1 4-1.5 3.8-1.9 3.7-2.2 3.5-2.6 3.3-2.9 3-3.2 2.8-3.4 2.4-3.7 2.2-3.9 1.8-4.1 1.4-4.1 1M292.3 890.5l-0.6 4-0.1 4.1 0.3 4.1 0.7 4.1 1.1 4 1.5 3.8 1.9 3.7 2.2 3.5 2.6 3.3 2.9 3 3.2 2.8 3.4 2.4 3.7 2.2 3.9 1.8 4.1 1.4 4.1 1M492.9 890.5l0.6 4 0.1 4.1-0.3 4.1-0.7 4.1-1.1 4-1.5 3.8-1.9 3.7-2.2 3.5-2.6 3.3-2.9 3-3.2 2.8-3.4 2.4-3.7 2.2-3.9 1.8-4.1 1.4-4.1 1M76.1 891l0.4 4.1 0.1 4.1-0.3 4-0.6 4-1 4-1.3 3.9-1.7 3.7-2 3.7-2.3 3.4-2.5 3.3-2.9 3-3.1 2.8-3.3 2.6-3.6 2.3-5.6 2.9-4 1.5M73.1 891l-0.4 4.1-0.1 4.1 0.3 4 0.6 4 1 4 1.3 3.9 1.7 3.7 2 3.7 2.3 3.4 2.5 3.3 2.9 3 3.1 2.8 3.3 2.6 3.6 2.3 5.6 2.9 4 1.5M288.1 891l0.4 4.1 0.1 4.1-0.3 4-0.6 4-1 4-1.3 3.9-1.7 3.7-2 3.7-2.3 3.4-2.5 3.3-2.9 3-3.1 2.8-3.3 2.6-3.6 2.3-5.6 2.9-4 1.5M285.1 891l-0.4 4.1-0.1 4.1 0.3 4 0.6 4 1 4 1.3 3.9 1.7 3.7 2 3.7 2.3 3.4 2.5 3.3 2.9 3 3.1 2.8 3.3 2.6 3.6 2.3 5.6 2.9 4 1.5M500.1 891l0.4 4.1 0.1 4.1-0.3 4-0.6 4-1 4-1.3 3.9-1.7 3.7-2 3.7-2.3 3.4-2.5 3.3-2.9 3-3.1 2.8-3.3 2.6-3.6 2.3-5.6 2.9-4 1.5M497.1 891l-0.4 4.1-0.1 4.1 0.3 4 0.6 4 1 4 1.3 3.9 1.7 3.7 2 3.7 2.3 3.4 2.5 3.3 2.9 3 3.1 2.8 3.3 2.6 3.6 2.3 5.6 2.9 4 1.5" stroke="#808080" stroke-width="2.4" stroke-dasharray="12 4"/><path d="M110.6 931.4l12 1.8 7.3 0.7 6.2 0 13.5-0.9 6.7-0.1 8.9 0.4 15.4 1.1M250.6 931.4l-12 1.8-7.3 0.7-6.2 0-13.5-0.9-6.7-0.1-8.9 0.4-15.4 1.1M322.6 931.4l12 1.8 7.3 0.7 6.2 0 13.5-0.9 6.7-0.1 8.9 0.4 15.4 1.1M462.6 931.4l-12 1.8-7.3 0.7-6.2 0-13.5-0.9-6.7-0.1-8.9 0.4-15.4 1.1M116.6 933.5l8.7 2 4.7 0.5 6.3-0.1 12.6-0.7 7.5-0.2 7.3 0.3 16.9 1.2M244.6 933.5l-8.7 2-4.7 0.5-6.3-0.1-12.6-0.7-7.5-0.2-7.3 0.3-16.9 1.2M328.6 933.5l8.7 2 4.7 0.5 6.3-0.1 12.6-0.7 7.5-0.2 7.3 0.3 16.9 1.2M456.6 933.5l-8.7 2-4.7 0.5-6.3-0.1-12.6-0.7-7.5-0.2-7.3 0.3-16.9 1.2M122.6 935.6l3.9 1.9 3.5 0.6 4 0 16.9-0.9 5.6-0.1 8 0.4 16.1 1.1M238.6 935.6l-3.9 1.9-3.5 0.6-4 0-16.9-0.9-5.6-0.1-8 0.4-16.1 1.1M334.6 935.6l3.9 1.9 3.5 0.6 4 0 16.9-0.9 5.6-0.1 8 0.4 16.1 1.1M450.6 935.6l-3.9 1.9-3.5 0.6-4 0-16.9-0.9-5.6-0.1-8 0.4-16.1 1.1M128.6 937.7l0.1 0.3-0.6 1.5 0.9 0.5 1.1 0.2 4 0 16.1-0.9 6.4-0.1 9 0.4 15 1.1M232.6 937.7l-0.1 0.3 0.6 1.5-0.9 0.5-1.1 0.2-4 0-16.1-0.9-6.4-0.1-9 0.4-15 1.1M340.6 937.7l0.1 0.3-0.6 1.5 0.9 0.5 1.1 0.2 4 0 16.1-0.9 6.4-0.1 9 0.4 15 1.1M444.6 937.7l-0.1 0.3 0.6 1.5-0.9 0.5-1.1 0.2-4 0-16.1-0.9-6.4-0.1-9 0.4-15 1.1M180.6 931.9l-5 5M180.6 931.9l5 5M392.6 931.9l-5 5M392.6 931.9l5 5" stroke="#808080" stroke-width="2.4"/><path d="M179.1 795.2l3.4 0 12 1.8 4 1.1 5.6 2.2 6.4 3.3 4.8 3.2 4.8 4.2 4.5 5 3.8 5.6 2.6 4.8 2.2 5.6 1.6 5.6 1 5.6 0.6 5.6 0 7.2-0.8 9.6 0.5 0.8 4.8-7.1 7.3-8.9 4.7-4.4 4.8-3 4-1.3 1.6-0.1 2.4 0.5 2.2 1.1 1.8 1.4 1.6 1.9 1.3 2.3 1.7 5.6 0.3 6.4-1 5.6-3.8 12.8-4.8 12.8-4.9 9.7-1.6 3.9-0.7 2.4-0.6 5.6-3.9 12.8-1.2 1.9-2 2.1-5.2 3.3-3.2 1.2-3.2 0.8-9.6 1.7-7.2 0.9-12 0.1-10.4-1.1-3.2-1-1.7-1.1-1.5-1.7-3.2-5.3-4-4.5-3.2-3-2.4-0.6-1.6 0.8-3.3 3.1-4.1 4.8-3.5 5.6-2.7 2-3.2 0.9-5.6 0.8-7.2 0.4-6.4 0-10.4-1.1-9.6-1.7-4-1.1-3.2-1.4-3.2-2-2.6-2.4-1.6-2.4-4.1-13.6-0.4-4.8-0.7-2.4-1.6-4-4.2-8-2.4-5.7-3.4-9.5-3.7-12.8-0.8-4.8 0-4 0.9-4.8 1.5-4 1.5-2.3 1.6-1.6 1.6-1.1 2.4-1.1 1.6-0.3 2.4 0.2 4 1.5 4.8 3.2 4.8 4.6 7.2 9 4 6 0.7 0.3 0.1 1-1-16.2 0.4-5.6 1-6.4 1.6-6.4 1.8-4.8 2.8-5.6 3.1-4.8 3.2-4 4.7-4.6 4.8-3.7 5.6-3.4 6.4-2.9 4.8-1.5 4.8-1 9.4-1.3zM391.1 795.2l3.4 0 12 1.8 4 1.1 5.6 2.2 6.4 3.3 4.8 3.2 4.8 4.2 4.5 5 3.8 5.6 2.6 4.8 2.2 5.6 1.6 5.6 1 5.6 0.6 5.6 0 7.2-0.8 9.6 0.5 0.8 4.8-7.1 7.3-8.9 4.7-4.4 4.8-3 4-1.3 1.6-0.1 2.4 0.5 2.2 1.1 1.8 1.4 1.6 1.9 1.3 2.3 1.7 5.6 0.3 6.4-1 5.6-3.8 12.8-4.8 12.8-4.9 9.7-1.6 3.9-0.7 2.4-0.6 5.6-3.9 12.8-1.2 1.9-2 2.1-5.2 3.3-3.2 1.2-3.2 0.8-9.6 1.7-7.2 0.9-12 0.1-10.4-1.1-3.2-1-1.7-1.1-1.5-1.7-3.2-5.3-4-4.5-3.2-3-2.4-0.6-1.6 0.8-3.3 3.1-4.1 4.8-3.5 5.6-2.7 2-3.2 0.9-5.6 0.8-7.2 0.4-6.4 0-10.4-1.1-9.6-1.7-4-1.1-3.2-1.4-3.2-2-2.6-2.4-1.6-2.4-4.1-13.6-0.4-4.8-0.7-2.4-1.6-4-4.2-8-2.4-5.7-3.4-9.5-3.7-12.8-0.8-4.8 0-4 0.9-4.8 1.5-4 1.5-2.3 1.6-1.6 1.6-1.1 2.4-1.1 1.6-0.3 2.4 0.2 4 1.5 4.8 3.2 4.8 4.6 7.2 9 4 6 0.7 0.3 0.1 1-1-16.2 0.4-5.6 1-6.4 1.6-6.4 1.8-4.8 2.8-5.6 3.1-4.8 3.2-4 4.7-4.6 4.8-3.7 5.6-3.4 6.4-2.9 4.8-1.5 4.8-1 9.4-1.3zM180.1 827.1l-7.2 1-3.7 1.5-2.9 1.6-2.2 1.7-2.2 2.3-1.8 2.5-1.6 3-1.6 5.2-1.1 7.7-0.2 16.8 0.9 7.2-0.5 3.2 1.7 1.8 0.8 0.3 1.6-0.1 1.6-0.9 4-3.9 0.8-0.5 1.6-0.3 2.4 1.1 8 6.8 2.4 0.7 2.4-1.2 8-6.7 2.4-0.7 1.6 0.7 4.8 4.4 1.6 0.6 1.6-0.2 1.4-1.1 0.5-0.8-0.5-3.2 0.9-7.2 0-13.6-0.7-8-0.9-4-1.3-4-1.8-3.4-2.3-3-2.5-2.4-2.4-1.5-5.6-2.4-8-1zM392.1 827.1l-7.2 1-3.7 1.5-2.9 1.6-2.2 1.7-2.2 2.3-1.8 2.5-1.6 3-1.6 5.2-1.1 7.7-0.2 16.8 0.9 7.2-0.5 3.2 1.7 1.8 0.8 0.3 1.6-0.1 1.6-0.9 4-3.9 0.8-0.5 1.6-0.3 2.4 1.1 8 6.8 2.4 0.7 2.4-1.2 8-6.7 2.4-0.7 1.6 0.7 4.8 4.4 1.6 0.6 1.6-0.2 1.4-1.1 0.5-0.8-0.5-3.2 0.9-7.2 0-13.6-0.7-8-0.9-4-1.3-4-1.8-3.4-2.3-3-2.5-2.4-2.4-1.5-5.6-2.4-8-1z" stroke="#352a87" stroke-width="2.4"/>
<path d="M178.4 797.6l4.1 0 8.8 1.2 4.8 1 8 3 7.2 4.1 6.4 5 5.2 5.7 4.7 7.2 3.5 8 2.1 8.8 1 9.6-0.7 13.6-1.6 9.6-2.6 12.8-4.4 18.4-6.2 10.4-1.8 1.5-1.6 0.7-1.6 0.3-1.6-0.2-2.4-1.2-1.7-1.9-0.8-2.4-0.6-11.2 0.8-12 0.4-33.6-0.5-6.3-1.6-7.5-2.4-5.4-2.3-3.2-2.3-2.4-5-3.3-3.2-1.5-3-0.8-7.4-0.8-7.2 1-4.1 1.4-4.2 2.4-3 2.4-3.1 3.9-2.4 4.6-1.6 5.9-1 8 0.2 32 0.9 16-0.6 10.4-0.8 2.4-1.9 2.1-2.4 1-2.4 0.1-2.4-1-2.1-2.2-4.4-7.2-1.6-3.2-6.7-30.4-1.5-8.8-0.6-8-0.2-8 0.6-5.6 1.6-8 1.8-5.6 3-6.4 4.3-6.4 5-5.5 5.6-4.6 6.4-3.8 8-3.4 5.6-1.4 9.5-1.3zM390.4 797.6l4.1 0 8.8 1.2 4.8 1 8 3 7.2 4.1 6.4 5 5.2 5.7 4.7 7.2 3.5 8 2.1 8.8 1 9.6-0.7 13.6-1.6 9.6-2.6 12.8-4.4 18.4-6.2 10.4-1.8 1.5-1.6 0.7-1.6 0.3-1.6-0.2-2.4-1.2-1.7-1.9-0.8-2.4-0.6-11.2 0.8-12 0.4-33.6-0.5-6.3-1.6-7.5-2.4-5.4-2.3-3.2-2.3-2.4-5-3.3-3.2-1.5-3-0.8-7.4-0.8-7.2 1-4.1 1.4-4.2 2.4-3 2.4-3.1 3.9-2.4 4.6-1.6 5.9-1 8 0.2 32 0.9 16-0.6 10.4-0.8 2.4-1.9 2.1-2.4 1-2.4 0.1-2.4-1-2.1-2.2-4.4-7.2-1.6-3.2-6.7-30.4-1.5-8.8-0.6-8-0.2-8 0.6-5.6 1.6-8 1.8-5.6 3-6.4 4.3-6.4 5-5.5 5.6-4.6 6.4-3.8 8-3.4 5.6-1.4 9.5-1.3zM95.2 848.8l1.7-0.7 2.4 0.6 3.2 2.1 4 3.8 4 4.8 4.4 6.2 8 13.6 3.5 7.2 2.9 7.2 3.5 11.2 0.8 4.8 0 4-0.7 2.9-0.8 1.1-0.8 0.4-2.4-0.1-2.4-1.4-3.2-2.7-3.2-3.5-7.6-10.3-7.4-12.8-6.2-13.6-3.7-11.2-1.1-4.8-0.3-4 0.4-3.2 1-1.6zM261.7 848.8l2.4-0.7 1.9 0.7 1.2 2.4 0.1 4-0.9 5.6-1.8 6.4-2.6 7.2-3.2 7.2-7.2 13.6-4.5 7.2-4.6 6.2-4 4.6-3.2 2.9-3.2 1.8-2.4 0-1.2-1.1-0.8-2.4-0.2-3.2 0.5-4 2.7-10.4 4.9-12 6.2-12 7.1-11 7.2-8.6 3.2-2.9 2.4-1.5zM307.2 848.8l1.7-0.7 2.4 0.6 3.2 2.1 4 3.8 4 4.8 4.4 6.2 8 13.6 3.5 7.2 2.9 7.2 3.5 11.2 0.8 4.8 0 4-0.7 2.9-0.8 1.1-0.8 0.4-2.4-0.1-2.4-1.4-3.2-2.7-3.2-3.5-7.6-10.3-7.4-12.8-6.2-13.6-3.7-11.2-1.1-4.8-0.3-4 0.4-3.2 1-1.6zM473.7 848.8l2.4-0.7 1.9 0.7 1.2 2.4 0.1 4-0.9 5.6-1.8 6.4-2.6 7.2-3.2 7.2-7.2 13.6-4.5 7.2-4.6 6.2-4 4.6-3.2 2.9-3.2 1.8-2.4 0-1.2-1.1-0.8-2.4-0.2-3.2 0.5-4 2.7-10.4 4.9-12 6.2-12 7.1-11 7.2-8.6 3.2-2.9 2.4-1.5zM157.4 886.4l1.1-0.3 1.2 0.3 6 4.2 3.2 3.4 3.4 6 2.9 6.4 0.7 4 0.1 8-0.7 1.2-0.8 0.6-1.6 0.2-1.5-1.2-2.3-7.2-3.1-7.2-4.8-8.8-4.6-7.2 0.1-1.6 0.7-0.8zM201.5 886.4l1.8-0.2 0.8 0.4 0.6 1.4-0.2 0.8-4.5 7.2-4.8 8.8-3.1 7.2-2.3 7.2-0.7 0.8-1 0.4-1.6-0.3-1.3-1.7 0-7.2 0.8-4.8 1.7-4 2.9-5.6 2.3-3.6 3.2-3.1 5.4-3.7zM369.4 886.4l1.1-0.3 1.2 0.3 6 4.2 3.2 3.4 3.4 6 2.9 6.4 0.7 4 0.1 8-0.7 1.2-0.8 0.6-1.6 0.2-1.5-1.2-2.3-7.2-3.1-7.2-4.8-8.8-4.6-7.2 0.1-1.6 0.7-0.8zM413.5 886.4l1.8-0.2 0.8 0.4 0.6 1.4-0.2 0.8-4.5 7.2-4.8 8.8-3.1 7.2-2.3 7.2-0.7 0.8-1 0.4-1.6-0.3-1.3-1.7 0-7.2 0.8-4.8 1.7-4 2.9-5.6 2.3-3.6 3.2-3.1 5.4-3.7zM105.9 909.6l0.6-0.6 1.6 0.1 6.8 6.9 4.4 3.4 1.6 1.1 5.6 1.5 2.4 1.5 2.4 2.1 7.2 1.6 6.4 0.1 3.2-0.5 10.4-3.4 1.6 0.4 1.3 1 0.7 1.6-0.1 1.6-1 1.6-0.9 0.6-8.2 4.2-5.4 1.6-4 0.3-6-0.3-6-0.9-5.6-1.5-3.9-1.6-4.1-2.3-4.5-3.3-1.9-1.9-2.2-3.7-1.8-5.1-0.9-3.7 0.3-2.4zM252.4 909.6l1.3-0.7 0.8 0 0.8 0.7 0.3 2.4-1.9 6.8-2.4 4.9-2.4 2.6-4 3-4.7 2.7-3.9 1.6-5.8 1.5-5.6 0.9-6.4 0.3-4-0.3-5.2-1.6-8.4-4.3-0.8-0.6-0.9-1.5-0.1-1.6 0.7-1.6 1.1-0.9 1.6-0.5 10.4 3.3 3.2 0.6 6.4-0.1 7.2-1.6 0.8-0.3 1.2-1.3 2.8-1.9 2.4-0.9 3.2-0.6 1-0.6 5.2-4 6.1-6.4zM317.9 909.6l0.6-0.6 1.6 0.1 6.8 6.9 4.4 3.4 1.6 1.1 5.6 1.5 2.4 1.5 2.4 2.1 7.2 1.6 6.4 0.1 3.2-0.5 10.4-3.4 1.6 0.4 1.3 1 0.7 1.6-0.1 1.6-1 1.6-0.9 0.6-8.2 4.2-5.4 1.6-4 0.3-6-0.3-6-0.9-5.6-1.5-3.9-1.6-4.1-2.3-4.5-3.3-1.9-1.9-2.2-3.7-1.8-5.1-0.9-3.7 0.3-2.4zM464.4 909.6l1.3-0.7 0.8 0 0.8 0.7 0.3 2.4-1.9 6.8-2.4 4.9-2.4 2.6-4 3-4.7 2.7-3.9 1.6-5.8 1.5-5.6 0.9-6.4 0.3-4-0.3-5.2-1.6-8.4-4.3-0.8-0.6-0.9-1.5-0.1-1.6 0.7-1.6 1.1-0.9 1.6-0.5 10.4 3.3 3.2 0.6 6.4-0.1 7.2-1.6 0.8-0.3 1.2-1.3 2.8-1.9 2.4-0.9 3.2-0.6 1-0.6 5.2-4 6.1-6.4z" stroke="#0f5cdd" stroke-width="2.4"/>
<path d="M178 799.2l3.7-0.2 9.6 1.3 4.8 1.1 7.2 2.7 7.2 4.1 6.4 5 5.3 6 4.6 7.2 3.2 8 2 8.8 0.7 8-0.7 13.6-1.1 7.2-6.9 32.8-6 10.4-1.1 1.1-1.6 0.9-2.4 0.2-2.4-0.9-1.6-1.8-0.7-1.9-0.5-11.2 1.2-16 0.4-29.6-0.4-5.6-1.6-8.1-1.1-3.1-1.6-3.2-2.1-3-2.4-2.6-3.1-2.4-2.8-1.6-3.7-1.6-3.2-0.8-7.2-0.7-6.4 0.8-3.2 0.8-4.8 2.2-3.2 2.1-2.9 2.8-2.7 3.6-1.9 3.6-1.3 3.8-1 5-0.7 5.6 0.3 31.2 0.2 6.4 1 10.4-0.7 12-1.5 2.4-1.6 1-2.4 0.4-2.4-0.7-1.7-1.5-6-10.4-6.9-32.8-1-6.4-0.6-7.2-0.2-6.4 0.3-5.6 1.4-8 2.1-7.2 3.5-7.2 3.8-5.6 4.5-5 5.6-4.6 6.4-3.8 7.2-3.1 5.6-1.4 9.1-1.3zM390 799.2l3.7-0.2 9.6 1.3 4.8 1.1 7.2 2.7 7.2 4.1 6.4 5 5.3 6 4.6 7.2 3.2 8 2 8.8 0.7 8-0.7 13.6-1.1 7.2-6.9 32.8-6 10.4-1.1 1.1-1.6 0.9-2.4 0.2-2.4-0.9-1.6-1.8-0.7-1.9-0.5-11.2 1.2-16 0.4-29.6-0.4-5.6-1.6-8.1-1.1-3.1-1.6-3.2-2.1-3-2.4-2.6-3.1-2.4-2.8-1.6-3.7-1.6-3.2-0.8-7.2-0.7-6.4 0.8-3.2 0.8-4.8 2.2-3.2 2.1-2.9 2.8-2.7 3.6-1.9 3.6-1.3 3.8-1 5-0.7 5.6 0.3 31.2 0.2 6.4 1 10.4-0.7 12-1.5 2.4-1.6 1-2.4 0.4-2.4-0.7-1.7-1.5-6-10.4-6.9-32.8-1-6.4-0.6-7.2-0.2-6.4 0.3-5.6 1.4-8 2.1-7.2 3.5-7.2 3.8-5.6 4.5-5 5.6-4.6 6.4-3.8 7.2-3.1 5.6-1.4 9.1-1.3zM99.4 856.8l1.5-0.6 1.6 0.5 2.4 1.5 3.2 3 6.4 8.3 6.2 10.5 5.4 12 2.9 9.6 0.8 4.8 0 3.2-0.8 2.4-0.9 0.7-1.6-0.1-2.4-1.3-4.8-4.7-6-8.2-5.5-9.6-4.9-10.4-3.3-9.6-1-4.8-0.3-3.2 0.2-2.4 0.9-1.6zM258.4 856.8l1.7-0.5 1.7 0.5 0.9 1.6 0.2 3.2-0.5 4-1.3 4.8-4.6 12-6.2 12-7 10.4-3.2 3.8-3.2 2.9-2.4 1.2-1.6-0.1-0.8-0.7-0.7-2.3 0-3.2 0.5-3.2 2.4-8.8 3.9-9.6 5-9.6 5.7-8.9 4.8-5.7 2.4-2.3 2.3-1.5zM311.4 856.8l1.5-0.6 1.6 0.5 2.4 1.5 3.2 3 6.4 8.3 6.2 10.5 5.4 12 2.9 9.6 0.8 4.8 0 3.2-0.8 2.4-0.9 0.7-1.6-0.1-2.4-1.3-4.8-4.7-6-8.2-5.5-9.6-4.9-10.4-3.3-9.6-1-4.8-0.3-3.2 0.2-2.4 0.9-1.6zM470.4 856.8l1.7-0.5 1.7 0.5 0.9 1.6 0.2 3.2-0.5 4-1.3 4.8-4.6 12-6.2 12-7 10.4-3.2 3.8-3.2 2.9-2.4 1.2-1.6-0.1-0.8-0.7-0.7-2.3 0-3.2 0.5-3.2 2.4-8.8 3.9-9.6 5-9.6 5.7-8.9 4.8-5.7 2.4-2.3 2.3-1.5zM165.2 896l0.5-0.6 0.7 0.6 1.7 2.9 3.2 6.5 0.8 2.2 0 1.4-0.8-0.3-2-4.7-4.1-8zM194.9 896l1.2-0.6-0.3 1.4-4 7.2-1.3 3.6-0.8 1.3-0.4-0.1-0.2-0.8 1.4-4 4.4-8zM377.2 896l0.5-0.6 0.7 0.6 1.7 2.9 3.2 6.5 0.8 2.2 0 1.4-0.8-0.3-2-4.7-4.1-8zM406.9 896l1.2-0.6-0.3 1.4-4 7.2-1.3 3.6-0.8 1.3-0.4-0.1-0.2-0.8 1.4-4 4.4-8zM113.6 921.6l0.1-0.3 0.8-0.2 0.8 0.4 3.2 2.1 0.8-1.2 1.6-0.7 2.4 0.2 2.4 0.7 2.3 1.4 1.3 1.6 0 0.8-1.2 1.5-0.5 0.1 4.5 1.4 8 1.3 10.4-0.6 0.9 0.3-2.5 1.6-4.8 1.5-5.6 0-5.6-0.8-5.6-1.5-4.9-2.4-3.8-2.4-4-3.2-1-1.6zM245.6 921.6l1.7-0.6 0.3 0.6-0.2 0.8-4.8 4-6.8 4-4.5 1.6-3.3 0.8-5.5 0.7-5.6 0-4.7-1.5-2.2-1.6 1.3-0.3 9.6 0.6 8.8-1.4 3.9-1.3-0.7-0.3-0.8-1-0.2-1.1 1.3-1.6 2.1-1.3 2.4-0.8 2.4-0.2 1.9 0.7 0.5 1.3 3.1-2.1zM325.6 921.6l0.1-0.3 0.8-0.2 0.8 0.4 3.2 2.1 0.8-1.2 1.6-0.7 2.4 0.2 2.4 0.7 2.3 1.4 1.3 1.6 0 0.8-1.2 1.5-0.5 0.1 4.5 1.4 8 1.3 10.4-0.6 0.9 0.3-2.5 1.6-4.8 1.5-5.6 0-5.6-0.8-5.6-1.5-4.9-2.4-3.8-2.4-4-3.2-1-1.6zM457.6 921.6l1.7-0.6 0.3 0.6-0.2 0.8-4.8 4-6.8 4-4.5 1.6-3.3 0.8-5.5 0.7-5.6 0-4.7-1.5-2.2-1.6 1.3-0.3 9.6 0.6 8.8-1.4 3.9-1.3-0.7-0.3-0.8-1-0.2-1.1 1.3-1.6 2.1-1.3 2.4-0.8 2.4-0.2 1.9 0.7 0.5 1.3 3.1-2.1z" stroke="#127dd8" stroke-width="2.4"/>
<path d="M175.5 800.8l6.2-0.6 12 1.8 7.2 2.4 8 4.2 6.4 4.9 5.3 5.7 4.7 7.2 3.1 7.2 1.9 7.2 1.1 8-0.1 8.8-1 11.2-7 35.2-1.5 3.2-4.4 7.2-2.1 1.8-2.4 0.2-1.6-0.5-1.5-1.5-0.6-1.6-0.6-11.2 1.2-10.4 0.2-5.6 0.5-29.6-0.5-6.4-1.6-8-1.2-3.2-2.2-4-2.4-3.2-2.4-2.4-3.3-2.3-3.2-1.7-3.2-1.3-3.2-0.7-7.2-0.8-7.2 0.9-3.2 0.9-4.8 2.3-3.9 2.7-2.5 2.5-2.8 3.9-2 3.9-1.3 4.1-1.1 5.6-0.5 4.8 0.4 31.2 0.2 6.4 1.2 10.4-0.6 11.2-0.7 1.8-1.6 1.4-2.4 0.5-1.8-0.5-1.7-1.6-5.6-9.6-6.6-32-1.1-7.2-0.6-7.2-0.2-6.4 0.3-5.6 1.2-7.2 2.1-7.2 3-6.4 3.7-5.6 4.9-5.6 4.8-4 5.6-3.6 7.2-3.2 5.6-1.7 7.4-1.1zM387.5 800.8l6.2-0.6 12 1.8 7.2 2.4 8 4.2 6.4 4.9 5.3 5.7 4.7 7.2 3.1 7.2 1.9 7.2 1.1 8-0.1 8.8-1 11.2-7 35.2-1.5 3.2-4.4 7.2-2.1 1.8-2.4 0.2-1.6-0.5-1.5-1.5-0.6-1.6-0.6-11.2 1.2-10.4 0.2-5.6 0.5-29.6-0.5-6.4-1.6-8-1.2-3.2-2.2-4-2.4-3.2-2.4-2.4-3.3-2.3-3.2-1.7-3.2-1.3-3.2-0.7-7.2-0.8-7.2 0.9-3.2 0.9-4.8 2.3-3.9 2.7-2.5 2.5-2.8 3.9-2 3.9-1.3 4.1-1.1 5.6-0.5 4.8 0.4 31.2 0.2 6.4 1.2 10.4-0.6 11.2-0.7 1.8-1.6 1.4-2.4 0.5-1.8-0.5-1.7-1.6-5.6-9.6-6.6-32-1.1-7.2-0.6-7.2-0.2-6.4 0.3-5.6 1.2-7.2 2.1-7.2 3-6.4 3.7-5.6 4.9-5.6 4.8-4 5.6-3.6 7.2-3.2 5.6-1.7 7.4-1.1zM102.6 863.2l1.5-0.3 1.6 0.6 4 3.5 5 6.6 5.1 8.8 3.9 8.8 2.6 8 1 6.4-0.5 2.4-0.8 0.8-1.1 0.1-1.6-0.7-2.4-2-2.4-2.6-5.4-7.6-4.5-8-3.9-8.8-2.3-7.2-0.8-5.6 0.1-1.6 0.9-1.6zM256.1 863.2l1.6-0.4 0.8 0.3 0.7 0.9 0.4 1.6-0.1 2.4-1.6 7.2-3.8 9.6-5.5 10.4-5.3 7.7-4.8 4.9-1.6 0.9-1.6 0.2-0.9-0.9-0.4-1.6 0.3-4.8 2-7.2 3.2-8 4.1-8 4.5-7.1 4-4.9 4-3.2zM314.6 863.2l1.5-0.3 1.6 0.6 4 3.5 5 6.6 5.1 8.8 3.9 8.8 2.6 8 1 6.4-0.5 2.4-0.8 0.8-1.1 0.1-1.6-0.7-2.4-2-2.4-2.6-5.4-7.6-4.5-8-3.9-8.8-2.3-7.2-0.8-5.6 0.1-1.6 0.9-1.6zM468.1 863.2l1.6-0.4 0.8 0.3 0.7 0.9 0.4 1.6-0.1 2.4-1.6 7.2-3.8 9.6-5.5 10.4-5.3 7.7-4.8 4.9-1.6 0.9-1.6 0.2-0.9-0.9-0.4-1.6 0.3-4.8 2-7.2 3.2-8 4.1-8 4.5-7.1 4-4.9 4-3.2zM120.8 923.2l1.7-0.6 2.4 0.5 1.7 0.9 1.1 1.6-0.4 0.7-0.8 0.3-2.4-0.3-2.8-1.5-0.6-0.8 0.1-0.8zM236.1 923.2l3.2-0.5 1.1 0.5 0 0.8-0.5 0.8-2.2 1.3-1.6 0.4-1.6 0-1-0.9 0.3-0.8 2.3-1.6zM332.8 923.2l1.7-0.6 2.4 0.5 1.7 0.9 1.1 1.6-0.4 0.7-0.8 0.3-2.4-0.3-2.8-1.5-0.6-0.8 0.1-0.8zM448.1 923.2l3.2-0.5 1.1 0.5 0 0.8-0.5 0.8-2.2 1.3-1.6 0.4-1.6 0-1-0.9 0.3-0.8 2.3-1.6z" stroke="#079ccf" stroke-width="2.4"/>
<path d="M177.9 801.6l3.8-0.3 12.8 2.1 7.2 2.6 7.2 4 5.8 4.4 5.1 5.6 4.3 6.4 3.2 7.2 1.7 6.4 1.3 8.8 0 8.8-1.1 11.2-6.8 35.2-2.1 4-3.4 5.4-0.8 1.1-1.6 0.9-1.6 0-1.8-1-0.9-1.6-0.2-2.4-0.5-8.8 1.3-10.4 0.2-5.6 0.6-29.6-0.5-6.4-1.6-8-1.4-3.9-1.7-3.3-2.3-3.2-3.1-3.2-3.3-2.4-3.2-1.7-4-1.6-3.2-0.7-7.2-0.7-7.2 0.9-4 1.1-4.8 2.4-3.9 2.7-3.1 3.2-2.7 4-1.6 3.2-1.5 4.5-1 5.1-0.6 5.6 0.4 31.2 0.3 6.4 1.3 10.4-0.7 11.2-0.9 1.6-1.2 0.9-1.6 0.2-1.6-0.6-0.8-0.7-2.4-3.6-3.7-6.6-6.5-33.6-1.3-12-0.2-6.4 0.3-5.6 1.3-7.2 2.1-7.2 3.1-6.4 3.8-5.6 4.3-4.8 5.6-4.6 6.4-3.7 6.4-2.7 5.6-1.4 8.2-1.2zM389.9 801.6l3.8-0.3 12.8 2.1 7.2 2.6 7.2 4 5.8 4.4 5.1 5.6 4.3 6.4 3.2 7.2 1.7 6.4 1.3 8.8 0 8.8-1.1 11.2-6.8 35.2-2.1 4-3.4 5.4-0.8 1.1-1.6 0.9-1.6 0-1.8-1-0.9-1.6-0.2-2.4-0.5-8.8 1.3-10.4 0.2-5.6 0.6-29.6-0.5-6.4-1.6-8-1.4-3.9-1.7-3.3-2.3-3.2-3.1-3.2-3.3-2.4-3.2-1.7-4-1.6-3.2-0.7-7.2-0.7-7.2 0.9-4 1.1-4.8 2.4-3.9 2.7-3.1 3.2-2.7 4-1.6 3.2-1.5 4.5-1 5.1-0.6 5.6 0.4 31.2 0.3 6.4 1.3 10.4-0.7 11.2-0.9 1.6-1.2 0.9-1.6 0.2-1.6-0.6-0.8-0.7-2.4-3.6-3.7-6.6-6.5-33.6-1.3-12-0.2-6.4 0.3-5.6 1.3-7.2 2.1-7.2 3.1-6.4 3.8-5.6 4.3-4.8 5.6-4.6 6.4-3.7 6.4-2.7 5.6-1.4 8.2-1.2zM104.6 868.8l1.1-0.7 0.8 0.1 1.6 0.9 2.4 2.2 4.2 5.5 4.2 7.2 3.3 7.2 2.4 7.2 0.6 4.8-0.3 1.7-0.8 0.8-0.8 0-1.6-0.7-3.2-3.1-3.8-5.1-3.8-6.4-3.1-6.4-2.6-7.2-1-4.8 0-1.6 0.4-1.6zM253.5 868.8l1.8-0.7 0.8 0.2 0.8 1.3 0.1 1.6-1 5.6-2.9 8-4.6 8.8-4.4 6.6-4 4.3-1.6 1-1.6 0.1-0.9-1.6 0.3-4 1.5-5.6 2.6-6.4 3.2-6.4 3.7-6 3.2-4.1 3-2.7zM316.6 868.8l1.1-0.7 0.8 0.1 1.6 0.9 2.4 2.2 4.2 5.5 4.2 7.2 3.3 7.2 2.4 7.2 0.6 4.8-0.3 1.7-0.8 0.8-0.8 0-1.6-0.7-3.2-3.1-3.8-5.1-3.8-6.4-3.1-6.4-2.6-7.2-1-4.8 0-1.6 0.4-1.6zM465.5 868.8l1.8-0.7 0.8 0.2 0.8 1.3 0.1 1.6-1 5.6-2.9 8-4.6 8.8-4.4 6.6-4 4.3-1.6 1-1.6 0.1-0.9-1.6 0.3-4 1.5-5.6 2.6-6.4 3.2-6.4 3.7-6 3.2-4.1 3-2.7zM123 924l1.3 0 1.1 0.8-0.5 0.4-0.8-0.1-0.8-0.3-0.3-0.8zM236.9 924l1.2 0-0.2 0.8-1.8 0.3-0.3-0.3 1.1-0.8zM335 924l1.3 0 1.1 0.8-0.5 0.4-0.8-0.1-0.8-0.3-0.3-0.8zM448.9 924l1.2 0-0.2 0.8-1.8 0.3-0.3-0.3 1.1-0.8z" stroke="#15b1b4" stroke-width="2.4"/>
<path d="M179.8 802.4l10.7 1.3 5.6 1.3 7.2 3 6.4 3.8 5.6 4.7 4.8 5.7 4 6.6 2.5 6.4 1.8 7.2 0.9 7.2-0.1 8.8-1.1 10.4-4.7 24-1.9 11.2-3.8 6.3-1.6 2.2-1.6 1.4-0.8 0.2-1.5-0.5-0.8-1.6-1.1-9.6 1.6-12.8 0.6-15.2 0.1-17.6-0.4-7.2-1.8-8.8-1.5-4-1.8-3.2-2.3-3.2-3.1-3.2-3.2-2.4-4-2.1-3.2-1.3-4-0.9-7.2-0.7-8 1-4 1.3-4.8 2.4-3.8 2.7-3.1 3.2-2.8 4-2 4-1.3 4-1.1 5.6-0.6 5.6 0.5 32 0.3 5.6 1.5 10.4-0.9 9.6-0.3 1.2-0.8 1.3-1.6 0.3-0.8-0.2-3.2-3.7-3.6-6.1-1.9-11.2-4.6-23.2-1.2-11.2-0.1-7.2 0.4-5.6 1.4-7.2 2-6.4 2.8-5.8 4-5.8 4.8-5.2 5.1-4 6.1-3.5 6.4-2.6 4.8-1.2 10.1-1.5zM391.8 802.4l10.7 1.3 5.6 1.3 7.2 3 6.4 3.8 5.6 4.7 4.8 5.7 4 6.6 2.5 6.4 1.8 7.2 0.9 7.2-0.1 8.8-1.1 10.4-4.7 24-1.9 11.2-3.8 6.3-1.6 2.2-1.6 1.4-0.8 0.2-1.5-0.5-0.8-1.6-1.1-9.6 1.6-12.8 0.6-15.2 0.1-17.6-0.4-7.2-1.8-8.8-1.5-4-1.8-3.2-2.3-3.2-3.1-3.2-3.2-2.4-4-2.1-3.2-1.3-4-0.9-7.2-0.7-8 1-4 1.3-4.8 2.4-3.8 2.7-3.1 3.2-2.8 4-2 4-1.3 4-1.1 5.6-0.6 5.6 0.5 32 0.3 5.6 1.5 10.4-0.9 9.6-0.3 1.2-0.8 1.3-1.6 0.3-0.8-0.2-3.2-3.7-3.6-6.1-1.9-11.2-4.6-23.2-1.2-11.2-0.1-7.2 0.4-5.6 1.4-7.2 2-6.4 2.8-5.8 4-5.8 4.8-5.2 5.1-4 6.1-3.5 6.4-2.6 4.8-1.2 10.1-1.5zM106.8 872.8l0.5-0.3 1.6 0.4 2.4 2 3.2 4.1 3.5 5.8 2.6 5.6 2.2 6.4 0.6 4-0.1 1.1-0.8 1-1.6-0.4-3.2-3-3.2-4.4-3.2-5.5-2.6-5.6-1.6-4.8-0.8-4 0.1-1.6 0.4-0.8zM252.5 872.8l1.2-0.4 0.8 0.5 0.4 1.5-0.1 1.6-1.1 4.8-2.6 6.4-3.5 6.4-3.5 5.1-3.2 3.3-1.6 0.9-0.8-0.1-0.7-1.2 0.2-3.2 1.1-4 2.2-5.6 2.8-5.6 3.2-5 3.2-3.9 2-1.5zM318.8 872.8l0.5-0.3 1.6 0.4 2.4 2 3.2 4.1 3.5 5.8 2.6 5.6 2.2 6.4 0.6 4-0.1 1.1-0.8 1-1.6-0.4-3.2-3-3.2-4.4-3.2-5.5-2.6-5.6-1.6-4.8-0.8-4 0.1-1.6 0.4-0.8zM464.5 872.8l1.2-0.4 0.8 0.5 0.4 1.5-0.1 1.6-1.1 4.8-2.6 6.4-3.5 6.4-3.5 5.1-3.2 3.3-1.6 0.9-0.8-0.1-0.7-1.2 0.2-3.2 1.1-4 2.2-5.6 2.8-5.6 3.2-5 3.2-3.9 2-1.5z" stroke="#59bd8c" stroke-width="2.4"/>
<path d="M176.6 804l4.3-0.5 12 1.8 7.2 2.5 6.6 3.4 5.5 4 5.5 5.7 4 5.8 3.2 6.9 2 7.2 1.2 7.4 0.1 7-0.7 10.4-5.4 27.2-1.3 10.4-2.3 4.1-1.6 2-1.6 1.3-1.6 0.2-1.1-1.2-0.6-1.6-0.8-5.6 1.9-12.8 0.4-9.6 0.2-24-0.2-4.8-0.7-4.8-2-8-1.9-4-2.6-4-3-3.3-3.2-2.6-4-2.3-4.8-2-10.4-1.5-10.4 1.3-4 1.5-4 2.1-3.2 2.3-3.2 3.1-2.9 3.8-2.1 4-1.5 4-1 4-1.1 9.6 0.2 26.4 0.5 10.4 1.7 10.4-0.3 4-1 4-0.5 0.8-0.8 0.5-0.8 0-2.4-1.8-3.4-5.1-0.9-4-0.7-7.2-4.6-22.4-1.3-11.2-0.3-7.2 0.4-5.6 1.2-6.7 1.6-5.6 2.4-5.6 3.9-6.1 4.1-4.9 4.8-4.1 6-3.8 6.8-3.1 4.8-1.3 7.7-1.2zM388.6 804l4.3-0.5 12 1.8 7.2 2.5 6.6 3.4 5.5 4 5.5 5.7 4 5.8 3.2 6.9 2 7.2 1.2 7.4 0.1 7-0.7 10.4-5.4 27.2-1.3 10.4-2.3 4.1-1.6 2-1.6 1.3-1.6 0.2-1.1-1.2-0.6-1.6-0.8-5.6 1.9-12.8 0.4-9.6 0.2-24-0.2-4.8-0.7-4.8-2-8-1.9-4-2.6-4-3-3.3-3.2-2.6-4-2.3-4.8-2-10.4-1.5-10.4 1.3-4 1.5-4 2.1-3.2 2.3-3.2 3.1-2.9 3.8-2.1 4-1.5 4-1 4-1.1 9.6 0.2 26.4 0.5 10.4 1.7 10.4-0.3 4-1 4-0.5 0.8-0.8 0.5-0.8 0-2.4-1.8-3.4-5.1-0.9-4-0.7-7.2-4.6-22.4-1.3-11.2-0.3-7.2 0.4-5.6 1.2-6.7 1.6-5.6 2.4-5.6 3.9-6.1 4.1-4.9 4.8-4.1 6-3.8 6.8-3.1 4.8-1.3 7.7-1.2zM108.5 876.8l0.4-0.5 0.8 0 2.4 1.9 2.4 3 2.7 4.4 2.3 4.8 1.7 4.8 0.5 3.2-0.1 0.8-0.7 0.9-1.6-0.7-2.4-2.4-4.7-7.4-3.3-8-0.6-3.2 0.2-1.6zM250.6 876.8l1.5-0.5 0.6 0.5 0.2 1.6-0.8 3.9-1.6 4.2-2.4 4.8-3.2 4.9-3.2 3.4-1.6 0.4-0.6-1.6 0.3-2.4 2.6-7.2 4.1-7.3 2.4-3.1 1.7-1.6zM320.5 876.8l0.4-0.5 0.8 0 2.4 1.9 2.4 3 2.7 4.4 2.3 4.8 1.7 4.8 0.5 3.2-0.1 0.8-0.7 0.9-1.6-0.7-2.4-2.4-4.7-7.4-3.3-8-0.6-3.2 0.2-1.6zM462.6 876.8l1.5-0.5 0.6 0.5 0.2 1.6-0.8 3.9-1.6 4.2-2.4 4.8-3.2 4.9-3.2 3.4-1.6 0.4-0.6-1.6 0.3-2.4 2.6-7.2 4.1-7.3 2.4-3.1 1.7-1.6z" stroke="#a5be6b" stroke-width="2.4"/>
<path d="M179.4 804.8l2.3 0 7.2 1 6.2 1.4 6 2.4 7 4 4.9 4 4.9 5.6 3.8 6.1 2.4 5.7 1.6 5.8 1.2 7.2 0.1 7.2-0.6 8.8-1.5 8.9-4.4 19.1-0.2 6.4-0.6 4.8-2 2.9-1.6 1.2-1.6 0-0.8-0.6-0.8-1.8-0.6-2.5 2.5-11.2 0.3-11.2-0.2-24-0.8-9.6-1-4.8-1.3-4-2.4-4.8-2.8-4-3.3-3.4-3.2-2.4-4.8-2.6-4-1.5-10.4-1.5-11.2 1.5-4 1.6-4 2.1-4 2.9-3.1 3.3-2.8 4-1.7 3.2-1.5 4-1 4-1 6.4-0.3 4.8-0.2 24.8 0.4 11.2 2.4 11.2-0.8 3.1-0.8 1.4-0.8 0.5-0.8 0.1-1.6-0.8-1.6-1.8-1-1.7-0.6-4.8-0.2-6.4-5.4-24.3-0.9-9.3-0.2-6.4 0.3-5.4 1.2-6.6 2-6.7 2.5-5.3 3.7-5.6 4.2-4.7 5.1-4.1 5.3-3.2 7.2-3.1 4.8-1.2 8.9-1.3zM391.4 804.8l2.3 0 7.2 1 6.2 1.4 6 2.4 7 4 4.9 4 4.9 5.6 3.8 6.1 2.4 5.7 1.6 5.8 1.2 7.2 0.1 7.2-0.6 8.8-1.5 8.9-4.4 19.1-0.2 6.4-0.6 4.8-2 2.9-1.6 1.2-1.6 0-0.8-0.6-0.8-1.8-0.6-2.5 2.5-11.2 0.3-11.2-0.2-24-0.8-9.6-1-4.8-1.3-4-2.4-4.8-2.8-4-3.3-3.4-3.2-2.4-4.8-2.6-4-1.5-10.4-1.5-11.2 1.5-4 1.6-4 2.1-4 2.9-3.1 3.3-2.8 4-1.7 3.2-1.5 4-1 4-1 6.4-0.3 4.8-0.2 24.8 0.4 11.2 2.4 11.2-0.8 3.1-0.8 1.4-0.8 0.5-0.8 0.1-1.6-0.8-1.6-1.8-1-1.7-0.6-4.8-0.2-6.4-5.4-24.3-0.9-9.3-0.2-6.4 0.3-5.4 1.2-6.6 2-6.7 2.5-5.3 3.7-5.6 4.2-4.7 5.1-4.1 5.3-3.2 7.2-3.1 4.8-1.2 8.9-1.3zM110.4 880.8l0.1-0.5 0.8-0.2 1.6 1.2 1.6 2 2.4 3.9 2.6 6.4 0.3 2.4-0.5 0.9-0.8-0.2-1.6-1.4-3.2-4.7-2.4-5.1-0.8-2.6-0.1-2.1zM248.8 880.8l0.9-0.6 0.8-0.1 0.4 1.5-0.5 2.4-1.5 3.9-4 6.7-1.6 1.7-0.8 0.5-0.8 0-0.3-0.8 0.3-2.4 1.6-4.4 2.4-4.4 3.1-4zM322.4 880.8l0.1-0.5 0.8-0.2 1.6 1.2 1.6 2 2.4 3.9 2.6 6.4 0.3 2.4-0.5 0.9-0.8-0.2-1.6-1.4-3.2-4.7-2.4-5.1-0.8-2.6-0.1-2.1zM460.8 880.8l0.9-0.6 0.8-0.1 0.4 1.5-0.5 2.4-1.5 3.9-4 6.7-1.6 1.7-0.8 0.5-0.8 0-0.3-0.8 0.3-2.4 1.6-4.4 2.4-4.4 3.1-4z" stroke="#e1b952" stroke-width="2.4"/>
<path d="M179.2 806.4l1.7-0.2 11.2 1.9 4.9 1.5 6.7 3.2 4.9 3.2 4.3 3.8 4 4.8 3.2 5 2.4 5.5 1.6 5.6 1.2 6.5 0.2 4.8-0.6 12-0.8 4-2.4 8.2-1.6 2.3-0.8 0.3-0.8-0.3-0.8-1.6-0.5-2.5-0.8-9.6-0.1-12.8-1.3-8.8-1.8-6.4-2.9-5.6-2.9-4-2.5-2.6-3.2-2.5-4-2.4-6.4-2.5-10.4-1.3-10.4 1.2-3.2 0.9-3.2 1.4-4 2.3-3.2 2.4-3.2 3.2-2.8 3.9-3.2 6.4-2.1 8.8-0.8 7.2 0 11.2-0.7 8.9-0.6 3.1-1 1.8-0.8 0.2-0.8-0.4-0.8-1-1.6-4-2.1-8.6-0.7-13.6 0.4-5.2 1.6-7.6 1.6-4.9 2.4-4.9 2.4-3.8 4-4.8 3.5-3.2 4.6-3.2 4.4-2.4 5.9-2.4 4-1 8.7-1.4zM391.2 806.4l1.7-0.2 11.2 1.9 4.9 1.5 6.7 3.2 4.9 3.2 4.3 3.8 4 4.8 3.2 5 2.4 5.5 1.6 5.6 1.2 6.5 0.2 4.8-0.6 12-0.8 4-2.4 8.2-1.6 2.3-0.8 0.3-0.8-0.3-0.8-1.6-0.5-2.5-0.8-9.6-0.1-12.8-1.3-8.8-1.8-6.4-2.9-5.6-2.9-4-2.5-2.6-3.2-2.5-4-2.4-6.4-2.5-10.4-1.3-10.4 1.2-3.2 0.9-3.2 1.4-4 2.3-3.2 2.4-3.2 3.2-2.8 3.9-3.2 6.4-2.1 8.8-0.8 7.2 0 11.2-0.7 8.9-0.6 3.1-1 1.8-0.8 0.2-0.8-0.4-0.8-1-1.6-4-2.1-8.6-0.7-13.6 0.4-5.2 1.6-7.6 1.6-4.9 2.4-4.9 2.4-3.8 4-4.8 3.5-3.2 4.6-3.2 4.4-2.4 5.9-2.4 4-1 8.7-1.4zM113.1 885.6l0.6-0.4 0.8 0.8 1.6 2.5 1 2.7-0.2 1.2-0.8-0.5-1.6-2.3-0.8-1.6-0.6-2.4zM247.1 885.6l1-0.4 0.1 0.4-0.9 2.8-1.6 2.8-0.8 0.9-0.8 0.2 0-1.1 0.8-2.3 2.2-3.3zM325.1 885.6l0.6-0.4 0.8 0.8 1.6 2.5 1 2.7-0.2 1.2-0.8-0.5-1.6-2.3-0.8-1.6-0.6-2.4zM459.1 885.6l1-0.4 0.1 0.4-0.9 2.8-1.6 2.8-0.8 0.9-0.8 0.2 0-1.1 0.8-2.3 2.2-3.3zM143.9 898.4l1-0.3 0.8 0.7 1.1 2 0.3 1.6-0.6 1.1-0.8 0.5-1.6-0.2-0.8-0.9-0.1-2.9 0.7-1.6zM215.9 898.4l1-0.3 0.8 0.8 0.4 2.7-0.4 1.7-1.6 0.8-1.6-0.8-0.4-0.9 0.4-1.9 1.4-2.1zM355.9 898.4l1-0.3 0.8 0.7 1.1 2 0.3 1.6-0.6 1.1-0.8 0.5-1.6-0.2-0.8-0.9-0.1-2.9 0.7-1.6zM427.9 898.4l1-0.3 0.8 0.8 0.4 2.7-0.4 1.7-1.6 0.8-1.6-0.8-0.4-0.9 0.4-1.9 1.4-2.1z" stroke="#fcce2e" stroke-width="2.4"/>
<path d="M179.1 809.6l1.8-0.3 3.9 1.1 1.8 0.8 0.4 0.8-1.3 0.5-2.4 0.3-8-0.4-1.2-0.4 0.4-0.8 4.6-1.6zM391.1 809.6l1.8-0.3 3.9 1.1 1.8 0.8 0.4 0.8-1.3 0.5-2.4 0.3-8-0.4-1.2-0.4 0.4-0.8 4.6-1.6zM144 833.6l0.1-0.2 0.6 0.2-1.2 5.6-1.4 9.6-1.2 5.8-0.8 0.6-0.8-1.9-0.2-2.1 0.2-5.6 1.6-6.1 1.6-3.8 1.5-2.1zM216.6 833.6l0.3-0.3 0.8 0.8 1.6 2.9 2.4 7.7 0.5 5.7-0.5 3.9-0.8 0.9-0.8-1.3-0.8-3.8-1.1-8.5-1.6-8zM356 833.6l0.1-0.2 0.6 0.2-1.2 5.6-1.4 9.6-1.2 5.8-0.8 0.6-0.8-1.9-0.2-2.1 0.2-5.6 1.6-6.1 1.6-3.8 1.5-2.1zM428.6 833.6l0.3-0.3 0.8 0.8 1.6 2.9 2.4 7.7 0.5 5.7-0.5 3.9-0.8 0.9-0.8-1.3-0.8-3.8-1.1-8.5-1.6-8z" stroke="#f9fb0e" stroke-width="2.4"/>
</g>
<g clip-path="url(#cp_cV2)" fill="none" stroke-linejoin="round">
<path d="M698.3 863l0.9-6 0.1-4.1-0.3-4-0.6-4-1.1-4-2.2-5.7-1.8-3.6-3.5-5-4.1-4.5-3.1-2.7-3.3-2.4-3.5-2-3.6-1.7-5.8-2-6-1.1-4.1-0.3-6.1 0.3-4 0.6-5.9 1.7-3.7 1.6-3.6 1.9-5 3.4-3.1 2.7-4.1 4.5-3.5 5-1.8 3.6-2.2 5.7-1.1 4-0.6 4-0.3 4 0.1 4.1 0.9 6M910.3 863l0.9-6 0.1-4.1-0.3-4-0.6-4-1.1-4-2.2-5.7-1.8-3.6-3.5-5-4.1-4.5-3.1-2.7-3.3-2.4-3.5-2-3.6-1.7-5.8-2-6-1.1-4.1-0.3-6.1 0.3-4 0.6-5.9 1.7-3.7 1.6-3.6 1.9-5 3.4-3.1 2.7-4.1 4.5-3.5 5-1.8 3.6-2.2 5.7-1.1 4-0.6 4-0.3 4 0.1 4.1 0.9 6M694.2 860.7l0.5-4 0.1-4.1-0.4-4.1-0.8-4-1.1-3.9-1.6-3.8-2-3.6-2.4-3.4-4.1-4.5-3.2-2.7-3.4-2.3-3.6-1.9-3.8-1.6-3.9-1.1-4.1-0.8-4.1-0.3-4.1 0.1-4.1 0.6-4 0.9-3.8 1.4-3.8 1.7-3.5 2.1-4.8 3.9-2.8 2.9-2.5 3.3-3.2 5.3-1.6 3.8-1.1 3.9-0.8 4-0.4 4.1 0.1 4.1 0.5 4M906.2 860.7l0.5-4 0.1-4.1-0.4-4.1-0.8-4-1.1-3.9-1.6-3.8-2-3.6-2.4-3.4-4.1-4.5-3.2-2.7-3.4-2.3-3.6-1.9-3.8-1.6-3.9-1.1-4.1-0.8-4.1-0.3-4.1 0.1-4.1 0.6-4 0.9-3.8 1.4-3.8 1.7-3.5 2.1-4.8 3.9-2.8 2.9-2.5 3.3-3.2 5.3-1.6 3.8-1.1 3.9-0.8 4-0.4 4.1 0.1 4.1 0.5 4M689.7 856.9l-0.1-6.2-0.6-4-1.1-4-2.6-5.6-2.3-3.4-2.6-3.1-3-2.8-3.4-2.5-5.5-2.8-4-1.4-4-0.8-6.2-0.4-6.2 0.8-4 1.1-3.9 1.5-5.3 3.2-3.2 2.6-2.9 3-3.5 5-2.6 5.6-1.1 4-0.6 4-0.1 6.2M901.7 856.9l-0.1-6.2-0.6-4-1.1-4-2.6-5.6-2.3-3.4-2.6-3.1-3-2.8-3.4-2.5-5.5-2.8-4-1.4-4-0.8-6.2-0.4-6.2 0.8-4 1.1-3.9 1.5-5.3 3.2-3.2 2.6-2.9 3-3.5 5-2.6 5.6-1.1 4-0.6 4-0.1 6.2" stroke="#808080" stroke-width="2.5" stroke-dasharray="12 4"/><path d="M670.6 854.8l0-4.9-0.9-4.7-1.5-4.4-2.1-3.8-2.7-3-3.1-2.1-1.6-0.7-3.4-0.5-3.4 0.5-1.6 0.7-3.1 2.1-2.7 3-2.1 3.8-1.5 4.4-0.9 4.7 0 4.9M882.6 854.8l0-4.9-0.9-4.7-1.5-4.4-2.1-3.8-2.7-3-3.1-2.1-1.6-0.7-3.4-0.5-3.4 0.5-1.6 0.7-3.1 2.1-2.7 3-2.1 3.8-1.5 4.4-0.9 4.7 0 4.9" stroke="#808080" stroke-width="2.4" stroke-dasharray="13 9"/><path d="M638.4 848.4l0 12.5M672.2 848.4l0 12.5M850.4 848.4l0 12.5M884.2 848.4l0 12.5M644.5 874.9l0-8.8 0.5-2.3 1-1.9 1.2-1.4 1.1-0.6 1.1 0.6 1.2 1.5 1 1.9 0.5 2 0 7M666.1 874.9l0-8.8-0.5-2.3-1-1.9-1.2-1.4-1.1-0.6-1.1 0.6-1.2 1.5-1 1.9-0.5 2 0 7M856.5 874.9l0-8.8 0.5-2.3 1-1.9 1.2-1.4 1.1-0.6 1.1 0.6 1.2 1.5 1 1.9 0.5 2 0 7M878.1 874.9l0-8.8-0.5-2.3-1-1.9-1.2-1.4-1.1-0.6-1.1 0.6-1.2 1.5-1 1.9-0.5 2 0 7M622.9 865.4l-0.1 4.1 0.8 1.8 2 1.8 2.4 1.3 2.2 0 2.4-1.3 2-1.8 0.8-1.8-0.1-4.1M687.7 865.4l0.1 4.1-0.8 1.8-2 1.8-2.4 1.3-2.2 0-2.4-1.3-2-1.8-0.8-1.8 0.1-4.1M834.9 865.4l-0.1 4.1 0.8 1.8 2 1.8 2.4 1.3 2.2 0 2.4-1.3 2-1.8 0.8-1.8-0.1-4.1M899.7 865.4l0.1 4.1-0.8 1.8-2 1.8-2.4 1.3-2.2 0-2.4-1.3-2-1.8-0.8-1.8 0.1-4.1M650.3 883.9l0.4 10M660.3 883.9l-0.4 10M862.3 883.9l0.4 10M872.3 883.9l-0.4 10M643.3 885.9l1 12M667.3 885.9l-1 12M855.3 885.9l1 12M879.3 885.9l-1 12M549.3 851.4l-6 1-5 3M761.3 851.4l-6 1-5 3M549.3 851.4l6 1 5 3M973.3 851.4l-6 1-5 3M761.3 851.4l6 1 5 3M973.3 851.4l6 1 5 3M549.3 855.1l-4.8 0.7-2.4 0.8-4.8 2.8M761.3 855.1l-4.8 0.7-2.4 0.8-4.8 2.8M549.3 855.1l4.8 0.7 2.4 0.8 4.8 2.8M973.3 855.1l-4.8 0.7-2.4 0.8-4.8 2.8M761.3 855.1l4.8 0.7 2.4 0.8 4.8 2.8M973.3 855.1l4.8 0.7 2.4 0.8 4.8 2.8M549.3 859.3l-4.9 0.8-2.2 0.9-3.9 2.9M761.3 859.3l-4.9 0.8-2.2 0.9-3.9 2.9M549.3 859.3l4.9 0.8 2.2 0.9 3.9 2.9M973.3 859.3l-4.9 0.8-2.2 0.9-3.9 2.9M761.3 859.3l4.9 0.8 2.2 0.9 3.9 2.9M973.3 859.3l4.9 0.8 2.2 0.9 3.9 2.9M747.3 850.4l-4.4 2.9-1.3 1.2-2.1 3.4-0.8 2-1.1 4-0.5 4 0.3 4.6 2.4 11.4M563.3 850.4l4.4 2.9 1.3 1.2 2.1 3.4 0.8 2 1.1 4 0.5 4-0.3 4.6-2.4 11.4M959.3 850.4l-4.4 2.9-1.3 1.2-2.1 3.4-0.8 2-1.1 4-0.5 4 0.3 4.6 2.4 11.4M775.3 850.4l4.4 2.9 1.3 1.2 2.1 3.4 0.8 2 1.1 4 0.5 4-0.3 4.6-2.4 11.4M743.8 855.9l-1.8 6.8-1.1 8.1 0 4.7 1.4 10.4M566.8 855.9l1.8 6.8 1.1 8.1 0 4.7-1.4 10.4M955.8 855.9l-1.8 6.8-1.1 8.1 0 4.7 1.4 10.4M778.8 855.9l1.8 6.8 1.1 8.1 0 4.7-1.4 10.4M549.3 900.2l-2.5 5.7-3.9 12M761.3 900.2l-2.5 5.7-3.9 12M549.3 900.2l2.5 5.7 3.9 12M973.3 900.2l-2.5 5.7-3.9 12M761.3 900.2l2.5 5.7 3.9 12M973.3 900.2l2.5 5.7 3.9 12M751.9 894.9l0.6 15M558.7 894.9l-0.6 15M963.9 894.9l0.6 15M770.7 894.9l-0.6 15M733.3 897.9l5 0.3 2 0.7 1.3 1.6 0.9 2.2 0.3 2.2-0.3 2.1-1.7 4.4M577.3 897.9l-5 0.3-2 0.7-1.3 1.6-0.9 2.2-0.3 2.2 0.3 2.1 1.7 4.4M945.3 897.9l5 0.3 2 0.7 1.3 1.6 0.9 2.2 0.3 2.2-0.3 2.1-1.7 4.4M789.3 897.9l-5 0.3-2 0.7-1.3 1.6-0.9 2.2-0.3 2.2 0.3 2.1 1.7 4.4M734.3 906.4l2.3 0.5 1.7 1 0.3 2.7-0.3 3.3M576.3 906.4l-2.3 0.5-1.7 1-0.3 2.7 0.3 3.3M946.3 906.4l2.3 0.5 1.7 1 0.3 2.7-0.3 3.3M788.3 906.4l-2.3 0.5-1.7 1-0.3 2.7 0.3 3.3M549.3 922.5l-3 1.9-9 7M761.3 922.5l-3 1.9-9 7M549.3 922.5l3 1.9 9 7M973.3 922.5l-3 1.9-9 7M761.3 922.5l3 1.9 9 7M973.3 922.5l3 1.9 9 7M549.3 929.6l-4 2.3-6 3M761.3 929.6l-4 2.3-6 3M549.3 929.6l4 2.3 6 3M973.3 929.6l-4 2.3-6 3M761.3 929.6l4 2.3 6 3M973.3 929.6l4 2.3 6 3M749.3 880.9l-3.3 3.9-1.4 2.2-2.3 4.9M561.3 880.9l3.3 3.9 1.4 2.2 2.3 4.9M961.3 880.9l-3.3 3.9-1.4 2.2-2.3 4.9M773.3 880.9l3.3 3.9 1.4 2.2 2.3 4.9" stroke="#808080" stroke-width="2.4"/><path d="M552.6 875.1l-0.5-2.6-1.4-1.8-1.9-0.4-1.7 1.2-1 2.3 0 2.6 1 2.3 1.7 1.2 1.9-0.4 1.4-1.8 0.5-2.6M764.6 875.1l-0.5-2.6-1.4-1.8-1.9-0.4-1.7 1.2-1 2.3 0 2.6 1 2.3 1.7 1.2 1.9-0.4 1.4-1.8 0.5-2.6M976.6 875.1l-0.5-2.6-1.4-1.8-1.9-0.4-1.7 1.2-1 2.3 0 2.6 1 2.3 1.7 1.2 1.9-0.4 1.4-1.8 0.5-2.6" stroke="#808080" stroke-width="1.9"/><path d="M575.4 899.9l0.3 2.2 1.3 4.2 2.1 3.9 2.8 3.4 3.5 2.9 3.9 2.1 4.4 1.5 2.3 0.4M735.2 899.9l-0.3 2.2-1.3 4.2-2.1 3.9-2.8 3.4-3.5 2.9-3.9 2.1-4.4 1.5-2.3 0.4M787.4 899.9l0.3 2.2 1.3 4.2 2.1 3.9 2.8 3.4 3.5 2.9 3.9 2.1 4.4 1.5 2.3 0.4M947.2 899.9l-0.3 2.2-1.3 4.2-2.1 3.9-2.8 3.4-3.5 2.9-3.9 2.1-4.4 1.5-2.3 0.4M568.3 896.9l0.2 4.2 0.3 2.1 1.1 4.1 1.8 4 1.1 1.8 2.6 3.5 3 3.1 1.8 1.4 3.7 2.3 4 1.9 2.1 0.7 2.2 0.6 4.4 0.6M742.3 896.9l-0.2 4.2-0.3 2.1-1.1 4.1-1.8 4-1.1 1.8-2.6 3.5-3 3.1-1.8 1.4-3.7 2.3-4 1.9-2.1 0.7-2.2 0.6-4.4 0.6M780.3 896.9l0.2 4.2 0.3 2.1 1.1 4.1 1.8 4 1.1 1.8 2.6 3.5 3 3.1 1.8 1.4 3.7 2.3 4 1.9 2.1 0.7 2.2 0.6 4.4 0.6M954.3 896.9l-0.2 4.2-0.3 2.1-1.1 4.1-1.8 4-1.1 1.8-2.6 3.5-3 3.1-1.8 1.4-3.7 2.3-4 1.9-2.1 0.7-2.2 0.6-4.4 0.6M561.7 892.9l-0.4 6.3 0.4 4.1 1 4.1 2.3 5.9 2.1 3.7 2.5 3.5 4.6 4.5 5.3 3.7 3.9 2 4.2 1.5 6.4 1.4M748.9 892.9l0.4 6.3-0.4 4.1-1 4.1-2.3 5.9-2.1 3.7-2.5 3.5-4.6 4.5-5.3 3.7-3.9 2-4.2 1.5-6.4 1.4M773.7 892.9l-0.4 6.3 0.4 4.1 1 4.1 2.3 5.9 2.1 3.7 2.5 3.5 4.6 4.5 5.3 3.7 3.9 2 4.2 1.5 6.4 1.4M960.9 892.9l0.4 6.3-0.4 4.1-1 4.1-2.3 5.9-2.1 3.7-2.5 3.5-4.6 4.5-5.3 3.7-3.9 2-4.2 1.5-6.4 1.4M555 890.5l-0.6 4-0.1 4.1 0.3 4.1 0.7 4.1 1.1 4 1.5 3.8 1.9 3.7 2.2 3.5 2.6 3.3 2.9 3 3.2 2.8 3.4 2.4 3.7 2.2 3.9 1.8 4.1 1.4 4.1 1M755.6 890.5l0.6 4 0.1 4.1-0.3 4.1-0.7 4.1-1.1 4-1.5 3.8-1.9 3.7-2.2 3.5-2.6 3.3-2.9 3-3.2 2.8-3.4 2.4-3.7 2.2-3.9 1.8-4.1 1.4-4.1 1M767 890.5l-0.6 4-0.1 4.1 0.3 4.1 0.7 4.1 1.1 4 1.5 3.8 1.9 3.7 2.2 3.5 2.6 3.3 2.9 3 3.2 2.8 3.4 2.4 3.7 2.2 3.9 1.8 4.1 1.4 4.1 1M967.6 890.5l0.6 4 0.1 4.1-0.3 4.1-0.7 4.1-1.1 4-1.5 3.8-1.9 3.7-2.2 3.5-2.6 3.3-2.9 3-3.2 2.8-3.4 2.4-3.7 2.2-3.9 1.8-4.1 1.4-4.1 1M550.8 891l0.4 4.1 0 6.1-0.5 4-0.8 4-1.1 4-1.5 3.8-1.9 3.7-2.1 3.5-2.4 3.4-2.7 3.1-3 3-3.2 2.6-3.5 2.5-3.6 2.1-3.8 1.9-4 1.5M547.8 891l-0.4 4.1 0 6.1 0.5 4 0.8 4 1.1 4 1.5 3.8 1.9 3.7 2.1 3.5 2.4 3.4 2.7 3.1 3 3 3.2 2.6 3.5 2.5 3.6 2.1 3.8 1.9 4 1.5M762.8 891l0.4 4.1 0 6.1-0.5 4-0.8 4-1.1 4-1.5 3.8-1.9 3.7-2.1 3.5-2.4 3.4-2.7 3.1-3 3-3.2 2.6-3.5 2.5-3.6 2.1-3.8 1.9-4 1.5M759.8 891l-0.4 4.1 0 6.1 0.5 4 0.8 4 1.1 4 1.5 3.8 1.9 3.7 2.1 3.5 2.4 3.4 2.7 3.1 3 3 3.2 2.6 3.5 2.5 3.6 2.1 3.8 1.9 4 1.5M974.8 891l0.4 4.1 0 6.1-0.5 4-0.8 4-1.1 4-1.5 3.8-1.9 3.7-2.1 3.5-2.4 3.4-2.7 3.1-3 3-3.2 2.6-3.5 2.5-3.6 2.1-3.8 1.9-4 1.5M971.8 891l-0.4 4.1 0 6.1 0.5 4 0.8 4 1.1 4 1.5 3.8 1.9 3.7 2.1 3.5 2.4 3.4 2.7 3.1 3 3 3.2 2.6 3.5 2.5 3.6 2.1 3.8 1.9 4 1.5" stroke="#808080" stroke-width="2.4" stroke-dasharray="12 4"/><path d="M585.3 931.4l12 1.8 7.3 0.7 6.2 0 13.5-0.9 6.7-0.1 8.9 0.4 15.4 1.1M725.3 931.4l-12 1.8-7.3 0.7-6.2 0-13.5-0.9-6.7-0.1-8.9 0.4-15.4 1.1M797.3 931.4l12 1.8 7.3 0.7 6.2 0 13.5-0.9 6.7-0.1 8.9 0.4 15.4 1.1M937.3 931.4l-12 1.8-7.3 0.7-6.2 0-13.5-0.9-6.7-0.1-8.9 0.4-15.4 1.1M591.3 933.5l8.7 2 4.7 0.5 6.3-0.1 12.6-0.7 7.5-0.2 7.3 0.3 16.9 1.2M719.3 933.5l-8.7 2-4.7 0.5-6.3-0.1-12.6-0.7-7.5-0.2-7.3 0.3-16.9 1.2M803.3 933.5l8.7 2 4.7 0.5 6.3-0.1 12.6-0.7 7.5-0.2 7.3 0.3 16.9 1.2M931.3 933.5l-8.7 2-4.7 0.5-6.3-0.1-12.6-0.7-7.5-0.2-7.3 0.3-16.9 1.2M597.3 935.6l3.9 1.9 3.5 0.6 4 0 16.9-0.9 5.6-0.1 8 0.4 16.1 1.1M713.3 935.6l-3.9 1.9-3.5 0.6-4 0-16.9-0.9-5.6-0.1-8 0.4-16.1 1.1M809.3 935.6l3.9 1.9 3.5 0.6 4 0 16.9-0.9 5.6-0.1 8 0.4 16.1 1.1M925.3 935.6l-3.9 1.9-3.5 0.6-4 0-16.9-0.9-5.6-0.1-8 0.4-16.1 1.1M603.3 937.7l0.1 0.3-0.6 1.5 0.9 0.5 1.1 0.2 4 0 16.1-0.9 6.4-0.1 9 0.4 15 1.1M707.3 937.7l-0.1 0.3 0.6 1.5-0.9 0.5-1.1 0.2-4 0-16.1-0.9-6.4-0.1-9 0.4-15 1.1M815.3 937.7l0.1 0.3-0.6 1.5 0.9 0.5 1.1 0.2 4 0 16.1-0.9 6.4-0.1 9 0.4 15 1.1M919.3 937.7l-0.1 0.3 0.6 1.5-0.9 0.5-1.1 0.2-4 0-16.1-0.9-6.4-0.1-9 0.4-15 1.1M655.3 931.9l-5 5M655.3 931.9l5 5M867.3 931.9l-5 5M867.3 931.9l5 5" stroke="#808080" stroke-width="2.4"/><path d="M615.6 837.8l1.5-0.4 0.8 0.5 0.4 0.7 0.4 7 2.8 5.8 2.5 7.2 2.9 12.8 1.6 12 0.6 12.8-0.5 12-1.7 10.4-1.5 4.8-1.4 3.2 1.9 0.4 5.6-1 3.2-2.7 2.5-1.5 7.1-5.2 1.6-0.2 0.8 0.4 0.9 1 0.3 1.6-4 6.4-3.6 4.6-2.4 1.3-8.8 2.9-4.8 0.4-2.4-0.2-2.4-0.7-1.4-1.1-1.8-2.3-3.2-2.5-0.5 0.8-0.5 4-0.6 1.1-1.6 1-1.6-0.1-2.4-1.1-8 0.4-6.4-0.4-8.8-1.7-1.6-1.1-1.2-3.7-0.9-9.6 0.1-2.4 0.4-1.7 5.9 4.9 5.9 5.6 2.6 1.2 3.2 0.4-6.8-8.8-7.3-11.2-6.2-11.2-5.8-12-4.8-12-2.9-9.6-1.2-7.2 0-2.4 0.5-2.4 0.9-1.4 1.6-0.6 1.6 0.2 1.6 0.7 4 2.9 5.6 5.8 5.9 7.6 5.8 8.8 5.7 9.6 5.8 11.3 0.3-0.1 0.2-1.6-1-12 0-12 0.8-9.6 1.5-8 2.2-6.1 2.4-3.6 1.6-1.2 1.6-0.5 1.6 0.1 2.4 1.3 0.3-2 0.6-0.8zM692.8 837.8l1.1-0.5 0.8 0.2 1.6 2.8 1.6-0.9 1.6-0.3 1.6 0.4 1.2 0.7 1.2 1.1 1.6 2.4 2.1 5.3 1.8 8 1 11.2 0 9.6-1.2 16 0.3 0.9 5.4-10.5 5.5-9.6 6.3-9.6 6-7.9 5.6-6 4.8-3.4 1.6-0.6 1.6-0.1 0.9 0.4 1.2 1.6 0.5 2.4 0 2.4-1.4 8-3.3 10.4-4.5 11.2-5.9 12-6.3 11.2-7.4 11.2-6.2 8 3.6-0.5 2.4-1.2 5.6-5.4 5.6-4.7 0.7 0.6 0.2 2.4-0.6 8.8-1.1 4.5-0.6 1.1-1 0.6-5.6 1.4-5.6 0.7-5.6 0.2-6.6-0.5-2.2 1.1-1.6 0.2-1.6-0.6-0.8-1.1-0.6-2-0.2-3.5-2.4 2.1-1.6 0.9-1.2 2.1-2 1.2-4 0.8-4.8-0.3-8.8-2.9-2.4-1.1-2.9-3.3-4.8-7.2-0.3-1.6 0.8-1.5 0.8-0.5 1.6-0.2 10.2 7 2.6 2.4 5.6 1.1 2.3-0.3-1.4-3.2-1.3-4-1.6-8.8-0.8-11.2 0.3-12 1.2-11.2 1.8-10.4 3.1-11.2 4.2-9.6 0.2-6.4 0.5-0.8zM827.6 837.8l1.5-0.4 0.8 0.5 0.4 0.7 0.4 7 2.8 5.8 2.5 7.2 2.9 12.8 1.6 12 0.6 12.8-0.5 12-1.7 10.4-1.5 4.8-1.4 3.2 1.9 0.4 5.6-1 3.2-2.7 2.5-1.5 7.1-5.2 1.6-0.2 0.8 0.4 0.9 1 0.3 1.6-4 6.4-3.6 4.6-2.4 1.3-8.8 2.9-4.8 0.4-2.4-0.2-2.4-0.7-1.4-1.1-1.8-2.3-3.2-2.5-0.5 0.8-0.5 4-0.6 1.1-1.6 1-1.6-0.1-2.4-1.1-8 0.4-6.4-0.4-8.8-1.7-1.6-1.1-1.2-3.7-0.9-9.6 0.1-2.4 0.4-1.7 5.9 4.9 5.9 5.6 2.6 1.2 3.2 0.4-6.8-8.8-7.3-11.2-6.2-11.2-5.8-12-4.8-12-2.9-9.6-1.2-7.2 0-2.4 0.5-2.4 0.9-1.4 1.6-0.6 1.6 0.2 1.6 0.7 4 2.9 5.6 5.8 5.9 7.6 5.8 8.8 5.7 9.6 5.8 11.3 0.3-0.1 0.2-1.6-1-12 0-12 0.8-9.6 1.5-8 2.2-6.1 2.4-3.6 1.6-1.2 1.6-0.5 1.6 0.1 2.4 1.3 0.3-2 0.6-0.8zM904.8 837.8l1.1-0.5 0.8 0.2 1.6 2.8 1.6-0.9 1.6-0.3 1.6 0.4 1.2 0.7 1.2 1.1 1.6 2.4 2.1 5.3 1.8 8 1 11.2 0 9.6-1.2 16 0.3 0.9 5.4-10.5 5.5-9.6 6.3-9.6 6-7.9 5.6-6 4.8-3.4 1.6-0.6 1.6-0.1 0.9 0.4 1.2 1.6 0.5 2.4 0 2.4-1.4 8-3.3 10.4-4.5 11.2-5.9 12-6.3 11.2-7.4 11.2-6.2 8 3.6-0.5 2.4-1.2 5.6-5.4 5.6-4.7 0.7 0.6 0.2 2.4-0.6 8.8-1.1 4.5-0.6 1.1-1 0.6-5.6 1.4-5.6 0.7-5.6 0.2-6.6-0.5-2.2 1.1-1.6 0.2-1.6-0.6-0.8-1.1-0.6-2-0.2-3.5-2.4 2.1-1.6 0.9-1.2 2.1-2 1.2-4 0.8-4.8-0.3-8.8-2.9-2.4-1.1-2.9-3.3-4.8-7.2-0.3-1.6 0.8-1.5 0.8-0.5 1.6-0.2 10.2 7 2.6 2.4 5.6 1.1 2.3-0.3-1.4-3.2-1.3-4-1.6-8.8-0.8-11.2 0.3-12 1.2-11.2 1.8-10.4 3.1-11.2 4.2-9.6 0.2-6.4 0.5-0.8zM641.3 875.4l1.4 0.1 0.9 0.7 1.1 1.6 0.7 2.4 0.6 5.6 2.6 4-2 3.2-0.5 1.6 0.1 12.8-1.1 2.3-1.5 0.9-4.1 1.2-3.2 0.3-1.6-0.5-0.8-0.7-1.6-2.7-0.7-3.2 0.1-4 1.7-8 2.5-8 3.6-7.9 0.8-1.1 1-0.6zM668.2 875.4l1.1 0 1.4 1.1 2.7 5.3 3.2 8.8 2 8.8 0.5 4-0.6 4-1.6 3.2-0.8 0.8-1.4 0.6-3.2-0.1-4.8-1.4-1.6-1.2-0.8-1.9 0.3-12-0.6-2.4-2-3.2 2.6-4 0.6-5.6 0.7-2.4 1.1-1.6 1.2-0.8zM853.3 875.4l1.4 0.1 0.9 0.7 1.1 1.6 0.7 2.4 0.6 5.6 2.6 4-2 3.2-0.5 1.6 0.1 12.8-1.1 2.3-1.5 0.9-4.1 1.2-3.2 0.3-1.6-0.5-0.8-0.7-1.6-2.7-0.7-3.2 0.1-4 1.7-8 2.5-8 3.6-7.9 0.8-1.1 1-0.6zM880.2 875.4l1.1 0 1.4 1.1 2.7 5.3 3.2 8.8 2 8.8 0.5 4-0.6 4-1.6 3.2-0.8 0.8-1.4 0.6-3.2-0.1-4.8-1.4-1.6-1.2-0.8-1.9 0.3-12-0.6-2.4-2-3.2 2.6-4 0.6-5.6 0.7-2.4 1.1-1.6 1.2-0.8zM601.9 894.2l0 1.4 0-1.4zM813.9 894.2l0 1.4 0-1.4z" stroke="#352a87" stroke-width="2.4"/>
<path d="M609.9 849.8l2.4-0.7 2.4 1.1 2.4 2.7 1.8 3.3 2.3 5.6 1.8 6.4 1.4 7.2 1 7.2 0.5 8 0 7.2-0.4 6.4-0.9 6.4-1.3 4.8-1.8 4-2 2.4-2.4 0.9-1.6-0.4-2.4-1.9-2.3-3.4-1.9-4-2.8-9.6-2-12.8-0.6-13.6 0.8-12.8 1.1-5.6 1.2-4 1.7-3.2 1.6-1.6zM696.5 849.8l2.2-0.7 2.4 1 1.7 2.1 1.7 4 1.4 5.6 0.8 6.4 0.4 7.2-0.1 8-0.6 8-0.9 7.2-1.5 7.2-1.7 5.6-2 4.8-2.4 3.7-2.4 2.2-2.4 0.5-2.4-1.2-1.6-2-1.5-3.2-1.2-4-1.5-10.4-0.2-12.8 1.5-13.6 2.5-11.2 1.6-4.8 2-4.5 2.4-3.5 1.8-1.6zM821.9 849.8l2.4-0.7 2.4 1.1 2.4 2.7 1.8 3.3 2.3 5.6 1.8 6.4 1.4 7.2 1 7.2 0.5 8 0 7.2-0.4 6.4-0.9 6.4-1.3 4.8-1.8 4-2 2.4-2.4 0.9-1.6-0.4-2.4-1.9-2.3-3.4-1.9-4-2.8-9.6-2-12.8-0.6-13.6 0.8-12.8 1.1-5.6 1.2-4 1.7-3.2 1.6-1.6zM908.5 849.8l2.2-0.7 2.4 1 1.7 2.1 1.7 4 1.4 5.6 0.8 6.4 0.4 7.2-0.1 8-0.6 8-0.9 7.2-1.5 7.2-1.7 5.6-2 4.8-2.4 3.7-2.4 2.2-2.4 0.5-2.4-1.2-1.6-2-1.5-3.2-1.2-4-1.5-10.4-0.2-12.8 1.5-13.6 2.5-11.2 1.6-4.8 2-4.5 2.4-3.5 1.8-1.6zM570.2 860.2l1.3-0.8 2.4 0.7 2.4 1.6 3.2 3.2 6.9 8.9 6.9 11.2 6.5 12.8 4.3 11.2 1.4 4.8 0.6 4-0.1 3.2-0.9 1.7-1.6 0.4-2.4-0.9-2.4-1.8-3.2-3.2-6.9-9-6.4-10.4-6.1-12-4.4-11.2-1.6-5.6-0.6-4 0-3.2 0.7-1.6zM736.5 860.2l2.2-0.8 1.6 0.6 0.8 2 0 3.8-1 4.8-1.7 5.6-5.8 13.6-8 14.4-7.5 10.6-3.2 3.7-3.2 2.8-2.4 1.5-1.6 0.3-0.8-0.1-1-1.2-0.5-2.4 0.9-6.4 2.6-8 4.8-11.2 6.4-12 6.2-9.6 6.2-7.8 2.4-2.3 2.6-1.9zM782.2 860.2l1.3-0.8 2.4 0.7 2.4 1.6 3.2 3.2 6.9 8.9 6.9 11.2 6.5 12.8 4.3 11.2 1.4 4.8 0.6 4-0.1 3.2-0.9 1.7-1.6 0.4-2.4-0.9-2.4-1.8-3.2-3.2-6.9-9-6.4-10.4-6.1-12-4.4-11.2-1.6-5.6-0.6-4 0-3.2 0.7-1.6zM948.5 860.2l2.2-0.8 1.6 0.6 0.8 2 0 3.8-1 4.8-1.7 5.6-5.8 13.6-8 14.4-7.5 10.6-3.2 3.7-3.2 2.8-2.4 1.5-1.6 0.3-0.8-0.1-1-1.2-0.5-2.4 0.9-6.4 2.6-8 4.8-11.2 6.4-12 6.2-9.6 6.2-7.8 2.4-2.3 2.6-1.9zM640.4 881l0.7-0.3 0.8 0.3 1 2.4 0.7 5.6-0.6 5.6-1.1 5.6-1.6 4.7-2 3.3-1.2 0.9-0.8 0.1-0.8-0.4-0.8-1.1-0.8-2.7-0.1-3.2 0.3-4 1.3-6.4 1.6-4.8 1.7-3.5 1.7-2.1zM668.7 881l0.4-0.3 0.8 0.1 0.8 0.6 1.6 2.4 1.9 4.4 1.5 5.6 1 5.6 0.1 4-0.5 3.3-0.8 1.6-0.8 0.7-1.6-0.1-1.6-1.7-1.8-3.8-1.4-4.8-1.3-9.6 0.7-5.6 1-2.4zM852.4 881l0.7-0.3 0.8 0.3 1 2.4 0.7 5.6-0.6 5.6-1.1 5.6-1.6 4.7-2 3.3-1.2 0.9-0.8 0.1-0.8-0.4-0.8-1.1-0.8-2.7-0.1-3.2 0.3-4 1.3-6.4 1.6-4.8 1.7-3.5 1.7-2.1zM880.7 881l0.4-0.3 0.8 0.1 0.8 0.6 1.6 2.4 1.9 4.4 1.5 5.6 1 5.6 0.1 4-0.5 3.3-0.8 1.6-0.8 0.7-1.6-0.1-1.6-1.7-1.8-3.8-1.4-4.8-1.3-9.6 0.7-5.6 1-2.4zM644.1 918.6l1-0.6 0.8 0.2 0.3 1.2-4.2 6.4-2.5 3.2-2.4 1.3-3.2 0.9-4.8 0.8-0.8-0.6 0-0.8 0.8-0.8 6.4-5.1 8.6-6.1zM664.3 918.6l0.8-0.6 0.8 0.2 8.8 6.2 7.2 5.8 0.3 1.2-1.1 0.6-4-0.7-3.2-0.8-2.4-1.2-4-5.1-3.2-4.8 0-0.8zM856.1 918.6l1-0.6 0.8 0.2 0.3 1.2-4.2 6.4-2.5 3.2-2.4 1.3-3.2 0.9-4.8 0.8-0.8-0.6 0-0.8 0.8-0.8 6.4-5.1 8.6-6.1zM876.3 918.6l0.8-0.6 0.8 0.2 8.8 6.2 7.2 5.8 0.3 1.2-1.1 0.6-4-0.7-3.2-0.8-2.4-1.2-4-5.1-3.2-4.8 0-0.8z" stroke="#0f5cdd" stroke-width="2.4"/>
<path d="M610.9 857l1.4-0.6 0.8 0.1 1.6 0.8 1.6 1.6 2.1 3.7 1.8 4.8 1.3 4.8 1.9 12 0.4 12.8-0.5 6.4-0.8 4.8-1.1 4-1.6 3.2-1.9 2-1.6 0.4-1.6-0.5-1.6-1.3-1.6-2.2-1.9-4-2.5-8.8-1.4-10.4-0.3-12 0.9-10.4 0.8-4 1.2-3.7 1.6-2.7 1-0.8zM696.3 857l1.6-0.6 0.8 0.1 1.6 0.9 1.6 2.3 1.1 2.9 1.2 4.8 0.7 5.6 0.3 12.8-1.1 12-1.1 5.6-1.4 4.8-1.7 4-2 3.3-2.4 2-1.6 0.3-1.6-0.7-1.5-1.7-1.2-2.4-1.1-3.2-1.5-8.8-0.2-11.2 1.1-11.2 2-9.6 1.6-4.7 1.6-3.5 1.6-2.4 1.6-1.4zM822.9 857l1.4-0.6 0.8 0.1 1.6 0.8 1.6 1.6 2.1 3.7 1.8 4.8 1.3 4.8 1.9 12 0.4 12.8-0.5 6.4-0.8 4.8-1.1 4-1.6 3.2-1.9 2-1.6 0.4-1.6-0.5-1.6-1.3-1.6-2.2-1.9-4-2.5-8.8-1.4-10.4-0.3-12 0.9-10.4 0.8-4 1.2-3.7 1.6-2.7 1-0.8zM908.3 857l1.6-0.6 0.8 0.1 1.6 0.9 1.6 2.3 1.1 2.9 1.2 4.8 0.7 5.6 0.3 12.8-1.1 12-1.1 5.6-1.4 4.8-1.7 4-2 3.3-2.4 2-1.6 0.3-1.6-0.7-1.5-1.7-1.2-2.4-1.1-3.2-1.5-8.8-0.2-11.2 1.1-11.2 2-9.6 1.6-4.7 1.6-3.5 1.6-2.4 1.6-1.4zM574.6 867.4l0.9-0.6 1.6 0.3 4 3.1 6 7.6 5.5 8.8 4.8 9.6 4.1 10.4 1.3 6.4-0.1 1.8-0.8 1.5-1.6 0.1-1.6-0.7-4-3.6-5-6.3-6-9.6-4.5-8.8-3.5-8.8-1.7-7.2 0-2.4 0.6-1.6zM732.9 867.4l1.8-0.6 1.3 0.6 0.6 1.6 0 2.4-0.8 4-1.2 4-4.3 10.4-5.7 10.4-6.1 8.8-5.4 5.8-2.4 1.5-1.6 0.2-0.8-0.6-0.5-2.1 0.7-4.8 2-6.4 3.8-8.8 4.7-8.8 5.1-8 5-6.3 3.8-3.3zM786.6 867.4l0.9-0.6 1.6 0.3 4 3.1 6 7.6 5.5 8.8 4.8 9.6 4.1 10.4 1.3 6.4-0.1 1.8-0.8 1.5-1.6 0.1-1.6-0.7-4-3.6-5-6.3-6-9.6-4.5-8.8-3.5-8.8-1.7-7.2 0-2.4 0.6-1.6zM944.9 867.4l1.8-0.6 1.3 0.6 0.6 1.6 0 2.4-0.8 4-1.2 4-4.3 10.4-5.7 10.4-6.1 8.8-5.4 5.8-2.4 1.5-1.6 0.2-0.8-0.6-0.5-2.1 0.7-4.8 2-6.4 3.8-8.8 4.7-8.8 5.1-8 5-6.3 3.8-3.3zM639.2 888.2l0.3-0.3 0.8 0.2 0.4 0.9 0.3 2.4-0.2 3.2-1.3 5-1.6 2.5-0.8 0.1-0.9-2 0.1-4.4 1.6-5.8 1.3-1.8zM670.4 888.2l0.3-0.3 0.8 0.2 0.8 1.1 1.6 4.6 0.6 5.6-0.6 2.4-0.8 0.4-0.8-0.5-0.8-1.2-1.6-5.1-0.3-4.8 0.3-1.7 0.5-0.7zM851.2 888.2l0.3-0.3 0.8 0.2 0.4 0.9 0.3 2.4-0.2 3.2-1.3 5-1.6 2.5-0.8 0.1-0.9-2 0.1-4.4 1.6-5.8 1.3-1.8zM882.4 888.2l0.3-0.3 0.8 0.2 0.8 1.1 1.6 4.6 0.6 5.6-0.6 2.4-0.8 0.4-0.8-0.5-0.8-1.2-1.6-5.1-0.3-4.8 0.3-1.7 0.5-0.7zM639.3 924.2l1-0.4 0.6 0.4-1.3 2.4-1.3 1.6-2.8 1-1.9-0.2 2.7-3.2 3-1.6zM669.8 924.2l0.1-0.3 0.8 0 3.6 1.9 2.7 3.2-1.5 0.3-3.2-1.1-1.6-2.1-0.9-1.9zM851.3 924.2l1-0.4 0.6 0.4-1.3 2.4-1.3 1.6-2.8 1-1.9-0.2 2.7-3.2 3-1.6zM881.8 924.2l0.1-0.3 0.8 0 3.6 1.9 2.7 3.2-1.5 0.3-3.2-1.1-1.6-2.1-0.9-1.9z" stroke="#127dd8" stroke-width="2.4"/>
<path d="M611.9 863.4l1.2-0.3 1.6 0.7 1.6 1.8 1.6 3.1 2.4 7.9 1.5 10 0.2 10.4-0.9 8.8-1.8 5.6-1.4 1.9-1.6 1-1.6-0.3-1.6-1.2-2.7-4.6-2.3-8-1.1-8-0.3-9.6 0.8-8.8 1.6-6.4 1.6-3 1.2-1zM696.5 863.4l1.4-0.3 1.6 0.8 1.3 1.9 1.1 2.8 1 4.4 0.7 4.8 0.3 10.4-1 9.6-2.1 8.8-1.3 3.1-1.6 2.6-1.6 1.5-1.6 0.5-1.6-0.6-1.3-1.5-1.9-4.8-1.2-7.2-0.1-9.6 0.9-9.6 1.9-8.8 2.5-5.9 1.6-2.2 1-0.7zM823.9 863.4l1.2-0.3 1.6 0.7 1.6 1.8 1.6 3.1 2.4 7.9 1.5 10 0.2 10.4-0.9 8.8-1.8 5.6-1.4 1.9-1.6 1-1.6-0.3-1.6-1.2-2.7-4.6-2.3-8-1.1-8-0.3-9.6 0.8-8.8 1.6-6.4 1.6-3 1.2-1zM908.5 863.4l1.4-0.3 1.6 0.8 1.3 1.9 1.1 2.8 1 4.4 0.7 4.8 0.3 10.4-1 9.6-2.1 8.8-1.3 3.1-1.6 2.6-1.6 1.5-1.6 0.5-1.6-0.6-1.3-1.5-1.9-4.8-1.2-7.2-0.1-9.6 0.9-9.6 1.9-8.8 2.5-5.9 1.6-2.2 1-0.7zM577.9 872.2l0.8-0.3 1.6 0.6 3.2 2.8 4.4 5.7 4.8 8 4 8 2.7 7.2 1 5.6-0.1 0.9-0.8 1.2-0.8 0.1-1.6-0.8-4-3.8-4.2-5.6-4.3-7.2-3.9-8-2.4-6.4-1-5.6 0.6-2.4zM730.8 872.2l1.5-0.2 0.8 0.8 0.2 1.8-0.2 2.4-1.9 6.4-3.9 8.8-5.1 8.8-5.1 6.8-4 3.7-1.6 0.5-0.8-0.4-0.5-2.6 1-4.8 2.4-6.4 3-6.4 4.1-7.2 3.6-5.4 4-4.7 2.5-1.9zM789.9 872.2l0.8-0.3 1.6 0.6 3.2 2.8 4.4 5.7 4.8 8 4 8 2.7 7.2 1 5.6-0.1 0.9-0.8 1.2-0.8 0.1-1.6-0.8-4-3.8-4.2-5.6-4.3-7.2-3.9-8-2.4-6.4-1-5.6 0.6-2.4zM942.8 872.2l1.5-0.2 0.8 0.8 0.2 1.8-0.2 2.4-1.9 6.4-3.9 8.8-5.1 8.8-5.1 6.8-4 3.7-1.6 0.5-0.8-0.4-0.5-2.6 1-4.8 2.4-6.4 3-6.4 4.1-7.2 3.6-5.4 4-4.7 2.5-1.9z" stroke="#079ccf" stroke-width="2.4"/>
<path d="M612.4 869.8l1.5 0 0.8 0.5 1.6 2.1 1 2.2 2.1 7.2 1.1 8 0.1 8-0.9 7.2-1.8 4.8-0.8 0.9-1.6 0.7-0.8-0.1-1.6-1.2-2.4-4.3-1.8-6.4-1-7.2-0.1-7.2 0.8-7.2 1.3-4.8 0.8-1.6 1.7-1.6zM696.8 869.8l1.1-0.1 1.6 1.1 1.8 3.8 1.3 7.2 0.2 8.8-1.1 8.8-1.8 6.4-1.2 2.6-1.6 2.1-1.6 0.9-0.8 0-1.3-0.8-1.1-1.5-1.4-4.1-0.8-6.4-0.1-7.2 0.9-8 1.5-6.4 2.3-5.3 0.8-1 1.3-0.9zM824.4 869.8l1.5 0 0.8 0.5 1.6 2.1 1 2.2 2.1 7.2 1.1 8 0.1 8-0.9 7.2-1.8 4.8-0.8 0.9-1.6 0.7-0.8-0.1-1.6-1.2-2.4-4.3-1.8-6.4-1-7.2-0.1-7.2 0.8-7.2 1.3-4.8 0.8-1.6 1.7-1.6zM908.8 869.8l1.1-0.1 1.6 1.1 1.8 3.8 1.3 7.2 0.2 8.8-1.1 8.8-1.8 6.4-1.2 2.6-1.6 2.1-1.6 0.9-0.8 0-1.3-0.8-1.1-1.5-1.4-4.1-0.8-6.4-0.1-7.2 0.9-8 1.5-6.4 2.3-5.3 0.8-1 1.3-0.9zM580.3 876.2l0.8-0.2 0.8 0.2 3.2 2.9 3.2 4.2 3.5 5.7 3.2 6.4 2.2 5.6 1.2 4.8-0.5 2.3-0.8 0.2-0.8-0.3-3.2-2.9-3.8-4.9-3.8-6.4-3.1-6.4-1.7-4.8-0.9-4 0.5-2.4zM728.9 876.2l1-0.2 0.8 0.9 0 2.5-1.3 4.8-3.1 7.2-4 7.2-3.6 5.1-3.2 3.4-1.6 1.1-0.8 0.1-0.8-0.9-0.1-0.8 0.5-3.2 1.5-4.8 2.5-5.6 3.5-6.4 3.3-5 3.2-3.8 2.2-1.6zM792.3 876.2l0.8-0.2 0.8 0.2 3.2 2.9 3.2 4.2 3.5 5.7 3.2 6.4 2.2 5.6 1.2 4.8-0.5 2.3-0.8 0.2-0.8-0.3-3.2-2.9-3.8-4.9-3.8-6.4-3.1-6.4-1.7-4.8-0.9-4 0.5-2.4zM940.9 876.2l1-0.2 0.8 0.9 0 2.5-1.3 4.8-3.1 7.2-4 7.2-3.6 5.1-3.2 3.4-1.6 1.1-0.8 0.1-0.8-0.9-0.1-0.8 0.5-3.2 1.5-4.8 2.5-5.6 3.5-6.4 3.3-5 3.2-3.8 2.2-1.6z" stroke="#15b1b4" stroke-width="2.4"/>
<path d="M612.2 875.4l0.9-0.2 0.8 0.2 1.6 1.6 0.8 1.5 1.9 5.7 1 6.4 0.2 7.2-0.7 5.6-1.5 4-0.9 1.1-0.8 0.4-0.8-0.1-1.6-1.1-1.6-2.7-1.6-5-1-6.2-0.2-6.4 0.6-5.6 1.4-4.7 1.5-1.7zM696.8 875.4l1.1-0.2 0.8 0.4 0.8 0.8 1 2.2 1.2 5.6 0.2 6.4-0.6 6.4-1.6 6.4-1.8 3.7-0.8 1-1.6 0.8-1.6-0.8-1.6-3.1-0.9-4.8-0.2-6.4 0.6-6.4 1.3-5.8 1.6-3.9 0.8-1.2 1.3-1.1zM824.2 875.4l0.9-0.2 0.8 0.2 1.6 1.6 0.8 1.5 1.9 5.7 1 6.4 0.2 7.2-0.7 5.6-1.5 4-0.9 1.1-0.8 0.4-0.8-0.1-1.6-1.1-1.6-2.7-1.6-5-1-6.2-0.2-6.4 0.6-5.6 1.4-4.7 1.5-1.7zM908.8 875.4l1.1-0.2 0.8 0.4 0.8 0.8 1 2.2 1.2 5.6 0.2 6.4-0.6 6.4-1.6 6.4-1.8 3.7-0.8 1-1.6 0.8-1.6-0.8-1.6-3.1-0.9-4.8-0.2-6.4 0.6-6.4 1.3-5.8 1.6-3.9 0.8-1.2 1.3-1.1zM582.2 880.2l0.5-0.6 0.8 0.1 1.6 1.2 2.4 2.9 3.2 4.8 2.7 5.2 2 4.8 1.1 4-0.2 2-0.8 0.3-2.4-1.7-2.4-2.9-3.2-4.9-4.2-8.8-1.1-4 0-2.4zM726.4 880.2l1.1-0.6 0.8 0.3 0.3 1.9-1 4-2 4.8-2.9 5.4-3.2 4.8-3.2 3.5-1.6 0.6-0.6-1.5 0.3-2.4 2.8-7.2 4.7-8.4 2.4-3.2 2.1-2zM794.2 880.2l0.5-0.6 0.8 0.1 1.6 1.2 2.4 2.9 3.2 4.8 2.7 5.2 2 4.8 1.1 4-0.2 2-0.8 0.3-2.4-1.7-2.4-2.9-3.2-4.9-4.2-8.8-1.1-4 0-2.4zM938.4 880.2l1.1-0.6 0.8 0.3 0.3 1.9-1 4-2 4.8-2.9 5.4-3.2 4.8-3.2 3.5-1.6 0.6-0.6-1.5 0.3-2.4 2.8-7.2 4.7-8.4 2.4-3.2 2.1-2z" stroke="#59bd8c" stroke-width="2.4"/>
<path d="M611.7 880.2l0.6-0.6 0.8-0.2 0.8 0.3 1.6 2 1.6 4.1 1 5.6 0.3 5.6-0.6 4.8-0.7 2.4-0.8 1.5-0.8 0.6-0.8 0.1-1.6-1.1-1.5-2.7-1-3.2-0.8-4.8-0.2-4.8 0.2-4 0.9-3.9 1-1.7zM696.2 880.2l0.9-0.7 0.8 0 0.8 0.4 0.8 1.1 1.2 4 0.3 6.4-0.5 5.6-1.2 4.8-1.1 2.4-1.1 1.6-1.6 0.6-0.8-0.3-0.8-1-0.8-1.9-0.7-3.8-0.1-4.8 0.4-4.8 0.8-4 1.2-3.3 1.5-2.3zM823.7 880.2l0.6-0.6 0.8-0.2 0.8 0.3 1.6 2 1.6 4.1 1 5.6 0.3 5.6-0.6 4.8-0.7 2.4-0.8 1.5-0.8 0.6-0.8 0.1-1.6-1.1-1.5-2.7-1-3.2-0.8-4.8-0.2-4.8 0.2-4 0.9-3.9 1-1.7zM908.2 880.2l0.9-0.7 0.8 0 0.8 0.4 0.8 1.1 1.2 4 0.3 6.4-0.5 5.6-1.2 4.8-1.1 2.4-1.1 1.6-1.6 0.6-0.8-0.3-0.8-1-0.8-1.9-0.7-3.8-0.1-4.8 0.4-4.8 0.8-4 1.2-3.3 1.5-2.3zM584.4 883.4l0.7-0.1 0.8 0.5 1.6 1.6 4 6.3 2.8 6.9 0.3 1.6-0.1 0.8-0.6 0.4-1.6-1.1-1.6-1.8-3.4-5.5-2.5-5.6-0.6-2.4 0.2-1.6zM725.3 883.4l0.8 0 0.3 0.8-0.2 1.6-2.4 6.4-4.3 6.8-1.6 1.7-0.8 0.6-0.8 0-0.3-1.1 0.3-1.6 2.4-6.1 4-6.6 2.6-2.5zM796.4 883.4l0.7-0.1 0.8 0.5 1.6 1.6 4 6.3 2.8 6.9 0.3 1.6-0.1 0.8-0.6 0.4-1.6-1.1-1.6-1.8-3.4-5.5-2.5-5.6-0.6-2.4 0.2-1.6zM937.3 883.4l0.8 0 0.3 0.8-0.2 1.6-2.4 6.4-4.3 6.8-1.6 1.7-0.8 0.6-0.8 0-0.3-1.1 0.3-1.6 2.4-6.1 4-6.6 2.6-2.5z" stroke="#a5be6b" stroke-width="2.4"/>
<path d="M612.3 883.4l0.8-0.3 0.8 0.3 1.2 1.6 1.2 2.9 0.8 4.3 0.2 4-0.3 4-0.8 2.4-0.7 1-0.8 0.4-0.8-0.3-0.8-0.8-0.8-1.4-0.8-2.2-0.8-4.1-0.3-3.8 0.3-4 0.8-2.9 0.8-1.1zM696.8 883.4l1.1-0.3 0.8 0.7 0.6 1.2 0.7 3.2 0.1 4-0.3 4-1 4-0.9 2.1-1.6 1.6-0.8 0-0.5-0.5-0.9-1.6-0.7-3.2-0.1-3.2 0.3-4 0.9-4 1-2.5 1.3-1.5zM824.3 883.4l0.8-0.3 0.8 0.3 1.2 1.6 1.2 2.9 0.8 4.3 0.2 4-0.3 4-0.8 2.4-0.7 1-0.8 0.4-0.8-0.3-0.8-0.8-0.8-1.4-0.8-2.2-0.8-4.1-0.3-3.8 0.3-4 0.8-2.9 0.8-1.1zM908.8 883.4l1.1-0.3 0.8 0.7 0.6 1.2 0.7 3.2 0.1 4-0.3 4-1 4-0.9 2.1-1.6 1.6-0.8 0-0.5-0.5-0.9-1.6-0.7-3.2-0.1-3.2 0.3-4 0.9-4 1-2.5 1.3-1.5zM586.8 888.2l0.7-0.3 0.8 0.8 2.4 3.7 1.2 3 0.1 0.8-0.5 0.7-1.6-1.7-1.6-2.6-0.9-2-0.6-2.4zM722.7 888.2l0.8-0.4 0.2 0.4-0.2 1.6-0.8 2-2.4 3.9-1.6 1.3 0-1.6 0.8-2.2 1.6-2.9 1.6-2.1zM798.8 888.2l0.7-0.3 0.8 0.8 2.4 3.7 1.2 3 0.1 0.8-0.5 0.7-1.6-1.7-1.6-2.6-0.9-2-0.6-2.4zM934.7 888.2l0.8-0.4 0.2 0.4-0.2 1.6-0.8 2-2.4 3.9-1.6 1.3 0-1.6 0.8-2.2 1.6-2.9 1.6-2.1z" stroke="#e1b952" stroke-width="2.4"/>
<path d="M612.3 887.4l0.8-0.7 1.2 0.7 1.1 2.4 0.6 2.4 0.1 5.6-0.6 2.3-0.8 1-0.8-0.1-0.8-0.9-1.3-3.9-0.4-4.8 0.9-4zM696.3 887.4l0.8-0.7 0.8 0.2 0.4 0.5 0.6 1.6 0.2 3.2-0.3 4-0.6 2.4-1.1 2-0.8 0.5-0.8-0.3-0.7-1.4-0.4-4 0.4-4 1.5-4zM824.3 887.4l0.8-0.7 1.2 0.7 1.1 2.4 0.6 2.4 0.1 5.6-0.6 2.3-0.8 1-0.8-0.1-0.8-0.9-1.3-3.9-0.4-4.8 0.9-4zM908.3 887.4l0.8-0.7 0.8 0.2 0.4 0.5 0.6 1.6 0.2 3.2-0.3 4-0.6 2.4-1.1 2-0.8 0.5-0.8-0.3-0.7-1.4-0.4-4 0.4-4 1.5-4z" stroke="#fcce2e" stroke-width="2.4"/>
<path d="M613.2 892.2l0.7-0.4 0.6 2 0 1.6-0.6 1.2-0.8-1.7 0.1-2.7zM696.6 892.2l0.5-0.5 0.4 2.1-0.4 2.4-0.8 0.2-0.2-2.6 0.5-1.6zM825.2 892.2l0.7-0.4 0.6 2 0 1.6-0.6 1.2-0.8-1.7 0.1-2.7zM908.6 892.2l0.5-0.5 0.4 2.1-0.4 2.4-0.8 0.2-0.2-2.6 0.5-1.6z" stroke="#f9fb0e" stroke-width="2.4"/>
</g>
<rect x="117.0" y="35.1" width="141.8" height="150.0" fill="none" stroke="#000" stroke-width="2.2"/>
<rect x="116.6" y="263.9" width="142.2" height="150.0" fill="none" stroke="#000" stroke-width="2.2"/>
<rect x="352.7" y="34.0" width="282.3" height="177.5" fill="none" stroke="#000" stroke-width="2.2"/>
<rect x="668.2" y="34.0" width="282.5" height="177.5" fill="none" stroke="#000" stroke-width="2.2"/>
<rect x="352.7" y="235.2" width="282.3" height="177.8" fill="none" stroke="#000" stroke-width="2.2"/>
<rect x="668.0" y="235.2" width="282.7" height="177.8" fill="none" stroke="#000" stroke-width="2.2"/>
<rect x="76.1" y="540.0" width="424.0" height="179.6" fill="none" stroke="#000" stroke-width="2.2"/>
<rect x="549.5" y="540.0" width="424.2" height="179.6" fill="none" stroke="#000" stroke-width="2.2"/>
<rect x="74.9" y="764.4" width="424.1" height="177.1" fill="none" stroke="#000" stroke-width="2.2"/>
<rect x="549.5" y="764.6" width="424.2" height="176.9" fill="none" stroke="#000" stroke-width="2.2"/>
<path d="M128.3 185.1 v-5.3M128.3 35.1 v5.3M175.5 185.1 v-5.3M175.5 35.1 v5.3M222.6 185.1 v-5.3M222.6 35.1 v5.3M128.3 413.9 v-5.3M128.3 263.9 v5.3M175.5 413.9 v-5.3M175.5 263.9 v5.3M222.6 413.9 v-5.3M222.6 263.9 v5.3M376.8 211.5 v-5.3M376.8 34.0 v5.3M424.9 211.5 v-5.3M424.9 34.0 v5.3M473.0 211.5 v-5.3M473.0 34.0 v5.3M521.1 211.5 v-5.3M521.1 34.0 v5.3M569.2 211.5 v-5.3M569.2 34.0 v5.3M617.3 211.5 v-5.3M617.3 34.0 v5.3M352.7 63.3 h4.4M635.0 63.3 h-4.4M692.2 211.5 v-5.3M692.2 34.0 v5.3M740.3 211.5 v-5.3M740.3 34.0 v5.3M788.4 211.5 v-5.3M788.4 34.0 v5.3M836.5 211.5 v-5.3M836.5 34.0 v5.3M884.6 211.5 v-5.3M884.6 34.0 v5.3M932.7 211.5 v-5.3M932.7 34.0 v5.3M668.2 63.3 h4.4M950.7 63.3 h-4.4M376.8 413.0 v-5.3M376.8 235.2 v5.3M424.9 413.0 v-5.3M424.9 235.2 v5.3M473.0 413.0 v-5.3M473.0 235.2 v5.3M521.1 413.0 v-5.3M521.1 235.2 v5.3M569.2 413.0 v-5.3M569.2 235.2 v5.3M617.3 413.0 v-5.3M617.3 235.2 v5.3M352.7 264.9 h4.4M635.0 264.9 h-4.4M692.2 413.0 v-5.3M692.2 235.2 v5.3M740.3 413.0 v-5.3M740.3 235.2 v5.3M788.4 413.0 v-5.3M788.4 235.2 v5.3M836.5 413.0 v-5.3M836.5 235.2 v5.3M884.6 413.0 v-5.3M884.6 235.2 v5.3M932.7 413.0 v-5.3M932.7 235.2 v5.3M668.0 264.9 h4.4M950.7 264.9 h-4.4M111.3 719.6 v-5.3M111.3 540.0 v5.3M181.9 719.6 v-5.3M181.9 540.0 v5.3M252.6 719.6 v-5.3M252.6 540.0 v5.3M323.2 719.6 v-5.3M323.2 540.0 v5.3M393.9 719.6 v-5.3M393.9 540.0 v5.3M464.6 719.6 v-5.3M464.6 540.0 v5.3M76.1 569.7 h4.4M500.1 569.7 h-4.4M584.7 719.6 v-5.3M584.7 540.0 v5.3M655.4 719.6 v-5.3M655.4 540.0 v5.3M726.0 719.6 v-5.3M726.0 540.0 v5.3M796.7 719.6 v-5.3M796.7 540.0 v5.3M867.3 719.6 v-5.3M867.3 540.0 v5.3M938.0 719.6 v-5.3M938.0 540.0 v5.3M549.5 569.7 h4.4M973.7 569.7 h-4.4M110.0 941.5 v-5.3M110.0 764.4 v5.3M180.7 941.5 v-5.3M180.7 764.4 v5.3M251.3 941.5 v-5.3M251.3 764.4 v5.3M322.0 941.5 v-5.3M322.0 764.4 v5.3M392.6 941.5 v-5.3M392.6 764.4 v5.3M463.2 941.5 v-5.3M463.2 764.4 v5.3M74.9 793.2 h4.4M499.0 793.2 h-4.4M584.7 941.5 v-5.3M584.7 764.6 v5.3M655.4 941.5 v-5.3M655.4 764.6 v5.3M726.0 941.5 v-5.3M726.0 764.6 v5.3M796.7 941.5 v-5.3M796.7 764.6 v5.3M867.3 941.5 v-5.3M867.3 764.6 v5.3M938.0 941.5 v-5.3M938.0 764.6 v5.3M549.5 794.2 h4.4M973.7 794.2 h-4.4" stroke="#000" stroke-width="2" fill="none"/>
<text x="134.6" y="441.1" font-size="25.5" text-anchor="middle" >2</text>
<text x="178.4" y="441.1" font-size="25.5" text-anchor="middle" >4</text>
<text x="221.8" y="441.1" font-size="25.5" text-anchor="middle" >6</text>
<text x="376.2" y="440.3" font-size="25.5" text-anchor="middle" >4</text>
<text x="424.4" y="440.3" font-size="25.5" text-anchor="middle" >6</text>
<text x="472.6" y="440.3" font-size="25.5" text-anchor="middle" >8</text>
<text x="521.9" y="440.3" font-size="25.5" text-anchor="middle" >10</text>
<text x="570.3" y="440.3" font-size="25.5" text-anchor="middle" >12</text>
<text x="618.8" y="440.3" font-size="25.5" text-anchor="middle" >14</text>
<text x="691.2" y="440.3" font-size="25.5" text-anchor="middle" >4</text>
<text x="739.4" y="440.3" font-size="25.5" text-anchor="middle" >6</text>
<text x="787.6" y="440.3" font-size="25.5" text-anchor="middle" >8</text>
<text x="836.9" y="440.3" font-size="25.5" text-anchor="middle" >10</text>
<text x="885.3" y="440.3" font-size="25.5" text-anchor="middle" >12</text>
<text x="933.8" y="440.3" font-size="25.5" text-anchor="middle" >14</text>
<text x="109.5" y="969.5" font-size="25.5" text-anchor="middle" >6</text>
<text x="180.0" y="969.5" font-size="25.5" text-anchor="middle" >9</text>
<text x="249.9" y="969.5" font-size="25.5" text-anchor="middle" >12</text>
<text x="319.4" y="969.5" font-size="25.5" text-anchor="middle" >15</text>
<text x="388.9" y="969.5" font-size="25.5" text-anchor="middle" >18</text>
<text x="457.5" y="969.5" font-size="25.5" text-anchor="middle" >21</text>
<text x="583.7" y="969.5" font-size="25.5" text-anchor="middle" >6</text>
<text x="653.4" y="969.5" font-size="25.5" text-anchor="middle" >9</text>
<text x="723.4" y="969.5" font-size="25.5" text-anchor="middle" >12</text>
<text x="793.0" y="969.5" font-size="25.5" text-anchor="middle" >15</text>
<text x="863.0" y="969.5" font-size="25.5" text-anchor="middle" >18</text>
<text x="932.0" y="969.5" font-size="25.5" text-anchor="middle" >21</text>
<text x="108.0" y="44.6" font-size="25.5" text-anchor="end" >5</text>
<text x="108.6" y="197.3" font-size="25.5" text-anchor="end" >0</text>
<text x="108.0" y="272.6" font-size="25.5" text-anchor="end" >5</text>
<text x="108.6" y="425.1" font-size="25.5" text-anchor="end" >0</text>
<text x="342.4" y="72.3" font-size="25.5" text-anchor="end" >5</text>
<text x="343.1" y="220.2" font-size="25.5" text-anchor="end" >0</text>
<text x="342.2" y="275.5" font-size="25.5" text-anchor="end" >5</text>
<text x="343.1" y="423.7" font-size="25.5" text-anchor="end" >0</text>
<text x="65.1" y="580.5" font-size="25.5" text-anchor="end" >5</text>
<text x="65.5" y="728.8" font-size="25.5" text-anchor="end" >0</text>
<text x="65.1" y="802.7" font-size="25.5" text-anchor="end" >5</text>
<text x="65.6" y="951.0" font-size="25.5" text-anchor="end" >0</text>
<text x="182.2" y="482.3" font-size="29.5" text-anchor="middle" ><tspan font-style="italic">z</tspan> (mm)</text>
<text x="498.0" y="482.3" font-size="29.5" text-anchor="middle" ><tspan font-style="italic">z</tspan> (mm)</text>
<text x="813.2" y="482.3" font-size="29.5" text-anchor="middle" ><tspan font-style="italic">z</tspan> (mm)</text>
<text x="281.0" y="1013.2" font-size="29.5" text-anchor="middle" ><tspan font-style="italic">z</tspan> (mm)</text>
<text x="755.0" y="1013.2" font-size="29.5" text-anchor="middle" ><tspan font-style="italic">z</tspan> (mm)</text>
<text transform="translate(67.3 117.0) rotate(-90)" font-size="29.5" text-anchor="middle"><tspan font-style="italic">η</tspan> (mm)</text>
<text transform="translate(67.3 345.6) rotate(-90)" font-size="29.5" text-anchor="middle"><tspan font-style="italic">η</tspan> (mm)</text>
<text transform="translate(28.1 630.5) rotate(-90)" font-size="29.5" text-anchor="middle"><tspan font-style="italic">η</tspan> (mm)</text>
<text transform="translate(28.1 853.2) rotate(-90)" font-size="29.5" text-anchor="middle"><tspan font-style="italic">η</tspan> (mm)</text>
<text x="45.2" y="23.6" font-size="29.0" text-anchor="start" >(<tspan font-style="italic">a</tspan>)</text>
<text x="284.0" y="23.6" font-size="29.0" text-anchor="start" >(<tspan font-style="italic">b</tspan>)</text>
<text x="2.0" y="531.3" font-size="29.0" text-anchor="start" >(<tspan font-style="italic">c</tspan>)</text>
<text x="123.6" y="21.0" font-size="24.8" text-anchor="start" ><tspan font-style="italic">L</tspan>3</text>
<text x="353.4" y="21.0" font-size="24.8" text-anchor="start" ><tspan font-style="italic">L</tspan>6</text>
<text x="77.7" y="527.9" font-size="24.8" text-anchor="start" ><tspan font-style="italic">L</tspan>9</text>
<text x="124.6" y="65.8" font-size="24.8" text-anchor="start" ><tspan font-style="italic">S</tspan>1</text>
<text x="124.6" y="293.8" font-size="24.8" text-anchor="start" ><tspan font-style="italic">V</tspan>1</text>
<text x="362.6" y="66.5" font-size="24.8" text-anchor="start" ><tspan font-style="italic">S</tspan>1</text>
<text x="683.5" y="66.5" font-size="24.8" text-anchor="start" ><tspan font-style="italic">S</tspan>2</text>
<text x="362.8" y="267.7" font-size="24.8" text-anchor="start" ><tspan font-style="italic">V</tspan>1</text>
<text x="683.7" y="267.8" font-size="24.8" text-anchor="start" ><tspan font-style="italic">V</tspan>2</text>
<text x="98.1" y="583.8" font-size="24.8" text-anchor="start" ><tspan font-style="italic">S</tspan>1</text>
<text x="569.2" y="583.8" font-size="24.8" text-anchor="start" ><tspan font-style="italic">S</tspan>2</text>
<text x="98.6" y="797.2" font-size="24.8" text-anchor="start" ><tspan font-style="italic">V</tspan>1</text>
<text x="569.5" y="797.2" font-size="24.8" text-anchor="start" ><tspan font-style="italic">V</tspan>2</text>
</svg>
</body></html>
